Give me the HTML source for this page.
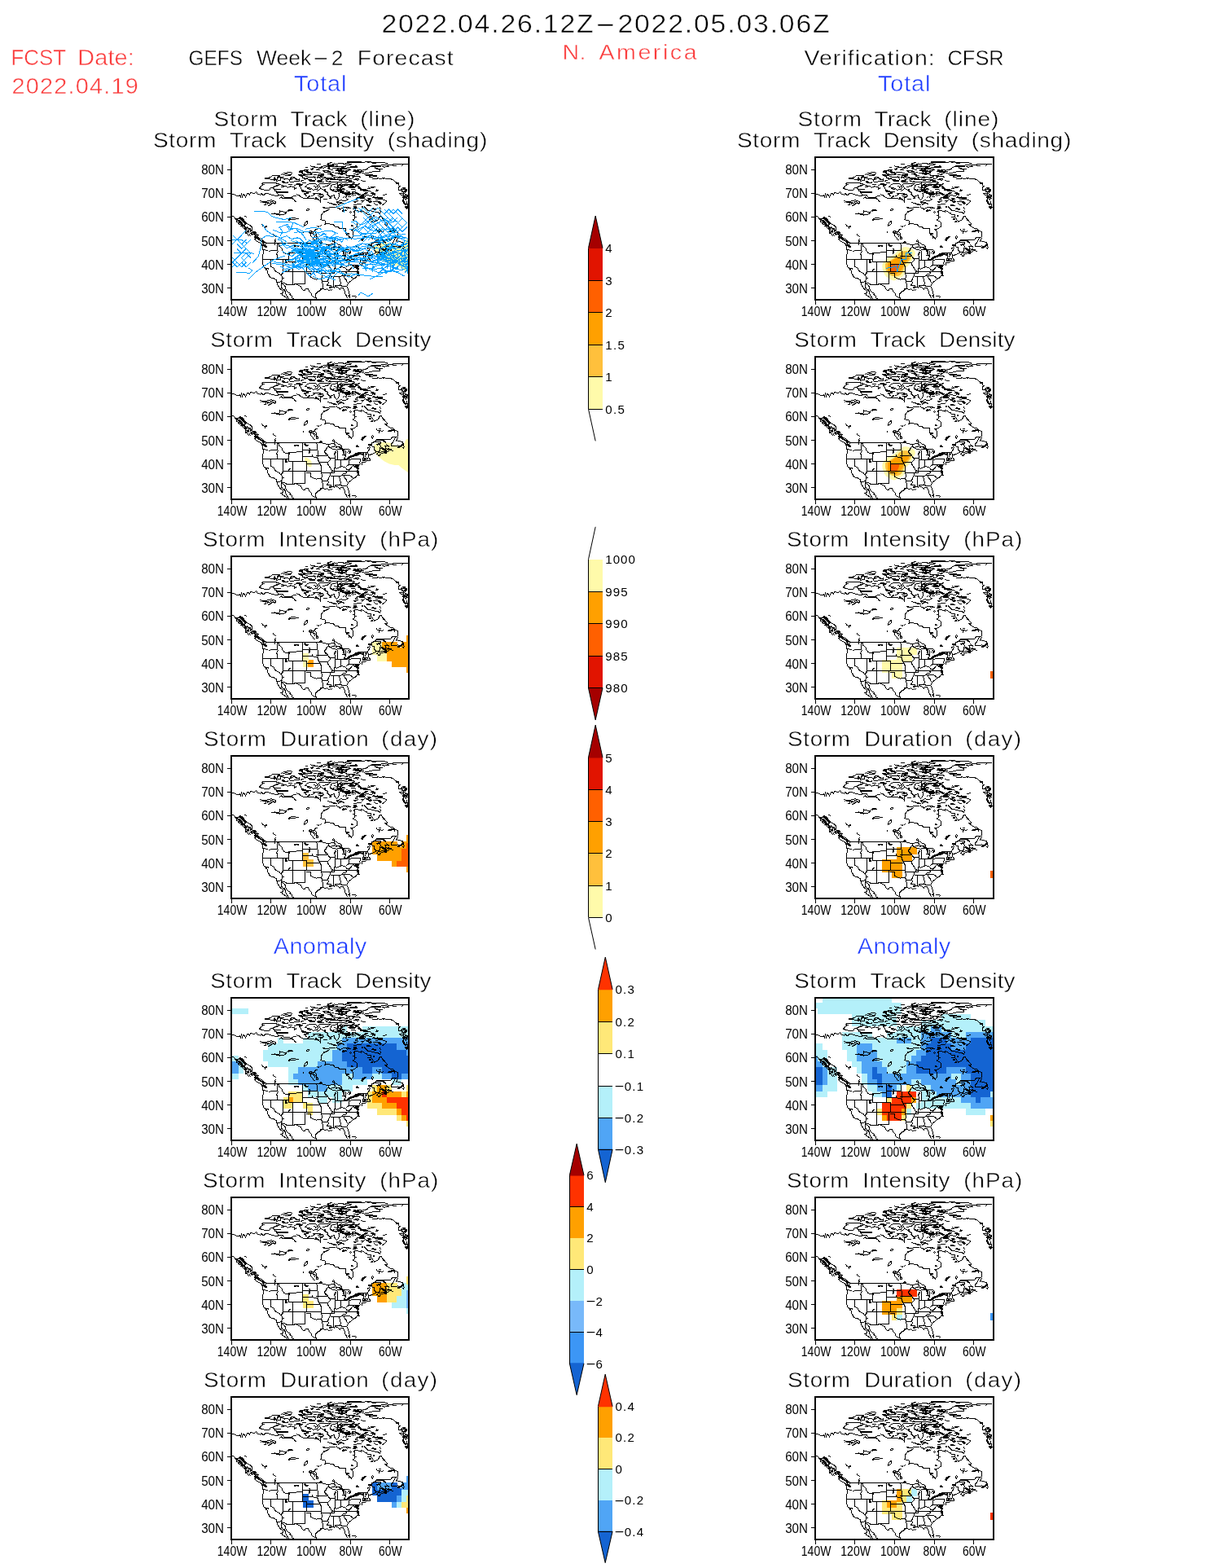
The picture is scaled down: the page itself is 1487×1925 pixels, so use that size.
<!DOCTYPE html>
<html lang="en">
<head>
<meta charset="utf-8">
<title>GEFS Week-2 Forecast - Storm Track - N. America</title>
<style>
html,body{margin:0;padding:0;background:#fff;}
body{width:1487px;height:1925px;overflow:hidden;}
svg{display:block;font-family:"Liberation Sans", sans-serif;}
text{stroke:#fff;stroke-width:0.45px;paint-order:fill stroke;stroke-linejoin:round}
text.s{stroke:none}
.fr{fill:none;stroke:#000;stroke-width:2;shape-rendering:crispEdges}
.tk{stroke:#000;stroke-width:1;shape-rendering:crispEdges}
.cl{fill:none;stroke:#000;stroke-linejoin:miter;stroke-linecap:butt;shape-rendering:crispEdges}
.st{fill:none;stroke:#000;stroke-width:1;shape-rendering:crispEdges}
.tr{fill:none;stroke:#00a0ff;stroke-width:1;stroke-linejoin:round;shape-rendering:crispEdges}
.cb{stroke:#000;stroke-width:1;fill:none}
.c{shape-rendering:crispEdges}
</style>
</head>
<body>
<svg width="1487" height="1925" viewBox="0 0 1487 1925">
<rect width="1487" height="1925" fill="#fff"/>
<g id="titles">
<text y="39.8" font-size="31.25" fill="#000"><tspan x="468.4" letter-spacing="1.70" textLength="262.1" lengthAdjust="spacingAndGlyphs">2022.04.26.12Z</tspan><tspan x="730.3" dy="-1.3" textLength="26.3" lengthAdjust="spacingAndGlyphs">-</tspan><tspan x="758.4" dy="1.3" letter-spacing="1.70" textLength="262.1" lengthAdjust="spacingAndGlyphs">2022.05.03.06Z</tspan></text>
<text y="80" font-size="26.74" fill="#fa3c3c"><tspan x="13.4" textLength="67.1" lengthAdjust="spacingAndGlyphs">FCST</tspan> <tspan x="95.2" letter-spacing="0.14" textLength="69.8" lengthAdjust="spacingAndGlyphs">Date:</tspan></text>
<text y="115" font-size="26.74" fill="#fa3c3c"><tspan x="14.4" letter-spacing="1.12" textLength="156.6" lengthAdjust="spacingAndGlyphs">2022.04.19</tspan></text>
<text y="72.7" font-size="26.45" fill="#fa3c3c"><tspan x="690.6" letter-spacing="0.14" textLength="28.9" lengthAdjust="spacingAndGlyphs">N.</tspan> <tspan x="735.4" letter-spacing="2.38" textLength="122.8" lengthAdjust="spacingAndGlyphs">America</tspan></text>
<text y="79.7" font-size="26.31" fill="#000"><tspan x="231.6" textLength="66.3" lengthAdjust="spacingAndGlyphs">GEFS</tspan> <tspan x="315" textLength="67.2" lengthAdjust="spacingAndGlyphs">Week</tspan><tspan x="383.3" dy="-1.1" textLength="21.3" lengthAdjust="spacingAndGlyphs">-</tspan><tspan x="406.8" dy="1.1">2</tspan> <tspan x="438.8" letter-spacing="0.98" textLength="119" lengthAdjust="spacingAndGlyphs">Forecast</tspan></text>
<text y="79.7" font-size="26.31" fill="#000"><tspan x="987.4" letter-spacing="1.04" textLength="161.5" lengthAdjust="spacingAndGlyphs">Verification:</tspan> <tspan x="1163.5" textLength="69.2" lengthAdjust="spacingAndGlyphs">CFSR</tspan></text>
<text y="111.9" font-size="26.74" fill="#1e3cff"><tspan x="360.9" letter-spacing="0.82" textLength="65.4" lengthAdjust="spacingAndGlyphs">Total</tspan></text>
<text y="154.9" font-size="26.02" fill="#000"><tspan x="262.4" letter-spacing="0.82" textLength="79.4" lengthAdjust="spacingAndGlyphs">Storm</tspan> <tspan x="356.5" letter-spacing="0.23" textLength="70.4" lengthAdjust="spacingAndGlyphs">Track</tspan> <tspan x="442.3" letter-spacing="0.87" textLength="68.1" lengthAdjust="spacingAndGlyphs">(line)</tspan></text>
<text y="180.9" font-size="26.02" fill="#000"><tspan x="187.9" letter-spacing="0.59" textLength="78.1" lengthAdjust="spacingAndGlyphs">Storm</tspan> <tspan x="282" letter-spacing="0.20" textLength="70.3" lengthAdjust="spacingAndGlyphs">Track</tspan> <tspan x="367.8" textLength="91.4" lengthAdjust="spacingAndGlyphs">Density</tspan> <tspan x="475.7" letter-spacing="0.63" textLength="123.3" lengthAdjust="spacingAndGlyphs">(shading)</tspan></text>
<text y="1171.3" font-size="26.74" fill="#1e3cff"><tspan x="335.8" letter-spacing="0.30" textLength="114.7" lengthAdjust="spacingAndGlyphs">Anomaly</tspan></text>
<text y="425.8" font-size="25.73" fill="#000"><tspan x="258.2" letter-spacing="0.59" textLength="77.3" lengthAdjust="spacingAndGlyphs">Storm</tspan> <tspan x="351.6" textLength="68.4" lengthAdjust="spacingAndGlyphs">Track</tspan> <tspan x="436" letter-spacing="0.11" textLength="93.5" lengthAdjust="spacingAndGlyphs">Density</tspan></text>
<text y="670.8" font-size="25.73" fill="#000"><tspan x="249" letter-spacing="0.54" textLength="77" lengthAdjust="spacingAndGlyphs">Storm</tspan> <tspan x="342.2" letter-spacing="0.45" textLength="107.8" lengthAdjust="spacingAndGlyphs">Intensity</tspan> <tspan x="466.2" letter-spacing="0.93" textLength="73" lengthAdjust="spacingAndGlyphs">(hPa)</tspan></text>
<text y="915.8" font-size="25.73" fill="#000"><tspan x="250" letter-spacing="0.66" textLength="77.7" lengthAdjust="spacingAndGlyphs">Storm</tspan> <tspan x="344.3" letter-spacing="0.44" textLength="108.8" lengthAdjust="spacingAndGlyphs">Duration</tspan> <tspan x="468.3" letter-spacing="1.26" textLength="70.1" lengthAdjust="spacingAndGlyphs">(day)</tspan></text>
<text y="1212.8" font-size="25.73" fill="#000"><tspan x="258.2" letter-spacing="0.59" textLength="77.3" lengthAdjust="spacingAndGlyphs">Storm</tspan> <tspan x="351.6" textLength="68.4" lengthAdjust="spacingAndGlyphs">Track</tspan> <tspan x="436" letter-spacing="0.11" textLength="93.5" lengthAdjust="spacingAndGlyphs">Density</tspan></text>
<text y="1457.8" font-size="25.73" fill="#000"><tspan x="249" letter-spacing="0.54" textLength="77" lengthAdjust="spacingAndGlyphs">Storm</tspan> <tspan x="342.2" letter-spacing="0.45" textLength="107.8" lengthAdjust="spacingAndGlyphs">Intensity</tspan> <tspan x="466.2" letter-spacing="0.93" textLength="73" lengthAdjust="spacingAndGlyphs">(hPa)</tspan></text>
<text y="1702.8" font-size="25.73" fill="#000"><tspan x="250" letter-spacing="0.66" textLength="77.7" lengthAdjust="spacingAndGlyphs">Storm</tspan> <tspan x="344.3" letter-spacing="0.44" textLength="108.8" lengthAdjust="spacingAndGlyphs">Duration</tspan> <tspan x="468.3" letter-spacing="1.26" textLength="70.1" lengthAdjust="spacingAndGlyphs">(day)</tspan></text>
<text y="111.9" font-size="26.74" fill="#1e3cff"><tspan x="1077.9" letter-spacing="0.82" textLength="65.4" lengthAdjust="spacingAndGlyphs">Total</tspan></text>
<text y="154.9" font-size="26.02" fill="#000"><tspan x="979.4" letter-spacing="0.82" textLength="79.4" lengthAdjust="spacingAndGlyphs">Storm</tspan> <tspan x="1073.5" letter-spacing="0.23" textLength="70.4" lengthAdjust="spacingAndGlyphs">Track</tspan> <tspan x="1159.3" letter-spacing="0.87" textLength="68.1" lengthAdjust="spacingAndGlyphs">(line)</tspan></text>
<text y="180.9" font-size="26.02" fill="#000"><tspan x="904.9" letter-spacing="0.59" textLength="78.1" lengthAdjust="spacingAndGlyphs">Storm</tspan> <tspan x="999" letter-spacing="0.20" textLength="70.3" lengthAdjust="spacingAndGlyphs">Track</tspan> <tspan x="1084.8" textLength="91.4" lengthAdjust="spacingAndGlyphs">Density</tspan> <tspan x="1192.7" letter-spacing="0.63" textLength="123.3" lengthAdjust="spacingAndGlyphs">(shading)</tspan></text>
<text y="1171.3" font-size="26.74" fill="#1e3cff"><tspan x="1052.8" letter-spacing="0.30" textLength="114.7" lengthAdjust="spacingAndGlyphs">Anomaly</tspan></text>
<text y="425.8" font-size="25.73" fill="#000"><tspan x="975.2" letter-spacing="0.59" textLength="77.3" lengthAdjust="spacingAndGlyphs">Storm</tspan> <tspan x="1068.6" textLength="68.4" lengthAdjust="spacingAndGlyphs">Track</tspan> <tspan x="1153" letter-spacing="0.11" textLength="93.5" lengthAdjust="spacingAndGlyphs">Density</tspan></text>
<text y="670.8" font-size="25.73" fill="#000"><tspan x="966" letter-spacing="0.54" textLength="77" lengthAdjust="spacingAndGlyphs">Storm</tspan> <tspan x="1059.2" letter-spacing="0.45" textLength="107.8" lengthAdjust="spacingAndGlyphs">Intensity</tspan> <tspan x="1183.2" letter-spacing="0.93" textLength="73" lengthAdjust="spacingAndGlyphs">(hPa)</tspan></text>
<text y="915.8" font-size="25.73" fill="#000"><tspan x="967" letter-spacing="0.66" textLength="77.7" lengthAdjust="spacingAndGlyphs">Storm</tspan> <tspan x="1061.3" letter-spacing="0.44" textLength="108.8" lengthAdjust="spacingAndGlyphs">Duration</tspan> <tspan x="1185.3" letter-spacing="1.26" textLength="70.1" lengthAdjust="spacingAndGlyphs">(day)</tspan></text>
<text y="1212.8" font-size="25.73" fill="#000"><tspan x="975.2" letter-spacing="0.59" textLength="77.3" lengthAdjust="spacingAndGlyphs">Storm</tspan> <tspan x="1068.6" textLength="68.4" lengthAdjust="spacingAndGlyphs">Track</tspan> <tspan x="1153" letter-spacing="0.11" textLength="93.5" lengthAdjust="spacingAndGlyphs">Density</tspan></text>
<text y="1457.8" font-size="25.73" fill="#000"><tspan x="966" letter-spacing="0.54" textLength="77" lengthAdjust="spacingAndGlyphs">Storm</tspan> <tspan x="1059.2" letter-spacing="0.45" textLength="107.8" lengthAdjust="spacingAndGlyphs">Intensity</tspan> <tspan x="1183.2" letter-spacing="0.93" textLength="73" lengthAdjust="spacingAndGlyphs">(hPa)</tspan></text>
<text y="1702.8" font-size="25.73" fill="#000"><tspan x="967" letter-spacing="0.66" textLength="77.7" lengthAdjust="spacingAndGlyphs">Storm</tspan> <tspan x="1061.3" letter-spacing="0.44" textLength="108.8" lengthAdjust="spacingAndGlyphs">Duration</tspan> <tspan x="1185.3" letter-spacing="1.26" textLength="70.1" lengthAdjust="spacingAndGlyphs">(day)</tspan></text>
</g>
<g transform="translate(284,193)">
<polygon points="217,100.9 214.6,101.4 212.9,104.7 211.9,108.4 208.1,110.6 203.8,109.5 199.5,107.9 195.7,105.7 190.9,105.2 184.4,104.9 178,106.3 175,108.4 175.3,114 175.8,117 178,120.2 182.3,124 187.7,128.3 194.1,131.5 200.6,132.9 205.4,133.1 209.2,136.4 213.5,139.6 217,142" fill="#fffaaa"/><polygon points="90.2,123.5 93.4,124.3 97.2,126.7 98.8,129.4 98.8,134.2 97.2,135.6 95.1,134.8 92.9,133.1 91.3,132.6 91,129.4 90.2,126.7" fill="#fffaaa"/>
<path class="cl" stroke-width="1" d="M.8 45.1l2.2 0 1 1.1 1.6.2.9 1.1 3.5 0 .8-1.2.8 2.4 1-3.2.8 3.2 1.1-3.2 1.6.8 1.4 2.4 1.9-3 .2-1.2 1.9.2.8 1.7 1.4-2.8 2.1-.3.6 1.1 2.1 0 1.9-2 1.1 1.2.8 1.9 2.7.2.5.8 1.6-2.1 1.6 2 1.6.1 1.4-2 4-.1.8 1.1 1.9.1 1.1.8 3.2 0 .8 1.1 3.5 0 .8-1.1 5.7 0 .8 2 .8.6 7 0 1.1.5 2.1-.8 1.1-1.1 3.6 0M59.2 50.6l2.7-1.9.5 1.6 11.8 0 2.2 1.1 2.1 2.9 1.5.3M34.4 38.3l1.1-1.2 2.2-2.7 1.8-.9-1.8-1 .8-1.3 16.4 0 .5 1 2.4.3 1.4 1.4-2.2 1.3-3.2.6-2.2 1.2-3.2.4-1.1 2.1-.8 1-6.2 0-.8-.8-2.4-.3-1.3-1.1-1.4 0M51.1 37.1l1.6 2.7 1.1 1.6 1.6.6 1.1 2.7 1.3 1.6M51.6 37.1l2.2-1.6 3.2-1.1 2.2-.8 4.3.8 1.1 1.1-3.3 1.1 3.3-.3M52.2 39l7 1.1 1.6-.8M64.6 35.5l3.2.3 1.6 1.3 2.2-.5 1.6-1.1 1.6 1.1 2.1-.6 1.1 1.7-.5 1.6 2.5-1.6M76.9 34.4l3.1-.5M41.2 26.4l1.3-1.1 3.8 0 .8-1 1.9 0 1.3-2.1 9.4 0 0 1.5-1.6 1.3 6.5-.5-3.8 1.3-.5 2.7-4.9.8 1.1-2.4-2.7 1.1-1.3.5-.9-1.3-3.2.2-1.1-1.3-6.1.3M51.9 26.4l1.4-1.5 1 1.2-1.3 1.3-1.1-1M61.3 21.5l1.1-1.1 1.1.9 2.7.9 6.4 0 .6-1.5 1.6-1.3-2.7-1.1-2.2.5-4.8.5 1.6.9 3.2.1M60.8 25.3l3.8 1.1 4.8.2 1.6 1.4 1.1-1.4 2.1-2.1 2.7 0 3.1 2.9M71 28l0 1.9 3.8.5 5.2-1.1M61.9 29.3l1.6 1.9 6.4 0 0-1.1M35 53.4l1.9 0M36 55.4l2.7-1.1 4.9.1 1.1-1.1 3.2 0 1.1-1.1 1.6 1.1 4 1 0 2.2-.8 1.1-1.1-1.4-2.7-.2-.5 1.8-2.7.6-1.1 1.3M40.1 58.4l2.4-.3.5-2.1 2.7-.6-1 1.6 3.2-.5 1.1-2.7 2.6 1.6M139.2 8.1l4.3-.6 4.3 1.4-4.3.5M117.7 9.7l8.6-.6 7.5-1.6 5.4.6M149.9 11.3l4.3-.5M105.3 15.6l2.7-2.7 3.2-1.3 6.5-1.9M112.3 14l2.7-1.9 3.7-.5 2.2 1M83.2 17.2l3.8-1.1 5.4 1.4 5.4 1.1 1.6 2.4-8.1.3-4.3-1.4-1.6-1.9-2.2-.8M101.5 18.6l3.2-.3 4.4 1.6 5.3.8M112.3 16.1l8.6 1.1 1.1 1.6-7-.2-2.7-2.5M130.6 17.8l8.6 0M149.4 17.2l10.6-1.6M149.9 20.4l5.4 1.1 4.7-3.7M82.2 21.5l4.3 2.2M120.9 21.5l6.4 1.1M119.8 20.4l6.5-2.6M94 24.7l7.5-.5 2.2 2.7-1.1 2.4-6.5 0-2.1-2.4M80 27.4l3.8-.5-.6 2.2-3.2.5M85.4 29.6l3.2-1.6M105.3 24.2l2.7.5 2.1 2.2 2.2 1.1M106.9 28l5.4.5M113.4 24.7l4.3 1.1 6.4 2.2M123 23.7l5.4 1 5.4-.5 7.5 1.1 3.3-.6M124.1 27.4l7 .6 15.1-1.1 2.7-1.1 1-2.7-8.6-.5M115.5 26.9l1.1 2.7 5.4 1.1 8.6.2 3.2-.8 6.5 1.1 7.5-.5-1.1-1.6-2.1 1M141.3 22.6l10.3.5-1.1 2.2M107.4 33.4l1.7-1.1 12.9 0-4.3 3.2-5.4 1.1M107.4 33.4l1.1 3.2 1.6 2.1 4.3 2.2 3.3 2.1M80 33.9l7-.3-1.1 1.4-2.7-.6 2.2 3.3 1.6 3.2 1.6 1.6 9.2 0M90.2 36.6l2.7-2.7 4.3-1.6 6.5 0 1.6 2.1 1.6 2.7-1.6 2.2-4.9 1-2.6-2.1-3.8-1.1-3.8-.5M101.5 35l2.7 1.6-.5 1.1M121.4 38.7l1.1-3.7 2.2-1.6 5.3-.6 1.6 2.7-1 4.3M130 30.1l1.1 12.9M136.5 33.4l15.1-.3 3.7 1.9 4.7 3.7M104.7 42l4.4-2.7M115 42l3.7 1.6-1 1.6 4.3 4.3 1-2.2 3.3-.5 1 3.8 2.2 2.1 2.1-2.1 1.1-3.3-1.1-3.2 6.5-.5 9.7.5 1.1-2.1 1 2.1 5.4 1.1 4.7 3.2M139.2 45.7l3.2 1.1-2.1 2.7 2.6 2.1-2.6 2.2-5.4-1.1-5.4 2.2 2.1 3.2 4.4-2.1 3.2 2.1M80 45.7l3.2 1.1 1.6 1.6 4.3 2.2 12.4 0 2.2 1 2.1-1 3.3 3.7 0-5.9 4.3-.5-1.1-2.2-5.4-1-3.8 0-3.2 2.6-1.6 0M90.8 44.7l1.6 3.7M95.1 47.3l1.6 0M118.2 55.4l3.8 1.1 3.2 1.6 4.3 1.1M146.7 47.3l2.7-2.6 0 3.2M152.1 51.6l3.2-2.1 4.7 1.1M152.1 51.6l3.2 1.7M149.9 59.2l2.7-1.1 7.4-.5M160.2 6.5l3.2 0 1.1-1.1 6.5 0 .5 1.1 13.5-.2 5.9 1 1.6 2.1 5.4.3.5-1.1 15.1 0 3.2.3M198.4 10.2l4.3.3M209.2 10.5l1.6-1.1M184.4 10l6.5-.3 2.1 1.9-5.3.5-2.2-.8M160.2 16.1l3.8-.5 6.4-3.8 2.2-1.3M163.4 20.4l2.2-1 7-.8 1.1-1.1 8.6-.3 0-1.6-1.6-.8 4.8-.5M173.1 26.4l6 0 1-1.1 1.1 1.1 3.8-.3 1-.8 1.1 1.3 1.1-1.3 1.1 1.1 6.4 0 1.1 1 2.2.3 2.6 3 3.3 1 1.1 3.3 1.6.5-2.2 1.6 0 3.2 1.6.6 2.2-2.2 1.6-1 4.8 2.1M207.6 39.8l2.1.5-.5 2.2 5.4 0-2.7 2.2-4.9 0 1.1 1.6 2.7 0M160.2 39l4.9.8 3.7 1.6 3.3 1.1M173.7 48.4l4.3 1.1 4.3.5 4.3 2.2 3.7 1.1.6 1-3.2 2.7-2.7 2.2M160.2 47.9l2.2.5 2.1 3.2 3.3 2.2 3.7 1.1M159.7 56.5l2.7-3.2 2.1-.6M166.1 52.7l2.2-.5 3.2 1.6 1.1 1.1-3.8.5M174.2 54.9l3.8 0 4.3 0 2.7 2.1M175.3 56l1.6 2.1 3.2.5M.8 72.4l1.9.2 2.1 2.5 4.3.2 2.2-1.9 1.6 1.1 3.2 3.3 2.7 3.7 3.8 1.6 2.7 2.7.5 3.3-1.1 1 2.2 1.6 2.2-.5 2.1 3.2 1.6 2.7-.5 1.6 3.2 1.1 2.2 1.1 2.1 1.6 2.2 2.7.5 2.1M28 100.3l3.2 2.7 3.2 1.7 2.7 1.6.6 2.1M17.2 90.7l3.2-.3-1.6 1.9 2.7 4.3M17.2 90.7l0 2.7 2.2.5M16.1 72.1l2.7 1.1M37.7 108.4l1 3.2.6 2.2.5 3.2-1.1 3M37.7 113.3l3.7 0 1.1 1.6 5.4.2 1.1-1 7.2 0M42.5 105.5l37.5 0M56.2 105.5l0 8.6 1.4 1.3-2.2 3.2.6 1.4M57.8 105.7l.8 3.3 3.3 2.6 1 3.3 2.2 2.7 1.6.8 3.2 0 1.1-1.4 9 0M71 117l0 3M37.1 82.1l1.6 2.1 2.7 1.6 1.6-1.3 1.1 1.1M41.4 85.8l0 1.9M51.1 94.2l.5 1.6 3.3 1.6M54.9 100.1l-1.6 1.9 1 1-1 1.7 0 2.9M49 69.6l4.3-.2.5-.8 1.6 1.4 3.2 0 1.1-1.9-.5-2.7 1.6 1.3 2.7-.2 1.1 1 3.2 0 1.6-2.1 2.7-1.1 3.8 1.1M59.2 71.3l1.1-1.3 4.3.2 2.6-1.6 1.1-1.1M69.9 77.2l2.2-1.6 2.1-1.3 2.7 0 3.1 1M72.1 76.1l3.2.3 4.7-.5M112.3 61.3l2.7 1.1 4.3.3 2.1-1.4 6.5-.2M120.3 62.7l-.5 1.6-2.1 1.1-3.3 1.6-2.1 1.6-1.9 3 0 4.5-1.3.3M110.4 76.1l1.3 1.4 2.7 0 1.1 1.3 0 3.3-1.1.2M115.5 82.1l1.6-.6 3.2 0 1.1.8 3.3 0 1 1.1 1.6 1.6 3.3.3 2.1 2.1 8.1.3 0 5.7 1.1 2.1 2.7 1.6-.3 2.2 1.3-1.6 1.6 2.6 1.1-1.6 1.1-1-.5-1.7.5-1-.5-4.9-1.7-1-.5-.9 2.7 0 2.7-1.3 2.1-1.6.6-3.2-1.1-2.7-1.6-.8-2.2-1.4 1.7-1.6 0-2.2 2.1 0M151.6 73.4l0-1.8-2.2 0M151.6 71.6l0-3.5-1.1-.8 1.6-1.9 2.1.5 3.8.3 1.1 1.1.9-1.9M129.5 60l.5 2.2 2.2.5 1.6 1.6 1.6-1.6 2.7-1.1 6.5 0 1 .8-3.2.8-1.6-1M136.5 65.9l1.6-1.3 1.6.8 1.1-1.1.5 1.1-4.8 1.1M145.4 67.5l1-1 1.1 1-1.1 1.1-1-1.1M92.1 64.6l1.3-1.1 2.2 0 0 1.3-1.6.8-1.6-.2-.3-.8M89.1 84.2l1.1-2.7 1.1-1.9 2.1-1 .3 1.8-1.1 2.2-1.8 1.1-1.7.5M105.3 84.5l1.6 1.1 1.1-1.1M109.3 84.5l1.4-1.4M95.3 92.8l.8-2.1 1.7-.3 1 1.3 2.7 0 1.6-2.6 1.1-1.1 1.6.5M103.1 89.1l-.5 2.1 1.1 1.6 1 1.6.3 3.3 1.9 1-.3 1.6-1.9.6-.2-3.2M97.2 94.4l.6 2.7 2.1 1.6 1.1 2.2 1.6.5M98.3 93.4l3.2 1 2.2 1.1M99.9 92.3l1.6 2.7 1.6 2.7M80 105.5l29.3 0M111.7 106l3.3.8 2.7.8 2.1.3M119.8 107.9l3.2-1.1 2.7-.5 1.1-1.6-1.3-1.7M124.4 102.8l1.1-1.4 1.3 1.4-1.3 1-1.1-1M126.8 104.7l2.7 1 1.1 1.1 3.2 1.1 1.1 1.1.5 2.6-1.1 1.7M125.7 106.3l1.6 1.6 1.1 2.1 3.2.6 2.2 1M119.8 107.9l-.5 2.1 1.6 1.6 2.1 1.1 2.7.6 2.7 1 2.2-.5 3.2-.5 2.2.5 3.2-.5 5.4.5 1.6 1.6.5 2.2-2.1 1M122 111.1l3.7-.3 1.1-1.3M128.4 111.6l5.4-1.6M119.3 110l-2.2 1.6-.5 2.2-1.6 1.6-.6 1.6 1.1 1.6.5 1.4M127.3 116l1.1 1-1.1 3M130.6 114.9l-.6 5.1M137 116l1.6 1-.5 3M140.3 115.4l.5 4.6M143.5 114.9l2.1 2.1-1 1.6M87.3 105.5l0 14.5M80 116.9l7.3 0M87.3 114.3l18 0M104.5 105.5l.8 2.9.5 5.9 1.1 2.2 0 3.5M160.2 65.5l2.7 1.5 1.1 1.3 2.1.3 1.1 1.6 4.3 0 .3 3.8 1.3 1.3 1.6 2.5 1.1 1.3 1.1-.8 3.2-1.1 1.1-2.1 1.1-2.2 2.1-.3 1.1 2.5 2.2 2.1 1.6 2.2 1.6 1 .5 1.7-2.7.5 2.2 1.6 1.6 1.1 1.6 1.6 2.7.5 2.7.8 1.6 1.9 2.7 1.1 1.1 1.6-.6 1.6.6 2.7-1.1 1.1-2.2 0M200.6 90.1l0 2.7M201.6 98.2l-3.7.3-2.2 2.7-2.7.2-13.9 0-1.7 1.6M177.4 103l-2.1 1.7-2.7.5-.5 2.1-3.8 0M201.6 98.7l-1 2.2-1.1 2.1-1.1 2.2-1.6 1.6-.5 2.2 2.1.2 5.4 0 .5-.8 1.1 1.1 2.7-.5 1.6-1.7 1.6-.5-1-2.1-2.7-.9-3.3-.2-.5-1.1-1.1.5 1.1-2.1.5-2.2M209.7 110.6l1.6 1.6 1.1-1.6-1.1-2.2M179.1 103l3.2-.5 3.2 0 2.2 1.1 2.1 1.6M173.7 106.3l1.6-1.6 2.7-.6 4.3.3 1.6.8-.5 1.6-2.2.5-2.7.6M172.1 107.3l.5 2.7 2.7.3.5 4 1.6 1.7 3.8.2 1.6-1.3-.5-2.2 1.1-2.1-.6-2.2M188.7 110.6l2.2-1.4 1.1.3M184.4 116l3.3 1 3.2-.5 2.1-.5 1.7-2.2M178 120l2.1-2.4 4.3.5M182.3 119.7l3.2-1.1M172.1 107.3l-1.7 2.2-1.6 2.1-1.6 1.1M170.4 111.1l-1.6 3.8-1.6 2.1-7 .3M162.4 117.6l.5 2.4M165.6 118.1l.5 1.9M172.1 97.9l1.3-1.6 1.3 1.6-1.3 2.4-1.3-2.4M178 88.2l1.3 1.9 1.9.8.5 1.6 1.1-1.8 2.2.8 1.9-1.1M180.7 89.1l1.6-.9 1.6.3M162.9 60.5l3.2 2.7 2.2 2.2 3.2.5 4.3 1.1 3.3.5 3.2 1.6 1.6-2.6-1.6-1.1M182.3 61.1l1.1 3.2M39.5 117l0 1.9-1 .5 0 5.7M38.5 125.3l0 6.2 1 .8 0 2.2 1.4 1.1 1.6 1.6.5 1.3 1.4.8 0 3 1.1 1.6.8 1.1 1 2.1 1.7 1.1 2.6 0 1.7 1.6 2.1 1.1.3 2.7.8.5 0 2.4 1.3 1.7 1.4 2.4 1.6 1.6 2.1 1.6.6 2.2-1.1 1.3-2.1 0M62.4 167.3l.3 1.9 1.9 1.1 2.1 1.6 1.9 1.9M43.6 136.1l1.9.5.2 1.1M43 137.4l1.1 1.1M38.5 125.3l31.4 0M48.4 125.6l0 8.9 3.2 1.1 1.7 2.9 1 1.6 2.7 1.6 2.2 1.1 1.6 2.2M63.8 125.6l0 15.1M63.8 140.7l-3 4.3 1.6 1.3.3 1.9 1.1.3-1.4 1.3-.5 1.6-1.6 1.6M55.7 153.6l4.6-.6M56.5 117l-1.1 1.6 1.1 1.1 0 5.6M64.6 117.5l2.1.8 3.8 0M70.5 118.3l0 10 9.5 0M75.6 128.6l0 27.4M64 140.4l16 0M61.3 154.1l3.8 0 3.2 2.4 9.2 0 .5-1 2 0M61.3 155.5l.3 4.5 1.3 1.7 2.2 1.6M61.9 155.5l2.7 1 2.1 3 .3 2.2.8 2.1 2.1 2.2 2.7 1.3-1 1.1 2.6 1.9.6 2.7 2.1.8M65.1 163.3l1.6 2.1 0 2.2 1.6 2.7 1.6 2.7.6.8M87.5 117l0 11.3M80 128.3l12.4 0M87.5 122.4l11.9 0 2.1.8 3.8.3 1.1 1.6.5 2.1 1.1 2.2 1.3 2.1.8 2.2.3 7M92.4 128.3l0 12.1M92.4 131.5l16.1 0M80 140.4l30.4 0M110.4 140.4l.3 1.9M90.8 140.7l0 14.8-10.8 0M92.1 142.3l5.1 0 .6 5.4 1.6.5 2.1 1.1 2.7.8 1.6-.3 2.7-.5 1.9 0M110.4 142.3l.8 2.7.3 2.1-1.1 2.2 1.3 2.7 0 2.7 1.1 2.1-.5 2.7.5 1.6M110.7 142.3l11.3 0M111.7 152.2l7 0M99.4 120.2l.2 1.9M106.4 117l0 4-1.1.6 1.6.8M106.4 121.2l11.3 0M114.4 117l2.2 2.2 2.1 2.1 1.1 2.2 1.6 1.6-.2 1.6-1.9 1.9-1.6 1M108 129.6l9.7 0M117.7 129.6l1 2.5 2.2 3.2 2.1 3.8 1.7 1.6M120.9 124.5l6.4 0M127.3 117l-.5 2.2.5 3.2 0 2.1 0 11.3-1 1.1.5 3.2-.5 3.3M124.7 140.7l-2.7 2.1-1.1 3.3-1.1 2.6-1.1 2.7.6 3.3-1.6 2.4 3.2.2 1.6.6.5 2.1M112.8 161.1l2.7 1.6 2.2-1 1.6 1.6 2.7-.6M123 160l2.7-.5 1.6 1.1M80 155.7l2.7 1.6 2.7 1.7 1.6 3.2 1.6 1.3 1.6-.2 1.1-1.6 3.2 0 1.6 3.2 2.7 2.7 0 2.1 1.6 1.6 2.7 1.1 1.6 1.1M104.7 173.5l-1.6-3.8.6-2.1 2.7-2.7 2.7-1.1 1-2.1 2.7-.6M125.7 147.1l0 12.4M122 146.1l13.4 0M122 142.3l4.8 0M126.3 140.9l29 0M132.2 146.3l1.1 4.1 1 3.7-.5 3.2M127.3 157.3l6.5 0M133.8 157.3l2.7 1.1 4.8.6 1.1-1.1M127.3 157.3l1.1 1.7 2.7 1 2.2 2.2 1-1.6 2.7-.6M137 160l1.6 2.7 1.1 2.7 0 2.2 1.6 2.1 1.1 3.8M142.4 159l1.1 3.7 1.1 2.7.5 3.2.5 2.2 0 2.7M148.3 170.3l3.8 0 1.6 1-1.6 1.1M135.4 146.1l2.7-1.1 5.4 0 3.2 1.1 2.7 3.2 2.2-.6M138.1 146.3l1.6 3 1.6 1.6 1.1 2.7 1.1 1.1M143.5 154.7l-1.1 3.2M155.3 145l-2.1 2.1-1.6 1.6-2.2 1.1-2.7 2.2-3.2 2.7M127.3 135.8l2.2 1.6 2.1-1 2.2-1.1 1.1-.5M134.9 126.7l0 8.1M127.9 126.7l11.3 0M134.9 134.8l4.3.5 1.6 1.6 1.1 1.6 2.7.6 2.1-2.2 2.2-2.7 1-1.1M140.8 135.3l2.1-2.2 3.3-.5M144.6 126.1l0 6 12.9 0M144.6 126.1l13.4-.5M158 125.6l1.1 1.6-1.6 2.2 1 2.7M139.2 140.7l2.7 1.6-1.1 1.1-3.8.5-2.1 2.2M149.9 133.1l1.1 1.7 3.2 1.6 1.1 2.1M156.4 145.5l1.6 0M130.6 117l0 8.6M136 120.2l3.2.6 1.1 1.6-1.7 2.1.6 2.2M138.1 117l-1.1 2.2M142.4 117l-.5 1.6M162.4 117.5l0 6.5-1.1 1.6 0 2.2M162.4 118.1l5.4-.6.5 3.8.5 2.7 1.1 1.6 1.1 1.1-1.6 1.1-3.3 0-1.6 1.8-3.7 0-.6 3M168.3 121.3l3.2-1.3 4.3-1.7 2.2-1.3M164 119.2l2.1.5-1.6 1.6-.5 1.6M162.9 124l4.3 0 .6 1.6M179.3 118.6l1.4 2.7 1.6 0 1.1-2.1 3.2-1.1 4.3-.6M118.2 20.4l5.7-.1M122.6 21.1l2.8 0M132.4 26l2.4-.3M137.5 8l5.9 1.9M134.3 21.8l2.6-.9M124.3 8.4l2.7-.5M84.4 18.1l3.8.9M123.5 22.4l4 .4M118.6 13.7l6 2.1M149.2 24l3.3-.6M105.1 8.7l5.1-.4M149.7 16.3l5.9 1.4M154.8 18.3l5.9-.4M87.8 22.1l5.2-.8M89 15l5.8 1M91.4 12.9l2.4-.7M145.8 11.3l4.2-.2M97.3 24.6l2.5.2M91.3 17.1l2.9-.5M106.3 28.2l2.9-.2M150.4 22.4l2.4.8M99.1 13.2l5.1-.6M105.7 8.8l2.4.1M101.4 21.4l3.5-.1M158.7 18.6l4.3 1.1M96.6 10.7l5.7 1.3M102 11.6l4.9 1.5M152.6 21.5l3.7-1M101.1 23.9l3 .7M129.7 14l2.7.5M126.7 27.5l4.5-.7M117.7 8.5l2.7-.3M127.8 10.2l3.4.9M137.3 21l2.6-.8M83.7 22.3l3.9.6M88 20.1l5 1.4M141 23.9l5.1 1.5M110.1 23.4l5.7 1.5M115.4 26l5.4.3M132 16.2l4.3.3M88.4 22.3l6 1.6M140.3 16.3l4.9.3M117.2 27.1l2.4.4M84.4 21.4l3.9-.7M137.9 18.9l4.4 1.3M106.1 23.3l2.8-.7M154.5 22.8l3.7 1.1M108.2 23l2.8-.2M152.4 16.2l4.4-.5M92.9 18.9l5.3 1.3M138.9 29.8l3.1-.7M118.1 13.6l2.8-.2M132.1 18.9l3.2.7M160.6 17.9l2.3-.8M138.7 20.7l3.2.7M118.4 7.6l5.3-1M132.3 17.7l4.6.5M136.8 11.8l3.9-.9M82.9 18.3l4.8-1.1M103.8 15.3l4.8.1M131.2 25.1l3.5.8M156.6 24.3l2.5 0M132 28.8l3.6.2M152.3 26.1l5.8-.1M134.1 11.9l4.9 1.1M133.3 24.2l2.9.8M125 26l3.2.9M150.5 15.4l2.3-.1M126 25.4l4-1.3M146 11.1l3.3.7M86.9 31l5.4.7M111 26.9l5.8-1.7M70.4 27.5l3.2.5M93.8 27.4l5.4.2M75.5 24.9l5.3 1.5M69.7 33.3l5.8.1M90.1 21.6l4.1 0M91.9 18.5l5.9.1M80.4 32.4l4.3 0M96.7 19.2l4.2-.3M73.1 26.5l2.5-.1M84.7 23.7l2.8.2M68.9 22.1l4.7-.6M77.9 29.2l2.4.3M64.9 27.2l3-.6M87.7 25.9l3.5-.3M87.6 20.9l2.9.2M93.8 27.5l5.4.5M106 22.2l4.9 1.1M108.5 23.7l3.3 1M71.4 31.1l3-.9M104.6 25.6l5.2-1.4M134.2 33l2-.5M150.9 36.6l5.9-1.6M140.3 34.1l4.1.6M143.1 30.2l4.3-1M121.1 25.3l5.3 1.8M137.7 34.2l3.3 0M140.9 28.9l4.4-1.5M152.1 35.5l2.7-.1M154.4 28.5l2.7-.7M140.8 22.2l5.5 1.2M152.3 35.8l4.5-.3M146 30.1l5.9 1.2M125.5 36.6l5 .9M158.9 28.5l5.6 1.5M151.7 34.3l5-.4M153.4 23.1l3.3 0M148.3 32l3 .9M150 27.4l4.6.2M142 28.2l6 .6M152.1 34.2l5.9-2M146.9 33.8l3.1-.2M132.5 23.6l3 .8M143 30.1l5.9.3M145.9 34.1l2.1.7M119.6 29.5l2.7 0M171.3 36.5l5.8-.3M167.3 50.5l3.4-.5M173.4 49.6l3.2.5M149.5 54.6l3.6 1M162.6 47.4l5.9-1M167.1 59.4l4.9-.1M171 38l4.5-.1M167.3 38.2l3.8.5M163.9 41.8l4.3-.2M179.3 48.8l6 1.9M177.2 41.2l2.5.7M179.6 51.2l3.5-.5M174.9 49.7l4.3.4M178.2 39.9l3 1M155 46.1l4.5-1.3M168 36.9l2.3.3M168.4 51.4l3.5 0M152.1 43.9l5 1.2M180.8 51.2l5.1-1M162.4 41.7l5.2-.5M157.6 49.3l5 1.4M162.5 44.6l2.4.6M169.1 47.6l4.7-.7M152.2 52.2l2.4-.3M176.8 53l3.1-.7M159.2 53.9l3.4-1M176 49.8l5.7 1.7M185.8 46.4l5.3-.7M157.2 45.4l5.8 1.6M153.9 44.4l3.5-.3M161 45.1l2.8.1M180.3 49.1l5.3.2M150.5 54.7l5.5-.8M143.1 48.4l4.1.2M163.1 44.4l5.2-1.6M151.3 46.6l2.3-.7M156.6 48.4l2.4.2M140 45.9l4.6-.8M142.2 46.2l4.1.8M147 39.4l5.9.7M149.8 42.6l4.9.7M161.6 40.6l5.3.6M159.9 46.9l5.3 1.4M162.8 44.2l4.1.6M158.5 40.7l3.6-.9M146.5 36.7l2.8-.2M86.8 40.9l2.4.3M132.7 38.9l2.2-.1M120.4 50.5l2.1-.5M94.8 39.5l3 .4M121.1 39.6l2.7-.4M94 48.1l3.3.1M135.3 43.7l3 .8M141.5 41.5l4.2 1.3M113.9 39.5l2.2.7M134.3 42.2l4.1 0M125.1 39.8l2 0M106.8 48.7l4.8.4M93.1 38.5l3.3-.5M138.6 44.3l4.6 1.5M100.1 44.6l2.6.4M137.2 49.2l2.3-.4M128.9 37.6l3.9-.1M144.2 45.4l5.4-.8M133.5 42.7l5.7-1.7M135.9 39.3l4.2.1M93.1 49.3l3.2-.4M87.9 40.9l3.8.6M106 47l2.4-.2M112.6 51.5l5.3.5M128.4 39.8l4.3-.1M134.2 39.3l4.4-.6M107.1 44.6l3.2-.3M108.1 46.7l3-.7M129.8 41.3l5.8.2M129.3 41.3l5.3-1.5M12.4 79l1.9 2.6M12.8 81.4l2.5 2.6M10.2 77.9l1.7.6M22.1 87.4l3 2.3M23.9 92.9l1.7 3M20.5 87.7l2.4.6M19.8 89.6l2 3.3M29.4 97.5l1.3.9M17.8 87.5l1.5 1M23.4 93.4l2.4 2.6M10.8 82.1l2.7 2.6M18.7 87.3l1.1 1.5M41.5 107.6l1.6 2.9M11.6 84l2.8 1.2M9.8 77.7l1.8 2.4M16.4 88.1l1.9 1.6M8.9 81.7l.8 1.7M25.4 93.6l2.5 1.4M37.1 106.9l2.4 2.6M9.3 81.1l1 2M14.4 84l3.3 1.4M27.1 91.9l1.5.7M40.1 109.2l2.7 1.6M29.4 98.4l1.7 1.8M36.5 99.9l1.6 1.3M11.5 80.2l2.7 1.1M25.5 91.7l2.5 1.6M30.6 94.8l3 1.2M40.2 107.1l2.2 1.6M27.8 96.7l1.9 2.8M21.8 93.4l1.7 3.2M20.9 88.8l1.3 2.7M24.9 92.9l1.1 2.4M19 84.6l1.4 3M32 99.8l2.9 1.7M28.8 93.4l1.4 1.1M24.4 91.7l1 1.3M25.8 91.9l1.9 1.3M15.9 81.9l1.4 3.5M28.7 98.7l1.4 2.2M13.2 84l1.2 2.7M8.6 80.2l1.3 1.3M41.9 104.6l1.8 1M19.1 84.8l1.9 3.2M20.8 88.2l2.8.8M5.8 78.5l1.7 1.5M38 107.7l2.5 1.1M15.2 87l3.4 1.6M36.6 102.3l2.5 1M36 106l1.3 1.5M11.6 83.5l1.6.6M32.7 98.5l1.8 3.4M32.9 97.5l1.3 2.9M23.4 88.7l1.8 1M32.6 97.6l1.7.9M29 98.4l1.5 1.8M37.5 104.6l1.8 1.1M38.8 106.3l1.4 1.7M7.6 80.7l1.9 1.8M26.6 91.3l2.6 1.5M210.7 42.2l.5 1.6M215 54l.1 2.2M210 40.7l2.1 3.4M211.4 47.2l-.8 2.3M214.9 47.8l-.2 2.9M211.8 44.7l.2 3.5M210.9 48.3l.2 3.2M215.9 58.7l1.4 3.1M214.8 50.5l-.5 2.5M211.8 55l.2 2.1M212 41.3l1.4 2.4M211.9 50.4l-.8 2.8M214.4 40.1l.2 1.6M213.2 46.4l-.4 2.1M209.7 37.9l.1 3M215.1 54.9l.6 1.8M213.2 36.9l.2 3.1M212 42.4l-.4 1.7M213.8 40l-.2 1.9M211.9 56.1l.3 1.6M214.4 44.6l2 3.4M211.4 47.9l1.7 3.6M211.4 47l.6 1.6M215.9 57.2l.7 2.4M215.4 46l-.7 1.4M212.1 54.4l.7 2M214.6 49.1l-.9 2.5M213.7 44.7l-.1 3.9M212.7 36.9l1.5 2.7M211.5 44.3l0 3.7M195 113.2l1.5 1.9M189.1 111.5l1.9.8M187.7 109.3l1.9.5M188.2 109.1l2 1.1M195.5 114.7l3.5.9M190.9 108.5l3 1.2M190 107.6l1.8.6M188.8 112.2l3.2 1M190.5 108.7l3.5 1.5M193.1 113.6l3.7.2"/>
<path class="cl" stroke-width="1.6" d="M55.4 42.8l14.5.5M56 25.3l3.2-2.2M62.4 29.6l3.2.8M37.7 54.9l5.3.2M142.4 6.2l17.6 0M124.7 11.6l16.1 0M141.9 12.6l12.9-.5M108 13.4l4.3-1M124.1 13.4l17.2.6 5.4 1.6M85.9 18.3l2.2 1.1M97.2 14.5l3.2.8M105.8 22.1l8.6 0M113.4 16.4l6.9.5M128.4 16.1l5.4-.5 8.6 2.7M127.3 19.4l13 1M151.6 18.3l8.4-1.1M83.2 21.8l2.7 1.3M87 24.7l3.8 2.2 3.2-1.1M96.1 28.5l6.5.8M105.3 29.6l8.6 1.1M117.7 25.3l6.4 1.1M85.9 40.3l2.2 1.7M121.4 39.5l4.3 1.9 4.3 1.1M143.5 36.6l8.6.5M144.6 35l6.4.5M155.3 37.1l4.7 2.7M138.1 43.8l9.1.6M130.6 54.9l7.5 2.1M89.1 45.2l6-1.6M123 57l6.5 1.6M164.5 5.6l5.9.3M173.1 7l4.9.3M175.8 12.9l4.3 1.6M165.1 14.8l3.2-.8M168.8 24.2l5.4.3M201.6 31.7l3.8.6M214.6 47.3l2.1-1M213.5 50.6l3.2 0M176.9 49.5l8.1 2.1M160.2 49l2.7 1M180.1 55.4l4.3 2.2M165.6 58.6l3.8.6M23.1 86.9l.6 5.4M76.9 109.2l3.1 0M54.9 70l3.7.1M112.8 61.6l2.2.8M113.4 67l2.1-.3M141.3 93.9l3.3.3M137 66.2l2.2-.3M80 75.5l3 0M88.1 91.2l1 1.3M80 108.7l1.6-.3 1.1 1.4M89.4 108.2l1.1-.9 1.1 1.7 2.9.2M95.3 112.2l1.4 1.1-.6 2.7-.8 2.1M153.2 110.6l1.3-1.4 1.4 1.4-2.7 0M151 119.7l4.3-1.6 4.7-.8M167.2 73.4l4.3 0M169.4 76.1l2.1 0M171 79.4l2.7-.3M185 74.5l2.7 3.3M160.2 102.5l.3-2.7 1.3-1.3 2.2-.3-1.6 1.6-1.6 2.7M181.2 90.1l1.1 2.2M164.5 62.2l3.8 3.2M179.6 68.1l3.8.5M174.2 72.6l1.6-1.3M45.5 143.4l.8 1.6M66.7 126.1l0 2.5 1.1 1 1.1-1.3M69.9 139.9l2.7-2.7M95.1 118.3l1-1.3M161.8 126.7l2.7-.6 2.2.6"/>
<path class="cl" stroke-width="2" d="M117.7 10.5l8 0M131.6 33.4l5.4 2.1-3.2 2.2 1.1 3.2M103.1 49.5l4.9 3.2M172.1 10.8l12.3.5M164.5 21.5l14.6 1.6M210.8 38.7l5.4 2.2M210.3 49.5l6.4-1.1M210.8 51.6l1.6 5.4M210.8 53.8l3.8 5.4M160.2 40.1l5.9 1.3M5.4 76.1l4.3 2.2 2.1 3.2 4.3 3.8 2.2 2.1M10.8 74.5l4.3 4.3 3.2 3.8M26.9 92.3l3.2 4.3 2.2 3.2 5.4 3.2 3.2 2.7M41.4 109.8l2.2 0M69.4 65.9l4.8-1.1M69.9 76.9l1.7-.2M146.7 84.2l2.7-.5M149.4 76.9l1.1 0M149.9 60.5l4.3 0M149.4 63.8l3.2-1.1 1.6-1.1M133.3 111.6l3.7 2.2M136 114.3l3.2 1.1M116.6 111.6l1.1.6M192.5 91.7l3.2-1 4.3-1.1M204.3 111.1l2.7-.5 2.7-2.2 1.6-2.1M186.6 103l3.2 1.9M179.1 107.6l3.2-.3M168.3 107.9l3.2.5M167.2 111.6l1.1.6M160.2 60.8l2.2-.3M172.6 62.7l5.4 1.6M62.4 141.2l1.1 2.2M61.3 152.5l1.1.5M64.6 162.7l1 1.6M123.6 140.1l2.1.6M120.3 159.5l2.7.5M122.5 162.7l1.1.3M109.1 161.7l1.6.5M143.5 169.7l2.7.6M152.1 133.7l4.8 0M138.6 125.1l4.3 1M139.7 120.2l1.1 2.2M162.4 127.8l2.7-1.1M187.7 117.5l3.2 0"/>
<path class="cl" stroke-width="2.6" d="M171.5 43.6l5.4 2.1M96.1 92.3l2.2 1.1M109.3 103.6l2.4 2.1M183.9 111.6l3.8 2.2 3.2 1.6M192.5 112.2l1.1 2.1M213.5 60.5l3.2 2.7M154.2 134.8l2.2 3.7M154.8 138.5l1.6 7M142.9 125.1l3.8-2.7 8.1-2.2 5.2-2.1M160 120.2l2.4-1"/>
<path class="tr" d="M7.1 101.2l5.6 5.6 5.6-5.6-5.6 5.6 5.6 5.6M1.5 134.8l5.6-5.6-5.6-5.6 5.6 5.6 5.6 5.6M1.5 134.8l5.6-5.6 5.6 5.6 5.6-5.6-5.6-5.6 5.6-5.6 5.6 5.6M7.1 134.8l5.6-5.6 5.6 5.6-5.6-5.6-5.6 5.6-5.6-5.6 5.6 5.6M1.5 95.6l5.6 5.6-5.6 5.6 5.6-5.6 5.6-5.6 5.6-5.6M12.7 129.2l5.6 5.6 5.6-5.6-5.6 5.6-5.6-5.6M7.1 112.4l5.6 5.6 5.6-5.6-5.6 5.6-5.6-5.6 5.6 5.6 5.6-5.6M12.7 112.4l5.6-5.6 5.6-5.6-5.6 5.6-5.6 5.6 5.6-5.6-5.6 5.6-5.6-5.6M7.1 134.8l5.6-5.6 5.6-5.6 5.6-5.6-5.6-5.6-5.6 5.6-5.6 5.6-5.6 5.6 5.6-5.6M1 101l11 0 8 5M3 118l11-1 10 0 4 2M6 142l10-1 6 2 4-4-5-3M26 130l7-8 3-10 1-12 7-4 8 2M21 150l9-9 10-7 12-8 14-5M28.3 66.4l7.2 0 8.9.8 5.7 5.6 7.2 2 7.3 1.7 8.9-2.1M55.3 79.3l10.1.4 11.3.4 4.9 2.4 7.2 3.2M38 82l5 8 6 4 11 5 8 5M51 89l7 3 8 1 6-3 4-9M59 85l4 7-3 5M67 82l4 7 9-2 10 5 7-1M79 87l5 6 8-2M89.8 126.5l3-4.3 3.6-1.6 3.2 4.4 6.7-4.3 4.5-1.8M104.7 131.1l3.5-5 5.1-3 8-4.3 3.1 5.2 6.2-4.5 6.2-5.9M212 115.3l5-3.5M168.1 117.8l7.8 4.1 7.5-3 6.1-1.4 3.1-5.4 4.7-2.6 7.2 5.8 5.7 5.5M193.5 115.3l4.2-4.4 6.7 4 8-1.1 4.6 2.8M74 111.9l5.6 1.4 3.5 5.1 7.3-.7 7.5-5.2M90.8 122.9l6.7 1.6 5.8 5.7 4 1.1 3.1 4 7.4-4.3 7.5-3.9 8.9-3.2M59.1 108.9l4.5-1.6 3.8 4.4 5.1-1.2 6.5 4.3 5.5 4.4 6.1-.3 6.1-6.4M88.4 123.5l6.7-5.3 3.4 1.5 6.2-1 7.7 3.9M89.3 124.6l7.5 4.8 5.7 1.2 6-.1M171.5 121.6l7.2 4.4 8.6-3.1 6.4 5.1 8-4.5 3.8-.9 3.4-3.3M77.8 113.8l3.9 5.1 8.8-2.9 8.7-.7 5.9 6.4M78.4 118.1l4.2-2.5 7.3-6.1 6.3-1.1 3.2-2.4 6.7-.2 3.4 5.5 7.7 5.3M87.7 124.7l7.9 3.6 7 4.8 5.5-.1 6.1-.7M84.1 133.6l4.6-6.1 3.5-3.2 6.7-3.7 4.6-4.8M100.5 122.8l6.1-3.2 3.7-4 3.3-3.6 4.9-2.4 7.5-2.5M193.7 126.3l3 3.4 6.4-3.1 5.8 5.8M93.4 117.2l8.8-2.4 4.3-3.4 4.2 4.5 7.3-4.5 9 5.7 8-6M198.8 110.7l8.2 1.2 4.7-4 4.8-1.3M79.2 124.6l4.4 6.1 4.9-1.2 3-.8 5.8.6 4.2.6M87.5 125.6l3.2-2.4 4.4.9 6.1 3 7 2.5 8.3-1.4 4.9 5.8M85.2 114.5l7.4 4.1 3.9.6 6 4.3M174.8 124.5l3.8-2.5 3.7 3.2 6.3.6 6.8 1.3M212 118.4l5-4.8M187.9 121.9l4.4 1.2 5.8 3.5 3.4 4.3 4.8-6 6.8-4.3M178 130.6l3.1-5.2 4.6 2 7.1 2.1 4.8.2 5.8-.4M94.3 120.5l4.7-4.6 6.1 6.5 8.9-.9M189.9 103.1l8.7-5.1 8-.7 8.3 1.7M99.1 118.9l7.1-1.9 7.3-1.8 5.3-5.3M83.1 127.9l7.3 4 4.7-2.4 5.4 5.2 6.5-2.5 5.6-3.5 3.2-5.6M96.4 139.3l6.1-3.2 5.2 6.1 8.3 4.3 6.8-1.5M134.6 130.2l5.7 3.5 6.9-2 3.3 5.6M77.2 124l5.4-3.8 5.9 1.5 3.7 1.1 3.5-.6 7.8 0M176.3 132.6l4.4-4.6 6.4-3 5.2 3 4.2-6.6 8.2-2.2 7.5-4.2M88.2 116l7.1.9 7.7 4.7 3.6 5.3 5.3 2.3 5.6-1.7 7.9 6.2 3.8-.4M200.3 96l8.6 4.1 6.1-1.3 2 2.4M106.5 136.1l3.5 3.8 3-4 6.4-5M207.1 114.7l3.6-2.4 6.3-3.6M88.1 122.7l4.7-2.7 8.1-3.6 6.1 0 3.2-1.5 6.9-5.9 4.1 4.1 6.9-5.5M77.7 125.6l7.4-2.6 5.3-6.8 4.8 3.2 3.4-1 4.2 2.2 4.2-1.3M92.4 121.2l8.4-.4 8.5-5.6 6.5 4.9 3.4-5.9 6.5-1.3 7.3-3.9 5.7 2.3M91.7 124.6l6.9-.2 5.8-2.7 7.4 3.6 8.9-1.2M92.3 124.2l6.4 3.6 5.3 3.8 4.8 4.1 3.6 3 4.1 1 5.7-1.5M168.5 120.3l3.2-5.3 3.4 5.3 4.5 3.3 8.4-1.7M104 120.8l8.6-2.2 7.3 1.3 7.8 5.6 3.4 4.1 3.7 2.8M192.1 100.6l8.5-3.5 7.9 3.1 7.9 3.6.6-1.7M74.5 131l7.5-3.2 3.4-5.8 6.3-2.3M183.1 141.5l3.6 0 7.2-.7 4.4-1 6.8 2.1 7.5 4.2M207.4 131.2l5.3 2.3 4.2-3.6.1-4.7M138.9 113.7l6-3.8 7.8 1.2 9-5.3 5.8 3.2 8.1 4.4 3.2-3.1M100 138l5.2 3.7 5.7-3.6 7.6 4.7 3.7.4 6.7-4 5.2-5 4.2-3.7M182.5 112.5l7.1-3.5 4.9-3.2 7.7.9M97.7 126.6l6.9-2 4.6 5.1 7-1.7 3.3 2.2 8.3-1.8 3.1 2.4 7.9 1M64.3 131l3.7-4.4 6.5-1.2 7.6-4 3.3-3.8 7.9-.8 6.4 5.5M194.1 126.2l3.7-.3 7.8 5.4 4.2-4.6 7.2 5.5M212 125.5l5 3.4M181.1 113.6l3.2 4.6 3.9-2.4 3.9 4.9 7.9-4.4 8.3 3.4 7.1 1.4M77.8 127.2l6.5-.8 7-.6 5.6-5.7 6.7-.1 4.4 3.2M179.5 119.6l3.8-1.2 3.5-1 6.1-5.9 6.8-5.4 7.4 3 6.1-5.7M163.3 135l8.9 1.9 7.9-4.7 8.9-1 8.8 4M94.6 109.5l4 5.1 4.6 4.2 3.9.3M85.2 111l3.2-4.4 4 4.6 7.1 4.1 4 2.8 3.7-.2 6.8-2.3 8.2 0M176.1 111l7.9 1.6 1.3 3.6-.1 5.8M186.8 116l-.5 1.4 7.6-2.4 2.7-2.3M214 116.1l3-3.3M192.1 132.2l6.8-4.4-.5 1.8-2.7-5.9.9-4.8.9-3.3 3.4 1.1M200.4 132.1l-1.6 5.2-.3-4.2-1.9 1.7 6.6 3.3 1.4-2.8-2.9 1.8M186.6 116.8l-.3 4.9-2.5.3 1.4-3.1-2.3 3.3-2.9.6 7.4-4.3M200.7 131.7l2.6-5.2 3.9 5.9 4.9-.3 3-1.5 1.8 5-2.1 1.8M212.8 142l4-4.5.2 5.1M204.1 117.5l3.9 2.2 4.6 5 4.4-2.5M214 111.7l-1.1 4.9 4.1-3.6M209.2 136.8l.6-3.1 7 1.6.2 1.9M208.3 118.7l1.8 2.7 3.3-2.3-.7 1.4M214 129.3l-2.7-4.7 5.7-1.9M197.7 121.7l4.6 1.6 4.7 2.8-2.3 1.1M182.7 132.6l-1.8-3.6-1.8-5.6 6.4 3.8M182.3 107.5l-1.9-4.9 5.4-3.5.5-.9-2.8-2.9.1 2.5M189.5 125.8l3.8-5.6 1.5-.8 5.5-1.8 4.8.5-.7 4.3-2 3.8M196.3 120.4l5.4 5.7-3-.1 2.4 3.6-1-.1M184.1 133.9l.1-3.4 4.7 0-1.8 1.6-2.1 3.5 4.7 3.4M188.8 113.9l6.9 3 1.6 1.7 1.1-2.3 1.7.5-1.1 5.8 3.9 5.3M206.3 128.6l3.4.3 6.6-.6.7-2.1M179.6 123.2l-1.6-.5 6.8-3.1-.9-2.4 4.7 4.1-1.3-4.1M196.1 128l-.4 5.5-.1 5.4 7.9-4 4.3-3.6-1.4-4.3M193 127.2l-1.8 4.9.1 4.6 2.1-5.8 6.4-.8-.5 5.8M195.3 121.8l-2.9-3.1 6.4 2.4 3.4 1.8 6.3 2 4.2 4.6M186.8 110.7l4.1-.5.4 1.5-1.9-.9 5.6 2.5M190.3 115l2 1.5 1.5 2.1 7.2-3.8 4.2 3.3 1.3-.1 7.7-5.5M189.7 118.6l-1.9.9 3 2.6 2.6 1.6 6.1.3M173.4 131.7l1.3 3.1-1.6 5.9.9-5.4 0-1.2M207.4 120.8l3.4-4.7.3-1.2 5.9 5.7M214 119.2l-1.2 5.1-2.2 3.6-.9 1.7 4.9 3.8-1.4 2 3.8 3.5M164.6 135.6l.9 4.2 0-1.5-.2-.9-1-6M194.4 112.8l.5-.2 3.9-5 6.9-4.1.3-1.4M208.2 125.9l2.8-1.8 3.4 1.9-.7-5.2.3 1.3 3 4.3M89.5 128l7.4 3 3 3.9 5.6 2.8 6 3.9M89.6 113.7l6.2.3 6.4-.6 7.3.6 3.6-2.7M92 127.5l4.8-3.6 4.9 0 5.3 3.6M101.3 123.4l6 3.4 4.3-.8 7.7-4.3 5.9 1.4 2.1 1.1 6.1 4.3M75 135.4l6.6-3.6 3.3-.8 2.7-4.1 6-1.6 6.7.6 7.4-2.2M82.7 126.2l3.7 3.3 4.5 0 3.6.1M97.5 121.9l3.2 2.1 2.7 4.7 2.6 5M77.8 126.8l4.4-3.9 2.3 3.2 4.8 2.6 2.4 0 5.3-1.2 2.8 1.7M79.9 113.5l2.2 1.4 5.8-3.3 6 3.7M82.8 124.1l7.2-3.6 3.8 2.1 7.2-3.2M87.6 123.2l5.4-4.6 2.7 3.1 5.5 4.2M84.7 123.3l4.9-.9 2.6 1.4 3.3-3.4 2.1-5 6.1-3.8 7.8-4.1M88.9 121.1l6.3-2.6 6.4-3.1 2.3 2.7M82.4 113.4l5.8 2.1 4.8 4.3 3.5 4.7M85.8 122.3l4.3-1.9 5.6 4.6 7 1.1M78.1 134.1l6.1-3.5 6.8-1.4 5.8 1.3 4.5-1.1 6.8 4.4 6.7.7M96.6 102.5l8.2 2.8 3.1-4.2 8 1 8.9-3.1 5.3-1.4 7.6 1.6 5.7 2.3M100.4 111.3l4.8-4.4 8.3 6 3.9 5.7 7.8.5M160.6 121l6.2-.2 5.3 3.5 7.3 5.8 4.9-5.4 5.4 2.5 8.5 1.1 3.1-1.4M129.4 122.5l4.4 1 8.3 4.6 6.2-.3 6.5-3.7 4.2-3.8M150.5 115.2l5.5.2 3.8-5.4 9-1.5 3.7 1.6 7.7-4.2 6.6-1.8 6.1-5.8M62.4 141.6l6.6-3.4 8.5-2.7 3.6-.6 6.5 1.3 3.8 4.1 5.1 5.9 5.2-5.6M62.6 115.5l8.7 4.9 3.4 1.2 5.3-4.5 8.8-3 6.4 1.7 8.7 2.1M109.9 118.8l8.8 5.9 4.3-5.5 4.6-1.8 8.4 4.9M168.5 102l3.3-4.3 7.6 5.3 7-2.4 6.6 3.1 3.6-2.1 4.6-4.6 5.8 3M89.5 106l7.3-3.6 3.2 5.1 4.3 5.2M172.4 137.3l8.8 5.1 5.3-5.7 3.4 5.7 5-3.2M73.3 115.4l7.4-3.9 5.7 4.7 5.6-4.2 5.5-3 3.2.8M97.1 133.8l3.7-.6 5.9-4.1 6.1 1.6 7.7 5.1 6.4 4M73.7 131.7l9 6 8.5-4.8 4.8 4.7 3.3 2.7 4.8 5.8M60.1 133.9l5.7 3.5 8.6-2.6 5.2-5.5 5.4-2.7 4.1 4.1M126.9 109.7l6.6 3.9 8.3 2.8 7.6-3.9 3.8 2M141 108.1l3 2.3 6.1 4.1 8.5.2 5.1-2.6 6.9 5.3M69.9 117.2l8.3-2.8 4.1 4 5.2-4.1 5.2 1.2 3 .2 5.7.2M73.9 130l6.5 4.8 4.7-4.7 7.4-.7 3.2 3.7 3.8-3.1M69.7 126l4.9.7 8.7-5.8 8.6 2.9 4.5 4M142.1 119.5l3.6 4.4 7.3-5.4 3.7-.1 6-2.7M74.1 117l8.2-4.2 6.4 3 4 3.9 8.6-1.4M113.5 135.3l5.4 5.3 7.6-2 4.5-2 5.6 5.8 7.8 5 7.9-3.6 3.3.2M184.4 139.2l7-5.8 3.7-3.8 4.9-3.6 7-3.3M113.5 116.7l7.9 4.6 8.3-5.6 6.8-2.8 7.1-2.7 6.3 5.1 6.7-3M126.7 118.2l3.7-1.8 4-5.3 8.7 5.1M177 103.5l5.6.2 8.3 5 6.5-2.7 7.4 2.8 4.7-.5 7.2-3.3.3.5M106.4 137.5l5.8-2.3 4.5-3.4 6.1-1.4 6.5-5.8 5.1 4.3M89.5 123.4l4.7 5.8 4.8 3.3 3.9-5.2 8.2-.7 3.4-1.4 5.7 2.9M72.4 109.5l5-1.8 7.1 1.4 8.1 3.8 6.1 2.9M156.1 131.9l7.7 2.5 8.5-4.5 8.2-5.9 7.6 1 6 5.6 6.4-1M161.4 136.7l5.3-.6 5.8 2.7 4.7-1.4 6.4-1.3 4.9 3.4 8.1 0 5.7-3.8M98.1 106.1l6.5-5 8.5-2.1 8.1 4.1 8.8-3.6 5.5 5 3.1-5.5 6.4 0M179.5 132.5l6.1.2 7.1-1.3 5.1 1.1 5.2 5.4 7 .3 3.6-1.5 3.4.7M95.2 101.8l5.4 3.7 8.4 1.9 7.1 3.4 3.6-.3 5.2-3.3 4.9-2.2M100.9 91.3l6.8 1.2 7.9-1.9 8.4.1 3.3 1.7 3.7 1.7M99.2 99l7.7-.9 7.2-4 4.8 4.4 6.5 2.7 4.2 1 6.3-1.3M100.3 95.6l5.4-2.8 4 3.6 3.6-3 4 1.2M112.6 97l7.1 1.8 3.9-1.6 4.6-3.7M99 101.5l4.2 2.2 3.1-1.8 5.4 3.6M58.1 87l4.3-2.4 6.5-2.3 3.1 4.7 5.7.2M72.6 102l7.1 2.7 6.5.1 5.4 3.2M56.6 101.6l4-.2 3 4.8 5.4-.3M78.5 101.7l6.9 5.6 5.5-.4 6.3-.2 5.8-.5 5.6-1.2M56.8 100.5l3.5-1.3 8-2.7 5.7 4.3 7.8-2.4M79.7 99l4.8.8 4.2 4.5 7.1 5.5 9 1.9 5.6-5.6 6.2 0M90.7 88.3l6.3-1.3 7.6-.2 6.9 1.7M76.8 93l7.6-1.7 4.1 4.9 3.5 5.2M98.3 128.3l6.6-2.4 11.7-1.6 8.5 2.1 9.3.3 10.4 2.2 12.5-3.3 8.6 1.7 10.8 2.4 6.2.9M77.8 136l7.2-3.4 12.4 1.5 11-4 6.3-3.1 7.4-1.9 8.6-4 8.2.8 7.3 2.3 10 1.4 7.7-.8 10.8-1.6M50.1 130.7l12.1.7 10.9 3.9 10.7-3.7 8.3 2.3 8.4 3.4 8.9 2 13 .9 7.5.3 8.5 3.7 9.1-1.3 9.5 1.6 11.9 1 9.5 1.5 7.5-.4M100.8 128.9l12.7 2.8 9.9-2.4 7.1 2.4 7.7-1.7 12.7-2.5 8.4-3 10.5-2.8 10.8.1 9.4 1.9 6 1.7 7 1.3M91.9 108.3l8.3 1.9 9.9 1.4 7.1.8 10.2-1 11.4 2.1 6.8-2.3 8.5-3 6.4-2.4 7.4 1 9.2-3.7 8.2-.8 8.6-3.3 6.5.9M109.5 128l12.9.7 6.8.1 9-2.3 9.8-3.8 12.4 1.3 10.4 3.7 10.6-1.8 7.7-2.8M51.7 128.8l7.3.5 11.9 2.8 7.2 1.6 11.8 1.4 8.3-3.2 11.7-2 8.6-.2 8.6 2 7.7-4.3 9.9.5 11.8 1 12.3 2.9 9.5-.6 7.1-2.2M84.9 106.6l9.1 3.2 6.6-4.2 9.1-2.9 11-4.5 11.9 2.3 11.5-1.1 8 .8 9.6-1.1 8.4-1 10.6 2.1 12.4-3.2 8-1 10 1.2M61.7 106.7l12.8 3.2 12.1 3.6 12.7.9 11.7-3.7 10.7.8 8.1.4 12.7-.3 10.5-1.7 8.4 2.9 6.2-2.6M90.7 118.3l9.9 3 8.5-2.7 9.1-2.6 7.6 3.2 7.4 1.4 7.6 2.1 10.5-3.1 10.7 1M156 104l6-6-6-6-6-6 6 6 6-6 6-6 6-6M180 68l6 6 6 6 6-6 6 6 6 6-6-6M168 86l6-6 6 6 6 6 6 6M180 92l6-6 6 6 6 6-6-6 6-6M150 62l6 6 6-6 6 6 6-6-6 6M162 98l6-6 6-6 6-6-6-6-6 6-6 6 6 6M180 98l6-6 6-6 6 6 6 6M156 62l6 6 6 6 6-6 6-6M156 62l6 6 6 6 6 6 6-6 6 6 6-6M180 62l6 6 6 6 6 6 6-6M180 68l6 6 6 6 6 6 6 6 6-6M168 92l6-6 6-6 6 6 6 6M156 68l6-6 6 6 6 6-6 6-6-6M162 104l6-6 6-6 6-6 6 6 6 6 6-6M168 80l6 6 6 6 6 6-6-6-6-6 6 6 6-6M150 80l6 6-6 6 6-6 6-6 6-6M193.5 86l5.5 5.5 5.5-5.5 5.5 5.5 5.5-5.5-5.5 5.5M188 69.5l5.5-5.5 5.5 5.5 5.5-5.5 5.5 5.5M199 86l5.5 5.5-5.5-5.5-5.5-5.5-5.5-5.5M193.5 86l5.5 5.5 5.5-5.5-5.5 5.5-5.5-5.5-5.5-5.5M188 64l5.5 5.5 5.5-5.5-5.5 5.5M188 69.5l5.5-5.5 5.5 5.5 5.5-5.5M193.5 80.5l5.5-5.5-5.5-5.5 5.5-5.5 5.5 5.5 5.5 5.5M193.5 91.5l5.5-5.5-5.5 5.5 5.5-5.5M199 75l5.5 5.5 5.5-5.5 5.5 5.5-5.5 5.5-5.5 5.5-5.5-5.5M188 75l5.5 5.5 5.5 5.5 5.5-5.5 5.5 5.5M181.8 99.8l7.9-3.4 8.4-3.7 4.9 0 5.1 2.5 5.8-1M154.9 89.3l8.8-4.7 4.4 2.9 7.2-4.6 6-2.7 5.6-3.9 3.1 4.9M149 96.4l8.8.2 3-2.7 6.3 1.3M162.7 99.8l8.8-4.2 8.8 3.5 8.8-2.8 3.5 2.1 3.1-2.3M188 75.9l7.7 4.5 4.6-1.7 3.3-.5M146.9 79.9l5.4-1.8 5.5 4.7 5.4-1.1 5.4-3.6 9-4.9 6.7 4.2M145.3 88.3l7.9 1.7 3.6 1.2 3.2 2.1 5.4.6 7.1-.6 7-.4M164.7 84.2l6.5 5 4.4 1.2 7.5-1.2 7.3-1 6.1 1.1 7.1-1.8M128 62l9-4 10-4 11-4M126 80l10-1 1 9 6 7M137 60l2 8M156 170l3-4 4 2 5 3 6-4M170 150l8-4 8-4 10-3 10 2M118 150l8-4 6-6M100 146l8 4 10-3 10 4"/>
<rect class="fr" x="0" y="0" width="218" height="175"/>
<path class="tk" d="M-5.5 160.3H-1M-5.5 131.3H-1M-5.5 102.2H-1M-5.5 73.2H-1M-5.5 44.1H-1M-5.5 15.1H-1M0.3 176V181.2M48.9 176V181.2M97.4 176V181.2M146 176V181.2M194.5 176V181.2"/>
</g>
<text class="s" x="247.2" y="360.1" font-size="16.72" fill="#000" textLength="27.8" lengthAdjust="spacingAndGlyphs">30N</text>
<text class="s" x="247.2" y="330.9" font-size="16.72" fill="#000" textLength="27.8" lengthAdjust="spacingAndGlyphs">40N</text>
<text class="s" x="247.2" y="301.6" font-size="16.72" fill="#000" textLength="27.8" lengthAdjust="spacingAndGlyphs">50N</text>
<text class="s" x="247.2" y="272.4" font-size="16.72" fill="#000" textLength="27.8" lengthAdjust="spacingAndGlyphs">60N</text>
<text class="s" x="247.2" y="243.2" font-size="16.72" fill="#000" textLength="27.8" lengthAdjust="spacingAndGlyphs">70N</text>
<text class="s" x="247.2" y="213.9" font-size="16.72" fill="#000" textLength="27.8" lengthAdjust="spacingAndGlyphs">80N</text>
<text class="s" x="266.8" y="387.7" font-size="16.28" fill="#000" textLength="36.6" lengthAdjust="spacingAndGlyphs">140W</text>
<text class="s" x="315.4" y="387.7" font-size="16.28" fill="#000" textLength="36.6" lengthAdjust="spacingAndGlyphs">120W</text>
<text class="s" x="363.9" y="387.7" font-size="16.28" fill="#000" textLength="36.6" lengthAdjust="spacingAndGlyphs">100W</text>
<text class="s" x="416.6" y="387.7" font-size="16.28" fill="#000" textLength="28.4" lengthAdjust="spacingAndGlyphs">80W</text>
<text class="s" x="465.1" y="387.7" font-size="16.28" fill="#000" textLength="28.4" lengthAdjust="spacingAndGlyphs">60W</text>
<g transform="translate(284,438)">
<polygon points="217,100.9 214.6,101.4 212.9,104.7 211.9,108.4 208.1,110.6 203.8,109.5 199.5,107.9 195.7,105.7 190.9,105.2 184.4,104.9 178,106.3 175,108.4 175.3,114 175.8,117 178,120.2 182.3,124 187.7,128.3 194.1,131.5 200.6,132.9 205.4,133.1 209.2,136.4 213.5,139.6 217,142" fill="#fffaaa"/><polygon points="90.2,123.5 93.4,124.3 97.2,126.7 98.8,129.4 98.8,134.2 97.2,135.6 95.1,134.8 92.9,133.1 91.3,132.6 91,129.4 90.2,126.7" fill="#fffaaa"/>
<path class="cl" stroke-width="1" d="M.8 45.1l2.2 0 1 1.1 1.6.2.9 1.1 3.5 0 .8-1.2.8 2.4 1-3.2.8 3.2 1.1-3.2 1.6.8 1.4 2.4 1.9-3 .2-1.2 1.9.2.8 1.7 1.4-2.8 2.1-.3.6 1.1 2.1 0 1.9-2 1.1 1.2.8 1.9 2.7.2.5.8 1.6-2.1 1.6 2 1.6.1 1.4-2 4-.1.8 1.1 1.9.1 1.1.8 3.2 0 .8 1.1 3.5 0 .8-1.1 5.7 0 .8 2 .8.6 7 0 1.1.5 2.1-.8 1.1-1.1 3.6 0M59.2 50.6l2.7-1.9.5 1.6 11.8 0 2.2 1.1 2.1 2.9 1.5.3M34.4 38.3l1.1-1.2 2.2-2.7 1.8-.9-1.8-1 .8-1.3 16.4 0 .5 1 2.4.3 1.4 1.4-2.2 1.3-3.2.6-2.2 1.2-3.2.4-1.1 2.1-.8 1-6.2 0-.8-.8-2.4-.3-1.3-1.1-1.4 0M51.1 37.1l1.6 2.7 1.1 1.6 1.6.6 1.1 2.7 1.3 1.6M51.6 37.1l2.2-1.6 3.2-1.1 2.2-.8 4.3.8 1.1 1.1-3.3 1.1 3.3-.3M52.2 39l7 1.1 1.6-.8M64.6 35.5l3.2.3 1.6 1.3 2.2-.5 1.6-1.1 1.6 1.1 2.1-.6 1.1 1.7-.5 1.6 2.5-1.6M76.9 34.4l3.1-.5M41.2 26.4l1.3-1.1 3.8 0 .8-1 1.9 0 1.3-2.1 9.4 0 0 1.5-1.6 1.3 6.5-.5-3.8 1.3-.5 2.7-4.9.8 1.1-2.4-2.7 1.1-1.3.5-.9-1.3-3.2.2-1.1-1.3-6.1.3M51.9 26.4l1.4-1.5 1 1.2-1.3 1.3-1.1-1M61.3 21.5l1.1-1.1 1.1.9 2.7.9 6.4 0 .6-1.5 1.6-1.3-2.7-1.1-2.2.5-4.8.5 1.6.9 3.2.1M60.8 25.3l3.8 1.1 4.8.2 1.6 1.4 1.1-1.4 2.1-2.1 2.7 0 3.1 2.9M71 28l0 1.9 3.8.5 5.2-1.1M61.9 29.3l1.6 1.9 6.4 0 0-1.1M35 53.4l1.9 0M36 55.4l2.7-1.1 4.9.1 1.1-1.1 3.2 0 1.1-1.1 1.6 1.1 4 1 0 2.2-.8 1.1-1.1-1.4-2.7-.2-.5 1.8-2.7.6-1.1 1.3M40.1 58.4l2.4-.3.5-2.1 2.7-.6-1 1.6 3.2-.5 1.1-2.7 2.6 1.6M139.2 8.1l4.3-.6 4.3 1.4-4.3.5M117.7 9.7l8.6-.6 7.5-1.6 5.4.6M149.9 11.3l4.3-.5M105.3 15.6l2.7-2.7 3.2-1.3 6.5-1.9M112.3 14l2.7-1.9 3.7-.5 2.2 1M83.2 17.2l3.8-1.1 5.4 1.4 5.4 1.1 1.6 2.4-8.1.3-4.3-1.4-1.6-1.9-2.2-.8M101.5 18.6l3.2-.3 4.4 1.6 5.3.8M112.3 16.1l8.6 1.1 1.1 1.6-7-.2-2.7-2.5M130.6 17.8l8.6 0M149.4 17.2l10.6-1.6M149.9 20.4l5.4 1.1 4.7-3.7M82.2 21.5l4.3 2.2M120.9 21.5l6.4 1.1M119.8 20.4l6.5-2.6M94 24.7l7.5-.5 2.2 2.7-1.1 2.4-6.5 0-2.1-2.4M80 27.4l3.8-.5-.6 2.2-3.2.5M85.4 29.6l3.2-1.6M105.3 24.2l2.7.5 2.1 2.2 2.2 1.1M106.9 28l5.4.5M113.4 24.7l4.3 1.1 6.4 2.2M123 23.7l5.4 1 5.4-.5 7.5 1.1 3.3-.6M124.1 27.4l7 .6 15.1-1.1 2.7-1.1 1-2.7-8.6-.5M115.5 26.9l1.1 2.7 5.4 1.1 8.6.2 3.2-.8 6.5 1.1 7.5-.5-1.1-1.6-2.1 1M141.3 22.6l10.3.5-1.1 2.2M107.4 33.4l1.7-1.1 12.9 0-4.3 3.2-5.4 1.1M107.4 33.4l1.1 3.2 1.6 2.1 4.3 2.2 3.3 2.1M80 33.9l7-.3-1.1 1.4-2.7-.6 2.2 3.3 1.6 3.2 1.6 1.6 9.2 0M90.2 36.6l2.7-2.7 4.3-1.6 6.5 0 1.6 2.1 1.6 2.7-1.6 2.2-4.9 1-2.6-2.1-3.8-1.1-3.8-.5M101.5 35l2.7 1.6-.5 1.1M121.4 38.7l1.1-3.7 2.2-1.6 5.3-.6 1.6 2.7-1 4.3M130 30.1l1.1 12.9M136.5 33.4l15.1-.3 3.7 1.9 4.7 3.7M104.7 42l4.4-2.7M115 42l3.7 1.6-1 1.6 4.3 4.3 1-2.2 3.3-.5 1 3.8 2.2 2.1 2.1-2.1 1.1-3.3-1.1-3.2 6.5-.5 9.7.5 1.1-2.1 1 2.1 5.4 1.1 4.7 3.2M139.2 45.7l3.2 1.1-2.1 2.7 2.6 2.1-2.6 2.2-5.4-1.1-5.4 2.2 2.1 3.2 4.4-2.1 3.2 2.1M80 45.7l3.2 1.1 1.6 1.6 4.3 2.2 12.4 0 2.2 1 2.1-1 3.3 3.7 0-5.9 4.3-.5-1.1-2.2-5.4-1-3.8 0-3.2 2.6-1.6 0M90.8 44.7l1.6 3.7M95.1 47.3l1.6 0M118.2 55.4l3.8 1.1 3.2 1.6 4.3 1.1M146.7 47.3l2.7-2.6 0 3.2M152.1 51.6l3.2-2.1 4.7 1.1M152.1 51.6l3.2 1.7M149.9 59.2l2.7-1.1 7.4-.5M160.2 6.5l3.2 0 1.1-1.1 6.5 0 .5 1.1 13.5-.2 5.9 1 1.6 2.1 5.4.3.5-1.1 15.1 0 3.2.3M198.4 10.2l4.3.3M209.2 10.5l1.6-1.1M184.4 10l6.5-.3 2.1 1.9-5.3.5-2.2-.8M160.2 16.1l3.8-.5 6.4-3.8 2.2-1.3M163.4 20.4l2.2-1 7-.8 1.1-1.1 8.6-.3 0-1.6-1.6-.8 4.8-.5M173.1 26.4l6 0 1-1.1 1.1 1.1 3.8-.3 1-.8 1.1 1.3 1.1-1.3 1.1 1.1 6.4 0 1.1 1 2.2.3 2.6 3 3.3 1 1.1 3.3 1.6.5-2.2 1.6 0 3.2 1.6.6 2.2-2.2 1.6-1 4.8 2.1M207.6 39.8l2.1.5-.5 2.2 5.4 0-2.7 2.2-4.9 0 1.1 1.6 2.7 0M160.2 39l4.9.8 3.7 1.6 3.3 1.1M173.7 48.4l4.3 1.1 4.3.5 4.3 2.2 3.7 1.1.6 1-3.2 2.7-2.7 2.2M160.2 47.9l2.2.5 2.1 3.2 3.3 2.2 3.7 1.1M159.7 56.5l2.7-3.2 2.1-.6M166.1 52.7l2.2-.5 3.2 1.6 1.1 1.1-3.8.5M174.2 54.9l3.8 0 4.3 0 2.7 2.1M175.3 56l1.6 2.1 3.2.5M.8 72.4l1.9.2 2.1 2.5 4.3.2 2.2-1.9 1.6 1.1 3.2 3.3 2.7 3.7 3.8 1.6 2.7 2.7.5 3.3-1.1 1 2.2 1.6 2.2-.5 2.1 3.2 1.6 2.7-.5 1.6 3.2 1.1 2.2 1.1 2.1 1.6 2.2 2.7.5 2.1M28 100.3l3.2 2.7 3.2 1.7 2.7 1.6.6 2.1M17.2 90.7l3.2-.3-1.6 1.9 2.7 4.3M17.2 90.7l0 2.7 2.2.5M16.1 72.1l2.7 1.1M37.7 108.4l1 3.2.6 2.2.5 3.2-1.1 3M37.7 113.3l3.7 0 1.1 1.6 5.4.2 1.1-1 7.2 0M42.5 105.5l37.5 0M56.2 105.5l0 8.6 1.4 1.3-2.2 3.2.6 1.4M57.8 105.7l.8 3.3 3.3 2.6 1 3.3 2.2 2.7 1.6.8 3.2 0 1.1-1.4 9 0M71 117l0 3M37.1 82.1l1.6 2.1 2.7 1.6 1.6-1.3 1.1 1.1M41.4 85.8l0 1.9M51.1 94.2l.5 1.6 3.3 1.6M54.9 100.1l-1.6 1.9 1 1-1 1.7 0 2.9M49 69.6l4.3-.2.5-.8 1.6 1.4 3.2 0 1.1-1.9-.5-2.7 1.6 1.3 2.7-.2 1.1 1 3.2 0 1.6-2.1 2.7-1.1 3.8 1.1M59.2 71.3l1.1-1.3 4.3.2 2.6-1.6 1.1-1.1M69.9 77.2l2.2-1.6 2.1-1.3 2.7 0 3.1 1M72.1 76.1l3.2.3 4.7-.5M112.3 61.3l2.7 1.1 4.3.3 2.1-1.4 6.5-.2M120.3 62.7l-.5 1.6-2.1 1.1-3.3 1.6-2.1 1.6-1.9 3 0 4.5-1.3.3M110.4 76.1l1.3 1.4 2.7 0 1.1 1.3 0 3.3-1.1.2M115.5 82.1l1.6-.6 3.2 0 1.1.8 3.3 0 1 1.1 1.6 1.6 3.3.3 2.1 2.1 8.1.3 0 5.7 1.1 2.1 2.7 1.6-.3 2.2 1.3-1.6 1.6 2.6 1.1-1.6 1.1-1-.5-1.7.5-1-.5-4.9-1.7-1-.5-.9 2.7 0 2.7-1.3 2.1-1.6.6-3.2-1.1-2.7-1.6-.8-2.2-1.4 1.7-1.6 0-2.2 2.1 0M151.6 73.4l0-1.8-2.2 0M151.6 71.6l0-3.5-1.1-.8 1.6-1.9 2.1.5 3.8.3 1.1 1.1.9-1.9M129.5 60l.5 2.2 2.2.5 1.6 1.6 1.6-1.6 2.7-1.1 6.5 0 1 .8-3.2.8-1.6-1M136.5 65.9l1.6-1.3 1.6.8 1.1-1.1.5 1.1-4.8 1.1M145.4 67.5l1-1 1.1 1-1.1 1.1-1-1.1M92.1 64.6l1.3-1.1 2.2 0 0 1.3-1.6.8-1.6-.2-.3-.8M89.1 84.2l1.1-2.7 1.1-1.9 2.1-1 .3 1.8-1.1 2.2-1.8 1.1-1.7.5M105.3 84.5l1.6 1.1 1.1-1.1M109.3 84.5l1.4-1.4M95.3 92.8l.8-2.1 1.7-.3 1 1.3 2.7 0 1.6-2.6 1.1-1.1 1.6.5M103.1 89.1l-.5 2.1 1.1 1.6 1 1.6.3 3.3 1.9 1-.3 1.6-1.9.6-.2-3.2M97.2 94.4l.6 2.7 2.1 1.6 1.1 2.2 1.6.5M98.3 93.4l3.2 1 2.2 1.1M99.9 92.3l1.6 2.7 1.6 2.7M80 105.5l29.3 0M111.7 106l3.3.8 2.7.8 2.1.3M119.8 107.9l3.2-1.1 2.7-.5 1.1-1.6-1.3-1.7M124.4 102.8l1.1-1.4 1.3 1.4-1.3 1-1.1-1M126.8 104.7l2.7 1 1.1 1.1 3.2 1.1 1.1 1.1.5 2.6-1.1 1.7M125.7 106.3l1.6 1.6 1.1 2.1 3.2.6 2.2 1M119.8 107.9l-.5 2.1 1.6 1.6 2.1 1.1 2.7.6 2.7 1 2.2-.5 3.2-.5 2.2.5 3.2-.5 5.4.5 1.6 1.6.5 2.2-2.1 1M122 111.1l3.7-.3 1.1-1.3M128.4 111.6l5.4-1.6M119.3 110l-2.2 1.6-.5 2.2-1.6 1.6-.6 1.6 1.1 1.6.5 1.4M127.3 116l1.1 1-1.1 3M130.6 114.9l-.6 5.1M137 116l1.6 1-.5 3M140.3 115.4l.5 4.6M143.5 114.9l2.1 2.1-1 1.6M87.3 105.5l0 14.5M80 116.9l7.3 0M87.3 114.3l18 0M104.5 105.5l.8 2.9.5 5.9 1.1 2.2 0 3.5M160.2 65.5l2.7 1.5 1.1 1.3 2.1.3 1.1 1.6 4.3 0 .3 3.8 1.3 1.3 1.6 2.5 1.1 1.3 1.1-.8 3.2-1.1 1.1-2.1 1.1-2.2 2.1-.3 1.1 2.5 2.2 2.1 1.6 2.2 1.6 1 .5 1.7-2.7.5 2.2 1.6 1.6 1.1 1.6 1.6 2.7.5 2.7.8 1.6 1.9 2.7 1.1 1.1 1.6-.6 1.6.6 2.7-1.1 1.1-2.2 0M200.6 90.1l0 2.7M201.6 98.2l-3.7.3-2.2 2.7-2.7.2-13.9 0-1.7 1.6M177.4 103l-2.1 1.7-2.7.5-.5 2.1-3.8 0M201.6 98.7l-1 2.2-1.1 2.1-1.1 2.2-1.6 1.6-.5 2.2 2.1.2 5.4 0 .5-.8 1.1 1.1 2.7-.5 1.6-1.7 1.6-.5-1-2.1-2.7-.9-3.3-.2-.5-1.1-1.1.5 1.1-2.1.5-2.2M209.7 110.6l1.6 1.6 1.1-1.6-1.1-2.2M179.1 103l3.2-.5 3.2 0 2.2 1.1 2.1 1.6M173.7 106.3l1.6-1.6 2.7-.6 4.3.3 1.6.8-.5 1.6-2.2.5-2.7.6M172.1 107.3l.5 2.7 2.7.3.5 4 1.6 1.7 3.8.2 1.6-1.3-.5-2.2 1.1-2.1-.6-2.2M188.7 110.6l2.2-1.4 1.1.3M184.4 116l3.3 1 3.2-.5 2.1-.5 1.7-2.2M178 120l2.1-2.4 4.3.5M182.3 119.7l3.2-1.1M172.1 107.3l-1.7 2.2-1.6 2.1-1.6 1.1M170.4 111.1l-1.6 3.8-1.6 2.1-7 .3M162.4 117.6l.5 2.4M165.6 118.1l.5 1.9M172.1 97.9l1.3-1.6 1.3 1.6-1.3 2.4-1.3-2.4M178 88.2l1.3 1.9 1.9.8.5 1.6 1.1-1.8 2.2.8 1.9-1.1M180.7 89.1l1.6-.9 1.6.3M162.9 60.5l3.2 2.7 2.2 2.2 3.2.5 4.3 1.1 3.3.5 3.2 1.6 1.6-2.6-1.6-1.1M182.3 61.1l1.1 3.2M39.5 117l0 1.9-1 .5 0 5.7M38.5 125.3l0 6.2 1 .8 0 2.2 1.4 1.1 1.6 1.6.5 1.3 1.4.8 0 3 1.1 1.6.8 1.1 1 2.1 1.7 1.1 2.6 0 1.7 1.6 2.1 1.1.3 2.7.8.5 0 2.4 1.3 1.7 1.4 2.4 1.6 1.6 2.1 1.6.6 2.2-1.1 1.3-2.1 0M62.4 167.3l.3 1.9 1.9 1.1 2.1 1.6 1.9 1.9M43.6 136.1l1.9.5.2 1.1M43 137.4l1.1 1.1M38.5 125.3l31.4 0M48.4 125.6l0 8.9 3.2 1.1 1.7 2.9 1 1.6 2.7 1.6 2.2 1.1 1.6 2.2M63.8 125.6l0 15.1M63.8 140.7l-3 4.3 1.6 1.3.3 1.9 1.1.3-1.4 1.3-.5 1.6-1.6 1.6M55.7 153.6l4.6-.6M56.5 117l-1.1 1.6 1.1 1.1 0 5.6M64.6 117.5l2.1.8 3.8 0M70.5 118.3l0 10 9.5 0M75.6 128.6l0 27.4M64 140.4l16 0M61.3 154.1l3.8 0 3.2 2.4 9.2 0 .5-1 2 0M61.3 155.5l.3 4.5 1.3 1.7 2.2 1.6M61.9 155.5l2.7 1 2.1 3 .3 2.2.8 2.1 2.1 2.2 2.7 1.3-1 1.1 2.6 1.9.6 2.7 2.1.8M65.1 163.3l1.6 2.1 0 2.2 1.6 2.7 1.6 2.7.6.8M87.5 117l0 11.3M80 128.3l12.4 0M87.5 122.4l11.9 0 2.1.8 3.8.3 1.1 1.6.5 2.1 1.1 2.2 1.3 2.1.8 2.2.3 7M92.4 128.3l0 12.1M92.4 131.5l16.1 0M80 140.4l30.4 0M110.4 140.4l.3 1.9M90.8 140.7l0 14.8-10.8 0M92.1 142.3l5.1 0 .6 5.4 1.6.5 2.1 1.1 2.7.8 1.6-.3 2.7-.5 1.9 0M110.4 142.3l.8 2.7.3 2.1-1.1 2.2 1.3 2.7 0 2.7 1.1 2.1-.5 2.7.5 1.6M110.7 142.3l11.3 0M111.7 152.2l7 0M99.4 120.2l.2 1.9M106.4 117l0 4-1.1.6 1.6.8M106.4 121.2l11.3 0M114.4 117l2.2 2.2 2.1 2.1 1.1 2.2 1.6 1.6-.2 1.6-1.9 1.9-1.6 1M108 129.6l9.7 0M117.7 129.6l1 2.5 2.2 3.2 2.1 3.8 1.7 1.6M120.9 124.5l6.4 0M127.3 117l-.5 2.2.5 3.2 0 2.1 0 11.3-1 1.1.5 3.2-.5 3.3M124.7 140.7l-2.7 2.1-1.1 3.3-1.1 2.6-1.1 2.7.6 3.3-1.6 2.4 3.2.2 1.6.6.5 2.1M112.8 161.1l2.7 1.6 2.2-1 1.6 1.6 2.7-.6M123 160l2.7-.5 1.6 1.1M80 155.7l2.7 1.6 2.7 1.7 1.6 3.2 1.6 1.3 1.6-.2 1.1-1.6 3.2 0 1.6 3.2 2.7 2.7 0 2.1 1.6 1.6 2.7 1.1 1.6 1.1M104.7 173.5l-1.6-3.8.6-2.1 2.7-2.7 2.7-1.1 1-2.1 2.7-.6M125.7 147.1l0 12.4M122 146.1l13.4 0M122 142.3l4.8 0M126.3 140.9l29 0M132.2 146.3l1.1 4.1 1 3.7-.5 3.2M127.3 157.3l6.5 0M133.8 157.3l2.7 1.1 4.8.6 1.1-1.1M127.3 157.3l1.1 1.7 2.7 1 2.2 2.2 1-1.6 2.7-.6M137 160l1.6 2.7 1.1 2.7 0 2.2 1.6 2.1 1.1 3.8M142.4 159l1.1 3.7 1.1 2.7.5 3.2.5 2.2 0 2.7M148.3 170.3l3.8 0 1.6 1-1.6 1.1M135.4 146.1l2.7-1.1 5.4 0 3.2 1.1 2.7 3.2 2.2-.6M138.1 146.3l1.6 3 1.6 1.6 1.1 2.7 1.1 1.1M143.5 154.7l-1.1 3.2M155.3 145l-2.1 2.1-1.6 1.6-2.2 1.1-2.7 2.2-3.2 2.7M127.3 135.8l2.2 1.6 2.1-1 2.2-1.1 1.1-.5M134.9 126.7l0 8.1M127.9 126.7l11.3 0M134.9 134.8l4.3.5 1.6 1.6 1.1 1.6 2.7.6 2.1-2.2 2.2-2.7 1-1.1M140.8 135.3l2.1-2.2 3.3-.5M144.6 126.1l0 6 12.9 0M144.6 126.1l13.4-.5M158 125.6l1.1 1.6-1.6 2.2 1 2.7M139.2 140.7l2.7 1.6-1.1 1.1-3.8.5-2.1 2.2M149.9 133.1l1.1 1.7 3.2 1.6 1.1 2.1M156.4 145.5l1.6 0M130.6 117l0 8.6M136 120.2l3.2.6 1.1 1.6-1.7 2.1.6 2.2M138.1 117l-1.1 2.2M142.4 117l-.5 1.6M162.4 117.5l0 6.5-1.1 1.6 0 2.2M162.4 118.1l5.4-.6.5 3.8.5 2.7 1.1 1.6 1.1 1.1-1.6 1.1-3.3 0-1.6 1.8-3.7 0-.6 3M168.3 121.3l3.2-1.3 4.3-1.7 2.2-1.3M164 119.2l2.1.5-1.6 1.6-.5 1.6M162.9 124l4.3 0 .6 1.6M179.3 118.6l1.4 2.7 1.6 0 1.1-2.1 3.2-1.1 4.3-.6M118.2 20.4l5.7-.1M122.6 21.1l2.8 0M132.4 26l2.4-.3M137.5 8l5.9 1.9M134.3 21.8l2.6-.9M124.3 8.4l2.7-.5M84.4 18.1l3.8.9M123.5 22.4l4 .4M118.6 13.7l6 2.1M149.2 24l3.3-.6M105.1 8.7l5.1-.4M149.7 16.3l5.9 1.4M154.8 18.3l5.9-.4M87.8 22.1l5.2-.8M89 15l5.8 1M91.4 12.9l2.4-.7M145.8 11.3l4.2-.2M97.3 24.6l2.5.2M91.3 17.1l2.9-.5M106.3 28.2l2.9-.2M150.4 22.4l2.4.8M99.1 13.2l5.1-.6M105.7 8.8l2.4.1M101.4 21.4l3.5-.1M158.7 18.6l4.3 1.1M96.6 10.7l5.7 1.3M102 11.6l4.9 1.5M152.6 21.5l3.7-1M101.1 23.9l3 .7M129.7 14l2.7.5M126.7 27.5l4.5-.7M117.7 8.5l2.7-.3M127.8 10.2l3.4.9M137.3 21l2.6-.8M83.7 22.3l3.9.6M88 20.1l5 1.4M141 23.9l5.1 1.5M110.1 23.4l5.7 1.5M115.4 26l5.4.3M132 16.2l4.3.3M88.4 22.3l6 1.6M140.3 16.3l4.9.3M117.2 27.1l2.4.4M84.4 21.4l3.9-.7M137.9 18.9l4.4 1.3M106.1 23.3l2.8-.7M154.5 22.8l3.7 1.1M108.2 23l2.8-.2M152.4 16.2l4.4-.5M92.9 18.9l5.3 1.3M138.9 29.8l3.1-.7M118.1 13.6l2.8-.2M132.1 18.9l3.2.7M160.6 17.9l2.3-.8M138.7 20.7l3.2.7M118.4 7.6l5.3-1M132.3 17.7l4.6.5M136.8 11.8l3.9-.9M82.9 18.3l4.8-1.1M103.8 15.3l4.8.1M131.2 25.1l3.5.8M156.6 24.3l2.5 0M132 28.8l3.6.2M152.3 26.1l5.8-.1M134.1 11.9l4.9 1.1M133.3 24.2l2.9.8M125 26l3.2.9M150.5 15.4l2.3-.1M126 25.4l4-1.3M146 11.1l3.3.7M86.9 31l5.4.7M111 26.9l5.8-1.7M70.4 27.5l3.2.5M93.8 27.4l5.4.2M75.5 24.9l5.3 1.5M69.7 33.3l5.8.1M90.1 21.6l4.1 0M91.9 18.5l5.9.1M80.4 32.4l4.3 0M96.7 19.2l4.2-.3M73.1 26.5l2.5-.1M84.7 23.7l2.8.2M68.9 22.1l4.7-.6M77.9 29.2l2.4.3M64.9 27.2l3-.6M87.7 25.9l3.5-.3M87.6 20.9l2.9.2M93.8 27.5l5.4.5M106 22.2l4.9 1.1M108.5 23.7l3.3 1M71.4 31.1l3-.9M104.6 25.6l5.2-1.4M134.2 33l2-.5M150.9 36.6l5.9-1.6M140.3 34.1l4.1.6M143.1 30.2l4.3-1M121.1 25.3l5.3 1.8M137.7 34.2l3.3 0M140.9 28.9l4.4-1.5M152.1 35.5l2.7-.1M154.4 28.5l2.7-.7M140.8 22.2l5.5 1.2M152.3 35.8l4.5-.3M146 30.1l5.9 1.2M125.5 36.6l5 .9M158.9 28.5l5.6 1.5M151.7 34.3l5-.4M153.4 23.1l3.3 0M148.3 32l3 .9M150 27.4l4.6.2M142 28.2l6 .6M152.1 34.2l5.9-2M146.9 33.8l3.1-.2M132.5 23.6l3 .8M143 30.1l5.9.3M145.9 34.1l2.1.7M119.6 29.5l2.7 0M171.3 36.5l5.8-.3M167.3 50.5l3.4-.5M173.4 49.6l3.2.5M149.5 54.6l3.6 1M162.6 47.4l5.9-1M167.1 59.4l4.9-.1M171 38l4.5-.1M167.3 38.2l3.8.5M163.9 41.8l4.3-.2M179.3 48.8l6 1.9M177.2 41.2l2.5.7M179.6 51.2l3.5-.5M174.9 49.7l4.3.4M178.2 39.9l3 1M155 46.1l4.5-1.3M168 36.9l2.3.3M168.4 51.4l3.5 0M152.1 43.9l5 1.2M180.8 51.2l5.1-1M162.4 41.7l5.2-.5M157.6 49.3l5 1.4M162.5 44.6l2.4.6M169.1 47.6l4.7-.7M152.2 52.2l2.4-.3M176.8 53l3.1-.7M159.2 53.9l3.4-1M176 49.8l5.7 1.7M185.8 46.4l5.3-.7M157.2 45.4l5.8 1.6M153.9 44.4l3.5-.3M161 45.1l2.8.1M180.3 49.1l5.3.2M150.5 54.7l5.5-.8M143.1 48.4l4.1.2M163.1 44.4l5.2-1.6M151.3 46.6l2.3-.7M156.6 48.4l2.4.2M140 45.9l4.6-.8M142.2 46.2l4.1.8M147 39.4l5.9.7M149.8 42.6l4.9.7M161.6 40.6l5.3.6M159.9 46.9l5.3 1.4M162.8 44.2l4.1.6M158.5 40.7l3.6-.9M146.5 36.7l2.8-.2M86.8 40.9l2.4.3M132.7 38.9l2.2-.1M120.4 50.5l2.1-.5M94.8 39.5l3 .4M121.1 39.6l2.7-.4M94 48.1l3.3.1M135.3 43.7l3 .8M141.5 41.5l4.2 1.3M113.9 39.5l2.2.7M134.3 42.2l4.1 0M125.1 39.8l2 0M106.8 48.7l4.8.4M93.1 38.5l3.3-.5M138.6 44.3l4.6 1.5M100.1 44.6l2.6.4M137.2 49.2l2.3-.4M128.9 37.6l3.9-.1M144.2 45.4l5.4-.8M133.5 42.7l5.7-1.7M135.9 39.3l4.2.1M93.1 49.3l3.2-.4M87.9 40.9l3.8.6M106 47l2.4-.2M112.6 51.5l5.3.5M128.4 39.8l4.3-.1M134.2 39.3l4.4-.6M107.1 44.6l3.2-.3M108.1 46.7l3-.7M129.8 41.3l5.8.2M129.3 41.3l5.3-1.5M12.4 79l1.9 2.6M12.8 81.4l2.5 2.6M10.2 77.9l1.7.6M22.1 87.4l3 2.3M23.9 92.9l1.7 3M20.5 87.7l2.4.6M19.8 89.6l2 3.3M29.4 97.5l1.3.9M17.8 87.5l1.5 1M23.4 93.4l2.4 2.6M10.8 82.1l2.7 2.6M18.7 87.3l1.1 1.5M41.5 107.6l1.6 2.9M11.6 84l2.8 1.2M9.8 77.7l1.8 2.4M16.4 88.1l1.9 1.6M8.9 81.7l.8 1.7M25.4 93.6l2.5 1.4M37.1 106.9l2.4 2.6M9.3 81.1l1 2M14.4 84l3.3 1.4M27.1 91.9l1.5.7M40.1 109.2l2.7 1.6M29.4 98.4l1.7 1.8M36.5 99.9l1.6 1.3M11.5 80.2l2.7 1.1M25.5 91.7l2.5 1.6M30.6 94.8l3 1.2M40.2 107.1l2.2 1.6M27.8 96.7l1.9 2.8M21.8 93.4l1.7 3.2M20.9 88.8l1.3 2.7M24.9 92.9l1.1 2.4M19 84.6l1.4 3M32 99.8l2.9 1.7M28.8 93.4l1.4 1.1M24.4 91.7l1 1.3M25.8 91.9l1.9 1.3M15.9 81.9l1.4 3.5M28.7 98.7l1.4 2.2M13.2 84l1.2 2.7M8.6 80.2l1.3 1.3M41.9 104.6l1.8 1M19.1 84.8l1.9 3.2M20.8 88.2l2.8.8M5.8 78.5l1.7 1.5M38 107.7l2.5 1.1M15.2 87l3.4 1.6M36.6 102.3l2.5 1M36 106l1.3 1.5M11.6 83.5l1.6.6M32.7 98.5l1.8 3.4M32.9 97.5l1.3 2.9M23.4 88.7l1.8 1M32.6 97.6l1.7.9M29 98.4l1.5 1.8M37.5 104.6l1.8 1.1M38.8 106.3l1.4 1.7M7.6 80.7l1.9 1.8M26.6 91.3l2.6 1.5M210.7 42.2l.5 1.6M215 54l.1 2.2M210 40.7l2.1 3.4M211.4 47.2l-.8 2.3M214.9 47.8l-.2 2.9M211.8 44.7l.2 3.5M210.9 48.3l.2 3.2M215.9 58.7l1.4 3.1M214.8 50.5l-.5 2.5M211.8 55l.2 2.1M212 41.3l1.4 2.4M211.9 50.4l-.8 2.8M214.4 40.1l.2 1.6M213.2 46.4l-.4 2.1M209.7 37.9l.1 3M215.1 54.9l.6 1.8M213.2 36.9l.2 3.1M212 42.4l-.4 1.7M213.8 40l-.2 1.9M211.9 56.1l.3 1.6M214.4 44.6l2 3.4M211.4 47.9l1.7 3.6M211.4 47l.6 1.6M215.9 57.2l.7 2.4M215.4 46l-.7 1.4M212.1 54.4l.7 2M214.6 49.1l-.9 2.5M213.7 44.7l-.1 3.9M212.7 36.9l1.5 2.7M211.5 44.3l0 3.7M195 113.2l1.5 1.9M189.1 111.5l1.9.8M187.7 109.3l1.9.5M188.2 109.1l2 1.1M195.5 114.7l3.5.9M190.9 108.5l3 1.2M190 107.6l1.8.6M188.8 112.2l3.2 1M190.5 108.7l3.5 1.5M193.1 113.6l3.7.2"/>
<path class="cl" stroke-width="1.6" d="M55.4 42.8l14.5.5M56 25.3l3.2-2.2M62.4 29.6l3.2.8M37.7 54.9l5.3.2M142.4 6.2l17.6 0M124.7 11.6l16.1 0M141.9 12.6l12.9-.5M108 13.4l4.3-1M124.1 13.4l17.2.6 5.4 1.6M85.9 18.3l2.2 1.1M97.2 14.5l3.2.8M105.8 22.1l8.6 0M113.4 16.4l6.9.5M128.4 16.1l5.4-.5 8.6 2.7M127.3 19.4l13 1M151.6 18.3l8.4-1.1M83.2 21.8l2.7 1.3M87 24.7l3.8 2.2 3.2-1.1M96.1 28.5l6.5.8M105.3 29.6l8.6 1.1M117.7 25.3l6.4 1.1M85.9 40.3l2.2 1.7M121.4 39.5l4.3 1.9 4.3 1.1M143.5 36.6l8.6.5M144.6 35l6.4.5M155.3 37.1l4.7 2.7M138.1 43.8l9.1.6M130.6 54.9l7.5 2.1M89.1 45.2l6-1.6M123 57l6.5 1.6M164.5 5.6l5.9.3M173.1 7l4.9.3M175.8 12.9l4.3 1.6M165.1 14.8l3.2-.8M168.8 24.2l5.4.3M201.6 31.7l3.8.6M214.6 47.3l2.1-1M213.5 50.6l3.2 0M176.9 49.5l8.1 2.1M160.2 49l2.7 1M180.1 55.4l4.3 2.2M165.6 58.6l3.8.6M23.1 86.9l.6 5.4M76.9 109.2l3.1 0M54.9 70l3.7.1M112.8 61.6l2.2.8M113.4 67l2.1-.3M141.3 93.9l3.3.3M137 66.2l2.2-.3M80 75.5l3 0M88.1 91.2l1 1.3M80 108.7l1.6-.3 1.1 1.4M89.4 108.2l1.1-.9 1.1 1.7 2.9.2M95.3 112.2l1.4 1.1-.6 2.7-.8 2.1M153.2 110.6l1.3-1.4 1.4 1.4-2.7 0M151 119.7l4.3-1.6 4.7-.8M167.2 73.4l4.3 0M169.4 76.1l2.1 0M171 79.4l2.7-.3M185 74.5l2.7 3.3M160.2 102.5l.3-2.7 1.3-1.3 2.2-.3-1.6 1.6-1.6 2.7M181.2 90.1l1.1 2.2M164.5 62.2l3.8 3.2M179.6 68.1l3.8.5M174.2 72.6l1.6-1.3M45.5 143.4l.8 1.6M66.7 126.1l0 2.5 1.1 1 1.1-1.3M69.9 139.9l2.7-2.7M95.1 118.3l1-1.3M161.8 126.7l2.7-.6 2.2.6"/>
<path class="cl" stroke-width="2" d="M117.7 10.5l8 0M131.6 33.4l5.4 2.1-3.2 2.2 1.1 3.2M103.1 49.5l4.9 3.2M172.1 10.8l12.3.5M164.5 21.5l14.6 1.6M210.8 38.7l5.4 2.2M210.3 49.5l6.4-1.1M210.8 51.6l1.6 5.4M210.8 53.8l3.8 5.4M160.2 40.1l5.9 1.3M5.4 76.1l4.3 2.2 2.1 3.2 4.3 3.8 2.2 2.1M10.8 74.5l4.3 4.3 3.2 3.8M26.9 92.3l3.2 4.3 2.2 3.2 5.4 3.2 3.2 2.7M41.4 109.8l2.2 0M69.4 65.9l4.8-1.1M69.9 76.9l1.7-.2M146.7 84.2l2.7-.5M149.4 76.9l1.1 0M149.9 60.5l4.3 0M149.4 63.8l3.2-1.1 1.6-1.1M133.3 111.6l3.7 2.2M136 114.3l3.2 1.1M116.6 111.6l1.1.6M192.5 91.7l3.2-1 4.3-1.1M204.3 111.1l2.7-.5 2.7-2.2 1.6-2.1M186.6 103l3.2 1.9M179.1 107.6l3.2-.3M168.3 107.9l3.2.5M167.2 111.6l1.1.6M160.2 60.8l2.2-.3M172.6 62.7l5.4 1.6M62.4 141.2l1.1 2.2M61.3 152.5l1.1.5M64.6 162.7l1 1.6M123.6 140.1l2.1.6M120.3 159.5l2.7.5M122.5 162.7l1.1.3M109.1 161.7l1.6.5M143.5 169.7l2.7.6M152.1 133.7l4.8 0M138.6 125.1l4.3 1M139.7 120.2l1.1 2.2M162.4 127.8l2.7-1.1M187.7 117.5l3.2 0"/>
<path class="cl" stroke-width="2.6" d="M171.5 43.6l5.4 2.1M96.1 92.3l2.2 1.1M109.3 103.6l2.4 2.1M183.9 111.6l3.8 2.2 3.2 1.6M192.5 112.2l1.1 2.1M213.5 60.5l3.2 2.7M154.2 134.8l2.2 3.7M154.8 138.5l1.6 7M142.9 125.1l3.8-2.7 8.1-2.2 5.2-2.1M160 120.2l2.4-1"/>
<rect class="fr" x="0" y="0" width="218" height="175"/>
<path class="tk" d="M-5.5 160.3H-1M-5.5 131.3H-1M-5.5 102.2H-1M-5.5 73.2H-1M-5.5 44.1H-1M-5.5 15.1H-1M0.3 176V181.2M48.9 176V181.2M97.4 176V181.2M146 176V181.2M194.5 176V181.2"/>
</g>
<text class="s" x="247.2" y="605.1" font-size="16.72" fill="#000" textLength="27.8" lengthAdjust="spacingAndGlyphs">30N</text>
<text class="s" x="247.2" y="575.9" font-size="16.72" fill="#000" textLength="27.8" lengthAdjust="spacingAndGlyphs">40N</text>
<text class="s" x="247.2" y="546.6" font-size="16.72" fill="#000" textLength="27.8" lengthAdjust="spacingAndGlyphs">50N</text>
<text class="s" x="247.2" y="517.4" font-size="16.72" fill="#000" textLength="27.8" lengthAdjust="spacingAndGlyphs">60N</text>
<text class="s" x="247.2" y="488.1" font-size="16.72" fill="#000" textLength="27.8" lengthAdjust="spacingAndGlyphs">70N</text>
<text class="s" x="247.2" y="458.9" font-size="16.72" fill="#000" textLength="27.8" lengthAdjust="spacingAndGlyphs">80N</text>
<text class="s" x="266.8" y="632.7" font-size="16.28" fill="#000" textLength="36.6" lengthAdjust="spacingAndGlyphs">140W</text>
<text class="s" x="315.4" y="632.7" font-size="16.28" fill="#000" textLength="36.6" lengthAdjust="spacingAndGlyphs">120W</text>
<text class="s" x="363.9" y="632.7" font-size="16.28" fill="#000" textLength="36.6" lengthAdjust="spacingAndGlyphs">100W</text>
<text class="s" x="416.6" y="632.7" font-size="16.28" fill="#000" textLength="28.4" lengthAdjust="spacingAndGlyphs">80W</text>
<text class="s" x="465.1" y="632.7" font-size="16.28" fill="#000" textLength="28.4" lengthAdjust="spacingAndGlyphs">60W</text>
<g transform="translate(284,683)">
<g class="c"><rect x="215" y="134" width="3" height="9" fill="#ffa000"/><rect x="88" y="127" width="7" height="9" fill="#fffaaa"/><rect x="94" y="127" width="7" height="9" fill="#ffa000"/><rect x="197" y="127" width="21" height="9" fill="#ffa000"/><rect x="88" y="119" width="7" height="10" fill="#fffaaa"/><rect x="179" y="119" width="13" height="10" fill="#fffaaa"/><rect x="191" y="119" width="27" height="10" fill="#ffa000"/><rect x="173" y="112" width="19" height="9" fill="#fffaaa"/><rect x="191" y="112" width="27" height="9" fill="#ffa000"/><rect x="173" y="105" width="13" height="9" fill="#fffaaa"/><rect x="185" y="105" width="19" height="9" fill="#ffa000"/><rect x="209" y="105" width="9" height="9" fill="#ffa000"/><rect x="215" y="97" width="3" height="10" fill="#ffa000"/></g>
<path class="cl" stroke-width="1" d="M.8 45.1l2.2 0 1 1.1 1.6.2.9 1.1 3.5 0 .8-1.2.8 2.4 1-3.2.8 3.2 1.1-3.2 1.6.8 1.4 2.4 1.9-3 .2-1.2 1.9.2.8 1.7 1.4-2.8 2.1-.3.6 1.1 2.1 0 1.9-2 1.1 1.2.8 1.9 2.7.2.5.8 1.6-2.1 1.6 2 1.6.1 1.4-2 4-.1.8 1.1 1.9.1 1.1.8 3.2 0 .8 1.1 3.5 0 .8-1.1 5.7 0 .8 2 .8.6 7 0 1.1.5 2.1-.8 1.1-1.1 3.6 0M59.2 50.6l2.7-1.9.5 1.6 11.8 0 2.2 1.1 2.1 2.9 1.5.3M34.4 38.3l1.1-1.2 2.2-2.7 1.8-.9-1.8-1 .8-1.3 16.4 0 .5 1 2.4.3 1.4 1.4-2.2 1.3-3.2.6-2.2 1.2-3.2.4-1.1 2.1-.8 1-6.2 0-.8-.8-2.4-.3-1.3-1.1-1.4 0M51.1 37.1l1.6 2.7 1.1 1.6 1.6.6 1.1 2.7 1.3 1.6M51.6 37.1l2.2-1.6 3.2-1.1 2.2-.8 4.3.8 1.1 1.1-3.3 1.1 3.3-.3M52.2 39l7 1.1 1.6-.8M64.6 35.5l3.2.3 1.6 1.3 2.2-.5 1.6-1.1 1.6 1.1 2.1-.6 1.1 1.7-.5 1.6 2.5-1.6M76.9 34.4l3.1-.5M41.2 26.4l1.3-1.1 3.8 0 .8-1 1.9 0 1.3-2.1 9.4 0 0 1.5-1.6 1.3 6.5-.5-3.8 1.3-.5 2.7-4.9.8 1.1-2.4-2.7 1.1-1.3.5-.9-1.3-3.2.2-1.1-1.3-6.1.3M51.9 26.4l1.4-1.5 1 1.2-1.3 1.3-1.1-1M61.3 21.5l1.1-1.1 1.1.9 2.7.9 6.4 0 .6-1.5 1.6-1.3-2.7-1.1-2.2.5-4.8.5 1.6.9 3.2.1M60.8 25.3l3.8 1.1 4.8.2 1.6 1.4 1.1-1.4 2.1-2.1 2.7 0 3.1 2.9M71 28l0 1.9 3.8.5 5.2-1.1M61.9 29.3l1.6 1.9 6.4 0 0-1.1M35 53.4l1.9 0M36 55.4l2.7-1.1 4.9.1 1.1-1.1 3.2 0 1.1-1.1 1.6 1.1 4 1 0 2.2-.8 1.1-1.1-1.4-2.7-.2-.5 1.8-2.7.6-1.1 1.3M40.1 58.4l2.4-.3.5-2.1 2.7-.6-1 1.6 3.2-.5 1.1-2.7 2.6 1.6M139.2 8.1l4.3-.6 4.3 1.4-4.3.5M117.7 9.7l8.6-.6 7.5-1.6 5.4.6M149.9 11.3l4.3-.5M105.3 15.6l2.7-2.7 3.2-1.3 6.5-1.9M112.3 14l2.7-1.9 3.7-.5 2.2 1M83.2 17.2l3.8-1.1 5.4 1.4 5.4 1.1 1.6 2.4-8.1.3-4.3-1.4-1.6-1.9-2.2-.8M101.5 18.6l3.2-.3 4.4 1.6 5.3.8M112.3 16.1l8.6 1.1 1.1 1.6-7-.2-2.7-2.5M130.6 17.8l8.6 0M149.4 17.2l10.6-1.6M149.9 20.4l5.4 1.1 4.7-3.7M82.2 21.5l4.3 2.2M120.9 21.5l6.4 1.1M119.8 20.4l6.5-2.6M94 24.7l7.5-.5 2.2 2.7-1.1 2.4-6.5 0-2.1-2.4M80 27.4l3.8-.5-.6 2.2-3.2.5M85.4 29.6l3.2-1.6M105.3 24.2l2.7.5 2.1 2.2 2.2 1.1M106.9 28l5.4.5M113.4 24.7l4.3 1.1 6.4 2.2M123 23.7l5.4 1 5.4-.5 7.5 1.1 3.3-.6M124.1 27.4l7 .6 15.1-1.1 2.7-1.1 1-2.7-8.6-.5M115.5 26.9l1.1 2.7 5.4 1.1 8.6.2 3.2-.8 6.5 1.1 7.5-.5-1.1-1.6-2.1 1M141.3 22.6l10.3.5-1.1 2.2M107.4 33.4l1.7-1.1 12.9 0-4.3 3.2-5.4 1.1M107.4 33.4l1.1 3.2 1.6 2.1 4.3 2.2 3.3 2.1M80 33.9l7-.3-1.1 1.4-2.7-.6 2.2 3.3 1.6 3.2 1.6 1.6 9.2 0M90.2 36.6l2.7-2.7 4.3-1.6 6.5 0 1.6 2.1 1.6 2.7-1.6 2.2-4.9 1-2.6-2.1-3.8-1.1-3.8-.5M101.5 35l2.7 1.6-.5 1.1M121.4 38.7l1.1-3.7 2.2-1.6 5.3-.6 1.6 2.7-1 4.3M130 30.1l1.1 12.9M136.5 33.4l15.1-.3 3.7 1.9 4.7 3.7M104.7 42l4.4-2.7M115 42l3.7 1.6-1 1.6 4.3 4.3 1-2.2 3.3-.5 1 3.8 2.2 2.1 2.1-2.1 1.1-3.3-1.1-3.2 6.5-.5 9.7.5 1.1-2.1 1 2.1 5.4 1.1 4.7 3.2M139.2 45.7l3.2 1.1-2.1 2.7 2.6 2.1-2.6 2.2-5.4-1.1-5.4 2.2 2.1 3.2 4.4-2.1 3.2 2.1M80 45.7l3.2 1.1 1.6 1.6 4.3 2.2 12.4 0 2.2 1 2.1-1 3.3 3.7 0-5.9 4.3-.5-1.1-2.2-5.4-1-3.8 0-3.2 2.6-1.6 0M90.8 44.7l1.6 3.7M95.1 47.3l1.6 0M118.2 55.4l3.8 1.1 3.2 1.6 4.3 1.1M146.7 47.3l2.7-2.6 0 3.2M152.1 51.6l3.2-2.1 4.7 1.1M152.1 51.6l3.2 1.7M149.9 59.2l2.7-1.1 7.4-.5M160.2 6.5l3.2 0 1.1-1.1 6.5 0 .5 1.1 13.5-.2 5.9 1 1.6 2.1 5.4.3.5-1.1 15.1 0 3.2.3M198.4 10.2l4.3.3M209.2 10.5l1.6-1.1M184.4 10l6.5-.3 2.1 1.9-5.3.5-2.2-.8M160.2 16.1l3.8-.5 6.4-3.8 2.2-1.3M163.4 20.4l2.2-1 7-.8 1.1-1.1 8.6-.3 0-1.6-1.6-.8 4.8-.5M173.1 26.4l6 0 1-1.1 1.1 1.1 3.8-.3 1-.8 1.1 1.3 1.1-1.3 1.1 1.1 6.4 0 1.1 1 2.2.3 2.6 3 3.3 1 1.1 3.3 1.6.5-2.2 1.6 0 3.2 1.6.6 2.2-2.2 1.6-1 4.8 2.1M207.6 39.8l2.1.5-.5 2.2 5.4 0-2.7 2.2-4.9 0 1.1 1.6 2.7 0M160.2 39l4.9.8 3.7 1.6 3.3 1.1M173.7 48.4l4.3 1.1 4.3.5 4.3 2.2 3.7 1.1.6 1-3.2 2.7-2.7 2.2M160.2 47.9l2.2.5 2.1 3.2 3.3 2.2 3.7 1.1M159.7 56.5l2.7-3.2 2.1-.6M166.1 52.7l2.2-.5 3.2 1.6 1.1 1.1-3.8.5M174.2 54.9l3.8 0 4.3 0 2.7 2.1M175.3 56l1.6 2.1 3.2.5M.8 72.4l1.9.2 2.1 2.5 4.3.2 2.2-1.9 1.6 1.1 3.2 3.3 2.7 3.7 3.8 1.6 2.7 2.7.5 3.3-1.1 1 2.2 1.6 2.2-.5 2.1 3.2 1.6 2.7-.5 1.6 3.2 1.1 2.2 1.1 2.1 1.6 2.2 2.7.5 2.1M28 100.3l3.2 2.7 3.2 1.7 2.7 1.6.6 2.1M17.2 90.7l3.2-.3-1.6 1.9 2.7 4.3M17.2 90.7l0 2.7 2.2.5M16.1 72.1l2.7 1.1M37.7 108.4l1 3.2.6 2.2.5 3.2-1.1 3M37.7 113.3l3.7 0 1.1 1.6 5.4.2 1.1-1 7.2 0M42.5 105.5l37.5 0M56.2 105.5l0 8.6 1.4 1.3-2.2 3.2.6 1.4M57.8 105.7l.8 3.3 3.3 2.6 1 3.3 2.2 2.7 1.6.8 3.2 0 1.1-1.4 9 0M71 117l0 3M37.1 82.1l1.6 2.1 2.7 1.6 1.6-1.3 1.1 1.1M41.4 85.8l0 1.9M51.1 94.2l.5 1.6 3.3 1.6M54.9 100.1l-1.6 1.9 1 1-1 1.7 0 2.9M49 69.6l4.3-.2.5-.8 1.6 1.4 3.2 0 1.1-1.9-.5-2.7 1.6 1.3 2.7-.2 1.1 1 3.2 0 1.6-2.1 2.7-1.1 3.8 1.1M59.2 71.3l1.1-1.3 4.3.2 2.6-1.6 1.1-1.1M69.9 77.2l2.2-1.6 2.1-1.3 2.7 0 3.1 1M72.1 76.1l3.2.3 4.7-.5M112.3 61.3l2.7 1.1 4.3.3 2.1-1.4 6.5-.2M120.3 62.7l-.5 1.6-2.1 1.1-3.3 1.6-2.1 1.6-1.9 3 0 4.5-1.3.3M110.4 76.1l1.3 1.4 2.7 0 1.1 1.3 0 3.3-1.1.2M115.5 82.1l1.6-.6 3.2 0 1.1.8 3.3 0 1 1.1 1.6 1.6 3.3.3 2.1 2.1 8.1.3 0 5.7 1.1 2.1 2.7 1.6-.3 2.2 1.3-1.6 1.6 2.6 1.1-1.6 1.1-1-.5-1.7.5-1-.5-4.9-1.7-1-.5-.9 2.7 0 2.7-1.3 2.1-1.6.6-3.2-1.1-2.7-1.6-.8-2.2-1.4 1.7-1.6 0-2.2 2.1 0M151.6 73.4l0-1.8-2.2 0M151.6 71.6l0-3.5-1.1-.8 1.6-1.9 2.1.5 3.8.3 1.1 1.1.9-1.9M129.5 60l.5 2.2 2.2.5 1.6 1.6 1.6-1.6 2.7-1.1 6.5 0 1 .8-3.2.8-1.6-1M136.5 65.9l1.6-1.3 1.6.8 1.1-1.1.5 1.1-4.8 1.1M145.4 67.5l1-1 1.1 1-1.1 1.1-1-1.1M92.1 64.6l1.3-1.1 2.2 0 0 1.3-1.6.8-1.6-.2-.3-.8M89.1 84.2l1.1-2.7 1.1-1.9 2.1-1 .3 1.8-1.1 2.2-1.8 1.1-1.7.5M105.3 84.5l1.6 1.1 1.1-1.1M109.3 84.5l1.4-1.4M95.3 92.8l.8-2.1 1.7-.3 1 1.3 2.7 0 1.6-2.6 1.1-1.1 1.6.5M103.1 89.1l-.5 2.1 1.1 1.6 1 1.6.3 3.3 1.9 1-.3 1.6-1.9.6-.2-3.2M97.2 94.4l.6 2.7 2.1 1.6 1.1 2.2 1.6.5M98.3 93.4l3.2 1 2.2 1.1M99.9 92.3l1.6 2.7 1.6 2.7M80 105.5l29.3 0M111.7 106l3.3.8 2.7.8 2.1.3M119.8 107.9l3.2-1.1 2.7-.5 1.1-1.6-1.3-1.7M124.4 102.8l1.1-1.4 1.3 1.4-1.3 1-1.1-1M126.8 104.7l2.7 1 1.1 1.1 3.2 1.1 1.1 1.1.5 2.6-1.1 1.7M125.7 106.3l1.6 1.6 1.1 2.1 3.2.6 2.2 1M119.8 107.9l-.5 2.1 1.6 1.6 2.1 1.1 2.7.6 2.7 1 2.2-.5 3.2-.5 2.2.5 3.2-.5 5.4.5 1.6 1.6.5 2.2-2.1 1M122 111.1l3.7-.3 1.1-1.3M128.4 111.6l5.4-1.6M119.3 110l-2.2 1.6-.5 2.2-1.6 1.6-.6 1.6 1.1 1.6.5 1.4M127.3 116l1.1 1-1.1 3M130.6 114.9l-.6 5.1M137 116l1.6 1-.5 3M140.3 115.4l.5 4.6M143.5 114.9l2.1 2.1-1 1.6M87.3 105.5l0 14.5M80 116.9l7.3 0M87.3 114.3l18 0M104.5 105.5l.8 2.9.5 5.9 1.1 2.2 0 3.5M160.2 65.5l2.7 1.5 1.1 1.3 2.1.3 1.1 1.6 4.3 0 .3 3.8 1.3 1.3 1.6 2.5 1.1 1.3 1.1-.8 3.2-1.1 1.1-2.1 1.1-2.2 2.1-.3 1.1 2.5 2.2 2.1 1.6 2.2 1.6 1 .5 1.7-2.7.5 2.2 1.6 1.6 1.1 1.6 1.6 2.7.5 2.7.8 1.6 1.9 2.7 1.1 1.1 1.6-.6 1.6.6 2.7-1.1 1.1-2.2 0M200.6 90.1l0 2.7M201.6 98.2l-3.7.3-2.2 2.7-2.7.2-13.9 0-1.7 1.6M177.4 103l-2.1 1.7-2.7.5-.5 2.1-3.8 0M201.6 98.7l-1 2.2-1.1 2.1-1.1 2.2-1.6 1.6-.5 2.2 2.1.2 5.4 0 .5-.8 1.1 1.1 2.7-.5 1.6-1.7 1.6-.5-1-2.1-2.7-.9-3.3-.2-.5-1.1-1.1.5 1.1-2.1.5-2.2M209.7 110.6l1.6 1.6 1.1-1.6-1.1-2.2M179.1 103l3.2-.5 3.2 0 2.2 1.1 2.1 1.6M173.7 106.3l1.6-1.6 2.7-.6 4.3.3 1.6.8-.5 1.6-2.2.5-2.7.6M172.1 107.3l.5 2.7 2.7.3.5 4 1.6 1.7 3.8.2 1.6-1.3-.5-2.2 1.1-2.1-.6-2.2M188.7 110.6l2.2-1.4 1.1.3M184.4 116l3.3 1 3.2-.5 2.1-.5 1.7-2.2M178 120l2.1-2.4 4.3.5M182.3 119.7l3.2-1.1M172.1 107.3l-1.7 2.2-1.6 2.1-1.6 1.1M170.4 111.1l-1.6 3.8-1.6 2.1-7 .3M162.4 117.6l.5 2.4M165.6 118.1l.5 1.9M172.1 97.9l1.3-1.6 1.3 1.6-1.3 2.4-1.3-2.4M178 88.2l1.3 1.9 1.9.8.5 1.6 1.1-1.8 2.2.8 1.9-1.1M180.7 89.1l1.6-.9 1.6.3M162.9 60.5l3.2 2.7 2.2 2.2 3.2.5 4.3 1.1 3.3.5 3.2 1.6 1.6-2.6-1.6-1.1M182.3 61.1l1.1 3.2M39.5 117l0 1.9-1 .5 0 5.7M38.5 125.3l0 6.2 1 .8 0 2.2 1.4 1.1 1.6 1.6.5 1.3 1.4.8 0 3 1.1 1.6.8 1.1 1 2.1 1.7 1.1 2.6 0 1.7 1.6 2.1 1.1.3 2.7.8.5 0 2.4 1.3 1.7 1.4 2.4 1.6 1.6 2.1 1.6.6 2.2-1.1 1.3-2.1 0M62.4 167.3l.3 1.9 1.9 1.1 2.1 1.6 1.9 1.9M43.6 136.1l1.9.5.2 1.1M43 137.4l1.1 1.1M38.5 125.3l31.4 0M48.4 125.6l0 8.9 3.2 1.1 1.7 2.9 1 1.6 2.7 1.6 2.2 1.1 1.6 2.2M63.8 125.6l0 15.1M63.8 140.7l-3 4.3 1.6 1.3.3 1.9 1.1.3-1.4 1.3-.5 1.6-1.6 1.6M55.7 153.6l4.6-.6M56.5 117l-1.1 1.6 1.1 1.1 0 5.6M64.6 117.5l2.1.8 3.8 0M70.5 118.3l0 10 9.5 0M75.6 128.6l0 27.4M64 140.4l16 0M61.3 154.1l3.8 0 3.2 2.4 9.2 0 .5-1 2 0M61.3 155.5l.3 4.5 1.3 1.7 2.2 1.6M61.9 155.5l2.7 1 2.1 3 .3 2.2.8 2.1 2.1 2.2 2.7 1.3-1 1.1 2.6 1.9.6 2.7 2.1.8M65.1 163.3l1.6 2.1 0 2.2 1.6 2.7 1.6 2.7.6.8M87.5 117l0 11.3M80 128.3l12.4 0M87.5 122.4l11.9 0 2.1.8 3.8.3 1.1 1.6.5 2.1 1.1 2.2 1.3 2.1.8 2.2.3 7M92.4 128.3l0 12.1M92.4 131.5l16.1 0M80 140.4l30.4 0M110.4 140.4l.3 1.9M90.8 140.7l0 14.8-10.8 0M92.1 142.3l5.1 0 .6 5.4 1.6.5 2.1 1.1 2.7.8 1.6-.3 2.7-.5 1.9 0M110.4 142.3l.8 2.7.3 2.1-1.1 2.2 1.3 2.7 0 2.7 1.1 2.1-.5 2.7.5 1.6M110.7 142.3l11.3 0M111.7 152.2l7 0M99.4 120.2l.2 1.9M106.4 117l0 4-1.1.6 1.6.8M106.4 121.2l11.3 0M114.4 117l2.2 2.2 2.1 2.1 1.1 2.2 1.6 1.6-.2 1.6-1.9 1.9-1.6 1M108 129.6l9.7 0M117.7 129.6l1 2.5 2.2 3.2 2.1 3.8 1.7 1.6M120.9 124.5l6.4 0M127.3 117l-.5 2.2.5 3.2 0 2.1 0 11.3-1 1.1.5 3.2-.5 3.3M124.7 140.7l-2.7 2.1-1.1 3.3-1.1 2.6-1.1 2.7.6 3.3-1.6 2.4 3.2.2 1.6.6.5 2.1M112.8 161.1l2.7 1.6 2.2-1 1.6 1.6 2.7-.6M123 160l2.7-.5 1.6 1.1M80 155.7l2.7 1.6 2.7 1.7 1.6 3.2 1.6 1.3 1.6-.2 1.1-1.6 3.2 0 1.6 3.2 2.7 2.7 0 2.1 1.6 1.6 2.7 1.1 1.6 1.1M104.7 173.5l-1.6-3.8.6-2.1 2.7-2.7 2.7-1.1 1-2.1 2.7-.6M125.7 147.1l0 12.4M122 146.1l13.4 0M122 142.3l4.8 0M126.3 140.9l29 0M132.2 146.3l1.1 4.1 1 3.7-.5 3.2M127.3 157.3l6.5 0M133.8 157.3l2.7 1.1 4.8.6 1.1-1.1M127.3 157.3l1.1 1.7 2.7 1 2.2 2.2 1-1.6 2.7-.6M137 160l1.6 2.7 1.1 2.7 0 2.2 1.6 2.1 1.1 3.8M142.4 159l1.1 3.7 1.1 2.7.5 3.2.5 2.2 0 2.7M148.3 170.3l3.8 0 1.6 1-1.6 1.1M135.4 146.1l2.7-1.1 5.4 0 3.2 1.1 2.7 3.2 2.2-.6M138.1 146.3l1.6 3 1.6 1.6 1.1 2.7 1.1 1.1M143.5 154.7l-1.1 3.2M155.3 145l-2.1 2.1-1.6 1.6-2.2 1.1-2.7 2.2-3.2 2.7M127.3 135.8l2.2 1.6 2.1-1 2.2-1.1 1.1-.5M134.9 126.7l0 8.1M127.9 126.7l11.3 0M134.9 134.8l4.3.5 1.6 1.6 1.1 1.6 2.7.6 2.1-2.2 2.2-2.7 1-1.1M140.8 135.3l2.1-2.2 3.3-.5M144.6 126.1l0 6 12.9 0M144.6 126.1l13.4-.5M158 125.6l1.1 1.6-1.6 2.2 1 2.7M139.2 140.7l2.7 1.6-1.1 1.1-3.8.5-2.1 2.2M149.9 133.1l1.1 1.7 3.2 1.6 1.1 2.1M156.4 145.5l1.6 0M130.6 117l0 8.6M136 120.2l3.2.6 1.1 1.6-1.7 2.1.6 2.2M138.1 117l-1.1 2.2M142.4 117l-.5 1.6M162.4 117.5l0 6.5-1.1 1.6 0 2.2M162.4 118.1l5.4-.6.5 3.8.5 2.7 1.1 1.6 1.1 1.1-1.6 1.1-3.3 0-1.6 1.8-3.7 0-.6 3M168.3 121.3l3.2-1.3 4.3-1.7 2.2-1.3M164 119.2l2.1.5-1.6 1.6-.5 1.6M162.9 124l4.3 0 .6 1.6M179.3 118.6l1.4 2.7 1.6 0 1.1-2.1 3.2-1.1 4.3-.6M118.2 20.4l5.7-.1M122.6 21.1l2.8 0M132.4 26l2.4-.3M137.5 8l5.9 1.9M134.3 21.8l2.6-.9M124.3 8.4l2.7-.5M84.4 18.1l3.8.9M123.5 22.4l4 .4M118.6 13.7l6 2.1M149.2 24l3.3-.6M105.1 8.7l5.1-.4M149.7 16.3l5.9 1.4M154.8 18.3l5.9-.4M87.8 22.1l5.2-.8M89 15l5.8 1M91.4 12.9l2.4-.7M145.8 11.3l4.2-.2M97.3 24.6l2.5.2M91.3 17.1l2.9-.5M106.3 28.2l2.9-.2M150.4 22.4l2.4.8M99.1 13.2l5.1-.6M105.7 8.8l2.4.1M101.4 21.4l3.5-.1M158.7 18.6l4.3 1.1M96.6 10.7l5.7 1.3M102 11.6l4.9 1.5M152.6 21.5l3.7-1M101.1 23.9l3 .7M129.7 14l2.7.5M126.7 27.5l4.5-.7M117.7 8.5l2.7-.3M127.8 10.2l3.4.9M137.3 21l2.6-.8M83.7 22.3l3.9.6M88 20.1l5 1.4M141 23.9l5.1 1.5M110.1 23.4l5.7 1.5M115.4 26l5.4.3M132 16.2l4.3.3M88.4 22.3l6 1.6M140.3 16.3l4.9.3M117.2 27.1l2.4.4M84.4 21.4l3.9-.7M137.9 18.9l4.4 1.3M106.1 23.3l2.8-.7M154.5 22.8l3.7 1.1M108.2 23l2.8-.2M152.4 16.2l4.4-.5M92.9 18.9l5.3 1.3M138.9 29.8l3.1-.7M118.1 13.6l2.8-.2M132.1 18.9l3.2.7M160.6 17.9l2.3-.8M138.7 20.7l3.2.7M118.4 7.6l5.3-1M132.3 17.7l4.6.5M136.8 11.8l3.9-.9M82.9 18.3l4.8-1.1M103.8 15.3l4.8.1M131.2 25.1l3.5.8M156.6 24.3l2.5 0M132 28.8l3.6.2M152.3 26.1l5.8-.1M134.1 11.9l4.9 1.1M133.3 24.2l2.9.8M125 26l3.2.9M150.5 15.4l2.3-.1M126 25.4l4-1.3M146 11.1l3.3.7M86.9 31l5.4.7M111 26.9l5.8-1.7M70.4 27.5l3.2.5M93.8 27.4l5.4.2M75.5 24.9l5.3 1.5M69.7 33.3l5.8.1M90.1 21.6l4.1 0M91.9 18.5l5.9.1M80.4 32.4l4.3 0M96.7 19.2l4.2-.3M73.1 26.5l2.5-.1M84.7 23.7l2.8.2M68.9 22.1l4.7-.6M77.9 29.2l2.4.3M64.9 27.2l3-.6M87.7 25.9l3.5-.3M87.6 20.9l2.9.2M93.8 27.5l5.4.5M106 22.2l4.9 1.1M108.5 23.7l3.3 1M71.4 31.1l3-.9M104.6 25.6l5.2-1.4M134.2 33l2-.5M150.9 36.6l5.9-1.6M140.3 34.1l4.1.6M143.1 30.2l4.3-1M121.1 25.3l5.3 1.8M137.7 34.2l3.3 0M140.9 28.9l4.4-1.5M152.1 35.5l2.7-.1M154.4 28.5l2.7-.7M140.8 22.2l5.5 1.2M152.3 35.8l4.5-.3M146 30.1l5.9 1.2M125.5 36.6l5 .9M158.9 28.5l5.6 1.5M151.7 34.3l5-.4M153.4 23.1l3.3 0M148.3 32l3 .9M150 27.4l4.6.2M142 28.2l6 .6M152.1 34.2l5.9-2M146.9 33.8l3.1-.2M132.5 23.6l3 .8M143 30.1l5.9.3M145.9 34.1l2.1.7M119.6 29.5l2.7 0M171.3 36.5l5.8-.3M167.3 50.5l3.4-.5M173.4 49.6l3.2.5M149.5 54.6l3.6 1M162.6 47.4l5.9-1M167.1 59.4l4.9-.1M171 38l4.5-.1M167.3 38.2l3.8.5M163.9 41.8l4.3-.2M179.3 48.8l6 1.9M177.2 41.2l2.5.7M179.6 51.2l3.5-.5M174.9 49.7l4.3.4M178.2 39.9l3 1M155 46.1l4.5-1.3M168 36.9l2.3.3M168.4 51.4l3.5 0M152.1 43.9l5 1.2M180.8 51.2l5.1-1M162.4 41.7l5.2-.5M157.6 49.3l5 1.4M162.5 44.6l2.4.6M169.1 47.6l4.7-.7M152.2 52.2l2.4-.3M176.8 53l3.1-.7M159.2 53.9l3.4-1M176 49.8l5.7 1.7M185.8 46.4l5.3-.7M157.2 45.4l5.8 1.6M153.9 44.4l3.5-.3M161 45.1l2.8.1M180.3 49.1l5.3.2M150.5 54.7l5.5-.8M143.1 48.4l4.1.2M163.1 44.4l5.2-1.6M151.3 46.6l2.3-.7M156.6 48.4l2.4.2M140 45.9l4.6-.8M142.2 46.2l4.1.8M147 39.4l5.9.7M149.8 42.6l4.9.7M161.6 40.6l5.3.6M159.9 46.9l5.3 1.4M162.8 44.2l4.1.6M158.5 40.7l3.6-.9M146.5 36.7l2.8-.2M86.8 40.9l2.4.3M132.7 38.9l2.2-.1M120.4 50.5l2.1-.5M94.8 39.5l3 .4M121.1 39.6l2.7-.4M94 48.1l3.3.1M135.3 43.7l3 .8M141.5 41.5l4.2 1.3M113.9 39.5l2.2.7M134.3 42.2l4.1 0M125.1 39.8l2 0M106.8 48.7l4.8.4M93.1 38.5l3.3-.5M138.6 44.3l4.6 1.5M100.1 44.6l2.6.4M137.2 49.2l2.3-.4M128.9 37.6l3.9-.1M144.2 45.4l5.4-.8M133.5 42.7l5.7-1.7M135.9 39.3l4.2.1M93.1 49.3l3.2-.4M87.9 40.9l3.8.6M106 47l2.4-.2M112.6 51.5l5.3.5M128.4 39.8l4.3-.1M134.2 39.3l4.4-.6M107.1 44.6l3.2-.3M108.1 46.7l3-.7M129.8 41.3l5.8.2M129.3 41.3l5.3-1.5M12.4 79l1.9 2.6M12.8 81.4l2.5 2.6M10.2 77.9l1.7.6M22.1 87.4l3 2.3M23.9 92.9l1.7 3M20.5 87.7l2.4.6M19.8 89.6l2 3.3M29.4 97.5l1.3.9M17.8 87.5l1.5 1M23.4 93.4l2.4 2.6M10.8 82.1l2.7 2.6M18.7 87.3l1.1 1.5M41.5 107.6l1.6 2.9M11.6 84l2.8 1.2M9.8 77.7l1.8 2.4M16.4 88.1l1.9 1.6M8.9 81.7l.8 1.7M25.4 93.6l2.5 1.4M37.1 106.9l2.4 2.6M9.3 81.1l1 2M14.4 84l3.3 1.4M27.1 91.9l1.5.7M40.1 109.2l2.7 1.6M29.4 98.4l1.7 1.8M36.5 99.9l1.6 1.3M11.5 80.2l2.7 1.1M25.5 91.7l2.5 1.6M30.6 94.8l3 1.2M40.2 107.1l2.2 1.6M27.8 96.7l1.9 2.8M21.8 93.4l1.7 3.2M20.9 88.8l1.3 2.7M24.9 92.9l1.1 2.4M19 84.6l1.4 3M32 99.8l2.9 1.7M28.8 93.4l1.4 1.1M24.4 91.7l1 1.3M25.8 91.9l1.9 1.3M15.9 81.9l1.4 3.5M28.7 98.7l1.4 2.2M13.2 84l1.2 2.7M8.6 80.2l1.3 1.3M41.9 104.6l1.8 1M19.1 84.8l1.9 3.2M20.8 88.2l2.8.8M5.8 78.5l1.7 1.5M38 107.7l2.5 1.1M15.2 87l3.4 1.6M36.6 102.3l2.5 1M36 106l1.3 1.5M11.6 83.5l1.6.6M32.7 98.5l1.8 3.4M32.9 97.5l1.3 2.9M23.4 88.7l1.8 1M32.6 97.6l1.7.9M29 98.4l1.5 1.8M37.5 104.6l1.8 1.1M38.8 106.3l1.4 1.7M7.6 80.7l1.9 1.8M26.6 91.3l2.6 1.5M210.7 42.2l.5 1.6M215 54l.1 2.2M210 40.7l2.1 3.4M211.4 47.2l-.8 2.3M214.9 47.8l-.2 2.9M211.8 44.7l.2 3.5M210.9 48.3l.2 3.2M215.9 58.7l1.4 3.1M214.8 50.5l-.5 2.5M211.8 55l.2 2.1M212 41.3l1.4 2.4M211.9 50.4l-.8 2.8M214.4 40.1l.2 1.6M213.2 46.4l-.4 2.1M209.7 37.9l.1 3M215.1 54.9l.6 1.8M213.2 36.9l.2 3.1M212 42.4l-.4 1.7M213.8 40l-.2 1.9M211.9 56.1l.3 1.6M214.4 44.6l2 3.4M211.4 47.9l1.7 3.6M211.4 47l.6 1.6M215.9 57.2l.7 2.4M215.4 46l-.7 1.4M212.1 54.4l.7 2M214.6 49.1l-.9 2.5M213.7 44.7l-.1 3.9M212.7 36.9l1.5 2.7M211.5 44.3l0 3.7M195 113.2l1.5 1.9M189.1 111.5l1.9.8M187.7 109.3l1.9.5M188.2 109.1l2 1.1M195.5 114.7l3.5.9M190.9 108.5l3 1.2M190 107.6l1.8.6M188.8 112.2l3.2 1M190.5 108.7l3.5 1.5M193.1 113.6l3.7.2"/>
<path class="cl" stroke-width="1.6" d="M55.4 42.8l14.5.5M56 25.3l3.2-2.2M62.4 29.6l3.2.8M37.7 54.9l5.3.2M142.4 6.2l17.6 0M124.7 11.6l16.1 0M141.9 12.6l12.9-.5M108 13.4l4.3-1M124.1 13.4l17.2.6 5.4 1.6M85.9 18.3l2.2 1.1M97.2 14.5l3.2.8M105.8 22.1l8.6 0M113.4 16.4l6.9.5M128.4 16.1l5.4-.5 8.6 2.7M127.3 19.4l13 1M151.6 18.3l8.4-1.1M83.2 21.8l2.7 1.3M87 24.7l3.8 2.2 3.2-1.1M96.1 28.5l6.5.8M105.3 29.6l8.6 1.1M117.7 25.3l6.4 1.1M85.9 40.3l2.2 1.7M121.4 39.5l4.3 1.9 4.3 1.1M143.5 36.6l8.6.5M144.6 35l6.4.5M155.3 37.1l4.7 2.7M138.1 43.8l9.1.6M130.6 54.9l7.5 2.1M89.1 45.2l6-1.6M123 57l6.5 1.6M164.5 5.6l5.9.3M173.1 7l4.9.3M175.8 12.9l4.3 1.6M165.1 14.8l3.2-.8M168.8 24.2l5.4.3M201.6 31.7l3.8.6M214.6 47.3l2.1-1M213.5 50.6l3.2 0M176.9 49.5l8.1 2.1M160.2 49l2.7 1M180.1 55.4l4.3 2.2M165.6 58.6l3.8.6M23.1 86.9l.6 5.4M76.9 109.2l3.1 0M54.9 70l3.7.1M112.8 61.6l2.2.8M113.4 67l2.1-.3M141.3 93.9l3.3.3M137 66.2l2.2-.3M80 75.5l3 0M88.1 91.2l1 1.3M80 108.7l1.6-.3 1.1 1.4M89.4 108.2l1.1-.9 1.1 1.7 2.9.2M95.3 112.2l1.4 1.1-.6 2.7-.8 2.1M153.2 110.6l1.3-1.4 1.4 1.4-2.7 0M151 119.7l4.3-1.6 4.7-.8M167.2 73.4l4.3 0M169.4 76.1l2.1 0M171 79.4l2.7-.3M185 74.5l2.7 3.3M160.2 102.5l.3-2.7 1.3-1.3 2.2-.3-1.6 1.6-1.6 2.7M181.2 90.1l1.1 2.2M164.5 62.2l3.8 3.2M179.6 68.1l3.8.5M174.2 72.6l1.6-1.3M45.5 143.4l.8 1.6M66.7 126.1l0 2.5 1.1 1 1.1-1.3M69.9 139.9l2.7-2.7M95.1 118.3l1-1.3M161.8 126.7l2.7-.6 2.2.6"/>
<path class="cl" stroke-width="2" d="M117.7 10.5l8 0M131.6 33.4l5.4 2.1-3.2 2.2 1.1 3.2M103.1 49.5l4.9 3.2M172.1 10.8l12.3.5M164.5 21.5l14.6 1.6M210.8 38.7l5.4 2.2M210.3 49.5l6.4-1.1M210.8 51.6l1.6 5.4M210.8 53.8l3.8 5.4M160.2 40.1l5.9 1.3M5.4 76.1l4.3 2.2 2.1 3.2 4.3 3.8 2.2 2.1M10.8 74.5l4.3 4.3 3.2 3.8M26.9 92.3l3.2 4.3 2.2 3.2 5.4 3.2 3.2 2.7M41.4 109.8l2.2 0M69.4 65.9l4.8-1.1M69.9 76.9l1.7-.2M146.7 84.2l2.7-.5M149.4 76.9l1.1 0M149.9 60.5l4.3 0M149.4 63.8l3.2-1.1 1.6-1.1M133.3 111.6l3.7 2.2M136 114.3l3.2 1.1M116.6 111.6l1.1.6M192.5 91.7l3.2-1 4.3-1.1M204.3 111.1l2.7-.5 2.7-2.2 1.6-2.1M186.6 103l3.2 1.9M179.1 107.6l3.2-.3M168.3 107.9l3.2.5M167.2 111.6l1.1.6M160.2 60.8l2.2-.3M172.6 62.7l5.4 1.6M62.4 141.2l1.1 2.2M61.3 152.5l1.1.5M64.6 162.7l1 1.6M123.6 140.1l2.1.6M120.3 159.5l2.7.5M122.5 162.7l1.1.3M109.1 161.7l1.6.5M143.5 169.7l2.7.6M152.1 133.7l4.8 0M138.6 125.1l4.3 1M139.7 120.2l1.1 2.2M162.4 127.8l2.7-1.1M187.7 117.5l3.2 0"/>
<path class="cl" stroke-width="2.6" d="M171.5 43.6l5.4 2.1M96.1 92.3l2.2 1.1M109.3 103.6l2.4 2.1M183.9 111.6l3.8 2.2 3.2 1.6M192.5 112.2l1.1 2.1M213.5 60.5l3.2 2.7M154.2 134.8l2.2 3.7M154.8 138.5l1.6 7M142.9 125.1l3.8-2.7 8.1-2.2 5.2-2.1M160 120.2l2.4-1"/>
<rect class="fr" x="0" y="0" width="218" height="175"/>
<path class="tk" d="M-5.5 160.3H-1M-5.5 131.3H-1M-5.5 102.2H-1M-5.5 73.2H-1M-5.5 44.1H-1M-5.5 15.1H-1M0.3 176V181.2M48.9 176V181.2M97.4 176V181.2M146 176V181.2M194.5 176V181.2"/>
</g>
<text class="s" x="247.2" y="850.1" font-size="16.72" fill="#000" textLength="27.8" lengthAdjust="spacingAndGlyphs">30N</text>
<text class="s" x="247.2" y="820.9" font-size="16.72" fill="#000" textLength="27.8" lengthAdjust="spacingAndGlyphs">40N</text>
<text class="s" x="247.2" y="791.6" font-size="16.72" fill="#000" textLength="27.8" lengthAdjust="spacingAndGlyphs">50N</text>
<text class="s" x="247.2" y="762.4" font-size="16.72" fill="#000" textLength="27.8" lengthAdjust="spacingAndGlyphs">60N</text>
<text class="s" x="247.2" y="733.1" font-size="16.72" fill="#000" textLength="27.8" lengthAdjust="spacingAndGlyphs">70N</text>
<text class="s" x="247.2" y="703.9" font-size="16.72" fill="#000" textLength="27.8" lengthAdjust="spacingAndGlyphs">80N</text>
<text class="s" x="266.8" y="877.7" font-size="16.28" fill="#000" textLength="36.6" lengthAdjust="spacingAndGlyphs">140W</text>
<text class="s" x="315.4" y="877.7" font-size="16.28" fill="#000" textLength="36.6" lengthAdjust="spacingAndGlyphs">120W</text>
<text class="s" x="363.9" y="877.7" font-size="16.28" fill="#000" textLength="36.6" lengthAdjust="spacingAndGlyphs">100W</text>
<text class="s" x="416.6" y="877.7" font-size="16.28" fill="#000" textLength="28.4" lengthAdjust="spacingAndGlyphs">80W</text>
<text class="s" x="465.1" y="877.7" font-size="16.28" fill="#000" textLength="28.4" lengthAdjust="spacingAndGlyphs">60W</text>
<g transform="translate(284,928)">
<g class="c"><rect x="215" y="134" width="3" height="9" fill="#ffa000"/><rect x="88" y="127" width="13" height="9" fill="#ffc03c"/><rect x="197" y="127" width="7" height="9" fill="#ffa000"/><rect x="203" y="127" width="15" height="9" fill="#ff6000"/><rect x="88" y="119" width="7" height="10" fill="#ffc03c"/><rect x="179" y="119" width="31" height="10" fill="#ffa000"/><rect x="209" y="119" width="9" height="10" fill="#ff6000"/><rect x="173" y="112" width="37" height="9" fill="#ffa000"/><rect x="209" y="112" width="9" height="9" fill="#ff6000"/><rect x="173" y="105" width="31" height="9" fill="#ffa000"/><rect x="209" y="105" width="7" height="9" fill="#ffa000"/><rect x="215" y="105" width="3" height="9" fill="#ff6000"/><rect x="215" y="97" width="3" height="10" fill="#ffa000"/></g>
<path class="cl" stroke-width="1" d="M.8 45.1l2.2 0 1 1.1 1.6.2.9 1.1 3.5 0 .8-1.2.8 2.4 1-3.2.8 3.2 1.1-3.2 1.6.8 1.4 2.4 1.9-3 .2-1.2 1.9.2.8 1.7 1.4-2.8 2.1-.3.6 1.1 2.1 0 1.9-2 1.1 1.2.8 1.9 2.7.2.5.8 1.6-2.1 1.6 2 1.6.1 1.4-2 4-.1.8 1.1 1.9.1 1.1.8 3.2 0 .8 1.1 3.5 0 .8-1.1 5.7 0 .8 2 .8.6 7 0 1.1.5 2.1-.8 1.1-1.1 3.6 0M59.2 50.6l2.7-1.9.5 1.6 11.8 0 2.2 1.1 2.1 2.9 1.5.3M34.4 38.3l1.1-1.2 2.2-2.7 1.8-.9-1.8-1 .8-1.3 16.4 0 .5 1 2.4.3 1.4 1.4-2.2 1.3-3.2.6-2.2 1.2-3.2.4-1.1 2.1-.8 1-6.2 0-.8-.8-2.4-.3-1.3-1.1-1.4 0M51.1 37.1l1.6 2.7 1.1 1.6 1.6.6 1.1 2.7 1.3 1.6M51.6 37.1l2.2-1.6 3.2-1.1 2.2-.8 4.3.8 1.1 1.1-3.3 1.1 3.3-.3M52.2 39l7 1.1 1.6-.8M64.6 35.5l3.2.3 1.6 1.3 2.2-.5 1.6-1.1 1.6 1.1 2.1-.6 1.1 1.7-.5 1.6 2.5-1.6M76.9 34.4l3.1-.5M41.2 26.4l1.3-1.1 3.8 0 .8-1 1.9 0 1.3-2.1 9.4 0 0 1.5-1.6 1.3 6.5-.5-3.8 1.3-.5 2.7-4.9.8 1.1-2.4-2.7 1.1-1.3.5-.9-1.3-3.2.2-1.1-1.3-6.1.3M51.9 26.4l1.4-1.5 1 1.2-1.3 1.3-1.1-1M61.3 21.5l1.1-1.1 1.1.9 2.7.9 6.4 0 .6-1.5 1.6-1.3-2.7-1.1-2.2.5-4.8.5 1.6.9 3.2.1M60.8 25.3l3.8 1.1 4.8.2 1.6 1.4 1.1-1.4 2.1-2.1 2.7 0 3.1 2.9M71 28l0 1.9 3.8.5 5.2-1.1M61.9 29.3l1.6 1.9 6.4 0 0-1.1M35 53.4l1.9 0M36 55.4l2.7-1.1 4.9.1 1.1-1.1 3.2 0 1.1-1.1 1.6 1.1 4 1 0 2.2-.8 1.1-1.1-1.4-2.7-.2-.5 1.8-2.7.6-1.1 1.3M40.1 58.4l2.4-.3.5-2.1 2.7-.6-1 1.6 3.2-.5 1.1-2.7 2.6 1.6M139.2 8.1l4.3-.6 4.3 1.4-4.3.5M117.7 9.7l8.6-.6 7.5-1.6 5.4.6M149.9 11.3l4.3-.5M105.3 15.6l2.7-2.7 3.2-1.3 6.5-1.9M112.3 14l2.7-1.9 3.7-.5 2.2 1M83.2 17.2l3.8-1.1 5.4 1.4 5.4 1.1 1.6 2.4-8.1.3-4.3-1.4-1.6-1.9-2.2-.8M101.5 18.6l3.2-.3 4.4 1.6 5.3.8M112.3 16.1l8.6 1.1 1.1 1.6-7-.2-2.7-2.5M130.6 17.8l8.6 0M149.4 17.2l10.6-1.6M149.9 20.4l5.4 1.1 4.7-3.7M82.2 21.5l4.3 2.2M120.9 21.5l6.4 1.1M119.8 20.4l6.5-2.6M94 24.7l7.5-.5 2.2 2.7-1.1 2.4-6.5 0-2.1-2.4M80 27.4l3.8-.5-.6 2.2-3.2.5M85.4 29.6l3.2-1.6M105.3 24.2l2.7.5 2.1 2.2 2.2 1.1M106.9 28l5.4.5M113.4 24.7l4.3 1.1 6.4 2.2M123 23.7l5.4 1 5.4-.5 7.5 1.1 3.3-.6M124.1 27.4l7 .6 15.1-1.1 2.7-1.1 1-2.7-8.6-.5M115.5 26.9l1.1 2.7 5.4 1.1 8.6.2 3.2-.8 6.5 1.1 7.5-.5-1.1-1.6-2.1 1M141.3 22.6l10.3.5-1.1 2.2M107.4 33.4l1.7-1.1 12.9 0-4.3 3.2-5.4 1.1M107.4 33.4l1.1 3.2 1.6 2.1 4.3 2.2 3.3 2.1M80 33.9l7-.3-1.1 1.4-2.7-.6 2.2 3.3 1.6 3.2 1.6 1.6 9.2 0M90.2 36.6l2.7-2.7 4.3-1.6 6.5 0 1.6 2.1 1.6 2.7-1.6 2.2-4.9 1-2.6-2.1-3.8-1.1-3.8-.5M101.5 35l2.7 1.6-.5 1.1M121.4 38.7l1.1-3.7 2.2-1.6 5.3-.6 1.6 2.7-1 4.3M130 30.1l1.1 12.9M136.5 33.4l15.1-.3 3.7 1.9 4.7 3.7M104.7 42l4.4-2.7M115 42l3.7 1.6-1 1.6 4.3 4.3 1-2.2 3.3-.5 1 3.8 2.2 2.1 2.1-2.1 1.1-3.3-1.1-3.2 6.5-.5 9.7.5 1.1-2.1 1 2.1 5.4 1.1 4.7 3.2M139.2 45.7l3.2 1.1-2.1 2.7 2.6 2.1-2.6 2.2-5.4-1.1-5.4 2.2 2.1 3.2 4.4-2.1 3.2 2.1M80 45.7l3.2 1.1 1.6 1.6 4.3 2.2 12.4 0 2.2 1 2.1-1 3.3 3.7 0-5.9 4.3-.5-1.1-2.2-5.4-1-3.8 0-3.2 2.6-1.6 0M90.8 44.7l1.6 3.7M95.1 47.3l1.6 0M118.2 55.4l3.8 1.1 3.2 1.6 4.3 1.1M146.7 47.3l2.7-2.6 0 3.2M152.1 51.6l3.2-2.1 4.7 1.1M152.1 51.6l3.2 1.7M149.9 59.2l2.7-1.1 7.4-.5M160.2 6.5l3.2 0 1.1-1.1 6.5 0 .5 1.1 13.5-.2 5.9 1 1.6 2.1 5.4.3.5-1.1 15.1 0 3.2.3M198.4 10.2l4.3.3M209.2 10.5l1.6-1.1M184.4 10l6.5-.3 2.1 1.9-5.3.5-2.2-.8M160.2 16.1l3.8-.5 6.4-3.8 2.2-1.3M163.4 20.4l2.2-1 7-.8 1.1-1.1 8.6-.3 0-1.6-1.6-.8 4.8-.5M173.1 26.4l6 0 1-1.1 1.1 1.1 3.8-.3 1-.8 1.1 1.3 1.1-1.3 1.1 1.1 6.4 0 1.1 1 2.2.3 2.6 3 3.3 1 1.1 3.3 1.6.5-2.2 1.6 0 3.2 1.6.6 2.2-2.2 1.6-1 4.8 2.1M207.6 39.8l2.1.5-.5 2.2 5.4 0-2.7 2.2-4.9 0 1.1 1.6 2.7 0M160.2 39l4.9.8 3.7 1.6 3.3 1.1M173.7 48.4l4.3 1.1 4.3.5 4.3 2.2 3.7 1.1.6 1-3.2 2.7-2.7 2.2M160.2 47.9l2.2.5 2.1 3.2 3.3 2.2 3.7 1.1M159.7 56.5l2.7-3.2 2.1-.6M166.1 52.7l2.2-.5 3.2 1.6 1.1 1.1-3.8.5M174.2 54.9l3.8 0 4.3 0 2.7 2.1M175.3 56l1.6 2.1 3.2.5M.8 72.4l1.9.2 2.1 2.5 4.3.2 2.2-1.9 1.6 1.1 3.2 3.3 2.7 3.7 3.8 1.6 2.7 2.7.5 3.3-1.1 1 2.2 1.6 2.2-.5 2.1 3.2 1.6 2.7-.5 1.6 3.2 1.1 2.2 1.1 2.1 1.6 2.2 2.7.5 2.1M28 100.3l3.2 2.7 3.2 1.7 2.7 1.6.6 2.1M17.2 90.7l3.2-.3-1.6 1.9 2.7 4.3M17.2 90.7l0 2.7 2.2.5M16.1 72.1l2.7 1.1M37.7 108.4l1 3.2.6 2.2.5 3.2-1.1 3M37.7 113.3l3.7 0 1.1 1.6 5.4.2 1.1-1 7.2 0M42.5 105.5l37.5 0M56.2 105.5l0 8.6 1.4 1.3-2.2 3.2.6 1.4M57.8 105.7l.8 3.3 3.3 2.6 1 3.3 2.2 2.7 1.6.8 3.2 0 1.1-1.4 9 0M71 117l0 3M37.1 82.1l1.6 2.1 2.7 1.6 1.6-1.3 1.1 1.1M41.4 85.8l0 1.9M51.1 94.2l.5 1.6 3.3 1.6M54.9 100.1l-1.6 1.9 1 1-1 1.7 0 2.9M49 69.6l4.3-.2.5-.8 1.6 1.4 3.2 0 1.1-1.9-.5-2.7 1.6 1.3 2.7-.2 1.1 1 3.2 0 1.6-2.1 2.7-1.1 3.8 1.1M59.2 71.3l1.1-1.3 4.3.2 2.6-1.6 1.1-1.1M69.9 77.2l2.2-1.6 2.1-1.3 2.7 0 3.1 1M72.1 76.1l3.2.3 4.7-.5M112.3 61.3l2.7 1.1 4.3.3 2.1-1.4 6.5-.2M120.3 62.7l-.5 1.6-2.1 1.1-3.3 1.6-2.1 1.6-1.9 3 0 4.5-1.3.3M110.4 76.1l1.3 1.4 2.7 0 1.1 1.3 0 3.3-1.1.2M115.5 82.1l1.6-.6 3.2 0 1.1.8 3.3 0 1 1.1 1.6 1.6 3.3.3 2.1 2.1 8.1.3 0 5.7 1.1 2.1 2.7 1.6-.3 2.2 1.3-1.6 1.6 2.6 1.1-1.6 1.1-1-.5-1.7.5-1-.5-4.9-1.7-1-.5-.9 2.7 0 2.7-1.3 2.1-1.6.6-3.2-1.1-2.7-1.6-.8-2.2-1.4 1.7-1.6 0-2.2 2.1 0M151.6 73.4l0-1.8-2.2 0M151.6 71.6l0-3.5-1.1-.8 1.6-1.9 2.1.5 3.8.3 1.1 1.1.9-1.9M129.5 60l.5 2.2 2.2.5 1.6 1.6 1.6-1.6 2.7-1.1 6.5 0 1 .8-3.2.8-1.6-1M136.5 65.9l1.6-1.3 1.6.8 1.1-1.1.5 1.1-4.8 1.1M145.4 67.5l1-1 1.1 1-1.1 1.1-1-1.1M92.1 64.6l1.3-1.1 2.2 0 0 1.3-1.6.8-1.6-.2-.3-.8M89.1 84.2l1.1-2.7 1.1-1.9 2.1-1 .3 1.8-1.1 2.2-1.8 1.1-1.7.5M105.3 84.5l1.6 1.1 1.1-1.1M109.3 84.5l1.4-1.4M95.3 92.8l.8-2.1 1.7-.3 1 1.3 2.7 0 1.6-2.6 1.1-1.1 1.6.5M103.1 89.1l-.5 2.1 1.1 1.6 1 1.6.3 3.3 1.9 1-.3 1.6-1.9.6-.2-3.2M97.2 94.4l.6 2.7 2.1 1.6 1.1 2.2 1.6.5M98.3 93.4l3.2 1 2.2 1.1M99.9 92.3l1.6 2.7 1.6 2.7M80 105.5l29.3 0M111.7 106l3.3.8 2.7.8 2.1.3M119.8 107.9l3.2-1.1 2.7-.5 1.1-1.6-1.3-1.7M124.4 102.8l1.1-1.4 1.3 1.4-1.3 1-1.1-1M126.8 104.7l2.7 1 1.1 1.1 3.2 1.1 1.1 1.1.5 2.6-1.1 1.7M125.7 106.3l1.6 1.6 1.1 2.1 3.2.6 2.2 1M119.8 107.9l-.5 2.1 1.6 1.6 2.1 1.1 2.7.6 2.7 1 2.2-.5 3.2-.5 2.2.5 3.2-.5 5.4.5 1.6 1.6.5 2.2-2.1 1M122 111.1l3.7-.3 1.1-1.3M128.4 111.6l5.4-1.6M119.3 110l-2.2 1.6-.5 2.2-1.6 1.6-.6 1.6 1.1 1.6.5 1.4M127.3 116l1.1 1-1.1 3M130.6 114.9l-.6 5.1M137 116l1.6 1-.5 3M140.3 115.4l.5 4.6M143.5 114.9l2.1 2.1-1 1.6M87.3 105.5l0 14.5M80 116.9l7.3 0M87.3 114.3l18 0M104.5 105.5l.8 2.9.5 5.9 1.1 2.2 0 3.5M160.2 65.5l2.7 1.5 1.1 1.3 2.1.3 1.1 1.6 4.3 0 .3 3.8 1.3 1.3 1.6 2.5 1.1 1.3 1.1-.8 3.2-1.1 1.1-2.1 1.1-2.2 2.1-.3 1.1 2.5 2.2 2.1 1.6 2.2 1.6 1 .5 1.7-2.7.5 2.2 1.6 1.6 1.1 1.6 1.6 2.7.5 2.7.8 1.6 1.9 2.7 1.1 1.1 1.6-.6 1.6.6 2.7-1.1 1.1-2.2 0M200.6 90.1l0 2.7M201.6 98.2l-3.7.3-2.2 2.7-2.7.2-13.9 0-1.7 1.6M177.4 103l-2.1 1.7-2.7.5-.5 2.1-3.8 0M201.6 98.7l-1 2.2-1.1 2.1-1.1 2.2-1.6 1.6-.5 2.2 2.1.2 5.4 0 .5-.8 1.1 1.1 2.7-.5 1.6-1.7 1.6-.5-1-2.1-2.7-.9-3.3-.2-.5-1.1-1.1.5 1.1-2.1.5-2.2M209.7 110.6l1.6 1.6 1.1-1.6-1.1-2.2M179.1 103l3.2-.5 3.2 0 2.2 1.1 2.1 1.6M173.7 106.3l1.6-1.6 2.7-.6 4.3.3 1.6.8-.5 1.6-2.2.5-2.7.6M172.1 107.3l.5 2.7 2.7.3.5 4 1.6 1.7 3.8.2 1.6-1.3-.5-2.2 1.1-2.1-.6-2.2M188.7 110.6l2.2-1.4 1.1.3M184.4 116l3.3 1 3.2-.5 2.1-.5 1.7-2.2M178 120l2.1-2.4 4.3.5M182.3 119.7l3.2-1.1M172.1 107.3l-1.7 2.2-1.6 2.1-1.6 1.1M170.4 111.1l-1.6 3.8-1.6 2.1-7 .3M162.4 117.6l.5 2.4M165.6 118.1l.5 1.9M172.1 97.9l1.3-1.6 1.3 1.6-1.3 2.4-1.3-2.4M178 88.2l1.3 1.9 1.9.8.5 1.6 1.1-1.8 2.2.8 1.9-1.1M180.7 89.1l1.6-.9 1.6.3M162.9 60.5l3.2 2.7 2.2 2.2 3.2.5 4.3 1.1 3.3.5 3.2 1.6 1.6-2.6-1.6-1.1M182.3 61.1l1.1 3.2M39.5 117l0 1.9-1 .5 0 5.7M38.5 125.3l0 6.2 1 .8 0 2.2 1.4 1.1 1.6 1.6.5 1.3 1.4.8 0 3 1.1 1.6.8 1.1 1 2.1 1.7 1.1 2.6 0 1.7 1.6 2.1 1.1.3 2.7.8.5 0 2.4 1.3 1.7 1.4 2.4 1.6 1.6 2.1 1.6.6 2.2-1.1 1.3-2.1 0M62.4 167.3l.3 1.9 1.9 1.1 2.1 1.6 1.9 1.9M43.6 136.1l1.9.5.2 1.1M43 137.4l1.1 1.1M38.5 125.3l31.4 0M48.4 125.6l0 8.9 3.2 1.1 1.7 2.9 1 1.6 2.7 1.6 2.2 1.1 1.6 2.2M63.8 125.6l0 15.1M63.8 140.7l-3 4.3 1.6 1.3.3 1.9 1.1.3-1.4 1.3-.5 1.6-1.6 1.6M55.7 153.6l4.6-.6M56.5 117l-1.1 1.6 1.1 1.1 0 5.6M64.6 117.5l2.1.8 3.8 0M70.5 118.3l0 10 9.5 0M75.6 128.6l0 27.4M64 140.4l16 0M61.3 154.1l3.8 0 3.2 2.4 9.2 0 .5-1 2 0M61.3 155.5l.3 4.5 1.3 1.7 2.2 1.6M61.9 155.5l2.7 1 2.1 3 .3 2.2.8 2.1 2.1 2.2 2.7 1.3-1 1.1 2.6 1.9.6 2.7 2.1.8M65.1 163.3l1.6 2.1 0 2.2 1.6 2.7 1.6 2.7.6.8M87.5 117l0 11.3M80 128.3l12.4 0M87.5 122.4l11.9 0 2.1.8 3.8.3 1.1 1.6.5 2.1 1.1 2.2 1.3 2.1.8 2.2.3 7M92.4 128.3l0 12.1M92.4 131.5l16.1 0M80 140.4l30.4 0M110.4 140.4l.3 1.9M90.8 140.7l0 14.8-10.8 0M92.1 142.3l5.1 0 .6 5.4 1.6.5 2.1 1.1 2.7.8 1.6-.3 2.7-.5 1.9 0M110.4 142.3l.8 2.7.3 2.1-1.1 2.2 1.3 2.7 0 2.7 1.1 2.1-.5 2.7.5 1.6M110.7 142.3l11.3 0M111.7 152.2l7 0M99.4 120.2l.2 1.9M106.4 117l0 4-1.1.6 1.6.8M106.4 121.2l11.3 0M114.4 117l2.2 2.2 2.1 2.1 1.1 2.2 1.6 1.6-.2 1.6-1.9 1.9-1.6 1M108 129.6l9.7 0M117.7 129.6l1 2.5 2.2 3.2 2.1 3.8 1.7 1.6M120.9 124.5l6.4 0M127.3 117l-.5 2.2.5 3.2 0 2.1 0 11.3-1 1.1.5 3.2-.5 3.3M124.7 140.7l-2.7 2.1-1.1 3.3-1.1 2.6-1.1 2.7.6 3.3-1.6 2.4 3.2.2 1.6.6.5 2.1M112.8 161.1l2.7 1.6 2.2-1 1.6 1.6 2.7-.6M123 160l2.7-.5 1.6 1.1M80 155.7l2.7 1.6 2.7 1.7 1.6 3.2 1.6 1.3 1.6-.2 1.1-1.6 3.2 0 1.6 3.2 2.7 2.7 0 2.1 1.6 1.6 2.7 1.1 1.6 1.1M104.7 173.5l-1.6-3.8.6-2.1 2.7-2.7 2.7-1.1 1-2.1 2.7-.6M125.7 147.1l0 12.4M122 146.1l13.4 0M122 142.3l4.8 0M126.3 140.9l29 0M132.2 146.3l1.1 4.1 1 3.7-.5 3.2M127.3 157.3l6.5 0M133.8 157.3l2.7 1.1 4.8.6 1.1-1.1M127.3 157.3l1.1 1.7 2.7 1 2.2 2.2 1-1.6 2.7-.6M137 160l1.6 2.7 1.1 2.7 0 2.2 1.6 2.1 1.1 3.8M142.4 159l1.1 3.7 1.1 2.7.5 3.2.5 2.2 0 2.7M148.3 170.3l3.8 0 1.6 1-1.6 1.1M135.4 146.1l2.7-1.1 5.4 0 3.2 1.1 2.7 3.2 2.2-.6M138.1 146.3l1.6 3 1.6 1.6 1.1 2.7 1.1 1.1M143.5 154.7l-1.1 3.2M155.3 145l-2.1 2.1-1.6 1.6-2.2 1.1-2.7 2.2-3.2 2.7M127.3 135.8l2.2 1.6 2.1-1 2.2-1.1 1.1-.5M134.9 126.7l0 8.1M127.9 126.7l11.3 0M134.9 134.8l4.3.5 1.6 1.6 1.1 1.6 2.7.6 2.1-2.2 2.2-2.7 1-1.1M140.8 135.3l2.1-2.2 3.3-.5M144.6 126.1l0 6 12.9 0M144.6 126.1l13.4-.5M158 125.6l1.1 1.6-1.6 2.2 1 2.7M139.2 140.7l2.7 1.6-1.1 1.1-3.8.5-2.1 2.2M149.9 133.1l1.1 1.7 3.2 1.6 1.1 2.1M156.4 145.5l1.6 0M130.6 117l0 8.6M136 120.2l3.2.6 1.1 1.6-1.7 2.1.6 2.2M138.1 117l-1.1 2.2M142.4 117l-.5 1.6M162.4 117.5l0 6.5-1.1 1.6 0 2.2M162.4 118.1l5.4-.6.5 3.8.5 2.7 1.1 1.6 1.1 1.1-1.6 1.1-3.3 0-1.6 1.8-3.7 0-.6 3M168.3 121.3l3.2-1.3 4.3-1.7 2.2-1.3M164 119.2l2.1.5-1.6 1.6-.5 1.6M162.9 124l4.3 0 .6 1.6M179.3 118.6l1.4 2.7 1.6 0 1.1-2.1 3.2-1.1 4.3-.6M118.2 20.4l5.7-.1M122.6 21.1l2.8 0M132.4 26l2.4-.3M137.5 8l5.9 1.9M134.3 21.8l2.6-.9M124.3 8.4l2.7-.5M84.4 18.1l3.8.9M123.5 22.4l4 .4M118.6 13.7l6 2.1M149.2 24l3.3-.6M105.1 8.7l5.1-.4M149.7 16.3l5.9 1.4M154.8 18.3l5.9-.4M87.8 22.1l5.2-.8M89 15l5.8 1M91.4 12.9l2.4-.7M145.8 11.3l4.2-.2M97.3 24.6l2.5.2M91.3 17.1l2.9-.5M106.3 28.2l2.9-.2M150.4 22.4l2.4.8M99.1 13.2l5.1-.6M105.7 8.8l2.4.1M101.4 21.4l3.5-.1M158.7 18.6l4.3 1.1M96.6 10.7l5.7 1.3M102 11.6l4.9 1.5M152.6 21.5l3.7-1M101.1 23.9l3 .7M129.7 14l2.7.5M126.7 27.5l4.5-.7M117.7 8.5l2.7-.3M127.8 10.2l3.4.9M137.3 21l2.6-.8M83.7 22.3l3.9.6M88 20.1l5 1.4M141 23.9l5.1 1.5M110.1 23.4l5.7 1.5M115.4 26l5.4.3M132 16.2l4.3.3M88.4 22.3l6 1.6M140.3 16.3l4.9.3M117.2 27.1l2.4.4M84.4 21.4l3.9-.7M137.9 18.9l4.4 1.3M106.1 23.3l2.8-.7M154.5 22.8l3.7 1.1M108.2 23l2.8-.2M152.4 16.2l4.4-.5M92.9 18.9l5.3 1.3M138.9 29.8l3.1-.7M118.1 13.6l2.8-.2M132.1 18.9l3.2.7M160.6 17.9l2.3-.8M138.7 20.7l3.2.7M118.4 7.6l5.3-1M132.3 17.7l4.6.5M136.8 11.8l3.9-.9M82.9 18.3l4.8-1.1M103.8 15.3l4.8.1M131.2 25.1l3.5.8M156.6 24.3l2.5 0M132 28.8l3.6.2M152.3 26.1l5.8-.1M134.1 11.9l4.9 1.1M133.3 24.2l2.9.8M125 26l3.2.9M150.5 15.4l2.3-.1M126 25.4l4-1.3M146 11.1l3.3.7M86.9 31l5.4.7M111 26.9l5.8-1.7M70.4 27.5l3.2.5M93.8 27.4l5.4.2M75.5 24.9l5.3 1.5M69.7 33.3l5.8.1M90.1 21.6l4.1 0M91.9 18.5l5.9.1M80.4 32.4l4.3 0M96.7 19.2l4.2-.3M73.1 26.5l2.5-.1M84.7 23.7l2.8.2M68.9 22.1l4.7-.6M77.9 29.2l2.4.3M64.9 27.2l3-.6M87.7 25.9l3.5-.3M87.6 20.9l2.9.2M93.8 27.5l5.4.5M106 22.2l4.9 1.1M108.5 23.7l3.3 1M71.4 31.1l3-.9M104.6 25.6l5.2-1.4M134.2 33l2-.5M150.9 36.6l5.9-1.6M140.3 34.1l4.1.6M143.1 30.2l4.3-1M121.1 25.3l5.3 1.8M137.7 34.2l3.3 0M140.9 28.9l4.4-1.5M152.1 35.5l2.7-.1M154.4 28.5l2.7-.7M140.8 22.2l5.5 1.2M152.3 35.8l4.5-.3M146 30.1l5.9 1.2M125.5 36.6l5 .9M158.9 28.5l5.6 1.5M151.7 34.3l5-.4M153.4 23.1l3.3 0M148.3 32l3 .9M150 27.4l4.6.2M142 28.2l6 .6M152.1 34.2l5.9-2M146.9 33.8l3.1-.2M132.5 23.6l3 .8M143 30.1l5.9.3M145.9 34.1l2.1.7M119.6 29.5l2.7 0M171.3 36.5l5.8-.3M167.3 50.5l3.4-.5M173.4 49.6l3.2.5M149.5 54.6l3.6 1M162.6 47.4l5.9-1M167.1 59.4l4.9-.1M171 38l4.5-.1M167.3 38.2l3.8.5M163.9 41.8l4.3-.2M179.3 48.8l6 1.9M177.2 41.2l2.5.7M179.6 51.2l3.5-.5M174.9 49.7l4.3.4M178.2 39.9l3 1M155 46.1l4.5-1.3M168 36.9l2.3.3M168.4 51.4l3.5 0M152.1 43.9l5 1.2M180.8 51.2l5.1-1M162.4 41.7l5.2-.5M157.6 49.3l5 1.4M162.5 44.6l2.4.6M169.1 47.6l4.7-.7M152.2 52.2l2.4-.3M176.8 53l3.1-.7M159.2 53.9l3.4-1M176 49.8l5.7 1.7M185.8 46.4l5.3-.7M157.2 45.4l5.8 1.6M153.9 44.4l3.5-.3M161 45.1l2.8.1M180.3 49.1l5.3.2M150.5 54.7l5.5-.8M143.1 48.4l4.1.2M163.1 44.4l5.2-1.6M151.3 46.6l2.3-.7M156.6 48.4l2.4.2M140 45.9l4.6-.8M142.2 46.2l4.1.8M147 39.4l5.9.7M149.8 42.6l4.9.7M161.6 40.6l5.3.6M159.9 46.9l5.3 1.4M162.8 44.2l4.1.6M158.5 40.7l3.6-.9M146.5 36.7l2.8-.2M86.8 40.9l2.4.3M132.7 38.9l2.2-.1M120.4 50.5l2.1-.5M94.8 39.5l3 .4M121.1 39.6l2.7-.4M94 48.1l3.3.1M135.3 43.7l3 .8M141.5 41.5l4.2 1.3M113.9 39.5l2.2.7M134.3 42.2l4.1 0M125.1 39.8l2 0M106.8 48.7l4.8.4M93.1 38.5l3.3-.5M138.6 44.3l4.6 1.5M100.1 44.6l2.6.4M137.2 49.2l2.3-.4M128.9 37.6l3.9-.1M144.2 45.4l5.4-.8M133.5 42.7l5.7-1.7M135.9 39.3l4.2.1M93.1 49.3l3.2-.4M87.9 40.9l3.8.6M106 47l2.4-.2M112.6 51.5l5.3.5M128.4 39.8l4.3-.1M134.2 39.3l4.4-.6M107.1 44.6l3.2-.3M108.1 46.7l3-.7M129.8 41.3l5.8.2M129.3 41.3l5.3-1.5M12.4 79l1.9 2.6M12.8 81.4l2.5 2.6M10.2 77.9l1.7.6M22.1 87.4l3 2.3M23.9 92.9l1.7 3M20.5 87.7l2.4.6M19.8 89.6l2 3.3M29.4 97.5l1.3.9M17.8 87.5l1.5 1M23.4 93.4l2.4 2.6M10.8 82.1l2.7 2.6M18.7 87.3l1.1 1.5M41.5 107.6l1.6 2.9M11.6 84l2.8 1.2M9.8 77.7l1.8 2.4M16.4 88.1l1.9 1.6M8.9 81.7l.8 1.7M25.4 93.6l2.5 1.4M37.1 106.9l2.4 2.6M9.3 81.1l1 2M14.4 84l3.3 1.4M27.1 91.9l1.5.7M40.1 109.2l2.7 1.6M29.4 98.4l1.7 1.8M36.5 99.9l1.6 1.3M11.5 80.2l2.7 1.1M25.5 91.7l2.5 1.6M30.6 94.8l3 1.2M40.2 107.1l2.2 1.6M27.8 96.7l1.9 2.8M21.8 93.4l1.7 3.2M20.9 88.8l1.3 2.7M24.9 92.9l1.1 2.4M19 84.6l1.4 3M32 99.8l2.9 1.7M28.8 93.4l1.4 1.1M24.4 91.7l1 1.3M25.8 91.9l1.9 1.3M15.9 81.9l1.4 3.5M28.7 98.7l1.4 2.2M13.2 84l1.2 2.7M8.6 80.2l1.3 1.3M41.9 104.6l1.8 1M19.1 84.8l1.9 3.2M20.8 88.2l2.8.8M5.8 78.5l1.7 1.5M38 107.7l2.5 1.1M15.2 87l3.4 1.6M36.6 102.3l2.5 1M36 106l1.3 1.5M11.6 83.5l1.6.6M32.7 98.5l1.8 3.4M32.9 97.5l1.3 2.9M23.4 88.7l1.8 1M32.6 97.6l1.7.9M29 98.4l1.5 1.8M37.5 104.6l1.8 1.1M38.8 106.3l1.4 1.7M7.6 80.7l1.9 1.8M26.6 91.3l2.6 1.5M210.7 42.2l.5 1.6M215 54l.1 2.2M210 40.7l2.1 3.4M211.4 47.2l-.8 2.3M214.9 47.8l-.2 2.9M211.8 44.7l.2 3.5M210.9 48.3l.2 3.2M215.9 58.7l1.4 3.1M214.8 50.5l-.5 2.5M211.8 55l.2 2.1M212 41.3l1.4 2.4M211.9 50.4l-.8 2.8M214.4 40.1l.2 1.6M213.2 46.4l-.4 2.1M209.7 37.9l.1 3M215.1 54.9l.6 1.8M213.2 36.9l.2 3.1M212 42.4l-.4 1.7M213.8 40l-.2 1.9M211.9 56.1l.3 1.6M214.4 44.6l2 3.4M211.4 47.9l1.7 3.6M211.4 47l.6 1.6M215.9 57.2l.7 2.4M215.4 46l-.7 1.4M212.1 54.4l.7 2M214.6 49.1l-.9 2.5M213.7 44.7l-.1 3.9M212.7 36.9l1.5 2.7M211.5 44.3l0 3.7M195 113.2l1.5 1.9M189.1 111.5l1.9.8M187.7 109.3l1.9.5M188.2 109.1l2 1.1M195.5 114.7l3.5.9M190.9 108.5l3 1.2M190 107.6l1.8.6M188.8 112.2l3.2 1M190.5 108.7l3.5 1.5M193.1 113.6l3.7.2"/>
<path class="cl" stroke-width="1.6" d="M55.4 42.8l14.5.5M56 25.3l3.2-2.2M62.4 29.6l3.2.8M37.7 54.9l5.3.2M142.4 6.2l17.6 0M124.7 11.6l16.1 0M141.9 12.6l12.9-.5M108 13.4l4.3-1M124.1 13.4l17.2.6 5.4 1.6M85.9 18.3l2.2 1.1M97.2 14.5l3.2.8M105.8 22.1l8.6 0M113.4 16.4l6.9.5M128.4 16.1l5.4-.5 8.6 2.7M127.3 19.4l13 1M151.6 18.3l8.4-1.1M83.2 21.8l2.7 1.3M87 24.7l3.8 2.2 3.2-1.1M96.1 28.5l6.5.8M105.3 29.6l8.6 1.1M117.7 25.3l6.4 1.1M85.9 40.3l2.2 1.7M121.4 39.5l4.3 1.9 4.3 1.1M143.5 36.6l8.6.5M144.6 35l6.4.5M155.3 37.1l4.7 2.7M138.1 43.8l9.1.6M130.6 54.9l7.5 2.1M89.1 45.2l6-1.6M123 57l6.5 1.6M164.5 5.6l5.9.3M173.1 7l4.9.3M175.8 12.9l4.3 1.6M165.1 14.8l3.2-.8M168.8 24.2l5.4.3M201.6 31.7l3.8.6M214.6 47.3l2.1-1M213.5 50.6l3.2 0M176.9 49.5l8.1 2.1M160.2 49l2.7 1M180.1 55.4l4.3 2.2M165.6 58.6l3.8.6M23.1 86.9l.6 5.4M76.9 109.2l3.1 0M54.9 70l3.7.1M112.8 61.6l2.2.8M113.4 67l2.1-.3M141.3 93.9l3.3.3M137 66.2l2.2-.3M80 75.5l3 0M88.1 91.2l1 1.3M80 108.7l1.6-.3 1.1 1.4M89.4 108.2l1.1-.9 1.1 1.7 2.9.2M95.3 112.2l1.4 1.1-.6 2.7-.8 2.1M153.2 110.6l1.3-1.4 1.4 1.4-2.7 0M151 119.7l4.3-1.6 4.7-.8M167.2 73.4l4.3 0M169.4 76.1l2.1 0M171 79.4l2.7-.3M185 74.5l2.7 3.3M160.2 102.5l.3-2.7 1.3-1.3 2.2-.3-1.6 1.6-1.6 2.7M181.2 90.1l1.1 2.2M164.5 62.2l3.8 3.2M179.6 68.1l3.8.5M174.2 72.6l1.6-1.3M45.5 143.4l.8 1.6M66.7 126.1l0 2.5 1.1 1 1.1-1.3M69.9 139.9l2.7-2.7M95.1 118.3l1-1.3M161.8 126.7l2.7-.6 2.2.6"/>
<path class="cl" stroke-width="2" d="M117.7 10.5l8 0M131.6 33.4l5.4 2.1-3.2 2.2 1.1 3.2M103.1 49.5l4.9 3.2M172.1 10.8l12.3.5M164.5 21.5l14.6 1.6M210.8 38.7l5.4 2.2M210.3 49.5l6.4-1.1M210.8 51.6l1.6 5.4M210.8 53.8l3.8 5.4M160.2 40.1l5.9 1.3M5.4 76.1l4.3 2.2 2.1 3.2 4.3 3.8 2.2 2.1M10.8 74.5l4.3 4.3 3.2 3.8M26.9 92.3l3.2 4.3 2.2 3.2 5.4 3.2 3.2 2.7M41.4 109.8l2.2 0M69.4 65.9l4.8-1.1M69.9 76.9l1.7-.2M146.7 84.2l2.7-.5M149.4 76.9l1.1 0M149.9 60.5l4.3 0M149.4 63.8l3.2-1.1 1.6-1.1M133.3 111.6l3.7 2.2M136 114.3l3.2 1.1M116.6 111.6l1.1.6M192.5 91.7l3.2-1 4.3-1.1M204.3 111.1l2.7-.5 2.7-2.2 1.6-2.1M186.6 103l3.2 1.9M179.1 107.6l3.2-.3M168.3 107.9l3.2.5M167.2 111.6l1.1.6M160.2 60.8l2.2-.3M172.6 62.7l5.4 1.6M62.4 141.2l1.1 2.2M61.3 152.5l1.1.5M64.6 162.7l1 1.6M123.6 140.1l2.1.6M120.3 159.5l2.7.5M122.5 162.7l1.1.3M109.1 161.7l1.6.5M143.5 169.7l2.7.6M152.1 133.7l4.8 0M138.6 125.1l4.3 1M139.7 120.2l1.1 2.2M162.4 127.8l2.7-1.1M187.7 117.5l3.2 0"/>
<path class="cl" stroke-width="2.6" d="M171.5 43.6l5.4 2.1M96.1 92.3l2.2 1.1M109.3 103.6l2.4 2.1M183.9 111.6l3.8 2.2 3.2 1.6M192.5 112.2l1.1 2.1M213.5 60.5l3.2 2.7M154.2 134.8l2.2 3.7M154.8 138.5l1.6 7M142.9 125.1l3.8-2.7 8.1-2.2 5.2-2.1M160 120.2l2.4-1"/>
<rect class="fr" x="0" y="0" width="218" height="175"/>
<path class="tk" d="M-5.5 160.3H-1M-5.5 131.3H-1M-5.5 102.2H-1M-5.5 73.2H-1M-5.5 44.1H-1M-5.5 15.1H-1M0.3 176V181.2M48.9 176V181.2M97.4 176V181.2M146 176V181.2M194.5 176V181.2"/>
</g>
<text class="s" x="247.2" y="1095.2" font-size="16.72" fill="#000" textLength="27.8" lengthAdjust="spacingAndGlyphs">30N</text>
<text class="s" x="247.2" y="1065.9" font-size="16.72" fill="#000" textLength="27.8" lengthAdjust="spacingAndGlyphs">40N</text>
<text class="s" x="247.2" y="1036.7" font-size="16.72" fill="#000" textLength="27.8" lengthAdjust="spacingAndGlyphs">50N</text>
<text class="s" x="247.2" y="1007.4" font-size="16.72" fill="#000" textLength="27.8" lengthAdjust="spacingAndGlyphs">60N</text>
<text class="s" x="247.2" y="978.1" font-size="16.72" fill="#000" textLength="27.8" lengthAdjust="spacingAndGlyphs">70N</text>
<text class="s" x="247.2" y="948.9" font-size="16.72" fill="#000" textLength="27.8" lengthAdjust="spacingAndGlyphs">80N</text>
<text class="s" x="266.8" y="1122.7" font-size="16.28" fill="#000" textLength="36.6" lengthAdjust="spacingAndGlyphs">140W</text>
<text class="s" x="315.4" y="1122.7" font-size="16.28" fill="#000" textLength="36.6" lengthAdjust="spacingAndGlyphs">120W</text>
<text class="s" x="363.9" y="1122.7" font-size="16.28" fill="#000" textLength="36.6" lengthAdjust="spacingAndGlyphs">100W</text>
<text class="s" x="416.6" y="1122.7" font-size="16.28" fill="#000" textLength="28.4" lengthAdjust="spacingAndGlyphs">80W</text>
<text class="s" x="465.1" y="1122.7" font-size="16.28" fill="#000" textLength="28.4" lengthAdjust="spacingAndGlyphs">60W</text>
<g transform="translate(284,1225)">
<g class="c"><rect x="215" y="151" width="3" height="7" fill="#ffe878"/><rect x="203" y="144" width="6" height="7" fill="#ffe878"/><rect x="209" y="144" width="6" height="7" fill="#ffa000"/><rect x="215" y="144" width="3" height="7" fill="#ff3200"/><rect x="94" y="136" width="6" height="8" fill="#ffe878"/><rect x="179" y="136" width="24" height="8" fill="#ffe878"/><rect x="203" y="136" width="6" height="8" fill="#ffa000"/><rect x="209" y="136" width="9" height="8" fill="#ff3200"/><rect x="64" y="129" width="12" height="7" fill="#ffe878"/><rect x="88" y="129" width="12" height="7" fill="#ffe878"/><rect x="167" y="129" width="18" height="7" fill="#ffe878"/><rect x="185" y="129" width="18" height="7" fill="#ffa000"/><rect x="203" y="129" width="15" height="7" fill="#ff3200"/><rect x="64" y="122" width="6" height="7" fill="#ffe878"/><rect x="70" y="122" width="6" height="7" fill="#ffa000"/><rect x="76" y="122" width="12" height="7" fill="#ffe878"/><rect x="106" y="122" width="12" height="7" fill="#b4f0fa"/><rect x="124" y="122" width="12" height="7" fill="#b4f0fa"/><rect x="167" y="122" width="6" height="7" fill="#ffe878"/><rect x="173" y="122" width="18" height="7" fill="#ffa000"/><rect x="191" y="122" width="27" height="7" fill="#ff3200"/><rect x="70" y="115" width="18" height="7" fill="#ffe878"/><rect x="94" y="115" width="42" height="7" fill="#b4f0fa"/><rect x="167" y="115" width="6" height="7" fill="#ffe878"/><rect x="173" y="115" width="12" height="7" fill="#ffa000"/><rect x="185" y="115" width="6" height="7" fill="#ff3200"/><rect x="191" y="115" width="18" height="7" fill="#ffa000"/><rect x="209" y="115" width="6" height="7" fill="#ffe878"/><rect x="215" y="115" width="3" height="7" fill="#ffa000"/><rect x="88" y="107" width="6" height="8" fill="#b4f0fa"/><rect x="94" y="107" width="24" height="8" fill="#50a5f5"/><rect x="118" y="107" width="31" height="8" fill="#b4f0fa"/><rect x="173" y="107" width="6" height="8" fill="#ffe878"/><rect x="179" y="107" width="12" height="8" fill="#ffa000"/><rect x="191" y="107" width="6" height="8" fill="#ffe878"/><rect x="215" y="107" width="3" height="8" fill="#ffe878"/><rect x="70" y="100" width="12" height="7" fill="#b4f0fa"/><rect x="82" y="100" width="54" height="7" fill="#50a5f5"/><rect x="136" y="100" width="31" height="7" fill="#b4f0fa"/><rect x="197" y="100" width="12" height="7" fill="#b4f0fa"/><rect x="0" y="93" width="9" height="7" fill="#b4f0fa"/><rect x="70" y="93" width="6" height="7" fill="#b4f0fa"/><rect x="76" y="93" width="60" height="7" fill="#50a5f5"/><rect x="136" y="93" width="13" height="7" fill="#b4f0fa"/><rect x="149" y="93" width="24" height="7" fill="#50a5f5"/><rect x="173" y="93" width="12" height="7" fill="#b4f0fa"/><rect x="185" y="93" width="12" height="7" fill="#50a5f5"/><rect x="197" y="93" width="12" height="7" fill="#1464d2"/><rect x="209" y="93" width="9" height="7" fill="#50a5f5"/><rect x="0" y="85" width="9" height="8" fill="#50a5f5"/><rect x="9" y="85" width="6" height="8" fill="#b4f0fa"/><rect x="70" y="85" width="12" height="8" fill="#b4f0fa"/><rect x="82" y="85" width="79" height="8" fill="#50a5f5"/><rect x="161" y="85" width="12" height="8" fill="#1464d2"/><rect x="173" y="85" width="12" height="8" fill="#50a5f5"/><rect x="185" y="85" width="33" height="8" fill="#1464d2"/><rect x="0" y="78" width="9" height="7" fill="#50a5f5"/><rect x="9" y="78" width="6" height="7" fill="#b4f0fa"/><rect x="45" y="78" width="61" height="7" fill="#b4f0fa"/><rect x="106" y="78" width="36" height="7" fill="#50a5f5"/><rect x="142" y="78" width="76" height="7" fill="#1464d2"/><rect x="0" y="71" width="9" height="7" fill="#b4f0fa"/><rect x="39" y="71" width="85" height="7" fill="#b4f0fa"/><rect x="124" y="71" width="12" height="7" fill="#50a5f5"/><rect x="136" y="71" width="82" height="7" fill="#1464d2"/><rect x="39" y="64" width="85" height="7" fill="#b4f0fa"/><rect x="124" y="64" width="12" height="7" fill="#50a5f5"/><rect x="136" y="64" width="79" height="7" fill="#1464d2"/><rect x="215" y="64" width="3" height="7" fill="#50a5f5"/><rect x="45" y="56" width="85" height="8" fill="#b4f0fa"/><rect x="130" y="56" width="12" height="8" fill="#50a5f5"/><rect x="142" y="56" width="61" height="8" fill="#1464d2"/><rect x="203" y="56" width="15" height="8" fill="#50a5f5"/><rect x="57" y="49" width="7" height="7" fill="#b4f0fa"/><rect x="88" y="49" width="48" height="7" fill="#b4f0fa"/><rect x="136" y="49" width="82" height="7" fill="#50a5f5"/><rect x="94" y="42" width="124" height="7" fill="#b4f0fa"/><rect x="136" y="35" width="6" height="7" fill="#b4f0fa"/><rect x="161" y="35" width="57" height="7" fill="#b4f0fa"/><rect x="0" y="13" width="21" height="7" fill="#b4f0fa"/></g>
<path class="cl" stroke-width="1" d="M.8 45.1l2.2 0 1 1.1 1.6.2.9 1.1 3.5 0 .8-1.2.8 2.4 1-3.2.8 3.2 1.1-3.2 1.6.8 1.4 2.4 1.9-3 .2-1.2 1.9.2.8 1.7 1.4-2.8 2.1-.3.6 1.1 2.1 0 1.9-2 1.1 1.2.8 1.9 2.7.2.5.8 1.6-2.1 1.6 2 1.6.1 1.4-2 4-.1.8 1.1 1.9.1 1.1.8 3.2 0 .8 1.1 3.5 0 .8-1.1 5.7 0 .8 2 .8.6 7 0 1.1.5 2.1-.8 1.1-1.1 3.6 0M59.2 50.6l2.7-1.9.5 1.6 11.8 0 2.2 1.1 2.1 2.9 1.5.3M34.4 38.3l1.1-1.2 2.2-2.7 1.8-.9-1.8-1 .8-1.3 16.4 0 .5 1 2.4.3 1.4 1.4-2.2 1.3-3.2.6-2.2 1.2-3.2.4-1.1 2.1-.8 1-6.2 0-.8-.8-2.4-.3-1.3-1.1-1.4 0M51.1 37.1l1.6 2.7 1.1 1.6 1.6.6 1.1 2.7 1.3 1.6M51.6 37.1l2.2-1.6 3.2-1.1 2.2-.8 4.3.8 1.1 1.1-3.3 1.1 3.3-.3M52.2 39l7 1.1 1.6-.8M64.6 35.5l3.2.3 1.6 1.3 2.2-.5 1.6-1.1 1.6 1.1 2.1-.6 1.1 1.7-.5 1.6 2.5-1.6M76.9 34.4l3.1-.5M41.2 26.4l1.3-1.1 3.8 0 .8-1 1.9 0 1.3-2.1 9.4 0 0 1.5-1.6 1.3 6.5-.5-3.8 1.3-.5 2.7-4.9.8 1.1-2.4-2.7 1.1-1.3.5-.9-1.3-3.2.2-1.1-1.3-6.1.3M51.9 26.4l1.4-1.5 1 1.2-1.3 1.3-1.1-1M61.3 21.5l1.1-1.1 1.1.9 2.7.9 6.4 0 .6-1.5 1.6-1.3-2.7-1.1-2.2.5-4.8.5 1.6.9 3.2.1M60.8 25.3l3.8 1.1 4.8.2 1.6 1.4 1.1-1.4 2.1-2.1 2.7 0 3.1 2.9M71 28l0 1.9 3.8.5 5.2-1.1M61.9 29.3l1.6 1.9 6.4 0 0-1.1M35 53.4l1.9 0M36 55.4l2.7-1.1 4.9.1 1.1-1.1 3.2 0 1.1-1.1 1.6 1.1 4 1 0 2.2-.8 1.1-1.1-1.4-2.7-.2-.5 1.8-2.7.6-1.1 1.3M40.1 58.4l2.4-.3.5-2.1 2.7-.6-1 1.6 3.2-.5 1.1-2.7 2.6 1.6M139.2 8.1l4.3-.6 4.3 1.4-4.3.5M117.7 9.7l8.6-.6 7.5-1.6 5.4.6M149.9 11.3l4.3-.5M105.3 15.6l2.7-2.7 3.2-1.3 6.5-1.9M112.3 14l2.7-1.9 3.7-.5 2.2 1M83.2 17.2l3.8-1.1 5.4 1.4 5.4 1.1 1.6 2.4-8.1.3-4.3-1.4-1.6-1.9-2.2-.8M101.5 18.6l3.2-.3 4.4 1.6 5.3.8M112.3 16.1l8.6 1.1 1.1 1.6-7-.2-2.7-2.5M130.6 17.8l8.6 0M149.4 17.2l10.6-1.6M149.9 20.4l5.4 1.1 4.7-3.7M82.2 21.5l4.3 2.2M120.9 21.5l6.4 1.1M119.8 20.4l6.5-2.6M94 24.7l7.5-.5 2.2 2.7-1.1 2.4-6.5 0-2.1-2.4M80 27.4l3.8-.5-.6 2.2-3.2.5M85.4 29.6l3.2-1.6M105.3 24.2l2.7.5 2.1 2.2 2.2 1.1M106.9 28l5.4.5M113.4 24.7l4.3 1.1 6.4 2.2M123 23.7l5.4 1 5.4-.5 7.5 1.1 3.3-.6M124.1 27.4l7 .6 15.1-1.1 2.7-1.1 1-2.7-8.6-.5M115.5 26.9l1.1 2.7 5.4 1.1 8.6.2 3.2-.8 6.5 1.1 7.5-.5-1.1-1.6-2.1 1M141.3 22.6l10.3.5-1.1 2.2M107.4 33.4l1.7-1.1 12.9 0-4.3 3.2-5.4 1.1M107.4 33.4l1.1 3.2 1.6 2.1 4.3 2.2 3.3 2.1M80 33.9l7-.3-1.1 1.4-2.7-.6 2.2 3.3 1.6 3.2 1.6 1.6 9.2 0M90.2 36.6l2.7-2.7 4.3-1.6 6.5 0 1.6 2.1 1.6 2.7-1.6 2.2-4.9 1-2.6-2.1-3.8-1.1-3.8-.5M101.5 35l2.7 1.6-.5 1.1M121.4 38.7l1.1-3.7 2.2-1.6 5.3-.6 1.6 2.7-1 4.3M130 30.1l1.1 12.9M136.5 33.4l15.1-.3 3.7 1.9 4.7 3.7M104.7 42l4.4-2.7M115 42l3.7 1.6-1 1.6 4.3 4.3 1-2.2 3.3-.5 1 3.8 2.2 2.1 2.1-2.1 1.1-3.3-1.1-3.2 6.5-.5 9.7.5 1.1-2.1 1 2.1 5.4 1.1 4.7 3.2M139.2 45.7l3.2 1.1-2.1 2.7 2.6 2.1-2.6 2.2-5.4-1.1-5.4 2.2 2.1 3.2 4.4-2.1 3.2 2.1M80 45.7l3.2 1.1 1.6 1.6 4.3 2.2 12.4 0 2.2 1 2.1-1 3.3 3.7 0-5.9 4.3-.5-1.1-2.2-5.4-1-3.8 0-3.2 2.6-1.6 0M90.8 44.7l1.6 3.7M95.1 47.3l1.6 0M118.2 55.4l3.8 1.1 3.2 1.6 4.3 1.1M146.7 47.3l2.7-2.6 0 3.2M152.1 51.6l3.2-2.1 4.7 1.1M152.1 51.6l3.2 1.7M149.9 59.2l2.7-1.1 7.4-.5M160.2 6.5l3.2 0 1.1-1.1 6.5 0 .5 1.1 13.5-.2 5.9 1 1.6 2.1 5.4.3.5-1.1 15.1 0 3.2.3M198.4 10.2l4.3.3M209.2 10.5l1.6-1.1M184.4 10l6.5-.3 2.1 1.9-5.3.5-2.2-.8M160.2 16.1l3.8-.5 6.4-3.8 2.2-1.3M163.4 20.4l2.2-1 7-.8 1.1-1.1 8.6-.3 0-1.6-1.6-.8 4.8-.5M173.1 26.4l6 0 1-1.1 1.1 1.1 3.8-.3 1-.8 1.1 1.3 1.1-1.3 1.1 1.1 6.4 0 1.1 1 2.2.3 2.6 3 3.3 1 1.1 3.3 1.6.5-2.2 1.6 0 3.2 1.6.6 2.2-2.2 1.6-1 4.8 2.1M207.6 39.8l2.1.5-.5 2.2 5.4 0-2.7 2.2-4.9 0 1.1 1.6 2.7 0M160.2 39l4.9.8 3.7 1.6 3.3 1.1M173.7 48.4l4.3 1.1 4.3.5 4.3 2.2 3.7 1.1.6 1-3.2 2.7-2.7 2.2M160.2 47.9l2.2.5 2.1 3.2 3.3 2.2 3.7 1.1M159.7 56.5l2.7-3.2 2.1-.6M166.1 52.7l2.2-.5 3.2 1.6 1.1 1.1-3.8.5M174.2 54.9l3.8 0 4.3 0 2.7 2.1M175.3 56l1.6 2.1 3.2.5M.8 72.4l1.9.2 2.1 2.5 4.3.2 2.2-1.9 1.6 1.1 3.2 3.3 2.7 3.7 3.8 1.6 2.7 2.7.5 3.3-1.1 1 2.2 1.6 2.2-.5 2.1 3.2 1.6 2.7-.5 1.6 3.2 1.1 2.2 1.1 2.1 1.6 2.2 2.7.5 2.1M28 100.3l3.2 2.7 3.2 1.7 2.7 1.6.6 2.1M17.2 90.7l3.2-.3-1.6 1.9 2.7 4.3M17.2 90.7l0 2.7 2.2.5M16.1 72.1l2.7 1.1M37.7 108.4l1 3.2.6 2.2.5 3.2-1.1 3M37.7 113.3l3.7 0 1.1 1.6 5.4.2 1.1-1 7.2 0M42.5 105.5l37.5 0M56.2 105.5l0 8.6 1.4 1.3-2.2 3.2.6 1.4M57.8 105.7l.8 3.3 3.3 2.6 1 3.3 2.2 2.7 1.6.8 3.2 0 1.1-1.4 9 0M71 117l0 3M37.1 82.1l1.6 2.1 2.7 1.6 1.6-1.3 1.1 1.1M41.4 85.8l0 1.9M51.1 94.2l.5 1.6 3.3 1.6M54.9 100.1l-1.6 1.9 1 1-1 1.7 0 2.9M49 69.6l4.3-.2.5-.8 1.6 1.4 3.2 0 1.1-1.9-.5-2.7 1.6 1.3 2.7-.2 1.1 1 3.2 0 1.6-2.1 2.7-1.1 3.8 1.1M59.2 71.3l1.1-1.3 4.3.2 2.6-1.6 1.1-1.1M69.9 77.2l2.2-1.6 2.1-1.3 2.7 0 3.1 1M72.1 76.1l3.2.3 4.7-.5M112.3 61.3l2.7 1.1 4.3.3 2.1-1.4 6.5-.2M120.3 62.7l-.5 1.6-2.1 1.1-3.3 1.6-2.1 1.6-1.9 3 0 4.5-1.3.3M110.4 76.1l1.3 1.4 2.7 0 1.1 1.3 0 3.3-1.1.2M115.5 82.1l1.6-.6 3.2 0 1.1.8 3.3 0 1 1.1 1.6 1.6 3.3.3 2.1 2.1 8.1.3 0 5.7 1.1 2.1 2.7 1.6-.3 2.2 1.3-1.6 1.6 2.6 1.1-1.6 1.1-1-.5-1.7.5-1-.5-4.9-1.7-1-.5-.9 2.7 0 2.7-1.3 2.1-1.6.6-3.2-1.1-2.7-1.6-.8-2.2-1.4 1.7-1.6 0-2.2 2.1 0M151.6 73.4l0-1.8-2.2 0M151.6 71.6l0-3.5-1.1-.8 1.6-1.9 2.1.5 3.8.3 1.1 1.1.9-1.9M129.5 60l.5 2.2 2.2.5 1.6 1.6 1.6-1.6 2.7-1.1 6.5 0 1 .8-3.2.8-1.6-1M136.5 65.9l1.6-1.3 1.6.8 1.1-1.1.5 1.1-4.8 1.1M145.4 67.5l1-1 1.1 1-1.1 1.1-1-1.1M92.1 64.6l1.3-1.1 2.2 0 0 1.3-1.6.8-1.6-.2-.3-.8M89.1 84.2l1.1-2.7 1.1-1.9 2.1-1 .3 1.8-1.1 2.2-1.8 1.1-1.7.5M105.3 84.5l1.6 1.1 1.1-1.1M109.3 84.5l1.4-1.4M95.3 92.8l.8-2.1 1.7-.3 1 1.3 2.7 0 1.6-2.6 1.1-1.1 1.6.5M103.1 89.1l-.5 2.1 1.1 1.6 1 1.6.3 3.3 1.9 1-.3 1.6-1.9.6-.2-3.2M97.2 94.4l.6 2.7 2.1 1.6 1.1 2.2 1.6.5M98.3 93.4l3.2 1 2.2 1.1M99.9 92.3l1.6 2.7 1.6 2.7M80 105.5l29.3 0M111.7 106l3.3.8 2.7.8 2.1.3M119.8 107.9l3.2-1.1 2.7-.5 1.1-1.6-1.3-1.7M124.4 102.8l1.1-1.4 1.3 1.4-1.3 1-1.1-1M126.8 104.7l2.7 1 1.1 1.1 3.2 1.1 1.1 1.1.5 2.6-1.1 1.7M125.7 106.3l1.6 1.6 1.1 2.1 3.2.6 2.2 1M119.8 107.9l-.5 2.1 1.6 1.6 2.1 1.1 2.7.6 2.7 1 2.2-.5 3.2-.5 2.2.5 3.2-.5 5.4.5 1.6 1.6.5 2.2-2.1 1M122 111.1l3.7-.3 1.1-1.3M128.4 111.6l5.4-1.6M119.3 110l-2.2 1.6-.5 2.2-1.6 1.6-.6 1.6 1.1 1.6.5 1.4M127.3 116l1.1 1-1.1 3M130.6 114.9l-.6 5.1M137 116l1.6 1-.5 3M140.3 115.4l.5 4.6M143.5 114.9l2.1 2.1-1 1.6M87.3 105.5l0 14.5M80 116.9l7.3 0M87.3 114.3l18 0M104.5 105.5l.8 2.9.5 5.9 1.1 2.2 0 3.5M160.2 65.5l2.7 1.5 1.1 1.3 2.1.3 1.1 1.6 4.3 0 .3 3.8 1.3 1.3 1.6 2.5 1.1 1.3 1.1-.8 3.2-1.1 1.1-2.1 1.1-2.2 2.1-.3 1.1 2.5 2.2 2.1 1.6 2.2 1.6 1 .5 1.7-2.7.5 2.2 1.6 1.6 1.1 1.6 1.6 2.7.5 2.7.8 1.6 1.9 2.7 1.1 1.1 1.6-.6 1.6.6 2.7-1.1 1.1-2.2 0M200.6 90.1l0 2.7M201.6 98.2l-3.7.3-2.2 2.7-2.7.2-13.9 0-1.7 1.6M177.4 103l-2.1 1.7-2.7.5-.5 2.1-3.8 0M201.6 98.7l-1 2.2-1.1 2.1-1.1 2.2-1.6 1.6-.5 2.2 2.1.2 5.4 0 .5-.8 1.1 1.1 2.7-.5 1.6-1.7 1.6-.5-1-2.1-2.7-.9-3.3-.2-.5-1.1-1.1.5 1.1-2.1.5-2.2M209.7 110.6l1.6 1.6 1.1-1.6-1.1-2.2M179.1 103l3.2-.5 3.2 0 2.2 1.1 2.1 1.6M173.7 106.3l1.6-1.6 2.7-.6 4.3.3 1.6.8-.5 1.6-2.2.5-2.7.6M172.1 107.3l.5 2.7 2.7.3.5 4 1.6 1.7 3.8.2 1.6-1.3-.5-2.2 1.1-2.1-.6-2.2M188.7 110.6l2.2-1.4 1.1.3M184.4 116l3.3 1 3.2-.5 2.1-.5 1.7-2.2M178 120l2.1-2.4 4.3.5M182.3 119.7l3.2-1.1M172.1 107.3l-1.7 2.2-1.6 2.1-1.6 1.1M170.4 111.1l-1.6 3.8-1.6 2.1-7 .3M162.4 117.6l.5 2.4M165.6 118.1l.5 1.9M172.1 97.9l1.3-1.6 1.3 1.6-1.3 2.4-1.3-2.4M178 88.2l1.3 1.9 1.9.8.5 1.6 1.1-1.8 2.2.8 1.9-1.1M180.7 89.1l1.6-.9 1.6.3M162.9 60.5l3.2 2.7 2.2 2.2 3.2.5 4.3 1.1 3.3.5 3.2 1.6 1.6-2.6-1.6-1.1M182.3 61.1l1.1 3.2M39.5 117l0 1.9-1 .5 0 5.7M38.5 125.3l0 6.2 1 .8 0 2.2 1.4 1.1 1.6 1.6.5 1.3 1.4.8 0 3 1.1 1.6.8 1.1 1 2.1 1.7 1.1 2.6 0 1.7 1.6 2.1 1.1.3 2.7.8.5 0 2.4 1.3 1.7 1.4 2.4 1.6 1.6 2.1 1.6.6 2.2-1.1 1.3-2.1 0M62.4 167.3l.3 1.9 1.9 1.1 2.1 1.6 1.9 1.9M43.6 136.1l1.9.5.2 1.1M43 137.4l1.1 1.1M38.5 125.3l31.4 0M48.4 125.6l0 8.9 3.2 1.1 1.7 2.9 1 1.6 2.7 1.6 2.2 1.1 1.6 2.2M63.8 125.6l0 15.1M63.8 140.7l-3 4.3 1.6 1.3.3 1.9 1.1.3-1.4 1.3-.5 1.6-1.6 1.6M55.7 153.6l4.6-.6M56.5 117l-1.1 1.6 1.1 1.1 0 5.6M64.6 117.5l2.1.8 3.8 0M70.5 118.3l0 10 9.5 0M75.6 128.6l0 27.4M64 140.4l16 0M61.3 154.1l3.8 0 3.2 2.4 9.2 0 .5-1 2 0M61.3 155.5l.3 4.5 1.3 1.7 2.2 1.6M61.9 155.5l2.7 1 2.1 3 .3 2.2.8 2.1 2.1 2.2 2.7 1.3-1 1.1 2.6 1.9.6 2.7 2.1.8M65.1 163.3l1.6 2.1 0 2.2 1.6 2.7 1.6 2.7.6.8M87.5 117l0 11.3M80 128.3l12.4 0M87.5 122.4l11.9 0 2.1.8 3.8.3 1.1 1.6.5 2.1 1.1 2.2 1.3 2.1.8 2.2.3 7M92.4 128.3l0 12.1M92.4 131.5l16.1 0M80 140.4l30.4 0M110.4 140.4l.3 1.9M90.8 140.7l0 14.8-10.8 0M92.1 142.3l5.1 0 .6 5.4 1.6.5 2.1 1.1 2.7.8 1.6-.3 2.7-.5 1.9 0M110.4 142.3l.8 2.7.3 2.1-1.1 2.2 1.3 2.7 0 2.7 1.1 2.1-.5 2.7.5 1.6M110.7 142.3l11.3 0M111.7 152.2l7 0M99.4 120.2l.2 1.9M106.4 117l0 4-1.1.6 1.6.8M106.4 121.2l11.3 0M114.4 117l2.2 2.2 2.1 2.1 1.1 2.2 1.6 1.6-.2 1.6-1.9 1.9-1.6 1M108 129.6l9.7 0M117.7 129.6l1 2.5 2.2 3.2 2.1 3.8 1.7 1.6M120.9 124.5l6.4 0M127.3 117l-.5 2.2.5 3.2 0 2.1 0 11.3-1 1.1.5 3.2-.5 3.3M124.7 140.7l-2.7 2.1-1.1 3.3-1.1 2.6-1.1 2.7.6 3.3-1.6 2.4 3.2.2 1.6.6.5 2.1M112.8 161.1l2.7 1.6 2.2-1 1.6 1.6 2.7-.6M123 160l2.7-.5 1.6 1.1M80 155.7l2.7 1.6 2.7 1.7 1.6 3.2 1.6 1.3 1.6-.2 1.1-1.6 3.2 0 1.6 3.2 2.7 2.7 0 2.1 1.6 1.6 2.7 1.1 1.6 1.1M104.7 173.5l-1.6-3.8.6-2.1 2.7-2.7 2.7-1.1 1-2.1 2.7-.6M125.7 147.1l0 12.4M122 146.1l13.4 0M122 142.3l4.8 0M126.3 140.9l29 0M132.2 146.3l1.1 4.1 1 3.7-.5 3.2M127.3 157.3l6.5 0M133.8 157.3l2.7 1.1 4.8.6 1.1-1.1M127.3 157.3l1.1 1.7 2.7 1 2.2 2.2 1-1.6 2.7-.6M137 160l1.6 2.7 1.1 2.7 0 2.2 1.6 2.1 1.1 3.8M142.4 159l1.1 3.7 1.1 2.7.5 3.2.5 2.2 0 2.7M148.3 170.3l3.8 0 1.6 1-1.6 1.1M135.4 146.1l2.7-1.1 5.4 0 3.2 1.1 2.7 3.2 2.2-.6M138.1 146.3l1.6 3 1.6 1.6 1.1 2.7 1.1 1.1M143.5 154.7l-1.1 3.2M155.3 145l-2.1 2.1-1.6 1.6-2.2 1.1-2.7 2.2-3.2 2.7M127.3 135.8l2.2 1.6 2.1-1 2.2-1.1 1.1-.5M134.9 126.7l0 8.1M127.9 126.7l11.3 0M134.9 134.8l4.3.5 1.6 1.6 1.1 1.6 2.7.6 2.1-2.2 2.2-2.7 1-1.1M140.8 135.3l2.1-2.2 3.3-.5M144.6 126.1l0 6 12.9 0M144.6 126.1l13.4-.5M158 125.6l1.1 1.6-1.6 2.2 1 2.7M139.2 140.7l2.7 1.6-1.1 1.1-3.8.5-2.1 2.2M149.9 133.1l1.1 1.7 3.2 1.6 1.1 2.1M156.4 145.5l1.6 0M130.6 117l0 8.6M136 120.2l3.2.6 1.1 1.6-1.7 2.1.6 2.2M138.1 117l-1.1 2.2M142.4 117l-.5 1.6M162.4 117.5l0 6.5-1.1 1.6 0 2.2M162.4 118.1l5.4-.6.5 3.8.5 2.7 1.1 1.6 1.1 1.1-1.6 1.1-3.3 0-1.6 1.8-3.7 0-.6 3M168.3 121.3l3.2-1.3 4.3-1.7 2.2-1.3M164 119.2l2.1.5-1.6 1.6-.5 1.6M162.9 124l4.3 0 .6 1.6M179.3 118.6l1.4 2.7 1.6 0 1.1-2.1 3.2-1.1 4.3-.6M118.2 20.4l5.7-.1M122.6 21.1l2.8 0M132.4 26l2.4-.3M137.5 8l5.9 1.9M134.3 21.8l2.6-.9M124.3 8.4l2.7-.5M84.4 18.1l3.8.9M123.5 22.4l4 .4M118.6 13.7l6 2.1M149.2 24l3.3-.6M105.1 8.7l5.1-.4M149.7 16.3l5.9 1.4M154.8 18.3l5.9-.4M87.8 22.1l5.2-.8M89 15l5.8 1M91.4 12.9l2.4-.7M145.8 11.3l4.2-.2M97.3 24.6l2.5.2M91.3 17.1l2.9-.5M106.3 28.2l2.9-.2M150.4 22.4l2.4.8M99.1 13.2l5.1-.6M105.7 8.8l2.4.1M101.4 21.4l3.5-.1M158.7 18.6l4.3 1.1M96.6 10.7l5.7 1.3M102 11.6l4.9 1.5M152.6 21.5l3.7-1M101.1 23.9l3 .7M129.7 14l2.7.5M126.7 27.5l4.5-.7M117.7 8.5l2.7-.3M127.8 10.2l3.4.9M137.3 21l2.6-.8M83.7 22.3l3.9.6M88 20.1l5 1.4M141 23.9l5.1 1.5M110.1 23.4l5.7 1.5M115.4 26l5.4.3M132 16.2l4.3.3M88.4 22.3l6 1.6M140.3 16.3l4.9.3M117.2 27.1l2.4.4M84.4 21.4l3.9-.7M137.9 18.9l4.4 1.3M106.1 23.3l2.8-.7M154.5 22.8l3.7 1.1M108.2 23l2.8-.2M152.4 16.2l4.4-.5M92.9 18.9l5.3 1.3M138.9 29.8l3.1-.7M118.1 13.6l2.8-.2M132.1 18.9l3.2.7M160.6 17.9l2.3-.8M138.7 20.7l3.2.7M118.4 7.6l5.3-1M132.3 17.7l4.6.5M136.8 11.8l3.9-.9M82.9 18.3l4.8-1.1M103.8 15.3l4.8.1M131.2 25.1l3.5.8M156.6 24.3l2.5 0M132 28.8l3.6.2M152.3 26.1l5.8-.1M134.1 11.9l4.9 1.1M133.3 24.2l2.9.8M125 26l3.2.9M150.5 15.4l2.3-.1M126 25.4l4-1.3M146 11.1l3.3.7M86.9 31l5.4.7M111 26.9l5.8-1.7M70.4 27.5l3.2.5M93.8 27.4l5.4.2M75.5 24.9l5.3 1.5M69.7 33.3l5.8.1M90.1 21.6l4.1 0M91.9 18.5l5.9.1M80.4 32.4l4.3 0M96.7 19.2l4.2-.3M73.1 26.5l2.5-.1M84.7 23.7l2.8.2M68.9 22.1l4.7-.6M77.9 29.2l2.4.3M64.9 27.2l3-.6M87.7 25.9l3.5-.3M87.6 20.9l2.9.2M93.8 27.5l5.4.5M106 22.2l4.9 1.1M108.5 23.7l3.3 1M71.4 31.1l3-.9M104.6 25.6l5.2-1.4M134.2 33l2-.5M150.9 36.6l5.9-1.6M140.3 34.1l4.1.6M143.1 30.2l4.3-1M121.1 25.3l5.3 1.8M137.7 34.2l3.3 0M140.9 28.9l4.4-1.5M152.1 35.5l2.7-.1M154.4 28.5l2.7-.7M140.8 22.2l5.5 1.2M152.3 35.8l4.5-.3M146 30.1l5.9 1.2M125.5 36.6l5 .9M158.9 28.5l5.6 1.5M151.7 34.3l5-.4M153.4 23.1l3.3 0M148.3 32l3 .9M150 27.4l4.6.2M142 28.2l6 .6M152.1 34.2l5.9-2M146.9 33.8l3.1-.2M132.5 23.6l3 .8M143 30.1l5.9.3M145.9 34.1l2.1.7M119.6 29.5l2.7 0M171.3 36.5l5.8-.3M167.3 50.5l3.4-.5M173.4 49.6l3.2.5M149.5 54.6l3.6 1M162.6 47.4l5.9-1M167.1 59.4l4.9-.1M171 38l4.5-.1M167.3 38.2l3.8.5M163.9 41.8l4.3-.2M179.3 48.8l6 1.9M177.2 41.2l2.5.7M179.6 51.2l3.5-.5M174.9 49.7l4.3.4M178.2 39.9l3 1M155 46.1l4.5-1.3M168 36.9l2.3.3M168.4 51.4l3.5 0M152.1 43.9l5 1.2M180.8 51.2l5.1-1M162.4 41.7l5.2-.5M157.6 49.3l5 1.4M162.5 44.6l2.4.6M169.1 47.6l4.7-.7M152.2 52.2l2.4-.3M176.8 53l3.1-.7M159.2 53.9l3.4-1M176 49.8l5.7 1.7M185.8 46.4l5.3-.7M157.2 45.4l5.8 1.6M153.9 44.4l3.5-.3M161 45.1l2.8.1M180.3 49.1l5.3.2M150.5 54.7l5.5-.8M143.1 48.4l4.1.2M163.1 44.4l5.2-1.6M151.3 46.6l2.3-.7M156.6 48.4l2.4.2M140 45.9l4.6-.8M142.2 46.2l4.1.8M147 39.4l5.9.7M149.8 42.6l4.9.7M161.6 40.6l5.3.6M159.9 46.9l5.3 1.4M162.8 44.2l4.1.6M158.5 40.7l3.6-.9M146.5 36.7l2.8-.2M86.8 40.9l2.4.3M132.7 38.9l2.2-.1M120.4 50.5l2.1-.5M94.8 39.5l3 .4M121.1 39.6l2.7-.4M94 48.1l3.3.1M135.3 43.7l3 .8M141.5 41.5l4.2 1.3M113.9 39.5l2.2.7M134.3 42.2l4.1 0M125.1 39.8l2 0M106.8 48.7l4.8.4M93.1 38.5l3.3-.5M138.6 44.3l4.6 1.5M100.1 44.6l2.6.4M137.2 49.2l2.3-.4M128.9 37.6l3.9-.1M144.2 45.4l5.4-.8M133.5 42.7l5.7-1.7M135.9 39.3l4.2.1M93.1 49.3l3.2-.4M87.9 40.9l3.8.6M106 47l2.4-.2M112.6 51.5l5.3.5M128.4 39.8l4.3-.1M134.2 39.3l4.4-.6M107.1 44.6l3.2-.3M108.1 46.7l3-.7M129.8 41.3l5.8.2M129.3 41.3l5.3-1.5M12.4 79l1.9 2.6M12.8 81.4l2.5 2.6M10.2 77.9l1.7.6M22.1 87.4l3 2.3M23.9 92.9l1.7 3M20.5 87.7l2.4.6M19.8 89.6l2 3.3M29.4 97.5l1.3.9M17.8 87.5l1.5 1M23.4 93.4l2.4 2.6M10.8 82.1l2.7 2.6M18.7 87.3l1.1 1.5M41.5 107.6l1.6 2.9M11.6 84l2.8 1.2M9.8 77.7l1.8 2.4M16.4 88.1l1.9 1.6M8.9 81.7l.8 1.7M25.4 93.6l2.5 1.4M37.1 106.9l2.4 2.6M9.3 81.1l1 2M14.4 84l3.3 1.4M27.1 91.9l1.5.7M40.1 109.2l2.7 1.6M29.4 98.4l1.7 1.8M36.5 99.9l1.6 1.3M11.5 80.2l2.7 1.1M25.5 91.7l2.5 1.6M30.6 94.8l3 1.2M40.2 107.1l2.2 1.6M27.8 96.7l1.9 2.8M21.8 93.4l1.7 3.2M20.9 88.8l1.3 2.7M24.9 92.9l1.1 2.4M19 84.6l1.4 3M32 99.8l2.9 1.7M28.8 93.4l1.4 1.1M24.4 91.7l1 1.3M25.8 91.9l1.9 1.3M15.9 81.9l1.4 3.5M28.7 98.7l1.4 2.2M13.2 84l1.2 2.7M8.6 80.2l1.3 1.3M41.9 104.6l1.8 1M19.1 84.8l1.9 3.2M20.8 88.2l2.8.8M5.8 78.5l1.7 1.5M38 107.7l2.5 1.1M15.2 87l3.4 1.6M36.6 102.3l2.5 1M36 106l1.3 1.5M11.6 83.5l1.6.6M32.7 98.5l1.8 3.4M32.9 97.5l1.3 2.9M23.4 88.7l1.8 1M32.6 97.6l1.7.9M29 98.4l1.5 1.8M37.5 104.6l1.8 1.1M38.8 106.3l1.4 1.7M7.6 80.7l1.9 1.8M26.6 91.3l2.6 1.5M210.7 42.2l.5 1.6M215 54l.1 2.2M210 40.7l2.1 3.4M211.4 47.2l-.8 2.3M214.9 47.8l-.2 2.9M211.8 44.7l.2 3.5M210.9 48.3l.2 3.2M215.9 58.7l1.4 3.1M214.8 50.5l-.5 2.5M211.8 55l.2 2.1M212 41.3l1.4 2.4M211.9 50.4l-.8 2.8M214.4 40.1l.2 1.6M213.2 46.4l-.4 2.1M209.7 37.9l.1 3M215.1 54.9l.6 1.8M213.2 36.9l.2 3.1M212 42.4l-.4 1.7M213.8 40l-.2 1.9M211.9 56.1l.3 1.6M214.4 44.6l2 3.4M211.4 47.9l1.7 3.6M211.4 47l.6 1.6M215.9 57.2l.7 2.4M215.4 46l-.7 1.4M212.1 54.4l.7 2M214.6 49.1l-.9 2.5M213.7 44.7l-.1 3.9M212.7 36.9l1.5 2.7M211.5 44.3l0 3.7M195 113.2l1.5 1.9M189.1 111.5l1.9.8M187.7 109.3l1.9.5M188.2 109.1l2 1.1M195.5 114.7l3.5.9M190.9 108.5l3 1.2M190 107.6l1.8.6M188.8 112.2l3.2 1M190.5 108.7l3.5 1.5M193.1 113.6l3.7.2"/>
<path class="cl" stroke-width="1.6" d="M55.4 42.8l14.5.5M56 25.3l3.2-2.2M62.4 29.6l3.2.8M37.7 54.9l5.3.2M142.4 6.2l17.6 0M124.7 11.6l16.1 0M141.9 12.6l12.9-.5M108 13.4l4.3-1M124.1 13.4l17.2.6 5.4 1.6M85.9 18.3l2.2 1.1M97.2 14.5l3.2.8M105.8 22.1l8.6 0M113.4 16.4l6.9.5M128.4 16.1l5.4-.5 8.6 2.7M127.3 19.4l13 1M151.6 18.3l8.4-1.1M83.2 21.8l2.7 1.3M87 24.7l3.8 2.2 3.2-1.1M96.1 28.5l6.5.8M105.3 29.6l8.6 1.1M117.7 25.3l6.4 1.1M85.9 40.3l2.2 1.7M121.4 39.5l4.3 1.9 4.3 1.1M143.5 36.6l8.6.5M144.6 35l6.4.5M155.3 37.1l4.7 2.7M138.1 43.8l9.1.6M130.6 54.9l7.5 2.1M89.1 45.2l6-1.6M123 57l6.5 1.6M164.5 5.6l5.9.3M173.1 7l4.9.3M175.8 12.9l4.3 1.6M165.1 14.8l3.2-.8M168.8 24.2l5.4.3M201.6 31.7l3.8.6M214.6 47.3l2.1-1M213.5 50.6l3.2 0M176.9 49.5l8.1 2.1M160.2 49l2.7 1M180.1 55.4l4.3 2.2M165.6 58.6l3.8.6M23.1 86.9l.6 5.4M76.9 109.2l3.1 0M54.9 70l3.7.1M112.8 61.6l2.2.8M113.4 67l2.1-.3M141.3 93.9l3.3.3M137 66.2l2.2-.3M80 75.5l3 0M88.1 91.2l1 1.3M80 108.7l1.6-.3 1.1 1.4M89.4 108.2l1.1-.9 1.1 1.7 2.9.2M95.3 112.2l1.4 1.1-.6 2.7-.8 2.1M153.2 110.6l1.3-1.4 1.4 1.4-2.7 0M151 119.7l4.3-1.6 4.7-.8M167.2 73.4l4.3 0M169.4 76.1l2.1 0M171 79.4l2.7-.3M185 74.5l2.7 3.3M160.2 102.5l.3-2.7 1.3-1.3 2.2-.3-1.6 1.6-1.6 2.7M181.2 90.1l1.1 2.2M164.5 62.2l3.8 3.2M179.6 68.1l3.8.5M174.2 72.6l1.6-1.3M45.5 143.4l.8 1.6M66.7 126.1l0 2.5 1.1 1 1.1-1.3M69.9 139.9l2.7-2.7M95.1 118.3l1-1.3M161.8 126.7l2.7-.6 2.2.6"/>
<path class="cl" stroke-width="2" d="M117.7 10.5l8 0M131.6 33.4l5.4 2.1-3.2 2.2 1.1 3.2M103.1 49.5l4.9 3.2M172.1 10.8l12.3.5M164.5 21.5l14.6 1.6M210.8 38.7l5.4 2.2M210.3 49.5l6.4-1.1M210.8 51.6l1.6 5.4M210.8 53.8l3.8 5.4M160.2 40.1l5.9 1.3M5.4 76.1l4.3 2.2 2.1 3.2 4.3 3.8 2.2 2.1M10.8 74.5l4.3 4.3 3.2 3.8M26.9 92.3l3.2 4.3 2.2 3.2 5.4 3.2 3.2 2.7M41.4 109.8l2.2 0M69.4 65.9l4.8-1.1M69.9 76.9l1.7-.2M146.7 84.2l2.7-.5M149.4 76.9l1.1 0M149.9 60.5l4.3 0M149.4 63.8l3.2-1.1 1.6-1.1M133.3 111.6l3.7 2.2M136 114.3l3.2 1.1M116.6 111.6l1.1.6M192.5 91.7l3.2-1 4.3-1.1M204.3 111.1l2.7-.5 2.7-2.2 1.6-2.1M186.6 103l3.2 1.9M179.1 107.6l3.2-.3M168.3 107.9l3.2.5M167.2 111.6l1.1.6M160.2 60.8l2.2-.3M172.6 62.7l5.4 1.6M62.4 141.2l1.1 2.2M61.3 152.5l1.1.5M64.6 162.7l1 1.6M123.6 140.1l2.1.6M120.3 159.5l2.7.5M122.5 162.7l1.1.3M109.1 161.7l1.6.5M143.5 169.7l2.7.6M152.1 133.7l4.8 0M138.6 125.1l4.3 1M139.7 120.2l1.1 2.2M162.4 127.8l2.7-1.1M187.7 117.5l3.2 0"/>
<path class="cl" stroke-width="2.6" d="M171.5 43.6l5.4 2.1M96.1 92.3l2.2 1.1M109.3 103.6l2.4 2.1M183.9 111.6l3.8 2.2 3.2 1.6M192.5 112.2l1.1 2.1M213.5 60.5l3.2 2.7M154.2 134.8l2.2 3.7M154.8 138.5l1.6 7M142.9 125.1l3.8-2.7 8.1-2.2 5.2-2.1M160 120.2l2.4-1"/>
<rect class="fr" x="0" y="0" width="218" height="175"/>
<path class="tk" d="M-5.5 160.3H-1M-5.5 131.3H-1M-5.5 102.2H-1M-5.5 73.2H-1M-5.5 44.1H-1M-5.5 15.1H-1M0.3 176V181.2M48.9 176V181.2M97.4 176V181.2M146 176V181.2M194.5 176V181.2"/>
</g>
<text class="s" x="247.2" y="1392.2" font-size="16.72" fill="#000" textLength="27.8" lengthAdjust="spacingAndGlyphs">30N</text>
<text class="s" x="247.2" y="1362.9" font-size="16.72" fill="#000" textLength="27.8" lengthAdjust="spacingAndGlyphs">40N</text>
<text class="s" x="247.2" y="1333.7" font-size="16.72" fill="#000" textLength="27.8" lengthAdjust="spacingAndGlyphs">50N</text>
<text class="s" x="247.2" y="1304.4" font-size="16.72" fill="#000" textLength="27.8" lengthAdjust="spacingAndGlyphs">60N</text>
<text class="s" x="247.2" y="1275.2" font-size="16.72" fill="#000" textLength="27.8" lengthAdjust="spacingAndGlyphs">70N</text>
<text class="s" x="247.2" y="1245.9" font-size="16.72" fill="#000" textLength="27.8" lengthAdjust="spacingAndGlyphs">80N</text>
<text class="s" x="266.8" y="1419.7" font-size="16.28" fill="#000" textLength="36.6" lengthAdjust="spacingAndGlyphs">140W</text>
<text class="s" x="315.4" y="1419.7" font-size="16.28" fill="#000" textLength="36.6" lengthAdjust="spacingAndGlyphs">120W</text>
<text class="s" x="363.9" y="1419.7" font-size="16.28" fill="#000" textLength="36.6" lengthAdjust="spacingAndGlyphs">100W</text>
<text class="s" x="416.6" y="1419.7" font-size="16.28" fill="#000" textLength="28.4" lengthAdjust="spacingAndGlyphs">80W</text>
<text class="s" x="465.1" y="1419.7" font-size="16.28" fill="#000" textLength="28.4" lengthAdjust="spacingAndGlyphs">60W</text>
<g transform="translate(284,1470)">
<g class="c"><rect x="215" y="134" width="3" height="9" fill="#b4f0fa"/><rect x="88" y="127" width="13" height="9" fill="#ffe878"/><rect x="197" y="127" width="19" height="9" fill="#b4f0fa"/><rect x="215" y="127" width="3" height="9" fill="#78b9fa"/><rect x="88" y="119" width="7" height="10" fill="#ffe878"/><rect x="179" y="119" width="13" height="10" fill="#ffa000"/><rect x="191" y="119" width="13" height="10" fill="#ffe878"/><rect x="203" y="119" width="13" height="10" fill="#b4f0fa"/><rect x="215" y="119" width="3" height="10" fill="#78b9fa"/><rect x="173" y="112" width="19" height="9" fill="#ffa000"/><rect x="191" y="112" width="19" height="9" fill="#ffe878"/><rect x="209" y="112" width="7" height="9" fill="#b4f0fa"/><rect x="215" y="112" width="3" height="9" fill="#78b9fa"/><rect x="173" y="105" width="19" height="9" fill="#ffa000"/><rect x="191" y="105" width="13" height="9" fill="#ffe878"/><rect x="209" y="105" width="9" height="9" fill="#b4f0fa"/><rect x="215" y="97" width="3" height="10" fill="#ffe878"/></g>
<path class="cl" stroke-width="1" d="M.8 45.1l2.2 0 1 1.1 1.6.2.9 1.1 3.5 0 .8-1.2.8 2.4 1-3.2.8 3.2 1.1-3.2 1.6.8 1.4 2.4 1.9-3 .2-1.2 1.9.2.8 1.7 1.4-2.8 2.1-.3.6 1.1 2.1 0 1.9-2 1.1 1.2.8 1.9 2.7.2.5.8 1.6-2.1 1.6 2 1.6.1 1.4-2 4-.1.8 1.1 1.9.1 1.1.8 3.2 0 .8 1.1 3.5 0 .8-1.1 5.7 0 .8 2 .8.6 7 0 1.1.5 2.1-.8 1.1-1.1 3.6 0M59.2 50.6l2.7-1.9.5 1.6 11.8 0 2.2 1.1 2.1 2.9 1.5.3M34.4 38.3l1.1-1.2 2.2-2.7 1.8-.9-1.8-1 .8-1.3 16.4 0 .5 1 2.4.3 1.4 1.4-2.2 1.3-3.2.6-2.2 1.2-3.2.4-1.1 2.1-.8 1-6.2 0-.8-.8-2.4-.3-1.3-1.1-1.4 0M51.1 37.1l1.6 2.7 1.1 1.6 1.6.6 1.1 2.7 1.3 1.6M51.6 37.1l2.2-1.6 3.2-1.1 2.2-.8 4.3.8 1.1 1.1-3.3 1.1 3.3-.3M52.2 39l7 1.1 1.6-.8M64.6 35.5l3.2.3 1.6 1.3 2.2-.5 1.6-1.1 1.6 1.1 2.1-.6 1.1 1.7-.5 1.6 2.5-1.6M76.9 34.4l3.1-.5M41.2 26.4l1.3-1.1 3.8 0 .8-1 1.9 0 1.3-2.1 9.4 0 0 1.5-1.6 1.3 6.5-.5-3.8 1.3-.5 2.7-4.9.8 1.1-2.4-2.7 1.1-1.3.5-.9-1.3-3.2.2-1.1-1.3-6.1.3M51.9 26.4l1.4-1.5 1 1.2-1.3 1.3-1.1-1M61.3 21.5l1.1-1.1 1.1.9 2.7.9 6.4 0 .6-1.5 1.6-1.3-2.7-1.1-2.2.5-4.8.5 1.6.9 3.2.1M60.8 25.3l3.8 1.1 4.8.2 1.6 1.4 1.1-1.4 2.1-2.1 2.7 0 3.1 2.9M71 28l0 1.9 3.8.5 5.2-1.1M61.9 29.3l1.6 1.9 6.4 0 0-1.1M35 53.4l1.9 0M36 55.4l2.7-1.1 4.9.1 1.1-1.1 3.2 0 1.1-1.1 1.6 1.1 4 1 0 2.2-.8 1.1-1.1-1.4-2.7-.2-.5 1.8-2.7.6-1.1 1.3M40.1 58.4l2.4-.3.5-2.1 2.7-.6-1 1.6 3.2-.5 1.1-2.7 2.6 1.6M139.2 8.1l4.3-.6 4.3 1.4-4.3.5M117.7 9.7l8.6-.6 7.5-1.6 5.4.6M149.9 11.3l4.3-.5M105.3 15.6l2.7-2.7 3.2-1.3 6.5-1.9M112.3 14l2.7-1.9 3.7-.5 2.2 1M83.2 17.2l3.8-1.1 5.4 1.4 5.4 1.1 1.6 2.4-8.1.3-4.3-1.4-1.6-1.9-2.2-.8M101.5 18.6l3.2-.3 4.4 1.6 5.3.8M112.3 16.1l8.6 1.1 1.1 1.6-7-.2-2.7-2.5M130.6 17.8l8.6 0M149.4 17.2l10.6-1.6M149.9 20.4l5.4 1.1 4.7-3.7M82.2 21.5l4.3 2.2M120.9 21.5l6.4 1.1M119.8 20.4l6.5-2.6M94 24.7l7.5-.5 2.2 2.7-1.1 2.4-6.5 0-2.1-2.4M80 27.4l3.8-.5-.6 2.2-3.2.5M85.4 29.6l3.2-1.6M105.3 24.2l2.7.5 2.1 2.2 2.2 1.1M106.9 28l5.4.5M113.4 24.7l4.3 1.1 6.4 2.2M123 23.7l5.4 1 5.4-.5 7.5 1.1 3.3-.6M124.1 27.4l7 .6 15.1-1.1 2.7-1.1 1-2.7-8.6-.5M115.5 26.9l1.1 2.7 5.4 1.1 8.6.2 3.2-.8 6.5 1.1 7.5-.5-1.1-1.6-2.1 1M141.3 22.6l10.3.5-1.1 2.2M107.4 33.4l1.7-1.1 12.9 0-4.3 3.2-5.4 1.1M107.4 33.4l1.1 3.2 1.6 2.1 4.3 2.2 3.3 2.1M80 33.9l7-.3-1.1 1.4-2.7-.6 2.2 3.3 1.6 3.2 1.6 1.6 9.2 0M90.2 36.6l2.7-2.7 4.3-1.6 6.5 0 1.6 2.1 1.6 2.7-1.6 2.2-4.9 1-2.6-2.1-3.8-1.1-3.8-.5M101.5 35l2.7 1.6-.5 1.1M121.4 38.7l1.1-3.7 2.2-1.6 5.3-.6 1.6 2.7-1 4.3M130 30.1l1.1 12.9M136.5 33.4l15.1-.3 3.7 1.9 4.7 3.7M104.7 42l4.4-2.7M115 42l3.7 1.6-1 1.6 4.3 4.3 1-2.2 3.3-.5 1 3.8 2.2 2.1 2.1-2.1 1.1-3.3-1.1-3.2 6.5-.5 9.7.5 1.1-2.1 1 2.1 5.4 1.1 4.7 3.2M139.2 45.7l3.2 1.1-2.1 2.7 2.6 2.1-2.6 2.2-5.4-1.1-5.4 2.2 2.1 3.2 4.4-2.1 3.2 2.1M80 45.7l3.2 1.1 1.6 1.6 4.3 2.2 12.4 0 2.2 1 2.1-1 3.3 3.7 0-5.9 4.3-.5-1.1-2.2-5.4-1-3.8 0-3.2 2.6-1.6 0M90.8 44.7l1.6 3.7M95.1 47.3l1.6 0M118.2 55.4l3.8 1.1 3.2 1.6 4.3 1.1M146.7 47.3l2.7-2.6 0 3.2M152.1 51.6l3.2-2.1 4.7 1.1M152.1 51.6l3.2 1.7M149.9 59.2l2.7-1.1 7.4-.5M160.2 6.5l3.2 0 1.1-1.1 6.5 0 .5 1.1 13.5-.2 5.9 1 1.6 2.1 5.4.3.5-1.1 15.1 0 3.2.3M198.4 10.2l4.3.3M209.2 10.5l1.6-1.1M184.4 10l6.5-.3 2.1 1.9-5.3.5-2.2-.8M160.2 16.1l3.8-.5 6.4-3.8 2.2-1.3M163.4 20.4l2.2-1 7-.8 1.1-1.1 8.6-.3 0-1.6-1.6-.8 4.8-.5M173.1 26.4l6 0 1-1.1 1.1 1.1 3.8-.3 1-.8 1.1 1.3 1.1-1.3 1.1 1.1 6.4 0 1.1 1 2.2.3 2.6 3 3.3 1 1.1 3.3 1.6.5-2.2 1.6 0 3.2 1.6.6 2.2-2.2 1.6-1 4.8 2.1M207.6 39.8l2.1.5-.5 2.2 5.4 0-2.7 2.2-4.9 0 1.1 1.6 2.7 0M160.2 39l4.9.8 3.7 1.6 3.3 1.1M173.7 48.4l4.3 1.1 4.3.5 4.3 2.2 3.7 1.1.6 1-3.2 2.7-2.7 2.2M160.2 47.9l2.2.5 2.1 3.2 3.3 2.2 3.7 1.1M159.7 56.5l2.7-3.2 2.1-.6M166.1 52.7l2.2-.5 3.2 1.6 1.1 1.1-3.8.5M174.2 54.9l3.8 0 4.3 0 2.7 2.1M175.3 56l1.6 2.1 3.2.5M.8 72.4l1.9.2 2.1 2.5 4.3.2 2.2-1.9 1.6 1.1 3.2 3.3 2.7 3.7 3.8 1.6 2.7 2.7.5 3.3-1.1 1 2.2 1.6 2.2-.5 2.1 3.2 1.6 2.7-.5 1.6 3.2 1.1 2.2 1.1 2.1 1.6 2.2 2.7.5 2.1M28 100.3l3.2 2.7 3.2 1.7 2.7 1.6.6 2.1M17.2 90.7l3.2-.3-1.6 1.9 2.7 4.3M17.2 90.7l0 2.7 2.2.5M16.1 72.1l2.7 1.1M37.7 108.4l1 3.2.6 2.2.5 3.2-1.1 3M37.7 113.3l3.7 0 1.1 1.6 5.4.2 1.1-1 7.2 0M42.5 105.5l37.5 0M56.2 105.5l0 8.6 1.4 1.3-2.2 3.2.6 1.4M57.8 105.7l.8 3.3 3.3 2.6 1 3.3 2.2 2.7 1.6.8 3.2 0 1.1-1.4 9 0M71 117l0 3M37.1 82.1l1.6 2.1 2.7 1.6 1.6-1.3 1.1 1.1M41.4 85.8l0 1.9M51.1 94.2l.5 1.6 3.3 1.6M54.9 100.1l-1.6 1.9 1 1-1 1.7 0 2.9M49 69.6l4.3-.2.5-.8 1.6 1.4 3.2 0 1.1-1.9-.5-2.7 1.6 1.3 2.7-.2 1.1 1 3.2 0 1.6-2.1 2.7-1.1 3.8 1.1M59.2 71.3l1.1-1.3 4.3.2 2.6-1.6 1.1-1.1M69.9 77.2l2.2-1.6 2.1-1.3 2.7 0 3.1 1M72.1 76.1l3.2.3 4.7-.5M112.3 61.3l2.7 1.1 4.3.3 2.1-1.4 6.5-.2M120.3 62.7l-.5 1.6-2.1 1.1-3.3 1.6-2.1 1.6-1.9 3 0 4.5-1.3.3M110.4 76.1l1.3 1.4 2.7 0 1.1 1.3 0 3.3-1.1.2M115.5 82.1l1.6-.6 3.2 0 1.1.8 3.3 0 1 1.1 1.6 1.6 3.3.3 2.1 2.1 8.1.3 0 5.7 1.1 2.1 2.7 1.6-.3 2.2 1.3-1.6 1.6 2.6 1.1-1.6 1.1-1-.5-1.7.5-1-.5-4.9-1.7-1-.5-.9 2.7 0 2.7-1.3 2.1-1.6.6-3.2-1.1-2.7-1.6-.8-2.2-1.4 1.7-1.6 0-2.2 2.1 0M151.6 73.4l0-1.8-2.2 0M151.6 71.6l0-3.5-1.1-.8 1.6-1.9 2.1.5 3.8.3 1.1 1.1.9-1.9M129.5 60l.5 2.2 2.2.5 1.6 1.6 1.6-1.6 2.7-1.1 6.5 0 1 .8-3.2.8-1.6-1M136.5 65.9l1.6-1.3 1.6.8 1.1-1.1.5 1.1-4.8 1.1M145.4 67.5l1-1 1.1 1-1.1 1.1-1-1.1M92.1 64.6l1.3-1.1 2.2 0 0 1.3-1.6.8-1.6-.2-.3-.8M89.1 84.2l1.1-2.7 1.1-1.9 2.1-1 .3 1.8-1.1 2.2-1.8 1.1-1.7.5M105.3 84.5l1.6 1.1 1.1-1.1M109.3 84.5l1.4-1.4M95.3 92.8l.8-2.1 1.7-.3 1 1.3 2.7 0 1.6-2.6 1.1-1.1 1.6.5M103.1 89.1l-.5 2.1 1.1 1.6 1 1.6.3 3.3 1.9 1-.3 1.6-1.9.6-.2-3.2M97.2 94.4l.6 2.7 2.1 1.6 1.1 2.2 1.6.5M98.3 93.4l3.2 1 2.2 1.1M99.9 92.3l1.6 2.7 1.6 2.7M80 105.5l29.3 0M111.7 106l3.3.8 2.7.8 2.1.3M119.8 107.9l3.2-1.1 2.7-.5 1.1-1.6-1.3-1.7M124.4 102.8l1.1-1.4 1.3 1.4-1.3 1-1.1-1M126.8 104.7l2.7 1 1.1 1.1 3.2 1.1 1.1 1.1.5 2.6-1.1 1.7M125.7 106.3l1.6 1.6 1.1 2.1 3.2.6 2.2 1M119.8 107.9l-.5 2.1 1.6 1.6 2.1 1.1 2.7.6 2.7 1 2.2-.5 3.2-.5 2.2.5 3.2-.5 5.4.5 1.6 1.6.5 2.2-2.1 1M122 111.1l3.7-.3 1.1-1.3M128.4 111.6l5.4-1.6M119.3 110l-2.2 1.6-.5 2.2-1.6 1.6-.6 1.6 1.1 1.6.5 1.4M127.3 116l1.1 1-1.1 3M130.6 114.9l-.6 5.1M137 116l1.6 1-.5 3M140.3 115.4l.5 4.6M143.5 114.9l2.1 2.1-1 1.6M87.3 105.5l0 14.5M80 116.9l7.3 0M87.3 114.3l18 0M104.5 105.5l.8 2.9.5 5.9 1.1 2.2 0 3.5M160.2 65.5l2.7 1.5 1.1 1.3 2.1.3 1.1 1.6 4.3 0 .3 3.8 1.3 1.3 1.6 2.5 1.1 1.3 1.1-.8 3.2-1.1 1.1-2.1 1.1-2.2 2.1-.3 1.1 2.5 2.2 2.1 1.6 2.2 1.6 1 .5 1.7-2.7.5 2.2 1.6 1.6 1.1 1.6 1.6 2.7.5 2.7.8 1.6 1.9 2.7 1.1 1.1 1.6-.6 1.6.6 2.7-1.1 1.1-2.2 0M200.6 90.1l0 2.7M201.6 98.2l-3.7.3-2.2 2.7-2.7.2-13.9 0-1.7 1.6M177.4 103l-2.1 1.7-2.7.5-.5 2.1-3.8 0M201.6 98.7l-1 2.2-1.1 2.1-1.1 2.2-1.6 1.6-.5 2.2 2.1.2 5.4 0 .5-.8 1.1 1.1 2.7-.5 1.6-1.7 1.6-.5-1-2.1-2.7-.9-3.3-.2-.5-1.1-1.1.5 1.1-2.1.5-2.2M209.7 110.6l1.6 1.6 1.1-1.6-1.1-2.2M179.1 103l3.2-.5 3.2 0 2.2 1.1 2.1 1.6M173.7 106.3l1.6-1.6 2.7-.6 4.3.3 1.6.8-.5 1.6-2.2.5-2.7.6M172.1 107.3l.5 2.7 2.7.3.5 4 1.6 1.7 3.8.2 1.6-1.3-.5-2.2 1.1-2.1-.6-2.2M188.7 110.6l2.2-1.4 1.1.3M184.4 116l3.3 1 3.2-.5 2.1-.5 1.7-2.2M178 120l2.1-2.4 4.3.5M182.3 119.7l3.2-1.1M172.1 107.3l-1.7 2.2-1.6 2.1-1.6 1.1M170.4 111.1l-1.6 3.8-1.6 2.1-7 .3M162.4 117.6l.5 2.4M165.6 118.1l.5 1.9M172.1 97.9l1.3-1.6 1.3 1.6-1.3 2.4-1.3-2.4M178 88.2l1.3 1.9 1.9.8.5 1.6 1.1-1.8 2.2.8 1.9-1.1M180.7 89.1l1.6-.9 1.6.3M162.9 60.5l3.2 2.7 2.2 2.2 3.2.5 4.3 1.1 3.3.5 3.2 1.6 1.6-2.6-1.6-1.1M182.3 61.1l1.1 3.2M39.5 117l0 1.9-1 .5 0 5.7M38.5 125.3l0 6.2 1 .8 0 2.2 1.4 1.1 1.6 1.6.5 1.3 1.4.8 0 3 1.1 1.6.8 1.1 1 2.1 1.7 1.1 2.6 0 1.7 1.6 2.1 1.1.3 2.7.8.5 0 2.4 1.3 1.7 1.4 2.4 1.6 1.6 2.1 1.6.6 2.2-1.1 1.3-2.1 0M62.4 167.3l.3 1.9 1.9 1.1 2.1 1.6 1.9 1.9M43.6 136.1l1.9.5.2 1.1M43 137.4l1.1 1.1M38.5 125.3l31.4 0M48.4 125.6l0 8.9 3.2 1.1 1.7 2.9 1 1.6 2.7 1.6 2.2 1.1 1.6 2.2M63.8 125.6l0 15.1M63.8 140.7l-3 4.3 1.6 1.3.3 1.9 1.1.3-1.4 1.3-.5 1.6-1.6 1.6M55.7 153.6l4.6-.6M56.5 117l-1.1 1.6 1.1 1.1 0 5.6M64.6 117.5l2.1.8 3.8 0M70.5 118.3l0 10 9.5 0M75.6 128.6l0 27.4M64 140.4l16 0M61.3 154.1l3.8 0 3.2 2.4 9.2 0 .5-1 2 0M61.3 155.5l.3 4.5 1.3 1.7 2.2 1.6M61.9 155.5l2.7 1 2.1 3 .3 2.2.8 2.1 2.1 2.2 2.7 1.3-1 1.1 2.6 1.9.6 2.7 2.1.8M65.1 163.3l1.6 2.1 0 2.2 1.6 2.7 1.6 2.7.6.8M87.5 117l0 11.3M80 128.3l12.4 0M87.5 122.4l11.9 0 2.1.8 3.8.3 1.1 1.6.5 2.1 1.1 2.2 1.3 2.1.8 2.2.3 7M92.4 128.3l0 12.1M92.4 131.5l16.1 0M80 140.4l30.4 0M110.4 140.4l.3 1.9M90.8 140.7l0 14.8-10.8 0M92.1 142.3l5.1 0 .6 5.4 1.6.5 2.1 1.1 2.7.8 1.6-.3 2.7-.5 1.9 0M110.4 142.3l.8 2.7.3 2.1-1.1 2.2 1.3 2.7 0 2.7 1.1 2.1-.5 2.7.5 1.6M110.7 142.3l11.3 0M111.7 152.2l7 0M99.4 120.2l.2 1.9M106.4 117l0 4-1.1.6 1.6.8M106.4 121.2l11.3 0M114.4 117l2.2 2.2 2.1 2.1 1.1 2.2 1.6 1.6-.2 1.6-1.9 1.9-1.6 1M108 129.6l9.7 0M117.7 129.6l1 2.5 2.2 3.2 2.1 3.8 1.7 1.6M120.9 124.5l6.4 0M127.3 117l-.5 2.2.5 3.2 0 2.1 0 11.3-1 1.1.5 3.2-.5 3.3M124.7 140.7l-2.7 2.1-1.1 3.3-1.1 2.6-1.1 2.7.6 3.3-1.6 2.4 3.2.2 1.6.6.5 2.1M112.8 161.1l2.7 1.6 2.2-1 1.6 1.6 2.7-.6M123 160l2.7-.5 1.6 1.1M80 155.7l2.7 1.6 2.7 1.7 1.6 3.2 1.6 1.3 1.6-.2 1.1-1.6 3.2 0 1.6 3.2 2.7 2.7 0 2.1 1.6 1.6 2.7 1.1 1.6 1.1M104.7 173.5l-1.6-3.8.6-2.1 2.7-2.7 2.7-1.1 1-2.1 2.7-.6M125.7 147.1l0 12.4M122 146.1l13.4 0M122 142.3l4.8 0M126.3 140.9l29 0M132.2 146.3l1.1 4.1 1 3.7-.5 3.2M127.3 157.3l6.5 0M133.8 157.3l2.7 1.1 4.8.6 1.1-1.1M127.3 157.3l1.1 1.7 2.7 1 2.2 2.2 1-1.6 2.7-.6M137 160l1.6 2.7 1.1 2.7 0 2.2 1.6 2.1 1.1 3.8M142.4 159l1.1 3.7 1.1 2.7.5 3.2.5 2.2 0 2.7M148.3 170.3l3.8 0 1.6 1-1.6 1.1M135.4 146.1l2.7-1.1 5.4 0 3.2 1.1 2.7 3.2 2.2-.6M138.1 146.3l1.6 3 1.6 1.6 1.1 2.7 1.1 1.1M143.5 154.7l-1.1 3.2M155.3 145l-2.1 2.1-1.6 1.6-2.2 1.1-2.7 2.2-3.2 2.7M127.3 135.8l2.2 1.6 2.1-1 2.2-1.1 1.1-.5M134.9 126.7l0 8.1M127.9 126.7l11.3 0M134.9 134.8l4.3.5 1.6 1.6 1.1 1.6 2.7.6 2.1-2.2 2.2-2.7 1-1.1M140.8 135.3l2.1-2.2 3.3-.5M144.6 126.1l0 6 12.9 0M144.6 126.1l13.4-.5M158 125.6l1.1 1.6-1.6 2.2 1 2.7M139.2 140.7l2.7 1.6-1.1 1.1-3.8.5-2.1 2.2M149.9 133.1l1.1 1.7 3.2 1.6 1.1 2.1M156.4 145.5l1.6 0M130.6 117l0 8.6M136 120.2l3.2.6 1.1 1.6-1.7 2.1.6 2.2M138.1 117l-1.1 2.2M142.4 117l-.5 1.6M162.4 117.5l0 6.5-1.1 1.6 0 2.2M162.4 118.1l5.4-.6.5 3.8.5 2.7 1.1 1.6 1.1 1.1-1.6 1.1-3.3 0-1.6 1.8-3.7 0-.6 3M168.3 121.3l3.2-1.3 4.3-1.7 2.2-1.3M164 119.2l2.1.5-1.6 1.6-.5 1.6M162.9 124l4.3 0 .6 1.6M179.3 118.6l1.4 2.7 1.6 0 1.1-2.1 3.2-1.1 4.3-.6M118.2 20.4l5.7-.1M122.6 21.1l2.8 0M132.4 26l2.4-.3M137.5 8l5.9 1.9M134.3 21.8l2.6-.9M124.3 8.4l2.7-.5M84.4 18.1l3.8.9M123.5 22.4l4 .4M118.6 13.7l6 2.1M149.2 24l3.3-.6M105.1 8.7l5.1-.4M149.7 16.3l5.9 1.4M154.8 18.3l5.9-.4M87.8 22.1l5.2-.8M89 15l5.8 1M91.4 12.9l2.4-.7M145.8 11.3l4.2-.2M97.3 24.6l2.5.2M91.3 17.1l2.9-.5M106.3 28.2l2.9-.2M150.4 22.4l2.4.8M99.1 13.2l5.1-.6M105.7 8.8l2.4.1M101.4 21.4l3.5-.1M158.7 18.6l4.3 1.1M96.6 10.7l5.7 1.3M102 11.6l4.9 1.5M152.6 21.5l3.7-1M101.1 23.9l3 .7M129.7 14l2.7.5M126.7 27.5l4.5-.7M117.7 8.5l2.7-.3M127.8 10.2l3.4.9M137.3 21l2.6-.8M83.7 22.3l3.9.6M88 20.1l5 1.4M141 23.9l5.1 1.5M110.1 23.4l5.7 1.5M115.4 26l5.4.3M132 16.2l4.3.3M88.4 22.3l6 1.6M140.3 16.3l4.9.3M117.2 27.1l2.4.4M84.4 21.4l3.9-.7M137.9 18.9l4.4 1.3M106.1 23.3l2.8-.7M154.5 22.8l3.7 1.1M108.2 23l2.8-.2M152.4 16.2l4.4-.5M92.9 18.9l5.3 1.3M138.9 29.8l3.1-.7M118.1 13.6l2.8-.2M132.1 18.9l3.2.7M160.6 17.9l2.3-.8M138.7 20.7l3.2.7M118.4 7.6l5.3-1M132.3 17.7l4.6.5M136.8 11.8l3.9-.9M82.9 18.3l4.8-1.1M103.8 15.3l4.8.1M131.2 25.1l3.5.8M156.6 24.3l2.5 0M132 28.8l3.6.2M152.3 26.1l5.8-.1M134.1 11.9l4.9 1.1M133.3 24.2l2.9.8M125 26l3.2.9M150.5 15.4l2.3-.1M126 25.4l4-1.3M146 11.1l3.3.7M86.9 31l5.4.7M111 26.9l5.8-1.7M70.4 27.5l3.2.5M93.8 27.4l5.4.2M75.5 24.9l5.3 1.5M69.7 33.3l5.8.1M90.1 21.6l4.1 0M91.9 18.5l5.9.1M80.4 32.4l4.3 0M96.7 19.2l4.2-.3M73.1 26.5l2.5-.1M84.7 23.7l2.8.2M68.9 22.1l4.7-.6M77.9 29.2l2.4.3M64.9 27.2l3-.6M87.7 25.9l3.5-.3M87.6 20.9l2.9.2M93.8 27.5l5.4.5M106 22.2l4.9 1.1M108.5 23.7l3.3 1M71.4 31.1l3-.9M104.6 25.6l5.2-1.4M134.2 33l2-.5M150.9 36.6l5.9-1.6M140.3 34.1l4.1.6M143.1 30.2l4.3-1M121.1 25.3l5.3 1.8M137.7 34.2l3.3 0M140.9 28.9l4.4-1.5M152.1 35.5l2.7-.1M154.4 28.5l2.7-.7M140.8 22.2l5.5 1.2M152.3 35.8l4.5-.3M146 30.1l5.9 1.2M125.5 36.6l5 .9M158.9 28.5l5.6 1.5M151.7 34.3l5-.4M153.4 23.1l3.3 0M148.3 32l3 .9M150 27.4l4.6.2M142 28.2l6 .6M152.1 34.2l5.9-2M146.9 33.8l3.1-.2M132.5 23.6l3 .8M143 30.1l5.9.3M145.9 34.1l2.1.7M119.6 29.5l2.7 0M171.3 36.5l5.8-.3M167.3 50.5l3.4-.5M173.4 49.6l3.2.5M149.5 54.6l3.6 1M162.6 47.4l5.9-1M167.1 59.4l4.9-.1M171 38l4.5-.1M167.3 38.2l3.8.5M163.9 41.8l4.3-.2M179.3 48.8l6 1.9M177.2 41.2l2.5.7M179.6 51.2l3.5-.5M174.9 49.7l4.3.4M178.2 39.9l3 1M155 46.1l4.5-1.3M168 36.9l2.3.3M168.4 51.4l3.5 0M152.1 43.9l5 1.2M180.8 51.2l5.1-1M162.4 41.7l5.2-.5M157.6 49.3l5 1.4M162.5 44.6l2.4.6M169.1 47.6l4.7-.7M152.2 52.2l2.4-.3M176.8 53l3.1-.7M159.2 53.9l3.4-1M176 49.8l5.7 1.7M185.8 46.4l5.3-.7M157.2 45.4l5.8 1.6M153.9 44.4l3.5-.3M161 45.1l2.8.1M180.3 49.1l5.3.2M150.5 54.7l5.5-.8M143.1 48.4l4.1.2M163.1 44.4l5.2-1.6M151.3 46.6l2.3-.7M156.6 48.4l2.4.2M140 45.9l4.6-.8M142.2 46.2l4.1.8M147 39.4l5.9.7M149.8 42.6l4.9.7M161.6 40.6l5.3.6M159.9 46.9l5.3 1.4M162.8 44.2l4.1.6M158.5 40.7l3.6-.9M146.5 36.7l2.8-.2M86.8 40.9l2.4.3M132.7 38.9l2.2-.1M120.4 50.5l2.1-.5M94.8 39.5l3 .4M121.1 39.6l2.7-.4M94 48.1l3.3.1M135.3 43.7l3 .8M141.5 41.5l4.2 1.3M113.9 39.5l2.2.7M134.3 42.2l4.1 0M125.1 39.8l2 0M106.8 48.7l4.8.4M93.1 38.5l3.3-.5M138.6 44.3l4.6 1.5M100.1 44.6l2.6.4M137.2 49.2l2.3-.4M128.9 37.6l3.9-.1M144.2 45.4l5.4-.8M133.5 42.7l5.7-1.7M135.9 39.3l4.2.1M93.1 49.3l3.2-.4M87.9 40.9l3.8.6M106 47l2.4-.2M112.6 51.5l5.3.5M128.4 39.8l4.3-.1M134.2 39.3l4.4-.6M107.1 44.6l3.2-.3M108.1 46.7l3-.7M129.8 41.3l5.8.2M129.3 41.3l5.3-1.5M12.4 79l1.9 2.6M12.8 81.4l2.5 2.6M10.2 77.9l1.7.6M22.1 87.4l3 2.3M23.9 92.9l1.7 3M20.5 87.7l2.4.6M19.8 89.6l2 3.3M29.4 97.5l1.3.9M17.8 87.5l1.5 1M23.4 93.4l2.4 2.6M10.8 82.1l2.7 2.6M18.7 87.3l1.1 1.5M41.5 107.6l1.6 2.9M11.6 84l2.8 1.2M9.8 77.7l1.8 2.4M16.4 88.1l1.9 1.6M8.9 81.7l.8 1.7M25.4 93.6l2.5 1.4M37.1 106.9l2.4 2.6M9.3 81.1l1 2M14.4 84l3.3 1.4M27.1 91.9l1.5.7M40.1 109.2l2.7 1.6M29.4 98.4l1.7 1.8M36.5 99.9l1.6 1.3M11.5 80.2l2.7 1.1M25.5 91.7l2.5 1.6M30.6 94.8l3 1.2M40.2 107.1l2.2 1.6M27.8 96.7l1.9 2.8M21.8 93.4l1.7 3.2M20.9 88.8l1.3 2.7M24.9 92.9l1.1 2.4M19 84.6l1.4 3M32 99.8l2.9 1.7M28.8 93.4l1.4 1.1M24.4 91.7l1 1.3M25.8 91.9l1.9 1.3M15.9 81.9l1.4 3.5M28.7 98.7l1.4 2.2M13.2 84l1.2 2.7M8.6 80.2l1.3 1.3M41.9 104.6l1.8 1M19.1 84.8l1.9 3.2M20.8 88.2l2.8.8M5.8 78.5l1.7 1.5M38 107.7l2.5 1.1M15.2 87l3.4 1.6M36.6 102.3l2.5 1M36 106l1.3 1.5M11.6 83.5l1.6.6M32.7 98.5l1.8 3.4M32.9 97.5l1.3 2.9M23.4 88.7l1.8 1M32.6 97.6l1.7.9M29 98.4l1.5 1.8M37.5 104.6l1.8 1.1M38.8 106.3l1.4 1.7M7.6 80.7l1.9 1.8M26.6 91.3l2.6 1.5M210.7 42.2l.5 1.6M215 54l.1 2.2M210 40.7l2.1 3.4M211.4 47.2l-.8 2.3M214.9 47.8l-.2 2.9M211.8 44.7l.2 3.5M210.9 48.3l.2 3.2M215.9 58.7l1.4 3.1M214.8 50.5l-.5 2.5M211.8 55l.2 2.1M212 41.3l1.4 2.4M211.9 50.4l-.8 2.8M214.4 40.1l.2 1.6M213.2 46.4l-.4 2.1M209.7 37.9l.1 3M215.1 54.9l.6 1.8M213.2 36.9l.2 3.1M212 42.4l-.4 1.7M213.8 40l-.2 1.9M211.9 56.1l.3 1.6M214.4 44.6l2 3.4M211.4 47.9l1.7 3.6M211.4 47l.6 1.6M215.9 57.2l.7 2.4M215.4 46l-.7 1.4M212.1 54.4l.7 2M214.6 49.1l-.9 2.5M213.7 44.7l-.1 3.9M212.7 36.9l1.5 2.7M211.5 44.3l0 3.7M195 113.2l1.5 1.9M189.1 111.5l1.9.8M187.7 109.3l1.9.5M188.2 109.1l2 1.1M195.5 114.7l3.5.9M190.9 108.5l3 1.2M190 107.6l1.8.6M188.8 112.2l3.2 1M190.5 108.7l3.5 1.5M193.1 113.6l3.7.2"/>
<path class="cl" stroke-width="1.6" d="M55.4 42.8l14.5.5M56 25.3l3.2-2.2M62.4 29.6l3.2.8M37.7 54.9l5.3.2M142.4 6.2l17.6 0M124.7 11.6l16.1 0M141.9 12.6l12.9-.5M108 13.4l4.3-1M124.1 13.4l17.2.6 5.4 1.6M85.9 18.3l2.2 1.1M97.2 14.5l3.2.8M105.8 22.1l8.6 0M113.4 16.4l6.9.5M128.4 16.1l5.4-.5 8.6 2.7M127.3 19.4l13 1M151.6 18.3l8.4-1.1M83.2 21.8l2.7 1.3M87 24.7l3.8 2.2 3.2-1.1M96.1 28.5l6.5.8M105.3 29.6l8.6 1.1M117.7 25.3l6.4 1.1M85.9 40.3l2.2 1.7M121.4 39.5l4.3 1.9 4.3 1.1M143.5 36.6l8.6.5M144.6 35l6.4.5M155.3 37.1l4.7 2.7M138.1 43.8l9.1.6M130.6 54.9l7.5 2.1M89.1 45.2l6-1.6M123 57l6.5 1.6M164.5 5.6l5.9.3M173.1 7l4.9.3M175.8 12.9l4.3 1.6M165.1 14.8l3.2-.8M168.8 24.2l5.4.3M201.6 31.7l3.8.6M214.6 47.3l2.1-1M213.5 50.6l3.2 0M176.9 49.5l8.1 2.1M160.2 49l2.7 1M180.1 55.4l4.3 2.2M165.6 58.6l3.8.6M23.1 86.9l.6 5.4M76.9 109.2l3.1 0M54.9 70l3.7.1M112.8 61.6l2.2.8M113.4 67l2.1-.3M141.3 93.9l3.3.3M137 66.2l2.2-.3M80 75.5l3 0M88.1 91.2l1 1.3M80 108.7l1.6-.3 1.1 1.4M89.4 108.2l1.1-.9 1.1 1.7 2.9.2M95.3 112.2l1.4 1.1-.6 2.7-.8 2.1M153.2 110.6l1.3-1.4 1.4 1.4-2.7 0M151 119.7l4.3-1.6 4.7-.8M167.2 73.4l4.3 0M169.4 76.1l2.1 0M171 79.4l2.7-.3M185 74.5l2.7 3.3M160.2 102.5l.3-2.7 1.3-1.3 2.2-.3-1.6 1.6-1.6 2.7M181.2 90.1l1.1 2.2M164.5 62.2l3.8 3.2M179.6 68.1l3.8.5M174.2 72.6l1.6-1.3M45.5 143.4l.8 1.6M66.7 126.1l0 2.5 1.1 1 1.1-1.3M69.9 139.9l2.7-2.7M95.1 118.3l1-1.3M161.8 126.7l2.7-.6 2.2.6"/>
<path class="cl" stroke-width="2" d="M117.7 10.5l8 0M131.6 33.4l5.4 2.1-3.2 2.2 1.1 3.2M103.1 49.5l4.9 3.2M172.1 10.8l12.3.5M164.5 21.5l14.6 1.6M210.8 38.7l5.4 2.2M210.3 49.5l6.4-1.1M210.8 51.6l1.6 5.4M210.8 53.8l3.8 5.4M160.2 40.1l5.9 1.3M5.4 76.1l4.3 2.2 2.1 3.2 4.3 3.8 2.2 2.1M10.8 74.5l4.3 4.3 3.2 3.8M26.9 92.3l3.2 4.3 2.2 3.2 5.4 3.2 3.2 2.7M41.4 109.8l2.2 0M69.4 65.9l4.8-1.1M69.9 76.9l1.7-.2M146.7 84.2l2.7-.5M149.4 76.9l1.1 0M149.9 60.5l4.3 0M149.4 63.8l3.2-1.1 1.6-1.1M133.3 111.6l3.7 2.2M136 114.3l3.2 1.1M116.6 111.6l1.1.6M192.5 91.7l3.2-1 4.3-1.1M204.3 111.1l2.7-.5 2.7-2.2 1.6-2.1M186.6 103l3.2 1.9M179.1 107.6l3.2-.3M168.3 107.9l3.2.5M167.2 111.6l1.1.6M160.2 60.8l2.2-.3M172.6 62.7l5.4 1.6M62.4 141.2l1.1 2.2M61.3 152.5l1.1.5M64.6 162.7l1 1.6M123.6 140.1l2.1.6M120.3 159.5l2.7.5M122.5 162.7l1.1.3M109.1 161.7l1.6.5M143.5 169.7l2.7.6M152.1 133.7l4.8 0M138.6 125.1l4.3 1M139.7 120.2l1.1 2.2M162.4 127.8l2.7-1.1M187.7 117.5l3.2 0"/>
<path class="cl" stroke-width="2.6" d="M171.5 43.6l5.4 2.1M96.1 92.3l2.2 1.1M109.3 103.6l2.4 2.1M183.9 111.6l3.8 2.2 3.2 1.6M192.5 112.2l1.1 2.1M213.5 60.5l3.2 2.7M154.2 134.8l2.2 3.7M154.8 138.5l1.6 7M142.9 125.1l3.8-2.7 8.1-2.2 5.2-2.1M160 120.2l2.4-1"/>
<rect class="fr" x="0" y="0" width="218" height="175"/>
<path class="tk" d="M-5.5 160.3H-1M-5.5 131.3H-1M-5.5 102.2H-1M-5.5 73.2H-1M-5.5 44.1H-1M-5.5 15.1H-1M0.3 176V181.2M48.9 176V181.2M97.4 176V181.2M146 176V181.2M194.5 176V181.2"/>
</g>
<text class="s" x="247.2" y="1637.2" font-size="16.72" fill="#000" textLength="27.8" lengthAdjust="spacingAndGlyphs">30N</text>
<text class="s" x="247.2" y="1607.9" font-size="16.72" fill="#000" textLength="27.8" lengthAdjust="spacingAndGlyphs">40N</text>
<text class="s" x="247.2" y="1578.7" font-size="16.72" fill="#000" textLength="27.8" lengthAdjust="spacingAndGlyphs">50N</text>
<text class="s" x="247.2" y="1549.4" font-size="16.72" fill="#000" textLength="27.8" lengthAdjust="spacingAndGlyphs">60N</text>
<text class="s" x="247.2" y="1520.2" font-size="16.72" fill="#000" textLength="27.8" lengthAdjust="spacingAndGlyphs">70N</text>
<text class="s" x="247.2" y="1490.9" font-size="16.72" fill="#000" textLength="27.8" lengthAdjust="spacingAndGlyphs">80N</text>
<text class="s" x="266.8" y="1664.7" font-size="16.28" fill="#000" textLength="36.6" lengthAdjust="spacingAndGlyphs">140W</text>
<text class="s" x="315.4" y="1664.7" font-size="16.28" fill="#000" textLength="36.6" lengthAdjust="spacingAndGlyphs">120W</text>
<text class="s" x="363.9" y="1664.7" font-size="16.28" fill="#000" textLength="36.6" lengthAdjust="spacingAndGlyphs">100W</text>
<text class="s" x="416.6" y="1664.7" font-size="16.28" fill="#000" textLength="28.4" lengthAdjust="spacingAndGlyphs">80W</text>
<text class="s" x="465.1" y="1664.7" font-size="16.28" fill="#000" textLength="28.4" lengthAdjust="spacingAndGlyphs">60W</text>
<g transform="translate(284,1715)">
<g class="c"><rect x="215" y="134" width="3" height="9" fill="#ffa000"/><rect x="88" y="127" width="13" height="9" fill="#1464d2"/><rect x="197" y="127" width="7" height="9" fill="#50a5f5"/><rect x="203" y="127" width="7" height="9" fill="#b4f0fa"/><rect x="209" y="127" width="9" height="9" fill="#ffe878"/><rect x="88" y="119" width="7" height="10" fill="#1464d2"/><rect x="179" y="119" width="25" height="10" fill="#1464d2"/><rect x="203" y="119" width="7" height="10" fill="#50a5f5"/><rect x="209" y="119" width="7" height="10" fill="#b4f0fa"/><rect x="215" y="119" width="3" height="10" fill="#ffe878"/><rect x="173" y="112" width="37" height="9" fill="#1464d2"/><rect x="209" y="112" width="9" height="9" fill="#b4f0fa"/><rect x="173" y="105" width="7" height="9" fill="#1464d2"/><rect x="179" y="105" width="19" height="9" fill="#50a5f5"/><rect x="197" y="105" width="7" height="9" fill="#1464d2"/><rect x="209" y="105" width="9" height="9" fill="#50a5f5"/><rect x="215" y="97" width="3" height="10" fill="#50a5f5"/></g>
<path class="cl" stroke-width="1" d="M.8 45.1l2.2 0 1 1.1 1.6.2.9 1.1 3.5 0 .8-1.2.8 2.4 1-3.2.8 3.2 1.1-3.2 1.6.8 1.4 2.4 1.9-3 .2-1.2 1.9.2.8 1.7 1.4-2.8 2.1-.3.6 1.1 2.1 0 1.9-2 1.1 1.2.8 1.9 2.7.2.5.8 1.6-2.1 1.6 2 1.6.1 1.4-2 4-.1.8 1.1 1.9.1 1.1.8 3.2 0 .8 1.1 3.5 0 .8-1.1 5.7 0 .8 2 .8.6 7 0 1.1.5 2.1-.8 1.1-1.1 3.6 0M59.2 50.6l2.7-1.9.5 1.6 11.8 0 2.2 1.1 2.1 2.9 1.5.3M34.4 38.3l1.1-1.2 2.2-2.7 1.8-.9-1.8-1 .8-1.3 16.4 0 .5 1 2.4.3 1.4 1.4-2.2 1.3-3.2.6-2.2 1.2-3.2.4-1.1 2.1-.8 1-6.2 0-.8-.8-2.4-.3-1.3-1.1-1.4 0M51.1 37.1l1.6 2.7 1.1 1.6 1.6.6 1.1 2.7 1.3 1.6M51.6 37.1l2.2-1.6 3.2-1.1 2.2-.8 4.3.8 1.1 1.1-3.3 1.1 3.3-.3M52.2 39l7 1.1 1.6-.8M64.6 35.5l3.2.3 1.6 1.3 2.2-.5 1.6-1.1 1.6 1.1 2.1-.6 1.1 1.7-.5 1.6 2.5-1.6M76.9 34.4l3.1-.5M41.2 26.4l1.3-1.1 3.8 0 .8-1 1.9 0 1.3-2.1 9.4 0 0 1.5-1.6 1.3 6.5-.5-3.8 1.3-.5 2.7-4.9.8 1.1-2.4-2.7 1.1-1.3.5-.9-1.3-3.2.2-1.1-1.3-6.1.3M51.9 26.4l1.4-1.5 1 1.2-1.3 1.3-1.1-1M61.3 21.5l1.1-1.1 1.1.9 2.7.9 6.4 0 .6-1.5 1.6-1.3-2.7-1.1-2.2.5-4.8.5 1.6.9 3.2.1M60.8 25.3l3.8 1.1 4.8.2 1.6 1.4 1.1-1.4 2.1-2.1 2.7 0 3.1 2.9M71 28l0 1.9 3.8.5 5.2-1.1M61.9 29.3l1.6 1.9 6.4 0 0-1.1M35 53.4l1.9 0M36 55.4l2.7-1.1 4.9.1 1.1-1.1 3.2 0 1.1-1.1 1.6 1.1 4 1 0 2.2-.8 1.1-1.1-1.4-2.7-.2-.5 1.8-2.7.6-1.1 1.3M40.1 58.4l2.4-.3.5-2.1 2.7-.6-1 1.6 3.2-.5 1.1-2.7 2.6 1.6M139.2 8.1l4.3-.6 4.3 1.4-4.3.5M117.7 9.7l8.6-.6 7.5-1.6 5.4.6M149.9 11.3l4.3-.5M105.3 15.6l2.7-2.7 3.2-1.3 6.5-1.9M112.3 14l2.7-1.9 3.7-.5 2.2 1M83.2 17.2l3.8-1.1 5.4 1.4 5.4 1.1 1.6 2.4-8.1.3-4.3-1.4-1.6-1.9-2.2-.8M101.5 18.6l3.2-.3 4.4 1.6 5.3.8M112.3 16.1l8.6 1.1 1.1 1.6-7-.2-2.7-2.5M130.6 17.8l8.6 0M149.4 17.2l10.6-1.6M149.9 20.4l5.4 1.1 4.7-3.7M82.2 21.5l4.3 2.2M120.9 21.5l6.4 1.1M119.8 20.4l6.5-2.6M94 24.7l7.5-.5 2.2 2.7-1.1 2.4-6.5 0-2.1-2.4M80 27.4l3.8-.5-.6 2.2-3.2.5M85.4 29.6l3.2-1.6M105.3 24.2l2.7.5 2.1 2.2 2.2 1.1M106.9 28l5.4.5M113.4 24.7l4.3 1.1 6.4 2.2M123 23.7l5.4 1 5.4-.5 7.5 1.1 3.3-.6M124.1 27.4l7 .6 15.1-1.1 2.7-1.1 1-2.7-8.6-.5M115.5 26.9l1.1 2.7 5.4 1.1 8.6.2 3.2-.8 6.5 1.1 7.5-.5-1.1-1.6-2.1 1M141.3 22.6l10.3.5-1.1 2.2M107.4 33.4l1.7-1.1 12.9 0-4.3 3.2-5.4 1.1M107.4 33.4l1.1 3.2 1.6 2.1 4.3 2.2 3.3 2.1M80 33.9l7-.3-1.1 1.4-2.7-.6 2.2 3.3 1.6 3.2 1.6 1.6 9.2 0M90.2 36.6l2.7-2.7 4.3-1.6 6.5 0 1.6 2.1 1.6 2.7-1.6 2.2-4.9 1-2.6-2.1-3.8-1.1-3.8-.5M101.5 35l2.7 1.6-.5 1.1M121.4 38.7l1.1-3.7 2.2-1.6 5.3-.6 1.6 2.7-1 4.3M130 30.1l1.1 12.9M136.5 33.4l15.1-.3 3.7 1.9 4.7 3.7M104.7 42l4.4-2.7M115 42l3.7 1.6-1 1.6 4.3 4.3 1-2.2 3.3-.5 1 3.8 2.2 2.1 2.1-2.1 1.1-3.3-1.1-3.2 6.5-.5 9.7.5 1.1-2.1 1 2.1 5.4 1.1 4.7 3.2M139.2 45.7l3.2 1.1-2.1 2.7 2.6 2.1-2.6 2.2-5.4-1.1-5.4 2.2 2.1 3.2 4.4-2.1 3.2 2.1M80 45.7l3.2 1.1 1.6 1.6 4.3 2.2 12.4 0 2.2 1 2.1-1 3.3 3.7 0-5.9 4.3-.5-1.1-2.2-5.4-1-3.8 0-3.2 2.6-1.6 0M90.8 44.7l1.6 3.7M95.1 47.3l1.6 0M118.2 55.4l3.8 1.1 3.2 1.6 4.3 1.1M146.7 47.3l2.7-2.6 0 3.2M152.1 51.6l3.2-2.1 4.7 1.1M152.1 51.6l3.2 1.7M149.9 59.2l2.7-1.1 7.4-.5M160.2 6.5l3.2 0 1.1-1.1 6.5 0 .5 1.1 13.5-.2 5.9 1 1.6 2.1 5.4.3.5-1.1 15.1 0 3.2.3M198.4 10.2l4.3.3M209.2 10.5l1.6-1.1M184.4 10l6.5-.3 2.1 1.9-5.3.5-2.2-.8M160.2 16.1l3.8-.5 6.4-3.8 2.2-1.3M163.4 20.4l2.2-1 7-.8 1.1-1.1 8.6-.3 0-1.6-1.6-.8 4.8-.5M173.1 26.4l6 0 1-1.1 1.1 1.1 3.8-.3 1-.8 1.1 1.3 1.1-1.3 1.1 1.1 6.4 0 1.1 1 2.2.3 2.6 3 3.3 1 1.1 3.3 1.6.5-2.2 1.6 0 3.2 1.6.6 2.2-2.2 1.6-1 4.8 2.1M207.6 39.8l2.1.5-.5 2.2 5.4 0-2.7 2.2-4.9 0 1.1 1.6 2.7 0M160.2 39l4.9.8 3.7 1.6 3.3 1.1M173.7 48.4l4.3 1.1 4.3.5 4.3 2.2 3.7 1.1.6 1-3.2 2.7-2.7 2.2M160.2 47.9l2.2.5 2.1 3.2 3.3 2.2 3.7 1.1M159.7 56.5l2.7-3.2 2.1-.6M166.1 52.7l2.2-.5 3.2 1.6 1.1 1.1-3.8.5M174.2 54.9l3.8 0 4.3 0 2.7 2.1M175.3 56l1.6 2.1 3.2.5M.8 72.4l1.9.2 2.1 2.5 4.3.2 2.2-1.9 1.6 1.1 3.2 3.3 2.7 3.7 3.8 1.6 2.7 2.7.5 3.3-1.1 1 2.2 1.6 2.2-.5 2.1 3.2 1.6 2.7-.5 1.6 3.2 1.1 2.2 1.1 2.1 1.6 2.2 2.7.5 2.1M28 100.3l3.2 2.7 3.2 1.7 2.7 1.6.6 2.1M17.2 90.7l3.2-.3-1.6 1.9 2.7 4.3M17.2 90.7l0 2.7 2.2.5M16.1 72.1l2.7 1.1M37.7 108.4l1 3.2.6 2.2.5 3.2-1.1 3M37.7 113.3l3.7 0 1.1 1.6 5.4.2 1.1-1 7.2 0M42.5 105.5l37.5 0M56.2 105.5l0 8.6 1.4 1.3-2.2 3.2.6 1.4M57.8 105.7l.8 3.3 3.3 2.6 1 3.3 2.2 2.7 1.6.8 3.2 0 1.1-1.4 9 0M71 117l0 3M37.1 82.1l1.6 2.1 2.7 1.6 1.6-1.3 1.1 1.1M41.4 85.8l0 1.9M51.1 94.2l.5 1.6 3.3 1.6M54.9 100.1l-1.6 1.9 1 1-1 1.7 0 2.9M49 69.6l4.3-.2.5-.8 1.6 1.4 3.2 0 1.1-1.9-.5-2.7 1.6 1.3 2.7-.2 1.1 1 3.2 0 1.6-2.1 2.7-1.1 3.8 1.1M59.2 71.3l1.1-1.3 4.3.2 2.6-1.6 1.1-1.1M69.9 77.2l2.2-1.6 2.1-1.3 2.7 0 3.1 1M72.1 76.1l3.2.3 4.7-.5M112.3 61.3l2.7 1.1 4.3.3 2.1-1.4 6.5-.2M120.3 62.7l-.5 1.6-2.1 1.1-3.3 1.6-2.1 1.6-1.9 3 0 4.5-1.3.3M110.4 76.1l1.3 1.4 2.7 0 1.1 1.3 0 3.3-1.1.2M115.5 82.1l1.6-.6 3.2 0 1.1.8 3.3 0 1 1.1 1.6 1.6 3.3.3 2.1 2.1 8.1.3 0 5.7 1.1 2.1 2.7 1.6-.3 2.2 1.3-1.6 1.6 2.6 1.1-1.6 1.1-1-.5-1.7.5-1-.5-4.9-1.7-1-.5-.9 2.7 0 2.7-1.3 2.1-1.6.6-3.2-1.1-2.7-1.6-.8-2.2-1.4 1.7-1.6 0-2.2 2.1 0M151.6 73.4l0-1.8-2.2 0M151.6 71.6l0-3.5-1.1-.8 1.6-1.9 2.1.5 3.8.3 1.1 1.1.9-1.9M129.5 60l.5 2.2 2.2.5 1.6 1.6 1.6-1.6 2.7-1.1 6.5 0 1 .8-3.2.8-1.6-1M136.5 65.9l1.6-1.3 1.6.8 1.1-1.1.5 1.1-4.8 1.1M145.4 67.5l1-1 1.1 1-1.1 1.1-1-1.1M92.1 64.6l1.3-1.1 2.2 0 0 1.3-1.6.8-1.6-.2-.3-.8M89.1 84.2l1.1-2.7 1.1-1.9 2.1-1 .3 1.8-1.1 2.2-1.8 1.1-1.7.5M105.3 84.5l1.6 1.1 1.1-1.1M109.3 84.5l1.4-1.4M95.3 92.8l.8-2.1 1.7-.3 1 1.3 2.7 0 1.6-2.6 1.1-1.1 1.6.5M103.1 89.1l-.5 2.1 1.1 1.6 1 1.6.3 3.3 1.9 1-.3 1.6-1.9.6-.2-3.2M97.2 94.4l.6 2.7 2.1 1.6 1.1 2.2 1.6.5M98.3 93.4l3.2 1 2.2 1.1M99.9 92.3l1.6 2.7 1.6 2.7M80 105.5l29.3 0M111.7 106l3.3.8 2.7.8 2.1.3M119.8 107.9l3.2-1.1 2.7-.5 1.1-1.6-1.3-1.7M124.4 102.8l1.1-1.4 1.3 1.4-1.3 1-1.1-1M126.8 104.7l2.7 1 1.1 1.1 3.2 1.1 1.1 1.1.5 2.6-1.1 1.7M125.7 106.3l1.6 1.6 1.1 2.1 3.2.6 2.2 1M119.8 107.9l-.5 2.1 1.6 1.6 2.1 1.1 2.7.6 2.7 1 2.2-.5 3.2-.5 2.2.5 3.2-.5 5.4.5 1.6 1.6.5 2.2-2.1 1M122 111.1l3.7-.3 1.1-1.3M128.4 111.6l5.4-1.6M119.3 110l-2.2 1.6-.5 2.2-1.6 1.6-.6 1.6 1.1 1.6.5 1.4M127.3 116l1.1 1-1.1 3M130.6 114.9l-.6 5.1M137 116l1.6 1-.5 3M140.3 115.4l.5 4.6M143.5 114.9l2.1 2.1-1 1.6M87.3 105.5l0 14.5M80 116.9l7.3 0M87.3 114.3l18 0M104.5 105.5l.8 2.9.5 5.9 1.1 2.2 0 3.5M160.2 65.5l2.7 1.5 1.1 1.3 2.1.3 1.1 1.6 4.3 0 .3 3.8 1.3 1.3 1.6 2.5 1.1 1.3 1.1-.8 3.2-1.1 1.1-2.1 1.1-2.2 2.1-.3 1.1 2.5 2.2 2.1 1.6 2.2 1.6 1 .5 1.7-2.7.5 2.2 1.6 1.6 1.1 1.6 1.6 2.7.5 2.7.8 1.6 1.9 2.7 1.1 1.1 1.6-.6 1.6.6 2.7-1.1 1.1-2.2 0M200.6 90.1l0 2.7M201.6 98.2l-3.7.3-2.2 2.7-2.7.2-13.9 0-1.7 1.6M177.4 103l-2.1 1.7-2.7.5-.5 2.1-3.8 0M201.6 98.7l-1 2.2-1.1 2.1-1.1 2.2-1.6 1.6-.5 2.2 2.1.2 5.4 0 .5-.8 1.1 1.1 2.7-.5 1.6-1.7 1.6-.5-1-2.1-2.7-.9-3.3-.2-.5-1.1-1.1.5 1.1-2.1.5-2.2M209.7 110.6l1.6 1.6 1.1-1.6-1.1-2.2M179.1 103l3.2-.5 3.2 0 2.2 1.1 2.1 1.6M173.7 106.3l1.6-1.6 2.7-.6 4.3.3 1.6.8-.5 1.6-2.2.5-2.7.6M172.1 107.3l.5 2.7 2.7.3.5 4 1.6 1.7 3.8.2 1.6-1.3-.5-2.2 1.1-2.1-.6-2.2M188.7 110.6l2.2-1.4 1.1.3M184.4 116l3.3 1 3.2-.5 2.1-.5 1.7-2.2M178 120l2.1-2.4 4.3.5M182.3 119.7l3.2-1.1M172.1 107.3l-1.7 2.2-1.6 2.1-1.6 1.1M170.4 111.1l-1.6 3.8-1.6 2.1-7 .3M162.4 117.6l.5 2.4M165.6 118.1l.5 1.9M172.1 97.9l1.3-1.6 1.3 1.6-1.3 2.4-1.3-2.4M178 88.2l1.3 1.9 1.9.8.5 1.6 1.1-1.8 2.2.8 1.9-1.1M180.7 89.1l1.6-.9 1.6.3M162.9 60.5l3.2 2.7 2.2 2.2 3.2.5 4.3 1.1 3.3.5 3.2 1.6 1.6-2.6-1.6-1.1M182.3 61.1l1.1 3.2M39.5 117l0 1.9-1 .5 0 5.7M38.5 125.3l0 6.2 1 .8 0 2.2 1.4 1.1 1.6 1.6.5 1.3 1.4.8 0 3 1.1 1.6.8 1.1 1 2.1 1.7 1.1 2.6 0 1.7 1.6 2.1 1.1.3 2.7.8.5 0 2.4 1.3 1.7 1.4 2.4 1.6 1.6 2.1 1.6.6 2.2-1.1 1.3-2.1 0M62.4 167.3l.3 1.9 1.9 1.1 2.1 1.6 1.9 1.9M43.6 136.1l1.9.5.2 1.1M43 137.4l1.1 1.1M38.5 125.3l31.4 0M48.4 125.6l0 8.9 3.2 1.1 1.7 2.9 1 1.6 2.7 1.6 2.2 1.1 1.6 2.2M63.8 125.6l0 15.1M63.8 140.7l-3 4.3 1.6 1.3.3 1.9 1.1.3-1.4 1.3-.5 1.6-1.6 1.6M55.7 153.6l4.6-.6M56.5 117l-1.1 1.6 1.1 1.1 0 5.6M64.6 117.5l2.1.8 3.8 0M70.5 118.3l0 10 9.5 0M75.6 128.6l0 27.4M64 140.4l16 0M61.3 154.1l3.8 0 3.2 2.4 9.2 0 .5-1 2 0M61.3 155.5l.3 4.5 1.3 1.7 2.2 1.6M61.9 155.5l2.7 1 2.1 3 .3 2.2.8 2.1 2.1 2.2 2.7 1.3-1 1.1 2.6 1.9.6 2.7 2.1.8M65.1 163.3l1.6 2.1 0 2.2 1.6 2.7 1.6 2.7.6.8M87.5 117l0 11.3M80 128.3l12.4 0M87.5 122.4l11.9 0 2.1.8 3.8.3 1.1 1.6.5 2.1 1.1 2.2 1.3 2.1.8 2.2.3 7M92.4 128.3l0 12.1M92.4 131.5l16.1 0M80 140.4l30.4 0M110.4 140.4l.3 1.9M90.8 140.7l0 14.8-10.8 0M92.1 142.3l5.1 0 .6 5.4 1.6.5 2.1 1.1 2.7.8 1.6-.3 2.7-.5 1.9 0M110.4 142.3l.8 2.7.3 2.1-1.1 2.2 1.3 2.7 0 2.7 1.1 2.1-.5 2.7.5 1.6M110.7 142.3l11.3 0M111.7 152.2l7 0M99.4 120.2l.2 1.9M106.4 117l0 4-1.1.6 1.6.8M106.4 121.2l11.3 0M114.4 117l2.2 2.2 2.1 2.1 1.1 2.2 1.6 1.6-.2 1.6-1.9 1.9-1.6 1M108 129.6l9.7 0M117.7 129.6l1 2.5 2.2 3.2 2.1 3.8 1.7 1.6M120.9 124.5l6.4 0M127.3 117l-.5 2.2.5 3.2 0 2.1 0 11.3-1 1.1.5 3.2-.5 3.3M124.7 140.7l-2.7 2.1-1.1 3.3-1.1 2.6-1.1 2.7.6 3.3-1.6 2.4 3.2.2 1.6.6.5 2.1M112.8 161.1l2.7 1.6 2.2-1 1.6 1.6 2.7-.6M123 160l2.7-.5 1.6 1.1M80 155.7l2.7 1.6 2.7 1.7 1.6 3.2 1.6 1.3 1.6-.2 1.1-1.6 3.2 0 1.6 3.2 2.7 2.7 0 2.1 1.6 1.6 2.7 1.1 1.6 1.1M104.7 173.5l-1.6-3.8.6-2.1 2.7-2.7 2.7-1.1 1-2.1 2.7-.6M125.7 147.1l0 12.4M122 146.1l13.4 0M122 142.3l4.8 0M126.3 140.9l29 0M132.2 146.3l1.1 4.1 1 3.7-.5 3.2M127.3 157.3l6.5 0M133.8 157.3l2.7 1.1 4.8.6 1.1-1.1M127.3 157.3l1.1 1.7 2.7 1 2.2 2.2 1-1.6 2.7-.6M137 160l1.6 2.7 1.1 2.7 0 2.2 1.6 2.1 1.1 3.8M142.4 159l1.1 3.7 1.1 2.7.5 3.2.5 2.2 0 2.7M148.3 170.3l3.8 0 1.6 1-1.6 1.1M135.4 146.1l2.7-1.1 5.4 0 3.2 1.1 2.7 3.2 2.2-.6M138.1 146.3l1.6 3 1.6 1.6 1.1 2.7 1.1 1.1M143.5 154.7l-1.1 3.2M155.3 145l-2.1 2.1-1.6 1.6-2.2 1.1-2.7 2.2-3.2 2.7M127.3 135.8l2.2 1.6 2.1-1 2.2-1.1 1.1-.5M134.9 126.7l0 8.1M127.9 126.7l11.3 0M134.9 134.8l4.3.5 1.6 1.6 1.1 1.6 2.7.6 2.1-2.2 2.2-2.7 1-1.1M140.8 135.3l2.1-2.2 3.3-.5M144.6 126.1l0 6 12.9 0M144.6 126.1l13.4-.5M158 125.6l1.1 1.6-1.6 2.2 1 2.7M139.2 140.7l2.7 1.6-1.1 1.1-3.8.5-2.1 2.2M149.9 133.1l1.1 1.7 3.2 1.6 1.1 2.1M156.4 145.5l1.6 0M130.6 117l0 8.6M136 120.2l3.2.6 1.1 1.6-1.7 2.1.6 2.2M138.1 117l-1.1 2.2M142.4 117l-.5 1.6M162.4 117.5l0 6.5-1.1 1.6 0 2.2M162.4 118.1l5.4-.6.5 3.8.5 2.7 1.1 1.6 1.1 1.1-1.6 1.1-3.3 0-1.6 1.8-3.7 0-.6 3M168.3 121.3l3.2-1.3 4.3-1.7 2.2-1.3M164 119.2l2.1.5-1.6 1.6-.5 1.6M162.9 124l4.3 0 .6 1.6M179.3 118.6l1.4 2.7 1.6 0 1.1-2.1 3.2-1.1 4.3-.6M118.2 20.4l5.7-.1M122.6 21.1l2.8 0M132.4 26l2.4-.3M137.5 8l5.9 1.9M134.3 21.8l2.6-.9M124.3 8.4l2.7-.5M84.4 18.1l3.8.9M123.5 22.4l4 .4M118.6 13.7l6 2.1M149.2 24l3.3-.6M105.1 8.7l5.1-.4M149.7 16.3l5.9 1.4M154.8 18.3l5.9-.4M87.8 22.1l5.2-.8M89 15l5.8 1M91.4 12.9l2.4-.7M145.8 11.3l4.2-.2M97.3 24.6l2.5.2M91.3 17.1l2.9-.5M106.3 28.2l2.9-.2M150.4 22.4l2.4.8M99.1 13.2l5.1-.6M105.7 8.8l2.4.1M101.4 21.4l3.5-.1M158.7 18.6l4.3 1.1M96.6 10.7l5.7 1.3M102 11.6l4.9 1.5M152.6 21.5l3.7-1M101.1 23.9l3 .7M129.7 14l2.7.5M126.7 27.5l4.5-.7M117.7 8.5l2.7-.3M127.8 10.2l3.4.9M137.3 21l2.6-.8M83.7 22.3l3.9.6M88 20.1l5 1.4M141 23.9l5.1 1.5M110.1 23.4l5.7 1.5M115.4 26l5.4.3M132 16.2l4.3.3M88.4 22.3l6 1.6M140.3 16.3l4.9.3M117.2 27.1l2.4.4M84.4 21.4l3.9-.7M137.9 18.9l4.4 1.3M106.1 23.3l2.8-.7M154.5 22.8l3.7 1.1M108.2 23l2.8-.2M152.4 16.2l4.4-.5M92.9 18.9l5.3 1.3M138.9 29.8l3.1-.7M118.1 13.6l2.8-.2M132.1 18.9l3.2.7M160.6 17.9l2.3-.8M138.7 20.7l3.2.7M118.4 7.6l5.3-1M132.3 17.7l4.6.5M136.8 11.8l3.9-.9M82.9 18.3l4.8-1.1M103.8 15.3l4.8.1M131.2 25.1l3.5.8M156.6 24.3l2.5 0M132 28.8l3.6.2M152.3 26.1l5.8-.1M134.1 11.9l4.9 1.1M133.3 24.2l2.9.8M125 26l3.2.9M150.5 15.4l2.3-.1M126 25.4l4-1.3M146 11.1l3.3.7M86.9 31l5.4.7M111 26.9l5.8-1.7M70.4 27.5l3.2.5M93.8 27.4l5.4.2M75.5 24.9l5.3 1.5M69.7 33.3l5.8.1M90.1 21.6l4.1 0M91.9 18.5l5.9.1M80.4 32.4l4.3 0M96.7 19.2l4.2-.3M73.1 26.5l2.5-.1M84.7 23.7l2.8.2M68.9 22.1l4.7-.6M77.9 29.2l2.4.3M64.9 27.2l3-.6M87.7 25.9l3.5-.3M87.6 20.9l2.9.2M93.8 27.5l5.4.5M106 22.2l4.9 1.1M108.5 23.7l3.3 1M71.4 31.1l3-.9M104.6 25.6l5.2-1.4M134.2 33l2-.5M150.9 36.6l5.9-1.6M140.3 34.1l4.1.6M143.1 30.2l4.3-1M121.1 25.3l5.3 1.8M137.7 34.2l3.3 0M140.9 28.9l4.4-1.5M152.1 35.5l2.7-.1M154.4 28.5l2.7-.7M140.8 22.2l5.5 1.2M152.3 35.8l4.5-.3M146 30.1l5.9 1.2M125.5 36.6l5 .9M158.9 28.5l5.6 1.5M151.7 34.3l5-.4M153.4 23.1l3.3 0M148.3 32l3 .9M150 27.4l4.6.2M142 28.2l6 .6M152.1 34.2l5.9-2M146.9 33.8l3.1-.2M132.5 23.6l3 .8M143 30.1l5.9.3M145.9 34.1l2.1.7M119.6 29.5l2.7 0M171.3 36.5l5.8-.3M167.3 50.5l3.4-.5M173.4 49.6l3.2.5M149.5 54.6l3.6 1M162.6 47.4l5.9-1M167.1 59.4l4.9-.1M171 38l4.5-.1M167.3 38.2l3.8.5M163.9 41.8l4.3-.2M179.3 48.8l6 1.9M177.2 41.2l2.5.7M179.6 51.2l3.5-.5M174.9 49.7l4.3.4M178.2 39.9l3 1M155 46.1l4.5-1.3M168 36.9l2.3.3M168.4 51.4l3.5 0M152.1 43.9l5 1.2M180.8 51.2l5.1-1M162.4 41.7l5.2-.5M157.6 49.3l5 1.4M162.5 44.6l2.4.6M169.1 47.6l4.7-.7M152.2 52.2l2.4-.3M176.8 53l3.1-.7M159.2 53.9l3.4-1M176 49.8l5.7 1.7M185.8 46.4l5.3-.7M157.2 45.4l5.8 1.6M153.9 44.4l3.5-.3M161 45.1l2.8.1M180.3 49.1l5.3.2M150.5 54.7l5.5-.8M143.1 48.4l4.1.2M163.1 44.4l5.2-1.6M151.3 46.6l2.3-.7M156.6 48.4l2.4.2M140 45.9l4.6-.8M142.2 46.2l4.1.8M147 39.4l5.9.7M149.8 42.6l4.9.7M161.6 40.6l5.3.6M159.9 46.9l5.3 1.4M162.8 44.2l4.1.6M158.5 40.7l3.6-.9M146.5 36.7l2.8-.2M86.8 40.9l2.4.3M132.7 38.9l2.2-.1M120.4 50.5l2.1-.5M94.8 39.5l3 .4M121.1 39.6l2.7-.4M94 48.1l3.3.1M135.3 43.7l3 .8M141.5 41.5l4.2 1.3M113.9 39.5l2.2.7M134.3 42.2l4.1 0M125.1 39.8l2 0M106.8 48.7l4.8.4M93.1 38.5l3.3-.5M138.6 44.3l4.6 1.5M100.1 44.6l2.6.4M137.2 49.2l2.3-.4M128.9 37.6l3.9-.1M144.2 45.4l5.4-.8M133.5 42.7l5.7-1.7M135.9 39.3l4.2.1M93.1 49.3l3.2-.4M87.9 40.9l3.8.6M106 47l2.4-.2M112.6 51.5l5.3.5M128.4 39.8l4.3-.1M134.2 39.3l4.4-.6M107.1 44.6l3.2-.3M108.1 46.7l3-.7M129.8 41.3l5.8.2M129.3 41.3l5.3-1.5M12.4 79l1.9 2.6M12.8 81.4l2.5 2.6M10.2 77.9l1.7.6M22.1 87.4l3 2.3M23.9 92.9l1.7 3M20.5 87.7l2.4.6M19.8 89.6l2 3.3M29.4 97.5l1.3.9M17.8 87.5l1.5 1M23.4 93.4l2.4 2.6M10.8 82.1l2.7 2.6M18.7 87.3l1.1 1.5M41.5 107.6l1.6 2.9M11.6 84l2.8 1.2M9.8 77.7l1.8 2.4M16.4 88.1l1.9 1.6M8.9 81.7l.8 1.7M25.4 93.6l2.5 1.4M37.1 106.9l2.4 2.6M9.3 81.1l1 2M14.4 84l3.3 1.4M27.1 91.9l1.5.7M40.1 109.2l2.7 1.6M29.4 98.4l1.7 1.8M36.5 99.9l1.6 1.3M11.5 80.2l2.7 1.1M25.5 91.7l2.5 1.6M30.6 94.8l3 1.2M40.2 107.1l2.2 1.6M27.8 96.7l1.9 2.8M21.8 93.4l1.7 3.2M20.9 88.8l1.3 2.7M24.9 92.9l1.1 2.4M19 84.6l1.4 3M32 99.8l2.9 1.7M28.8 93.4l1.4 1.1M24.4 91.7l1 1.3M25.8 91.9l1.9 1.3M15.9 81.9l1.4 3.5M28.7 98.7l1.4 2.2M13.2 84l1.2 2.7M8.6 80.2l1.3 1.3M41.9 104.6l1.8 1M19.1 84.8l1.9 3.2M20.8 88.2l2.8.8M5.8 78.5l1.7 1.5M38 107.7l2.5 1.1M15.2 87l3.4 1.6M36.6 102.3l2.5 1M36 106l1.3 1.5M11.6 83.5l1.6.6M32.7 98.5l1.8 3.4M32.9 97.5l1.3 2.9M23.4 88.7l1.8 1M32.6 97.6l1.7.9M29 98.4l1.5 1.8M37.5 104.6l1.8 1.1M38.8 106.3l1.4 1.7M7.6 80.7l1.9 1.8M26.6 91.3l2.6 1.5M210.7 42.2l.5 1.6M215 54l.1 2.2M210 40.7l2.1 3.4M211.4 47.2l-.8 2.3M214.9 47.8l-.2 2.9M211.8 44.7l.2 3.5M210.9 48.3l.2 3.2M215.9 58.7l1.4 3.1M214.8 50.5l-.5 2.5M211.8 55l.2 2.1M212 41.3l1.4 2.4M211.9 50.4l-.8 2.8M214.4 40.1l.2 1.6M213.2 46.4l-.4 2.1M209.7 37.9l.1 3M215.1 54.9l.6 1.8M213.2 36.9l.2 3.1M212 42.4l-.4 1.7M213.8 40l-.2 1.9M211.9 56.1l.3 1.6M214.4 44.6l2 3.4M211.4 47.9l1.7 3.6M211.4 47l.6 1.6M215.9 57.2l.7 2.4M215.4 46l-.7 1.4M212.1 54.4l.7 2M214.6 49.1l-.9 2.5M213.7 44.7l-.1 3.9M212.7 36.9l1.5 2.7M211.5 44.3l0 3.7M195 113.2l1.5 1.9M189.1 111.5l1.9.8M187.7 109.3l1.9.5M188.2 109.1l2 1.1M195.5 114.7l3.5.9M190.9 108.5l3 1.2M190 107.6l1.8.6M188.8 112.2l3.2 1M190.5 108.7l3.5 1.5M193.1 113.6l3.7.2"/>
<path class="cl" stroke-width="1.6" d="M55.4 42.8l14.5.5M56 25.3l3.2-2.2M62.4 29.6l3.2.8M37.7 54.9l5.3.2M142.4 6.2l17.6 0M124.7 11.6l16.1 0M141.9 12.6l12.9-.5M108 13.4l4.3-1M124.1 13.4l17.2.6 5.4 1.6M85.9 18.3l2.2 1.1M97.2 14.5l3.2.8M105.8 22.1l8.6 0M113.4 16.4l6.9.5M128.4 16.1l5.4-.5 8.6 2.7M127.3 19.4l13 1M151.6 18.3l8.4-1.1M83.2 21.8l2.7 1.3M87 24.7l3.8 2.2 3.2-1.1M96.1 28.5l6.5.8M105.3 29.6l8.6 1.1M117.7 25.3l6.4 1.1M85.9 40.3l2.2 1.7M121.4 39.5l4.3 1.9 4.3 1.1M143.5 36.6l8.6.5M144.6 35l6.4.5M155.3 37.1l4.7 2.7M138.1 43.8l9.1.6M130.6 54.9l7.5 2.1M89.1 45.2l6-1.6M123 57l6.5 1.6M164.5 5.6l5.9.3M173.1 7l4.9.3M175.8 12.9l4.3 1.6M165.1 14.8l3.2-.8M168.8 24.2l5.4.3M201.6 31.7l3.8.6M214.6 47.3l2.1-1M213.5 50.6l3.2 0M176.9 49.5l8.1 2.1M160.2 49l2.7 1M180.1 55.4l4.3 2.2M165.6 58.6l3.8.6M23.1 86.9l.6 5.4M76.9 109.2l3.1 0M54.9 70l3.7.1M112.8 61.6l2.2.8M113.4 67l2.1-.3M141.3 93.9l3.3.3M137 66.2l2.2-.3M80 75.5l3 0M88.1 91.2l1 1.3M80 108.7l1.6-.3 1.1 1.4M89.4 108.2l1.1-.9 1.1 1.7 2.9.2M95.3 112.2l1.4 1.1-.6 2.7-.8 2.1M153.2 110.6l1.3-1.4 1.4 1.4-2.7 0M151 119.7l4.3-1.6 4.7-.8M167.2 73.4l4.3 0M169.4 76.1l2.1 0M171 79.4l2.7-.3M185 74.5l2.7 3.3M160.2 102.5l.3-2.7 1.3-1.3 2.2-.3-1.6 1.6-1.6 2.7M181.2 90.1l1.1 2.2M164.5 62.2l3.8 3.2M179.6 68.1l3.8.5M174.2 72.6l1.6-1.3M45.5 143.4l.8 1.6M66.7 126.1l0 2.5 1.1 1 1.1-1.3M69.9 139.9l2.7-2.7M95.1 118.3l1-1.3M161.8 126.7l2.7-.6 2.2.6"/>
<path class="cl" stroke-width="2" d="M117.7 10.5l8 0M131.6 33.4l5.4 2.1-3.2 2.2 1.1 3.2M103.1 49.5l4.9 3.2M172.1 10.8l12.3.5M164.5 21.5l14.6 1.6M210.8 38.7l5.4 2.2M210.3 49.5l6.4-1.1M210.8 51.6l1.6 5.4M210.8 53.8l3.8 5.4M160.2 40.1l5.9 1.3M5.4 76.1l4.3 2.2 2.1 3.2 4.3 3.8 2.2 2.1M10.8 74.5l4.3 4.3 3.2 3.8M26.9 92.3l3.2 4.3 2.2 3.2 5.4 3.2 3.2 2.7M41.4 109.8l2.2 0M69.4 65.9l4.8-1.1M69.9 76.9l1.7-.2M146.7 84.2l2.7-.5M149.4 76.9l1.1 0M149.9 60.5l4.3 0M149.4 63.8l3.2-1.1 1.6-1.1M133.3 111.6l3.7 2.2M136 114.3l3.2 1.1M116.6 111.6l1.1.6M192.5 91.7l3.2-1 4.3-1.1M204.3 111.1l2.7-.5 2.7-2.2 1.6-2.1M186.6 103l3.2 1.9M179.1 107.6l3.2-.3M168.3 107.9l3.2.5M167.2 111.6l1.1.6M160.2 60.8l2.2-.3M172.6 62.7l5.4 1.6M62.4 141.2l1.1 2.2M61.3 152.5l1.1.5M64.6 162.7l1 1.6M123.6 140.1l2.1.6M120.3 159.5l2.7.5M122.5 162.7l1.1.3M109.1 161.7l1.6.5M143.5 169.7l2.7.6M152.1 133.7l4.8 0M138.6 125.1l4.3 1M139.7 120.2l1.1 2.2M162.4 127.8l2.7-1.1M187.7 117.5l3.2 0"/>
<path class="cl" stroke-width="2.6" d="M171.5 43.6l5.4 2.1M96.1 92.3l2.2 1.1M109.3 103.6l2.4 2.1M183.9 111.6l3.8 2.2 3.2 1.6M192.5 112.2l1.1 2.1M213.5 60.5l3.2 2.7M154.2 134.8l2.2 3.7M154.8 138.5l1.6 7M142.9 125.1l3.8-2.7 8.1-2.2 5.2-2.1M160 120.2l2.4-1"/>
<rect class="fr" x="0" y="0" width="218" height="175"/>
<path class="tk" d="M-5.5 160.3H-1M-5.5 131.3H-1M-5.5 102.2H-1M-5.5 73.2H-1M-5.5 44.1H-1M-5.5 15.1H-1M0.3 176V181.2M48.9 176V181.2M97.4 176V181.2M146 176V181.2M194.5 176V181.2"/>
</g>
<text class="s" x="247.2" y="1882.2" font-size="16.72" fill="#000" textLength="27.8" lengthAdjust="spacingAndGlyphs">30N</text>
<text class="s" x="247.2" y="1852.9" font-size="16.72" fill="#000" textLength="27.8" lengthAdjust="spacingAndGlyphs">40N</text>
<text class="s" x="247.2" y="1823.7" font-size="16.72" fill="#000" textLength="27.8" lengthAdjust="spacingAndGlyphs">50N</text>
<text class="s" x="247.2" y="1794.4" font-size="16.72" fill="#000" textLength="27.8" lengthAdjust="spacingAndGlyphs">60N</text>
<text class="s" x="247.2" y="1765.2" font-size="16.72" fill="#000" textLength="27.8" lengthAdjust="spacingAndGlyphs">70N</text>
<text class="s" x="247.2" y="1735.9" font-size="16.72" fill="#000" textLength="27.8" lengthAdjust="spacingAndGlyphs">80N</text>
<text class="s" x="266.8" y="1909.7" font-size="16.28" fill="#000" textLength="36.6" lengthAdjust="spacingAndGlyphs">140W</text>
<text class="s" x="315.4" y="1909.7" font-size="16.28" fill="#000" textLength="36.6" lengthAdjust="spacingAndGlyphs">120W</text>
<text class="s" x="363.9" y="1909.7" font-size="16.28" fill="#000" textLength="36.6" lengthAdjust="spacingAndGlyphs">100W</text>
<text class="s" x="416.6" y="1909.7" font-size="16.28" fill="#000" textLength="28.4" lengthAdjust="spacingAndGlyphs">80W</text>
<text class="s" x="465.1" y="1909.7" font-size="16.28" fill="#000" textLength="28.4" lengthAdjust="spacingAndGlyphs">60W</text>
<g transform="translate(1001,193)">
<polygon points="82.2,133.8 82.8,130.4 84.5,128.3 87,125.8 89.5,123.3 93.7,121.2 97.1,119.5 99.6,117 102.1,114 104.6,112.4 108,110.7 110.5,110.1 113.9,110.4 117.2,111.8 120.6,113.6 122.5,115.7 123,118.2 121.9,121.2 120.2,123.7 118.9,126.7 117.2,129.6 114.7,132.5 112.2,135.1 110.9,138 110.1,141.4 108.8,144.3 107.2,146.4 104.6,147.7 102.1,148.9 99.6,150.6 97.1,151.5 94.6,151 92,149.8 89.5,148.1 87,146.4 85.3,144.3 84,141.4 82.8,138" fill="#fffaaa"/><polygon points="86.1,130.4 89.5,128.3 93.7,125.8 97.1,123.7 100.4,121.2 102.5,118.2 105.5,116.1 108.8,115.3 112.6,115.3 114.7,117 115.1,119.5 118.1,122 117.2,124.6 115.6,127.1 113,129.6 110.5,132.1 109.3,135.5 108.4,138.8 106.7,142.2 104.6,144.7 101.7,146 98.8,146.4 95.4,146 92,144.7 89.5,142.6 87,139.7 86.1,135.5" fill="#ffc03c"/><polygon points="89.1,130.4 92,128.8 95.4,126.2 98.8,124.1 102.1,123.3 104.6,123.7 107.2,122 110.5,122 114.7,122.5 115.1,124.6 113,126.7 110.5,128.8 108.8,131.3 108,134.6 106.3,138 103.8,140.5 100.4,143 98.8,144.7 97.1,142.6 92,142.6 90.3,141.4 89.1,138.8" fill="#ffa000"/><polygon points="92.9,132 97.1,131.7 103.4,132 103,134.6 101.7,138 100.4,139.9 92.9,139.9" fill="#ff6000"/>
<path class="cl" stroke-width="1" d="M.8 45.1l2.2 0 1 1.1 1.6.2.9 1.1 3.5 0 .8-1.2.8 2.4 1-3.2.8 3.2 1.1-3.2 1.6.8 1.4 2.4 1.9-3 .2-1.2 1.9.2.8 1.7 1.4-2.8 2.1-.3.6 1.1 2.1 0 1.9-2 1.1 1.2.8 1.9 2.7.2.5.8 1.6-2.1 1.6 2 1.6.1 1.4-2 4-.1.8 1.1 1.9.1 1.1.8 3.2 0 .8 1.1 3.5 0 .8-1.1 5.7 0 .8 2 .8.6 7 0 1.1.5 2.1-.8 1.1-1.1 3.6 0M59.2 50.6l2.7-1.9.5 1.6 11.8 0 2.2 1.1 2.1 2.9 1.5.3M34.4 38.3l1.1-1.2 2.2-2.7 1.8-.9-1.8-1 .8-1.3 16.4 0 .5 1 2.4.3 1.4 1.4-2.2 1.3-3.2.6-2.2 1.2-3.2.4-1.1 2.1-.8 1-6.2 0-.8-.8-2.4-.3-1.3-1.1-1.4 0M51.1 37.1l1.6 2.7 1.1 1.6 1.6.6 1.1 2.7 1.3 1.6M51.6 37.1l2.2-1.6 3.2-1.1 2.2-.8 4.3.8 1.1 1.1-3.3 1.1 3.3-.3M52.2 39l7 1.1 1.6-.8M64.6 35.5l3.2.3 1.6 1.3 2.2-.5 1.6-1.1 1.6 1.1 2.1-.6 1.1 1.7-.5 1.6 2.5-1.6M76.9 34.4l3.1-.5M41.2 26.4l1.3-1.1 3.8 0 .8-1 1.9 0 1.3-2.1 9.4 0 0 1.5-1.6 1.3 6.5-.5-3.8 1.3-.5 2.7-4.9.8 1.1-2.4-2.7 1.1-1.3.5-.9-1.3-3.2.2-1.1-1.3-6.1.3M51.9 26.4l1.4-1.5 1 1.2-1.3 1.3-1.1-1M61.3 21.5l1.1-1.1 1.1.9 2.7.9 6.4 0 .6-1.5 1.6-1.3-2.7-1.1-2.2.5-4.8.5 1.6.9 3.2.1M60.8 25.3l3.8 1.1 4.8.2 1.6 1.4 1.1-1.4 2.1-2.1 2.7 0 3.1 2.9M71 28l0 1.9 3.8.5 5.2-1.1M61.9 29.3l1.6 1.9 6.4 0 0-1.1M35 53.4l1.9 0M36 55.4l2.7-1.1 4.9.1 1.1-1.1 3.2 0 1.1-1.1 1.6 1.1 4 1 0 2.2-.8 1.1-1.1-1.4-2.7-.2-.5 1.8-2.7.6-1.1 1.3M40.1 58.4l2.4-.3.5-2.1 2.7-.6-1 1.6 3.2-.5 1.1-2.7 2.6 1.6M139.2 8.1l4.3-.6 4.3 1.4-4.3.5M117.7 9.7l8.6-.6 7.5-1.6 5.4.6M149.9 11.3l4.3-.5M105.3 15.6l2.7-2.7 3.2-1.3 6.5-1.9M112.3 14l2.7-1.9 3.7-.5 2.2 1M83.2 17.2l3.8-1.1 5.4 1.4 5.4 1.1 1.6 2.4-8.1.3-4.3-1.4-1.6-1.9-2.2-.8M101.5 18.6l3.2-.3 4.4 1.6 5.3.8M112.3 16.1l8.6 1.1 1.1 1.6-7-.2-2.7-2.5M130.6 17.8l8.6 0M149.4 17.2l10.6-1.6M149.9 20.4l5.4 1.1 4.7-3.7M82.2 21.5l4.3 2.2M120.9 21.5l6.4 1.1M119.8 20.4l6.5-2.6M94 24.7l7.5-.5 2.2 2.7-1.1 2.4-6.5 0-2.1-2.4M80 27.4l3.8-.5-.6 2.2-3.2.5M85.4 29.6l3.2-1.6M105.3 24.2l2.7.5 2.1 2.2 2.2 1.1M106.9 28l5.4.5M113.4 24.7l4.3 1.1 6.4 2.2M123 23.7l5.4 1 5.4-.5 7.5 1.1 3.3-.6M124.1 27.4l7 .6 15.1-1.1 2.7-1.1 1-2.7-8.6-.5M115.5 26.9l1.1 2.7 5.4 1.1 8.6.2 3.2-.8 6.5 1.1 7.5-.5-1.1-1.6-2.1 1M141.3 22.6l10.3.5-1.1 2.2M107.4 33.4l1.7-1.1 12.9 0-4.3 3.2-5.4 1.1M107.4 33.4l1.1 3.2 1.6 2.1 4.3 2.2 3.3 2.1M80 33.9l7-.3-1.1 1.4-2.7-.6 2.2 3.3 1.6 3.2 1.6 1.6 9.2 0M90.2 36.6l2.7-2.7 4.3-1.6 6.5 0 1.6 2.1 1.6 2.7-1.6 2.2-4.9 1-2.6-2.1-3.8-1.1-3.8-.5M101.5 35l2.7 1.6-.5 1.1M121.4 38.7l1.1-3.7 2.2-1.6 5.3-.6 1.6 2.7-1 4.3M130 30.1l1.1 12.9M136.5 33.4l15.1-.3 3.7 1.9 4.7 3.7M104.7 42l4.4-2.7M115 42l3.7 1.6-1 1.6 4.3 4.3 1-2.2 3.3-.5 1 3.8 2.2 2.1 2.1-2.1 1.1-3.3-1.1-3.2 6.5-.5 9.7.5 1.1-2.1 1 2.1 5.4 1.1 4.7 3.2M139.2 45.7l3.2 1.1-2.1 2.7 2.6 2.1-2.6 2.2-5.4-1.1-5.4 2.2 2.1 3.2 4.4-2.1 3.2 2.1M80 45.7l3.2 1.1 1.6 1.6 4.3 2.2 12.4 0 2.2 1 2.1-1 3.3 3.7 0-5.9 4.3-.5-1.1-2.2-5.4-1-3.8 0-3.2 2.6-1.6 0M90.8 44.7l1.6 3.7M95.1 47.3l1.6 0M118.2 55.4l3.8 1.1 3.2 1.6 4.3 1.1M146.7 47.3l2.7-2.6 0 3.2M152.1 51.6l3.2-2.1 4.7 1.1M152.1 51.6l3.2 1.7M149.9 59.2l2.7-1.1 7.4-.5M160.2 6.5l3.2 0 1.1-1.1 6.5 0 .5 1.1 13.5-.2 5.9 1 1.6 2.1 5.4.3.5-1.1 15.1 0 3.2.3M198.4 10.2l4.3.3M209.2 10.5l1.6-1.1M184.4 10l6.5-.3 2.1 1.9-5.3.5-2.2-.8M160.2 16.1l3.8-.5 6.4-3.8 2.2-1.3M163.4 20.4l2.2-1 7-.8 1.1-1.1 8.6-.3 0-1.6-1.6-.8 4.8-.5M173.1 26.4l6 0 1-1.1 1.1 1.1 3.8-.3 1-.8 1.1 1.3 1.1-1.3 1.1 1.1 6.4 0 1.1 1 2.2.3 2.6 3 3.3 1 1.1 3.3 1.6.5-2.2 1.6 0 3.2 1.6.6 2.2-2.2 1.6-1 4.8 2.1M207.6 39.8l2.1.5-.5 2.2 5.4 0-2.7 2.2-4.9 0 1.1 1.6 2.7 0M160.2 39l4.9.8 3.7 1.6 3.3 1.1M173.7 48.4l4.3 1.1 4.3.5 4.3 2.2 3.7 1.1.6 1-3.2 2.7-2.7 2.2M160.2 47.9l2.2.5 2.1 3.2 3.3 2.2 3.7 1.1M159.7 56.5l2.7-3.2 2.1-.6M166.1 52.7l2.2-.5 3.2 1.6 1.1 1.1-3.8.5M174.2 54.9l3.8 0 4.3 0 2.7 2.1M175.3 56l1.6 2.1 3.2.5M.8 72.4l1.9.2 2.1 2.5 4.3.2 2.2-1.9 1.6 1.1 3.2 3.3 2.7 3.7 3.8 1.6 2.7 2.7.5 3.3-1.1 1 2.2 1.6 2.2-.5 2.1 3.2 1.6 2.7-.5 1.6 3.2 1.1 2.2 1.1 2.1 1.6 2.2 2.7.5 2.1M28 100.3l3.2 2.7 3.2 1.7 2.7 1.6.6 2.1M17.2 90.7l3.2-.3-1.6 1.9 2.7 4.3M17.2 90.7l0 2.7 2.2.5M16.1 72.1l2.7 1.1M37.7 108.4l1 3.2.6 2.2.5 3.2-1.1 3M37.7 113.3l3.7 0 1.1 1.6 5.4.2 1.1-1 7.2 0M42.5 105.5l37.5 0M56.2 105.5l0 8.6 1.4 1.3-2.2 3.2.6 1.4M57.8 105.7l.8 3.3 3.3 2.6 1 3.3 2.2 2.7 1.6.8 3.2 0 1.1-1.4 9 0M71 117l0 3M37.1 82.1l1.6 2.1 2.7 1.6 1.6-1.3 1.1 1.1M41.4 85.8l0 1.9M51.1 94.2l.5 1.6 3.3 1.6M54.9 100.1l-1.6 1.9 1 1-1 1.7 0 2.9M49 69.6l4.3-.2.5-.8 1.6 1.4 3.2 0 1.1-1.9-.5-2.7 1.6 1.3 2.7-.2 1.1 1 3.2 0 1.6-2.1 2.7-1.1 3.8 1.1M59.2 71.3l1.1-1.3 4.3.2 2.6-1.6 1.1-1.1M69.9 77.2l2.2-1.6 2.1-1.3 2.7 0 3.1 1M72.1 76.1l3.2.3 4.7-.5M112.3 61.3l2.7 1.1 4.3.3 2.1-1.4 6.5-.2M120.3 62.7l-.5 1.6-2.1 1.1-3.3 1.6-2.1 1.6-1.9 3 0 4.5-1.3.3M110.4 76.1l1.3 1.4 2.7 0 1.1 1.3 0 3.3-1.1.2M115.5 82.1l1.6-.6 3.2 0 1.1.8 3.3 0 1 1.1 1.6 1.6 3.3.3 2.1 2.1 8.1.3 0 5.7 1.1 2.1 2.7 1.6-.3 2.2 1.3-1.6 1.6 2.6 1.1-1.6 1.1-1-.5-1.7.5-1-.5-4.9-1.7-1-.5-.9 2.7 0 2.7-1.3 2.1-1.6.6-3.2-1.1-2.7-1.6-.8-2.2-1.4 1.7-1.6 0-2.2 2.1 0M151.6 73.4l0-1.8-2.2 0M151.6 71.6l0-3.5-1.1-.8 1.6-1.9 2.1.5 3.8.3 1.1 1.1.9-1.9M129.5 60l.5 2.2 2.2.5 1.6 1.6 1.6-1.6 2.7-1.1 6.5 0 1 .8-3.2.8-1.6-1M136.5 65.9l1.6-1.3 1.6.8 1.1-1.1.5 1.1-4.8 1.1M145.4 67.5l1-1 1.1 1-1.1 1.1-1-1.1M92.1 64.6l1.3-1.1 2.2 0 0 1.3-1.6.8-1.6-.2-.3-.8M89.1 84.2l1.1-2.7 1.1-1.9 2.1-1 .3 1.8-1.1 2.2-1.8 1.1-1.7.5M105.3 84.5l1.6 1.1 1.1-1.1M109.3 84.5l1.4-1.4M95.3 92.8l.8-2.1 1.7-.3 1 1.3 2.7 0 1.6-2.6 1.1-1.1 1.6.5M103.1 89.1l-.5 2.1 1.1 1.6 1 1.6.3 3.3 1.9 1-.3 1.6-1.9.6-.2-3.2M97.2 94.4l.6 2.7 2.1 1.6 1.1 2.2 1.6.5M98.3 93.4l3.2 1 2.2 1.1M99.9 92.3l1.6 2.7 1.6 2.7M80 105.5l29.3 0M111.7 106l3.3.8 2.7.8 2.1.3M119.8 107.9l3.2-1.1 2.7-.5 1.1-1.6-1.3-1.7M124.4 102.8l1.1-1.4 1.3 1.4-1.3 1-1.1-1M126.8 104.7l2.7 1 1.1 1.1 3.2 1.1 1.1 1.1.5 2.6-1.1 1.7M125.7 106.3l1.6 1.6 1.1 2.1 3.2.6 2.2 1M119.8 107.9l-.5 2.1 1.6 1.6 2.1 1.1 2.7.6 2.7 1 2.2-.5 3.2-.5 2.2.5 3.2-.5 5.4.5 1.6 1.6.5 2.2-2.1 1M122 111.1l3.7-.3 1.1-1.3M128.4 111.6l5.4-1.6M119.3 110l-2.2 1.6-.5 2.2-1.6 1.6-.6 1.6 1.1 1.6.5 1.4M127.3 116l1.1 1-1.1 3M130.6 114.9l-.6 5.1M137 116l1.6 1-.5 3M140.3 115.4l.5 4.6M143.5 114.9l2.1 2.1-1 1.6M87.3 105.5l0 14.5M80 116.9l7.3 0M87.3 114.3l18 0M104.5 105.5l.8 2.9.5 5.9 1.1 2.2 0 3.5M160.2 65.5l2.7 1.5 1.1 1.3 2.1.3 1.1 1.6 4.3 0 .3 3.8 1.3 1.3 1.6 2.5 1.1 1.3 1.1-.8 3.2-1.1 1.1-2.1 1.1-2.2 2.1-.3 1.1 2.5 2.2 2.1 1.6 2.2 1.6 1 .5 1.7-2.7.5 2.2 1.6 1.6 1.1 1.6 1.6 2.7.5 2.7.8 1.6 1.9 2.7 1.1 1.1 1.6-.6 1.6.6 2.7-1.1 1.1-2.2 0M200.6 90.1l0 2.7M201.6 98.2l-3.7.3-2.2 2.7-2.7.2-13.9 0-1.7 1.6M177.4 103l-2.1 1.7-2.7.5-.5 2.1-3.8 0M201.6 98.7l-1 2.2-1.1 2.1-1.1 2.2-1.6 1.6-.5 2.2 2.1.2 5.4 0 .5-.8 1.1 1.1 2.7-.5 1.6-1.7 1.6-.5-1-2.1-2.7-.9-3.3-.2-.5-1.1-1.1.5 1.1-2.1.5-2.2M209.7 110.6l1.6 1.6 1.1-1.6-1.1-2.2M179.1 103l3.2-.5 3.2 0 2.2 1.1 2.1 1.6M173.7 106.3l1.6-1.6 2.7-.6 4.3.3 1.6.8-.5 1.6-2.2.5-2.7.6M172.1 107.3l.5 2.7 2.7.3.5 4 1.6 1.7 3.8.2 1.6-1.3-.5-2.2 1.1-2.1-.6-2.2M188.7 110.6l2.2-1.4 1.1.3M184.4 116l3.3 1 3.2-.5 2.1-.5 1.7-2.2M178 120l2.1-2.4 4.3.5M182.3 119.7l3.2-1.1M172.1 107.3l-1.7 2.2-1.6 2.1-1.6 1.1M170.4 111.1l-1.6 3.8-1.6 2.1-7 .3M162.4 117.6l.5 2.4M165.6 118.1l.5 1.9M172.1 97.9l1.3-1.6 1.3 1.6-1.3 2.4-1.3-2.4M178 88.2l1.3 1.9 1.9.8.5 1.6 1.1-1.8 2.2.8 1.9-1.1M180.7 89.1l1.6-.9 1.6.3M162.9 60.5l3.2 2.7 2.2 2.2 3.2.5 4.3 1.1 3.3.5 3.2 1.6 1.6-2.6-1.6-1.1M182.3 61.1l1.1 3.2M39.5 117l0 1.9-1 .5 0 5.7M38.5 125.3l0 6.2 1 .8 0 2.2 1.4 1.1 1.6 1.6.5 1.3 1.4.8 0 3 1.1 1.6.8 1.1 1 2.1 1.7 1.1 2.6 0 1.7 1.6 2.1 1.1.3 2.7.8.5 0 2.4 1.3 1.7 1.4 2.4 1.6 1.6 2.1 1.6.6 2.2-1.1 1.3-2.1 0M62.4 167.3l.3 1.9 1.9 1.1 2.1 1.6 1.9 1.9M43.6 136.1l1.9.5.2 1.1M43 137.4l1.1 1.1M38.5 125.3l31.4 0M48.4 125.6l0 8.9 3.2 1.1 1.7 2.9 1 1.6 2.7 1.6 2.2 1.1 1.6 2.2M63.8 125.6l0 15.1M63.8 140.7l-3 4.3 1.6 1.3.3 1.9 1.1.3-1.4 1.3-.5 1.6-1.6 1.6M55.7 153.6l4.6-.6M56.5 117l-1.1 1.6 1.1 1.1 0 5.6M64.6 117.5l2.1.8 3.8 0M70.5 118.3l0 10 9.5 0M75.6 128.6l0 27.4M64 140.4l16 0M61.3 154.1l3.8 0 3.2 2.4 9.2 0 .5-1 2 0M61.3 155.5l.3 4.5 1.3 1.7 2.2 1.6M61.9 155.5l2.7 1 2.1 3 .3 2.2.8 2.1 2.1 2.2 2.7 1.3-1 1.1 2.6 1.9.6 2.7 2.1.8M65.1 163.3l1.6 2.1 0 2.2 1.6 2.7 1.6 2.7.6.8M87.5 117l0 11.3M80 128.3l12.4 0M87.5 122.4l11.9 0 2.1.8 3.8.3 1.1 1.6.5 2.1 1.1 2.2 1.3 2.1.8 2.2.3 7M92.4 128.3l0 12.1M92.4 131.5l16.1 0M80 140.4l30.4 0M110.4 140.4l.3 1.9M90.8 140.7l0 14.8-10.8 0M92.1 142.3l5.1 0 .6 5.4 1.6.5 2.1 1.1 2.7.8 1.6-.3 2.7-.5 1.9 0M110.4 142.3l.8 2.7.3 2.1-1.1 2.2 1.3 2.7 0 2.7 1.1 2.1-.5 2.7.5 1.6M110.7 142.3l11.3 0M111.7 152.2l7 0M99.4 120.2l.2 1.9M106.4 117l0 4-1.1.6 1.6.8M106.4 121.2l11.3 0M114.4 117l2.2 2.2 2.1 2.1 1.1 2.2 1.6 1.6-.2 1.6-1.9 1.9-1.6 1M108 129.6l9.7 0M117.7 129.6l1 2.5 2.2 3.2 2.1 3.8 1.7 1.6M120.9 124.5l6.4 0M127.3 117l-.5 2.2.5 3.2 0 2.1 0 11.3-1 1.1.5 3.2-.5 3.3M124.7 140.7l-2.7 2.1-1.1 3.3-1.1 2.6-1.1 2.7.6 3.3-1.6 2.4 3.2.2 1.6.6.5 2.1M112.8 161.1l2.7 1.6 2.2-1 1.6 1.6 2.7-.6M123 160l2.7-.5 1.6 1.1M80 155.7l2.7 1.6 2.7 1.7 1.6 3.2 1.6 1.3 1.6-.2 1.1-1.6 3.2 0 1.6 3.2 2.7 2.7 0 2.1 1.6 1.6 2.7 1.1 1.6 1.1M104.7 173.5l-1.6-3.8.6-2.1 2.7-2.7 2.7-1.1 1-2.1 2.7-.6M125.7 147.1l0 12.4M122 146.1l13.4 0M122 142.3l4.8 0M126.3 140.9l29 0M132.2 146.3l1.1 4.1 1 3.7-.5 3.2M127.3 157.3l6.5 0M133.8 157.3l2.7 1.1 4.8.6 1.1-1.1M127.3 157.3l1.1 1.7 2.7 1 2.2 2.2 1-1.6 2.7-.6M137 160l1.6 2.7 1.1 2.7 0 2.2 1.6 2.1 1.1 3.8M142.4 159l1.1 3.7 1.1 2.7.5 3.2.5 2.2 0 2.7M148.3 170.3l3.8 0 1.6 1-1.6 1.1M135.4 146.1l2.7-1.1 5.4 0 3.2 1.1 2.7 3.2 2.2-.6M138.1 146.3l1.6 3 1.6 1.6 1.1 2.7 1.1 1.1M143.5 154.7l-1.1 3.2M155.3 145l-2.1 2.1-1.6 1.6-2.2 1.1-2.7 2.2-3.2 2.7M127.3 135.8l2.2 1.6 2.1-1 2.2-1.1 1.1-.5M134.9 126.7l0 8.1M127.9 126.7l11.3 0M134.9 134.8l4.3.5 1.6 1.6 1.1 1.6 2.7.6 2.1-2.2 2.2-2.7 1-1.1M140.8 135.3l2.1-2.2 3.3-.5M144.6 126.1l0 6 12.9 0M144.6 126.1l13.4-.5M158 125.6l1.1 1.6-1.6 2.2 1 2.7M139.2 140.7l2.7 1.6-1.1 1.1-3.8.5-2.1 2.2M149.9 133.1l1.1 1.7 3.2 1.6 1.1 2.1M156.4 145.5l1.6 0M130.6 117l0 8.6M136 120.2l3.2.6 1.1 1.6-1.7 2.1.6 2.2M138.1 117l-1.1 2.2M142.4 117l-.5 1.6M162.4 117.5l0 6.5-1.1 1.6 0 2.2M162.4 118.1l5.4-.6.5 3.8.5 2.7 1.1 1.6 1.1 1.1-1.6 1.1-3.3 0-1.6 1.8-3.7 0-.6 3M168.3 121.3l3.2-1.3 4.3-1.7 2.2-1.3M164 119.2l2.1.5-1.6 1.6-.5 1.6M162.9 124l4.3 0 .6 1.6M179.3 118.6l1.4 2.7 1.6 0 1.1-2.1 3.2-1.1 4.3-.6M118.2 20.4l5.7-.1M122.6 21.1l2.8 0M132.4 26l2.4-.3M137.5 8l5.9 1.9M134.3 21.8l2.6-.9M124.3 8.4l2.7-.5M84.4 18.1l3.8.9M123.5 22.4l4 .4M118.6 13.7l6 2.1M149.2 24l3.3-.6M105.1 8.7l5.1-.4M149.7 16.3l5.9 1.4M154.8 18.3l5.9-.4M87.8 22.1l5.2-.8M89 15l5.8 1M91.4 12.9l2.4-.7M145.8 11.3l4.2-.2M97.3 24.6l2.5.2M91.3 17.1l2.9-.5M106.3 28.2l2.9-.2M150.4 22.4l2.4.8M99.1 13.2l5.1-.6M105.7 8.8l2.4.1M101.4 21.4l3.5-.1M158.7 18.6l4.3 1.1M96.6 10.7l5.7 1.3M102 11.6l4.9 1.5M152.6 21.5l3.7-1M101.1 23.9l3 .7M129.7 14l2.7.5M126.7 27.5l4.5-.7M117.7 8.5l2.7-.3M127.8 10.2l3.4.9M137.3 21l2.6-.8M83.7 22.3l3.9.6M88 20.1l5 1.4M141 23.9l5.1 1.5M110.1 23.4l5.7 1.5M115.4 26l5.4.3M132 16.2l4.3.3M88.4 22.3l6 1.6M140.3 16.3l4.9.3M117.2 27.1l2.4.4M84.4 21.4l3.9-.7M137.9 18.9l4.4 1.3M106.1 23.3l2.8-.7M154.5 22.8l3.7 1.1M108.2 23l2.8-.2M152.4 16.2l4.4-.5M92.9 18.9l5.3 1.3M138.9 29.8l3.1-.7M118.1 13.6l2.8-.2M132.1 18.9l3.2.7M160.6 17.9l2.3-.8M138.7 20.7l3.2.7M118.4 7.6l5.3-1M132.3 17.7l4.6.5M136.8 11.8l3.9-.9M82.9 18.3l4.8-1.1M103.8 15.3l4.8.1M131.2 25.1l3.5.8M156.6 24.3l2.5 0M132 28.8l3.6.2M152.3 26.1l5.8-.1M134.1 11.9l4.9 1.1M133.3 24.2l2.9.8M125 26l3.2.9M150.5 15.4l2.3-.1M126 25.4l4-1.3M146 11.1l3.3.7M86.9 31l5.4.7M111 26.9l5.8-1.7M70.4 27.5l3.2.5M93.8 27.4l5.4.2M75.5 24.9l5.3 1.5M69.7 33.3l5.8.1M90.1 21.6l4.1 0M91.9 18.5l5.9.1M80.4 32.4l4.3 0M96.7 19.2l4.2-.3M73.1 26.5l2.5-.1M84.7 23.7l2.8.2M68.9 22.1l4.7-.6M77.9 29.2l2.4.3M64.9 27.2l3-.6M87.7 25.9l3.5-.3M87.6 20.9l2.9.2M93.8 27.5l5.4.5M106 22.2l4.9 1.1M108.5 23.7l3.3 1M71.4 31.1l3-.9M104.6 25.6l5.2-1.4M134.2 33l2-.5M150.9 36.6l5.9-1.6M140.3 34.1l4.1.6M143.1 30.2l4.3-1M121.1 25.3l5.3 1.8M137.7 34.2l3.3 0M140.9 28.9l4.4-1.5M152.1 35.5l2.7-.1M154.4 28.5l2.7-.7M140.8 22.2l5.5 1.2M152.3 35.8l4.5-.3M146 30.1l5.9 1.2M125.5 36.6l5 .9M158.9 28.5l5.6 1.5M151.7 34.3l5-.4M153.4 23.1l3.3 0M148.3 32l3 .9M150 27.4l4.6.2M142 28.2l6 .6M152.1 34.2l5.9-2M146.9 33.8l3.1-.2M132.5 23.6l3 .8M143 30.1l5.9.3M145.9 34.1l2.1.7M119.6 29.5l2.7 0M171.3 36.5l5.8-.3M167.3 50.5l3.4-.5M173.4 49.6l3.2.5M149.5 54.6l3.6 1M162.6 47.4l5.9-1M167.1 59.4l4.9-.1M171 38l4.5-.1M167.3 38.2l3.8.5M163.9 41.8l4.3-.2M179.3 48.8l6 1.9M177.2 41.2l2.5.7M179.6 51.2l3.5-.5M174.9 49.7l4.3.4M178.2 39.9l3 1M155 46.1l4.5-1.3M168 36.9l2.3.3M168.4 51.4l3.5 0M152.1 43.9l5 1.2M180.8 51.2l5.1-1M162.4 41.7l5.2-.5M157.6 49.3l5 1.4M162.5 44.6l2.4.6M169.1 47.6l4.7-.7M152.2 52.2l2.4-.3M176.8 53l3.1-.7M159.2 53.9l3.4-1M176 49.8l5.7 1.7M185.8 46.4l5.3-.7M157.2 45.4l5.8 1.6M153.9 44.4l3.5-.3M161 45.1l2.8.1M180.3 49.1l5.3.2M150.5 54.7l5.5-.8M143.1 48.4l4.1.2M163.1 44.4l5.2-1.6M151.3 46.6l2.3-.7M156.6 48.4l2.4.2M140 45.9l4.6-.8M142.2 46.2l4.1.8M147 39.4l5.9.7M149.8 42.6l4.9.7M161.6 40.6l5.3.6M159.9 46.9l5.3 1.4M162.8 44.2l4.1.6M158.5 40.7l3.6-.9M146.5 36.7l2.8-.2M86.8 40.9l2.4.3M132.7 38.9l2.2-.1M120.4 50.5l2.1-.5M94.8 39.5l3 .4M121.1 39.6l2.7-.4M94 48.1l3.3.1M135.3 43.7l3 .8M141.5 41.5l4.2 1.3M113.9 39.5l2.2.7M134.3 42.2l4.1 0M125.1 39.8l2 0M106.8 48.7l4.8.4M93.1 38.5l3.3-.5M138.6 44.3l4.6 1.5M100.1 44.6l2.6.4M137.2 49.2l2.3-.4M128.9 37.6l3.9-.1M144.2 45.4l5.4-.8M133.5 42.7l5.7-1.7M135.9 39.3l4.2.1M93.1 49.3l3.2-.4M87.9 40.9l3.8.6M106 47l2.4-.2M112.6 51.5l5.3.5M128.4 39.8l4.3-.1M134.2 39.3l4.4-.6M107.1 44.6l3.2-.3M108.1 46.7l3-.7M129.8 41.3l5.8.2M129.3 41.3l5.3-1.5M12.4 79l1.9 2.6M12.8 81.4l2.5 2.6M10.2 77.9l1.7.6M22.1 87.4l3 2.3M23.9 92.9l1.7 3M20.5 87.7l2.4.6M19.8 89.6l2 3.3M29.4 97.5l1.3.9M17.8 87.5l1.5 1M23.4 93.4l2.4 2.6M10.8 82.1l2.7 2.6M18.7 87.3l1.1 1.5M41.5 107.6l1.6 2.9M11.6 84l2.8 1.2M9.8 77.7l1.8 2.4M16.4 88.1l1.9 1.6M8.9 81.7l.8 1.7M25.4 93.6l2.5 1.4M37.1 106.9l2.4 2.6M9.3 81.1l1 2M14.4 84l3.3 1.4M27.1 91.9l1.5.7M40.1 109.2l2.7 1.6M29.4 98.4l1.7 1.8M36.5 99.9l1.6 1.3M11.5 80.2l2.7 1.1M25.5 91.7l2.5 1.6M30.6 94.8l3 1.2M40.2 107.1l2.2 1.6M27.8 96.7l1.9 2.8M21.8 93.4l1.7 3.2M20.9 88.8l1.3 2.7M24.9 92.9l1.1 2.4M19 84.6l1.4 3M32 99.8l2.9 1.7M28.8 93.4l1.4 1.1M24.4 91.7l1 1.3M25.8 91.9l1.9 1.3M15.9 81.9l1.4 3.5M28.7 98.7l1.4 2.2M13.2 84l1.2 2.7M8.6 80.2l1.3 1.3M41.9 104.6l1.8 1M19.1 84.8l1.9 3.2M20.8 88.2l2.8.8M5.8 78.5l1.7 1.5M38 107.7l2.5 1.1M15.2 87l3.4 1.6M36.6 102.3l2.5 1M36 106l1.3 1.5M11.6 83.5l1.6.6M32.7 98.5l1.8 3.4M32.9 97.5l1.3 2.9M23.4 88.7l1.8 1M32.6 97.6l1.7.9M29 98.4l1.5 1.8M37.5 104.6l1.8 1.1M38.8 106.3l1.4 1.7M7.6 80.7l1.9 1.8M26.6 91.3l2.6 1.5M210.7 42.2l.5 1.6M215 54l.1 2.2M210 40.7l2.1 3.4M211.4 47.2l-.8 2.3M214.9 47.8l-.2 2.9M211.8 44.7l.2 3.5M210.9 48.3l.2 3.2M215.9 58.7l1.4 3.1M214.8 50.5l-.5 2.5M211.8 55l.2 2.1M212 41.3l1.4 2.4M211.9 50.4l-.8 2.8M214.4 40.1l.2 1.6M213.2 46.4l-.4 2.1M209.7 37.9l.1 3M215.1 54.9l.6 1.8M213.2 36.9l.2 3.1M212 42.4l-.4 1.7M213.8 40l-.2 1.9M211.9 56.1l.3 1.6M214.4 44.6l2 3.4M211.4 47.9l1.7 3.6M211.4 47l.6 1.6M215.9 57.2l.7 2.4M215.4 46l-.7 1.4M212.1 54.4l.7 2M214.6 49.1l-.9 2.5M213.7 44.7l-.1 3.9M212.7 36.9l1.5 2.7M211.5 44.3l0 3.7M195 113.2l1.5 1.9M189.1 111.5l1.9.8M187.7 109.3l1.9.5M188.2 109.1l2 1.1M195.5 114.7l3.5.9M190.9 108.5l3 1.2M190 107.6l1.8.6M188.8 112.2l3.2 1M190.5 108.7l3.5 1.5M193.1 113.6l3.7.2"/>
<path class="cl" stroke-width="1.6" d="M55.4 42.8l14.5.5M56 25.3l3.2-2.2M62.4 29.6l3.2.8M37.7 54.9l5.3.2M142.4 6.2l17.6 0M124.7 11.6l16.1 0M141.9 12.6l12.9-.5M108 13.4l4.3-1M124.1 13.4l17.2.6 5.4 1.6M85.9 18.3l2.2 1.1M97.2 14.5l3.2.8M105.8 22.1l8.6 0M113.4 16.4l6.9.5M128.4 16.1l5.4-.5 8.6 2.7M127.3 19.4l13 1M151.6 18.3l8.4-1.1M83.2 21.8l2.7 1.3M87 24.7l3.8 2.2 3.2-1.1M96.1 28.5l6.5.8M105.3 29.6l8.6 1.1M117.7 25.3l6.4 1.1M85.9 40.3l2.2 1.7M121.4 39.5l4.3 1.9 4.3 1.1M143.5 36.6l8.6.5M144.6 35l6.4.5M155.3 37.1l4.7 2.7M138.1 43.8l9.1.6M130.6 54.9l7.5 2.1M89.1 45.2l6-1.6M123 57l6.5 1.6M164.5 5.6l5.9.3M173.1 7l4.9.3M175.8 12.9l4.3 1.6M165.1 14.8l3.2-.8M168.8 24.2l5.4.3M201.6 31.7l3.8.6M214.6 47.3l2.1-1M213.5 50.6l3.2 0M176.9 49.5l8.1 2.1M160.2 49l2.7 1M180.1 55.4l4.3 2.2M165.6 58.6l3.8.6M23.1 86.9l.6 5.4M76.9 109.2l3.1 0M54.9 70l3.7.1M112.8 61.6l2.2.8M113.4 67l2.1-.3M141.3 93.9l3.3.3M137 66.2l2.2-.3M80 75.5l3 0M88.1 91.2l1 1.3M80 108.7l1.6-.3 1.1 1.4M89.4 108.2l1.1-.9 1.1 1.7 2.9.2M95.3 112.2l1.4 1.1-.6 2.7-.8 2.1M153.2 110.6l1.3-1.4 1.4 1.4-2.7 0M151 119.7l4.3-1.6 4.7-.8M167.2 73.4l4.3 0M169.4 76.1l2.1 0M171 79.4l2.7-.3M185 74.5l2.7 3.3M160.2 102.5l.3-2.7 1.3-1.3 2.2-.3-1.6 1.6-1.6 2.7M181.2 90.1l1.1 2.2M164.5 62.2l3.8 3.2M179.6 68.1l3.8.5M174.2 72.6l1.6-1.3M45.5 143.4l.8 1.6M66.7 126.1l0 2.5 1.1 1 1.1-1.3M69.9 139.9l2.7-2.7M95.1 118.3l1-1.3M161.8 126.7l2.7-.6 2.2.6"/>
<path class="cl" stroke-width="2" d="M117.7 10.5l8 0M131.6 33.4l5.4 2.1-3.2 2.2 1.1 3.2M103.1 49.5l4.9 3.2M172.1 10.8l12.3.5M164.5 21.5l14.6 1.6M210.8 38.7l5.4 2.2M210.3 49.5l6.4-1.1M210.8 51.6l1.6 5.4M210.8 53.8l3.8 5.4M160.2 40.1l5.9 1.3M5.4 76.1l4.3 2.2 2.1 3.2 4.3 3.8 2.2 2.1M10.8 74.5l4.3 4.3 3.2 3.8M26.9 92.3l3.2 4.3 2.2 3.2 5.4 3.2 3.2 2.7M41.4 109.8l2.2 0M69.4 65.9l4.8-1.1M69.9 76.9l1.7-.2M146.7 84.2l2.7-.5M149.4 76.9l1.1 0M149.9 60.5l4.3 0M149.4 63.8l3.2-1.1 1.6-1.1M133.3 111.6l3.7 2.2M136 114.3l3.2 1.1M116.6 111.6l1.1.6M192.5 91.7l3.2-1 4.3-1.1M204.3 111.1l2.7-.5 2.7-2.2 1.6-2.1M186.6 103l3.2 1.9M179.1 107.6l3.2-.3M168.3 107.9l3.2.5M167.2 111.6l1.1.6M160.2 60.8l2.2-.3M172.6 62.7l5.4 1.6M62.4 141.2l1.1 2.2M61.3 152.5l1.1.5M64.6 162.7l1 1.6M123.6 140.1l2.1.6M120.3 159.5l2.7.5M122.5 162.7l1.1.3M109.1 161.7l1.6.5M143.5 169.7l2.7.6M152.1 133.7l4.8 0M138.6 125.1l4.3 1M139.7 120.2l1.1 2.2M162.4 127.8l2.7-1.1M187.7 117.5l3.2 0"/>
<path class="cl" stroke-width="2.6" d="M171.5 43.6l5.4 2.1M96.1 92.3l2.2 1.1M109.3 103.6l2.4 2.1M183.9 111.6l3.8 2.2 3.2 1.6M192.5 112.2l1.1 2.1M213.5 60.5l3.2 2.7M154.2 134.8l2.2 3.7M154.8 138.5l1.6 7M142.9 125.1l3.8-2.7 8.1-2.2 5.2-2.1M160 120.2l2.4-1"/>
<path class="tr" stroke-width="2" d="M87.4 136.5L89.9 135.5L94.6 135.3L96.2 134.2L99.2 133.8L100.4 138.8L100.7 140.9L101.7 138L102.5 133.8L104.6 129.6L105.5 125.8L108 125L111.8 125L112 117.4L118.9 117.4"/>
<rect class="fr" x="0" y="0" width="219" height="175"/>
<path class="tk" d="M-5.5 160.3H-1M-5.5 131.3H-1M-5.5 102.2H-1M-5.5 73.2H-1M-5.5 44.1H-1M-5.5 15.1H-1M0.3 176V181.2M48.9 176V181.2M97.4 176V181.2M146 176V181.2M194.5 176V181.2"/>
</g>
<text class="s" x="964.2" y="360.1" font-size="16.72" fill="#000" textLength="27.8" lengthAdjust="spacingAndGlyphs">30N</text>
<text class="s" x="964.2" y="330.9" font-size="16.72" fill="#000" textLength="27.8" lengthAdjust="spacingAndGlyphs">40N</text>
<text class="s" x="964.2" y="301.6" font-size="16.72" fill="#000" textLength="27.8" lengthAdjust="spacingAndGlyphs">50N</text>
<text class="s" x="964.2" y="272.4" font-size="16.72" fill="#000" textLength="27.8" lengthAdjust="spacingAndGlyphs">60N</text>
<text class="s" x="964.2" y="243.2" font-size="16.72" fill="#000" textLength="27.8" lengthAdjust="spacingAndGlyphs">70N</text>
<text class="s" x="964.2" y="213.9" font-size="16.72" fill="#000" textLength="27.8" lengthAdjust="spacingAndGlyphs">80N</text>
<text class="s" x="983.8" y="387.7" font-size="16.28" fill="#000" textLength="36.6" lengthAdjust="spacingAndGlyphs">140W</text>
<text class="s" x="1032.3" y="387.7" font-size="16.28" fill="#000" textLength="36.6" lengthAdjust="spacingAndGlyphs">120W</text>
<text class="s" x="1080.9" y="387.7" font-size="16.28" fill="#000" textLength="36.6" lengthAdjust="spacingAndGlyphs">100W</text>
<text class="s" x="1133.5" y="387.7" font-size="16.28" fill="#000" textLength="28.4" lengthAdjust="spacingAndGlyphs">80W</text>
<text class="s" x="1182.1" y="387.7" font-size="16.28" fill="#000" textLength="28.4" lengthAdjust="spacingAndGlyphs">60W</text>
<g transform="translate(1001,438)">
<polygon points="82.2,133.8 82.8,130.4 84.5,128.3 87,125.8 89.5,123.3 93.7,121.2 97.1,119.5 99.6,117 102.1,114 104.6,112.4 108,110.7 110.5,110.1 113.9,110.4 117.2,111.8 120.6,113.6 122.5,115.7 123,118.2 121.9,121.2 120.2,123.7 118.9,126.7 117.2,129.6 114.7,132.5 112.2,135.1 110.9,138 110.1,141.4 108.8,144.3 107.2,146.4 104.6,147.7 102.1,148.9 99.6,150.6 97.1,151.5 94.6,151 92,149.8 89.5,148.1 87,146.4 85.3,144.3 84,141.4 82.8,138" fill="#fffaaa"/><polygon points="86.1,130.4 89.5,128.3 93.7,125.8 97.1,123.7 100.4,121.2 102.5,118.2 105.5,116.1 108.8,115.3 112.6,115.3 114.7,117 115.1,119.5 118.1,122 117.2,124.6 115.6,127.1 113,129.6 110.5,132.1 109.3,135.5 108.4,138.8 106.7,142.2 104.6,144.7 101.7,146 98.8,146.4 95.4,146 92,144.7 89.5,142.6 87,139.7 86.1,135.5" fill="#ffc03c"/><polygon points="89.1,130.4 92,128.8 95.4,126.2 98.8,124.1 102.1,123.3 104.6,123.7 107.2,122 110.5,122 114.7,122.5 115.1,124.6 113,126.7 110.5,128.8 108.8,131.3 108,134.6 106.3,138 103.8,140.5 100.4,143 98.8,144.7 97.1,142.6 92,142.6 90.3,141.4 89.1,138.8" fill="#ffa000"/><polygon points="92.9,132 97.1,131.7 103.4,132 103,134.6 101.7,138 100.4,139.9 92.9,139.9" fill="#ff6000"/>
<path class="cl" stroke-width="1" d="M.8 45.1l2.2 0 1 1.1 1.6.2.9 1.1 3.5 0 .8-1.2.8 2.4 1-3.2.8 3.2 1.1-3.2 1.6.8 1.4 2.4 1.9-3 .2-1.2 1.9.2.8 1.7 1.4-2.8 2.1-.3.6 1.1 2.1 0 1.9-2 1.1 1.2.8 1.9 2.7.2.5.8 1.6-2.1 1.6 2 1.6.1 1.4-2 4-.1.8 1.1 1.9.1 1.1.8 3.2 0 .8 1.1 3.5 0 .8-1.1 5.7 0 .8 2 .8.6 7 0 1.1.5 2.1-.8 1.1-1.1 3.6 0M59.2 50.6l2.7-1.9.5 1.6 11.8 0 2.2 1.1 2.1 2.9 1.5.3M34.4 38.3l1.1-1.2 2.2-2.7 1.8-.9-1.8-1 .8-1.3 16.4 0 .5 1 2.4.3 1.4 1.4-2.2 1.3-3.2.6-2.2 1.2-3.2.4-1.1 2.1-.8 1-6.2 0-.8-.8-2.4-.3-1.3-1.1-1.4 0M51.1 37.1l1.6 2.7 1.1 1.6 1.6.6 1.1 2.7 1.3 1.6M51.6 37.1l2.2-1.6 3.2-1.1 2.2-.8 4.3.8 1.1 1.1-3.3 1.1 3.3-.3M52.2 39l7 1.1 1.6-.8M64.6 35.5l3.2.3 1.6 1.3 2.2-.5 1.6-1.1 1.6 1.1 2.1-.6 1.1 1.7-.5 1.6 2.5-1.6M76.9 34.4l3.1-.5M41.2 26.4l1.3-1.1 3.8 0 .8-1 1.9 0 1.3-2.1 9.4 0 0 1.5-1.6 1.3 6.5-.5-3.8 1.3-.5 2.7-4.9.8 1.1-2.4-2.7 1.1-1.3.5-.9-1.3-3.2.2-1.1-1.3-6.1.3M51.9 26.4l1.4-1.5 1 1.2-1.3 1.3-1.1-1M61.3 21.5l1.1-1.1 1.1.9 2.7.9 6.4 0 .6-1.5 1.6-1.3-2.7-1.1-2.2.5-4.8.5 1.6.9 3.2.1M60.8 25.3l3.8 1.1 4.8.2 1.6 1.4 1.1-1.4 2.1-2.1 2.7 0 3.1 2.9M71 28l0 1.9 3.8.5 5.2-1.1M61.9 29.3l1.6 1.9 6.4 0 0-1.1M35 53.4l1.9 0M36 55.4l2.7-1.1 4.9.1 1.1-1.1 3.2 0 1.1-1.1 1.6 1.1 4 1 0 2.2-.8 1.1-1.1-1.4-2.7-.2-.5 1.8-2.7.6-1.1 1.3M40.1 58.4l2.4-.3.5-2.1 2.7-.6-1 1.6 3.2-.5 1.1-2.7 2.6 1.6M139.2 8.1l4.3-.6 4.3 1.4-4.3.5M117.7 9.7l8.6-.6 7.5-1.6 5.4.6M149.9 11.3l4.3-.5M105.3 15.6l2.7-2.7 3.2-1.3 6.5-1.9M112.3 14l2.7-1.9 3.7-.5 2.2 1M83.2 17.2l3.8-1.1 5.4 1.4 5.4 1.1 1.6 2.4-8.1.3-4.3-1.4-1.6-1.9-2.2-.8M101.5 18.6l3.2-.3 4.4 1.6 5.3.8M112.3 16.1l8.6 1.1 1.1 1.6-7-.2-2.7-2.5M130.6 17.8l8.6 0M149.4 17.2l10.6-1.6M149.9 20.4l5.4 1.1 4.7-3.7M82.2 21.5l4.3 2.2M120.9 21.5l6.4 1.1M119.8 20.4l6.5-2.6M94 24.7l7.5-.5 2.2 2.7-1.1 2.4-6.5 0-2.1-2.4M80 27.4l3.8-.5-.6 2.2-3.2.5M85.4 29.6l3.2-1.6M105.3 24.2l2.7.5 2.1 2.2 2.2 1.1M106.9 28l5.4.5M113.4 24.7l4.3 1.1 6.4 2.2M123 23.7l5.4 1 5.4-.5 7.5 1.1 3.3-.6M124.1 27.4l7 .6 15.1-1.1 2.7-1.1 1-2.7-8.6-.5M115.5 26.9l1.1 2.7 5.4 1.1 8.6.2 3.2-.8 6.5 1.1 7.5-.5-1.1-1.6-2.1 1M141.3 22.6l10.3.5-1.1 2.2M107.4 33.4l1.7-1.1 12.9 0-4.3 3.2-5.4 1.1M107.4 33.4l1.1 3.2 1.6 2.1 4.3 2.2 3.3 2.1M80 33.9l7-.3-1.1 1.4-2.7-.6 2.2 3.3 1.6 3.2 1.6 1.6 9.2 0M90.2 36.6l2.7-2.7 4.3-1.6 6.5 0 1.6 2.1 1.6 2.7-1.6 2.2-4.9 1-2.6-2.1-3.8-1.1-3.8-.5M101.5 35l2.7 1.6-.5 1.1M121.4 38.7l1.1-3.7 2.2-1.6 5.3-.6 1.6 2.7-1 4.3M130 30.1l1.1 12.9M136.5 33.4l15.1-.3 3.7 1.9 4.7 3.7M104.7 42l4.4-2.7M115 42l3.7 1.6-1 1.6 4.3 4.3 1-2.2 3.3-.5 1 3.8 2.2 2.1 2.1-2.1 1.1-3.3-1.1-3.2 6.5-.5 9.7.5 1.1-2.1 1 2.1 5.4 1.1 4.7 3.2M139.2 45.7l3.2 1.1-2.1 2.7 2.6 2.1-2.6 2.2-5.4-1.1-5.4 2.2 2.1 3.2 4.4-2.1 3.2 2.1M80 45.7l3.2 1.1 1.6 1.6 4.3 2.2 12.4 0 2.2 1 2.1-1 3.3 3.7 0-5.9 4.3-.5-1.1-2.2-5.4-1-3.8 0-3.2 2.6-1.6 0M90.8 44.7l1.6 3.7M95.1 47.3l1.6 0M118.2 55.4l3.8 1.1 3.2 1.6 4.3 1.1M146.7 47.3l2.7-2.6 0 3.2M152.1 51.6l3.2-2.1 4.7 1.1M152.1 51.6l3.2 1.7M149.9 59.2l2.7-1.1 7.4-.5M160.2 6.5l3.2 0 1.1-1.1 6.5 0 .5 1.1 13.5-.2 5.9 1 1.6 2.1 5.4.3.5-1.1 15.1 0 3.2.3M198.4 10.2l4.3.3M209.2 10.5l1.6-1.1M184.4 10l6.5-.3 2.1 1.9-5.3.5-2.2-.8M160.2 16.1l3.8-.5 6.4-3.8 2.2-1.3M163.4 20.4l2.2-1 7-.8 1.1-1.1 8.6-.3 0-1.6-1.6-.8 4.8-.5M173.1 26.4l6 0 1-1.1 1.1 1.1 3.8-.3 1-.8 1.1 1.3 1.1-1.3 1.1 1.1 6.4 0 1.1 1 2.2.3 2.6 3 3.3 1 1.1 3.3 1.6.5-2.2 1.6 0 3.2 1.6.6 2.2-2.2 1.6-1 4.8 2.1M207.6 39.8l2.1.5-.5 2.2 5.4 0-2.7 2.2-4.9 0 1.1 1.6 2.7 0M160.2 39l4.9.8 3.7 1.6 3.3 1.1M173.7 48.4l4.3 1.1 4.3.5 4.3 2.2 3.7 1.1.6 1-3.2 2.7-2.7 2.2M160.2 47.9l2.2.5 2.1 3.2 3.3 2.2 3.7 1.1M159.7 56.5l2.7-3.2 2.1-.6M166.1 52.7l2.2-.5 3.2 1.6 1.1 1.1-3.8.5M174.2 54.9l3.8 0 4.3 0 2.7 2.1M175.3 56l1.6 2.1 3.2.5M.8 72.4l1.9.2 2.1 2.5 4.3.2 2.2-1.9 1.6 1.1 3.2 3.3 2.7 3.7 3.8 1.6 2.7 2.7.5 3.3-1.1 1 2.2 1.6 2.2-.5 2.1 3.2 1.6 2.7-.5 1.6 3.2 1.1 2.2 1.1 2.1 1.6 2.2 2.7.5 2.1M28 100.3l3.2 2.7 3.2 1.7 2.7 1.6.6 2.1M17.2 90.7l3.2-.3-1.6 1.9 2.7 4.3M17.2 90.7l0 2.7 2.2.5M16.1 72.1l2.7 1.1M37.7 108.4l1 3.2.6 2.2.5 3.2-1.1 3M37.7 113.3l3.7 0 1.1 1.6 5.4.2 1.1-1 7.2 0M42.5 105.5l37.5 0M56.2 105.5l0 8.6 1.4 1.3-2.2 3.2.6 1.4M57.8 105.7l.8 3.3 3.3 2.6 1 3.3 2.2 2.7 1.6.8 3.2 0 1.1-1.4 9 0M71 117l0 3M37.1 82.1l1.6 2.1 2.7 1.6 1.6-1.3 1.1 1.1M41.4 85.8l0 1.9M51.1 94.2l.5 1.6 3.3 1.6M54.9 100.1l-1.6 1.9 1 1-1 1.7 0 2.9M49 69.6l4.3-.2.5-.8 1.6 1.4 3.2 0 1.1-1.9-.5-2.7 1.6 1.3 2.7-.2 1.1 1 3.2 0 1.6-2.1 2.7-1.1 3.8 1.1M59.2 71.3l1.1-1.3 4.3.2 2.6-1.6 1.1-1.1M69.9 77.2l2.2-1.6 2.1-1.3 2.7 0 3.1 1M72.1 76.1l3.2.3 4.7-.5M112.3 61.3l2.7 1.1 4.3.3 2.1-1.4 6.5-.2M120.3 62.7l-.5 1.6-2.1 1.1-3.3 1.6-2.1 1.6-1.9 3 0 4.5-1.3.3M110.4 76.1l1.3 1.4 2.7 0 1.1 1.3 0 3.3-1.1.2M115.5 82.1l1.6-.6 3.2 0 1.1.8 3.3 0 1 1.1 1.6 1.6 3.3.3 2.1 2.1 8.1.3 0 5.7 1.1 2.1 2.7 1.6-.3 2.2 1.3-1.6 1.6 2.6 1.1-1.6 1.1-1-.5-1.7.5-1-.5-4.9-1.7-1-.5-.9 2.7 0 2.7-1.3 2.1-1.6.6-3.2-1.1-2.7-1.6-.8-2.2-1.4 1.7-1.6 0-2.2 2.1 0M151.6 73.4l0-1.8-2.2 0M151.6 71.6l0-3.5-1.1-.8 1.6-1.9 2.1.5 3.8.3 1.1 1.1.9-1.9M129.5 60l.5 2.2 2.2.5 1.6 1.6 1.6-1.6 2.7-1.1 6.5 0 1 .8-3.2.8-1.6-1M136.5 65.9l1.6-1.3 1.6.8 1.1-1.1.5 1.1-4.8 1.1M145.4 67.5l1-1 1.1 1-1.1 1.1-1-1.1M92.1 64.6l1.3-1.1 2.2 0 0 1.3-1.6.8-1.6-.2-.3-.8M89.1 84.2l1.1-2.7 1.1-1.9 2.1-1 .3 1.8-1.1 2.2-1.8 1.1-1.7.5M105.3 84.5l1.6 1.1 1.1-1.1M109.3 84.5l1.4-1.4M95.3 92.8l.8-2.1 1.7-.3 1 1.3 2.7 0 1.6-2.6 1.1-1.1 1.6.5M103.1 89.1l-.5 2.1 1.1 1.6 1 1.6.3 3.3 1.9 1-.3 1.6-1.9.6-.2-3.2M97.2 94.4l.6 2.7 2.1 1.6 1.1 2.2 1.6.5M98.3 93.4l3.2 1 2.2 1.1M99.9 92.3l1.6 2.7 1.6 2.7M80 105.5l29.3 0M111.7 106l3.3.8 2.7.8 2.1.3M119.8 107.9l3.2-1.1 2.7-.5 1.1-1.6-1.3-1.7M124.4 102.8l1.1-1.4 1.3 1.4-1.3 1-1.1-1M126.8 104.7l2.7 1 1.1 1.1 3.2 1.1 1.1 1.1.5 2.6-1.1 1.7M125.7 106.3l1.6 1.6 1.1 2.1 3.2.6 2.2 1M119.8 107.9l-.5 2.1 1.6 1.6 2.1 1.1 2.7.6 2.7 1 2.2-.5 3.2-.5 2.2.5 3.2-.5 5.4.5 1.6 1.6.5 2.2-2.1 1M122 111.1l3.7-.3 1.1-1.3M128.4 111.6l5.4-1.6M119.3 110l-2.2 1.6-.5 2.2-1.6 1.6-.6 1.6 1.1 1.6.5 1.4M127.3 116l1.1 1-1.1 3M130.6 114.9l-.6 5.1M137 116l1.6 1-.5 3M140.3 115.4l.5 4.6M143.5 114.9l2.1 2.1-1 1.6M87.3 105.5l0 14.5M80 116.9l7.3 0M87.3 114.3l18 0M104.5 105.5l.8 2.9.5 5.9 1.1 2.2 0 3.5M160.2 65.5l2.7 1.5 1.1 1.3 2.1.3 1.1 1.6 4.3 0 .3 3.8 1.3 1.3 1.6 2.5 1.1 1.3 1.1-.8 3.2-1.1 1.1-2.1 1.1-2.2 2.1-.3 1.1 2.5 2.2 2.1 1.6 2.2 1.6 1 .5 1.7-2.7.5 2.2 1.6 1.6 1.1 1.6 1.6 2.7.5 2.7.8 1.6 1.9 2.7 1.1 1.1 1.6-.6 1.6.6 2.7-1.1 1.1-2.2 0M200.6 90.1l0 2.7M201.6 98.2l-3.7.3-2.2 2.7-2.7.2-13.9 0-1.7 1.6M177.4 103l-2.1 1.7-2.7.5-.5 2.1-3.8 0M201.6 98.7l-1 2.2-1.1 2.1-1.1 2.2-1.6 1.6-.5 2.2 2.1.2 5.4 0 .5-.8 1.1 1.1 2.7-.5 1.6-1.7 1.6-.5-1-2.1-2.7-.9-3.3-.2-.5-1.1-1.1.5 1.1-2.1.5-2.2M209.7 110.6l1.6 1.6 1.1-1.6-1.1-2.2M179.1 103l3.2-.5 3.2 0 2.2 1.1 2.1 1.6M173.7 106.3l1.6-1.6 2.7-.6 4.3.3 1.6.8-.5 1.6-2.2.5-2.7.6M172.1 107.3l.5 2.7 2.7.3.5 4 1.6 1.7 3.8.2 1.6-1.3-.5-2.2 1.1-2.1-.6-2.2M188.7 110.6l2.2-1.4 1.1.3M184.4 116l3.3 1 3.2-.5 2.1-.5 1.7-2.2M178 120l2.1-2.4 4.3.5M182.3 119.7l3.2-1.1M172.1 107.3l-1.7 2.2-1.6 2.1-1.6 1.1M170.4 111.1l-1.6 3.8-1.6 2.1-7 .3M162.4 117.6l.5 2.4M165.6 118.1l.5 1.9M172.1 97.9l1.3-1.6 1.3 1.6-1.3 2.4-1.3-2.4M178 88.2l1.3 1.9 1.9.8.5 1.6 1.1-1.8 2.2.8 1.9-1.1M180.7 89.1l1.6-.9 1.6.3M162.9 60.5l3.2 2.7 2.2 2.2 3.2.5 4.3 1.1 3.3.5 3.2 1.6 1.6-2.6-1.6-1.1M182.3 61.1l1.1 3.2M39.5 117l0 1.9-1 .5 0 5.7M38.5 125.3l0 6.2 1 .8 0 2.2 1.4 1.1 1.6 1.6.5 1.3 1.4.8 0 3 1.1 1.6.8 1.1 1 2.1 1.7 1.1 2.6 0 1.7 1.6 2.1 1.1.3 2.7.8.5 0 2.4 1.3 1.7 1.4 2.4 1.6 1.6 2.1 1.6.6 2.2-1.1 1.3-2.1 0M62.4 167.3l.3 1.9 1.9 1.1 2.1 1.6 1.9 1.9M43.6 136.1l1.9.5.2 1.1M43 137.4l1.1 1.1M38.5 125.3l31.4 0M48.4 125.6l0 8.9 3.2 1.1 1.7 2.9 1 1.6 2.7 1.6 2.2 1.1 1.6 2.2M63.8 125.6l0 15.1M63.8 140.7l-3 4.3 1.6 1.3.3 1.9 1.1.3-1.4 1.3-.5 1.6-1.6 1.6M55.7 153.6l4.6-.6M56.5 117l-1.1 1.6 1.1 1.1 0 5.6M64.6 117.5l2.1.8 3.8 0M70.5 118.3l0 10 9.5 0M75.6 128.6l0 27.4M64 140.4l16 0M61.3 154.1l3.8 0 3.2 2.4 9.2 0 .5-1 2 0M61.3 155.5l.3 4.5 1.3 1.7 2.2 1.6M61.9 155.5l2.7 1 2.1 3 .3 2.2.8 2.1 2.1 2.2 2.7 1.3-1 1.1 2.6 1.9.6 2.7 2.1.8M65.1 163.3l1.6 2.1 0 2.2 1.6 2.7 1.6 2.7.6.8M87.5 117l0 11.3M80 128.3l12.4 0M87.5 122.4l11.9 0 2.1.8 3.8.3 1.1 1.6.5 2.1 1.1 2.2 1.3 2.1.8 2.2.3 7M92.4 128.3l0 12.1M92.4 131.5l16.1 0M80 140.4l30.4 0M110.4 140.4l.3 1.9M90.8 140.7l0 14.8-10.8 0M92.1 142.3l5.1 0 .6 5.4 1.6.5 2.1 1.1 2.7.8 1.6-.3 2.7-.5 1.9 0M110.4 142.3l.8 2.7.3 2.1-1.1 2.2 1.3 2.7 0 2.7 1.1 2.1-.5 2.7.5 1.6M110.7 142.3l11.3 0M111.7 152.2l7 0M99.4 120.2l.2 1.9M106.4 117l0 4-1.1.6 1.6.8M106.4 121.2l11.3 0M114.4 117l2.2 2.2 2.1 2.1 1.1 2.2 1.6 1.6-.2 1.6-1.9 1.9-1.6 1M108 129.6l9.7 0M117.7 129.6l1 2.5 2.2 3.2 2.1 3.8 1.7 1.6M120.9 124.5l6.4 0M127.3 117l-.5 2.2.5 3.2 0 2.1 0 11.3-1 1.1.5 3.2-.5 3.3M124.7 140.7l-2.7 2.1-1.1 3.3-1.1 2.6-1.1 2.7.6 3.3-1.6 2.4 3.2.2 1.6.6.5 2.1M112.8 161.1l2.7 1.6 2.2-1 1.6 1.6 2.7-.6M123 160l2.7-.5 1.6 1.1M80 155.7l2.7 1.6 2.7 1.7 1.6 3.2 1.6 1.3 1.6-.2 1.1-1.6 3.2 0 1.6 3.2 2.7 2.7 0 2.1 1.6 1.6 2.7 1.1 1.6 1.1M104.7 173.5l-1.6-3.8.6-2.1 2.7-2.7 2.7-1.1 1-2.1 2.7-.6M125.7 147.1l0 12.4M122 146.1l13.4 0M122 142.3l4.8 0M126.3 140.9l29 0M132.2 146.3l1.1 4.1 1 3.7-.5 3.2M127.3 157.3l6.5 0M133.8 157.3l2.7 1.1 4.8.6 1.1-1.1M127.3 157.3l1.1 1.7 2.7 1 2.2 2.2 1-1.6 2.7-.6M137 160l1.6 2.7 1.1 2.7 0 2.2 1.6 2.1 1.1 3.8M142.4 159l1.1 3.7 1.1 2.7.5 3.2.5 2.2 0 2.7M148.3 170.3l3.8 0 1.6 1-1.6 1.1M135.4 146.1l2.7-1.1 5.4 0 3.2 1.1 2.7 3.2 2.2-.6M138.1 146.3l1.6 3 1.6 1.6 1.1 2.7 1.1 1.1M143.5 154.7l-1.1 3.2M155.3 145l-2.1 2.1-1.6 1.6-2.2 1.1-2.7 2.2-3.2 2.7M127.3 135.8l2.2 1.6 2.1-1 2.2-1.1 1.1-.5M134.9 126.7l0 8.1M127.9 126.7l11.3 0M134.9 134.8l4.3.5 1.6 1.6 1.1 1.6 2.7.6 2.1-2.2 2.2-2.7 1-1.1M140.8 135.3l2.1-2.2 3.3-.5M144.6 126.1l0 6 12.9 0M144.6 126.1l13.4-.5M158 125.6l1.1 1.6-1.6 2.2 1 2.7M139.2 140.7l2.7 1.6-1.1 1.1-3.8.5-2.1 2.2M149.9 133.1l1.1 1.7 3.2 1.6 1.1 2.1M156.4 145.5l1.6 0M130.6 117l0 8.6M136 120.2l3.2.6 1.1 1.6-1.7 2.1.6 2.2M138.1 117l-1.1 2.2M142.4 117l-.5 1.6M162.4 117.5l0 6.5-1.1 1.6 0 2.2M162.4 118.1l5.4-.6.5 3.8.5 2.7 1.1 1.6 1.1 1.1-1.6 1.1-3.3 0-1.6 1.8-3.7 0-.6 3M168.3 121.3l3.2-1.3 4.3-1.7 2.2-1.3M164 119.2l2.1.5-1.6 1.6-.5 1.6M162.9 124l4.3 0 .6 1.6M179.3 118.6l1.4 2.7 1.6 0 1.1-2.1 3.2-1.1 4.3-.6M118.2 20.4l5.7-.1M122.6 21.1l2.8 0M132.4 26l2.4-.3M137.5 8l5.9 1.9M134.3 21.8l2.6-.9M124.3 8.4l2.7-.5M84.4 18.1l3.8.9M123.5 22.4l4 .4M118.6 13.7l6 2.1M149.2 24l3.3-.6M105.1 8.7l5.1-.4M149.7 16.3l5.9 1.4M154.8 18.3l5.9-.4M87.8 22.1l5.2-.8M89 15l5.8 1M91.4 12.9l2.4-.7M145.8 11.3l4.2-.2M97.3 24.6l2.5.2M91.3 17.1l2.9-.5M106.3 28.2l2.9-.2M150.4 22.4l2.4.8M99.1 13.2l5.1-.6M105.7 8.8l2.4.1M101.4 21.4l3.5-.1M158.7 18.6l4.3 1.1M96.6 10.7l5.7 1.3M102 11.6l4.9 1.5M152.6 21.5l3.7-1M101.1 23.9l3 .7M129.7 14l2.7.5M126.7 27.5l4.5-.7M117.7 8.5l2.7-.3M127.8 10.2l3.4.9M137.3 21l2.6-.8M83.7 22.3l3.9.6M88 20.1l5 1.4M141 23.9l5.1 1.5M110.1 23.4l5.7 1.5M115.4 26l5.4.3M132 16.2l4.3.3M88.4 22.3l6 1.6M140.3 16.3l4.9.3M117.2 27.1l2.4.4M84.4 21.4l3.9-.7M137.9 18.9l4.4 1.3M106.1 23.3l2.8-.7M154.5 22.8l3.7 1.1M108.2 23l2.8-.2M152.4 16.2l4.4-.5M92.9 18.9l5.3 1.3M138.9 29.8l3.1-.7M118.1 13.6l2.8-.2M132.1 18.9l3.2.7M160.6 17.9l2.3-.8M138.7 20.7l3.2.7M118.4 7.6l5.3-1M132.3 17.7l4.6.5M136.8 11.8l3.9-.9M82.9 18.3l4.8-1.1M103.8 15.3l4.8.1M131.2 25.1l3.5.8M156.6 24.3l2.5 0M132 28.8l3.6.2M152.3 26.1l5.8-.1M134.1 11.9l4.9 1.1M133.3 24.2l2.9.8M125 26l3.2.9M150.5 15.4l2.3-.1M126 25.4l4-1.3M146 11.1l3.3.7M86.9 31l5.4.7M111 26.9l5.8-1.7M70.4 27.5l3.2.5M93.8 27.4l5.4.2M75.5 24.9l5.3 1.5M69.7 33.3l5.8.1M90.1 21.6l4.1 0M91.9 18.5l5.9.1M80.4 32.4l4.3 0M96.7 19.2l4.2-.3M73.1 26.5l2.5-.1M84.7 23.7l2.8.2M68.9 22.1l4.7-.6M77.9 29.2l2.4.3M64.9 27.2l3-.6M87.7 25.9l3.5-.3M87.6 20.9l2.9.2M93.8 27.5l5.4.5M106 22.2l4.9 1.1M108.5 23.7l3.3 1M71.4 31.1l3-.9M104.6 25.6l5.2-1.4M134.2 33l2-.5M150.9 36.6l5.9-1.6M140.3 34.1l4.1.6M143.1 30.2l4.3-1M121.1 25.3l5.3 1.8M137.7 34.2l3.3 0M140.9 28.9l4.4-1.5M152.1 35.5l2.7-.1M154.4 28.5l2.7-.7M140.8 22.2l5.5 1.2M152.3 35.8l4.5-.3M146 30.1l5.9 1.2M125.5 36.6l5 .9M158.9 28.5l5.6 1.5M151.7 34.3l5-.4M153.4 23.1l3.3 0M148.3 32l3 .9M150 27.4l4.6.2M142 28.2l6 .6M152.1 34.2l5.9-2M146.9 33.8l3.1-.2M132.5 23.6l3 .8M143 30.1l5.9.3M145.9 34.1l2.1.7M119.6 29.5l2.7 0M171.3 36.5l5.8-.3M167.3 50.5l3.4-.5M173.4 49.6l3.2.5M149.5 54.6l3.6 1M162.6 47.4l5.9-1M167.1 59.4l4.9-.1M171 38l4.5-.1M167.3 38.2l3.8.5M163.9 41.8l4.3-.2M179.3 48.8l6 1.9M177.2 41.2l2.5.7M179.6 51.2l3.5-.5M174.9 49.7l4.3.4M178.2 39.9l3 1M155 46.1l4.5-1.3M168 36.9l2.3.3M168.4 51.4l3.5 0M152.1 43.9l5 1.2M180.8 51.2l5.1-1M162.4 41.7l5.2-.5M157.6 49.3l5 1.4M162.5 44.6l2.4.6M169.1 47.6l4.7-.7M152.2 52.2l2.4-.3M176.8 53l3.1-.7M159.2 53.9l3.4-1M176 49.8l5.7 1.7M185.8 46.4l5.3-.7M157.2 45.4l5.8 1.6M153.9 44.4l3.5-.3M161 45.1l2.8.1M180.3 49.1l5.3.2M150.5 54.7l5.5-.8M143.1 48.4l4.1.2M163.1 44.4l5.2-1.6M151.3 46.6l2.3-.7M156.6 48.4l2.4.2M140 45.9l4.6-.8M142.2 46.2l4.1.8M147 39.4l5.9.7M149.8 42.6l4.9.7M161.6 40.6l5.3.6M159.9 46.9l5.3 1.4M162.8 44.2l4.1.6M158.5 40.7l3.6-.9M146.5 36.7l2.8-.2M86.8 40.9l2.4.3M132.7 38.9l2.2-.1M120.4 50.5l2.1-.5M94.8 39.5l3 .4M121.1 39.6l2.7-.4M94 48.1l3.3.1M135.3 43.7l3 .8M141.5 41.5l4.2 1.3M113.9 39.5l2.2.7M134.3 42.2l4.1 0M125.1 39.8l2 0M106.8 48.7l4.8.4M93.1 38.5l3.3-.5M138.6 44.3l4.6 1.5M100.1 44.6l2.6.4M137.2 49.2l2.3-.4M128.9 37.6l3.9-.1M144.2 45.4l5.4-.8M133.5 42.7l5.7-1.7M135.9 39.3l4.2.1M93.1 49.3l3.2-.4M87.9 40.9l3.8.6M106 47l2.4-.2M112.6 51.5l5.3.5M128.4 39.8l4.3-.1M134.2 39.3l4.4-.6M107.1 44.6l3.2-.3M108.1 46.7l3-.7M129.8 41.3l5.8.2M129.3 41.3l5.3-1.5M12.4 79l1.9 2.6M12.8 81.4l2.5 2.6M10.2 77.9l1.7.6M22.1 87.4l3 2.3M23.9 92.9l1.7 3M20.5 87.7l2.4.6M19.8 89.6l2 3.3M29.4 97.5l1.3.9M17.8 87.5l1.5 1M23.4 93.4l2.4 2.6M10.8 82.1l2.7 2.6M18.7 87.3l1.1 1.5M41.5 107.6l1.6 2.9M11.6 84l2.8 1.2M9.8 77.7l1.8 2.4M16.4 88.1l1.9 1.6M8.9 81.7l.8 1.7M25.4 93.6l2.5 1.4M37.1 106.9l2.4 2.6M9.3 81.1l1 2M14.4 84l3.3 1.4M27.1 91.9l1.5.7M40.1 109.2l2.7 1.6M29.4 98.4l1.7 1.8M36.5 99.9l1.6 1.3M11.5 80.2l2.7 1.1M25.5 91.7l2.5 1.6M30.6 94.8l3 1.2M40.2 107.1l2.2 1.6M27.8 96.7l1.9 2.8M21.8 93.4l1.7 3.2M20.9 88.8l1.3 2.7M24.9 92.9l1.1 2.4M19 84.6l1.4 3M32 99.8l2.9 1.7M28.8 93.4l1.4 1.1M24.4 91.7l1 1.3M25.8 91.9l1.9 1.3M15.9 81.9l1.4 3.5M28.7 98.7l1.4 2.2M13.2 84l1.2 2.7M8.6 80.2l1.3 1.3M41.9 104.6l1.8 1M19.1 84.8l1.9 3.2M20.8 88.2l2.8.8M5.8 78.5l1.7 1.5M38 107.7l2.5 1.1M15.2 87l3.4 1.6M36.6 102.3l2.5 1M36 106l1.3 1.5M11.6 83.5l1.6.6M32.7 98.5l1.8 3.4M32.9 97.5l1.3 2.9M23.4 88.7l1.8 1M32.6 97.6l1.7.9M29 98.4l1.5 1.8M37.5 104.6l1.8 1.1M38.8 106.3l1.4 1.7M7.6 80.7l1.9 1.8M26.6 91.3l2.6 1.5M210.7 42.2l.5 1.6M215 54l.1 2.2M210 40.7l2.1 3.4M211.4 47.2l-.8 2.3M214.9 47.8l-.2 2.9M211.8 44.7l.2 3.5M210.9 48.3l.2 3.2M215.9 58.7l1.4 3.1M214.8 50.5l-.5 2.5M211.8 55l.2 2.1M212 41.3l1.4 2.4M211.9 50.4l-.8 2.8M214.4 40.1l.2 1.6M213.2 46.4l-.4 2.1M209.7 37.9l.1 3M215.1 54.9l.6 1.8M213.2 36.9l.2 3.1M212 42.4l-.4 1.7M213.8 40l-.2 1.9M211.9 56.1l.3 1.6M214.4 44.6l2 3.4M211.4 47.9l1.7 3.6M211.4 47l.6 1.6M215.9 57.2l.7 2.4M215.4 46l-.7 1.4M212.1 54.4l.7 2M214.6 49.1l-.9 2.5M213.7 44.7l-.1 3.9M212.7 36.9l1.5 2.7M211.5 44.3l0 3.7M195 113.2l1.5 1.9M189.1 111.5l1.9.8M187.7 109.3l1.9.5M188.2 109.1l2 1.1M195.5 114.7l3.5.9M190.9 108.5l3 1.2M190 107.6l1.8.6M188.8 112.2l3.2 1M190.5 108.7l3.5 1.5M193.1 113.6l3.7.2"/>
<path class="cl" stroke-width="1.6" d="M55.4 42.8l14.5.5M56 25.3l3.2-2.2M62.4 29.6l3.2.8M37.7 54.9l5.3.2M142.4 6.2l17.6 0M124.7 11.6l16.1 0M141.9 12.6l12.9-.5M108 13.4l4.3-1M124.1 13.4l17.2.6 5.4 1.6M85.9 18.3l2.2 1.1M97.2 14.5l3.2.8M105.8 22.1l8.6 0M113.4 16.4l6.9.5M128.4 16.1l5.4-.5 8.6 2.7M127.3 19.4l13 1M151.6 18.3l8.4-1.1M83.2 21.8l2.7 1.3M87 24.7l3.8 2.2 3.2-1.1M96.1 28.5l6.5.8M105.3 29.6l8.6 1.1M117.7 25.3l6.4 1.1M85.9 40.3l2.2 1.7M121.4 39.5l4.3 1.9 4.3 1.1M143.5 36.6l8.6.5M144.6 35l6.4.5M155.3 37.1l4.7 2.7M138.1 43.8l9.1.6M130.6 54.9l7.5 2.1M89.1 45.2l6-1.6M123 57l6.5 1.6M164.5 5.6l5.9.3M173.1 7l4.9.3M175.8 12.9l4.3 1.6M165.1 14.8l3.2-.8M168.8 24.2l5.4.3M201.6 31.7l3.8.6M214.6 47.3l2.1-1M213.5 50.6l3.2 0M176.9 49.5l8.1 2.1M160.2 49l2.7 1M180.1 55.4l4.3 2.2M165.6 58.6l3.8.6M23.1 86.9l.6 5.4M76.9 109.2l3.1 0M54.9 70l3.7.1M112.8 61.6l2.2.8M113.4 67l2.1-.3M141.3 93.9l3.3.3M137 66.2l2.2-.3M80 75.5l3 0M88.1 91.2l1 1.3M80 108.7l1.6-.3 1.1 1.4M89.4 108.2l1.1-.9 1.1 1.7 2.9.2M95.3 112.2l1.4 1.1-.6 2.7-.8 2.1M153.2 110.6l1.3-1.4 1.4 1.4-2.7 0M151 119.7l4.3-1.6 4.7-.8M167.2 73.4l4.3 0M169.4 76.1l2.1 0M171 79.4l2.7-.3M185 74.5l2.7 3.3M160.2 102.5l.3-2.7 1.3-1.3 2.2-.3-1.6 1.6-1.6 2.7M181.2 90.1l1.1 2.2M164.5 62.2l3.8 3.2M179.6 68.1l3.8.5M174.2 72.6l1.6-1.3M45.5 143.4l.8 1.6M66.7 126.1l0 2.5 1.1 1 1.1-1.3M69.9 139.9l2.7-2.7M95.1 118.3l1-1.3M161.8 126.7l2.7-.6 2.2.6"/>
<path class="cl" stroke-width="2" d="M117.7 10.5l8 0M131.6 33.4l5.4 2.1-3.2 2.2 1.1 3.2M103.1 49.5l4.9 3.2M172.1 10.8l12.3.5M164.5 21.5l14.6 1.6M210.8 38.7l5.4 2.2M210.3 49.5l6.4-1.1M210.8 51.6l1.6 5.4M210.8 53.8l3.8 5.4M160.2 40.1l5.9 1.3M5.4 76.1l4.3 2.2 2.1 3.2 4.3 3.8 2.2 2.1M10.8 74.5l4.3 4.3 3.2 3.8M26.9 92.3l3.2 4.3 2.2 3.2 5.4 3.2 3.2 2.7M41.4 109.8l2.2 0M69.4 65.9l4.8-1.1M69.9 76.9l1.7-.2M146.7 84.2l2.7-.5M149.4 76.9l1.1 0M149.9 60.5l4.3 0M149.4 63.8l3.2-1.1 1.6-1.1M133.3 111.6l3.7 2.2M136 114.3l3.2 1.1M116.6 111.6l1.1.6M192.5 91.7l3.2-1 4.3-1.1M204.3 111.1l2.7-.5 2.7-2.2 1.6-2.1M186.6 103l3.2 1.9M179.1 107.6l3.2-.3M168.3 107.9l3.2.5M167.2 111.6l1.1.6M160.2 60.8l2.2-.3M172.6 62.7l5.4 1.6M62.4 141.2l1.1 2.2M61.3 152.5l1.1.5M64.6 162.7l1 1.6M123.6 140.1l2.1.6M120.3 159.5l2.7.5M122.5 162.7l1.1.3M109.1 161.7l1.6.5M143.5 169.7l2.7.6M152.1 133.7l4.8 0M138.6 125.1l4.3 1M139.7 120.2l1.1 2.2M162.4 127.8l2.7-1.1M187.7 117.5l3.2 0"/>
<path class="cl" stroke-width="2.6" d="M171.5 43.6l5.4 2.1M96.1 92.3l2.2 1.1M109.3 103.6l2.4 2.1M183.9 111.6l3.8 2.2 3.2 1.6M192.5 112.2l1.1 2.1M213.5 60.5l3.2 2.7M154.2 134.8l2.2 3.7M154.8 138.5l1.6 7M142.9 125.1l3.8-2.7 8.1-2.2 5.2-2.1M160 120.2l2.4-1"/>
<rect class="fr" x="0" y="0" width="219" height="175"/>
<path class="tk" d="M-5.5 160.3H-1M-5.5 131.3H-1M-5.5 102.2H-1M-5.5 73.2H-1M-5.5 44.1H-1M-5.5 15.1H-1M0.3 176V181.2M48.9 176V181.2M97.4 176V181.2M146 176V181.2M194.5 176V181.2"/>
</g>
<text class="s" x="964.2" y="605.1" font-size="16.72" fill="#000" textLength="27.8" lengthAdjust="spacingAndGlyphs">30N</text>
<text class="s" x="964.2" y="575.9" font-size="16.72" fill="#000" textLength="27.8" lengthAdjust="spacingAndGlyphs">40N</text>
<text class="s" x="964.2" y="546.6" font-size="16.72" fill="#000" textLength="27.8" lengthAdjust="spacingAndGlyphs">50N</text>
<text class="s" x="964.2" y="517.4" font-size="16.72" fill="#000" textLength="27.8" lengthAdjust="spacingAndGlyphs">60N</text>
<text class="s" x="964.2" y="488.1" font-size="16.72" fill="#000" textLength="27.8" lengthAdjust="spacingAndGlyphs">70N</text>
<text class="s" x="964.2" y="458.9" font-size="16.72" fill="#000" textLength="27.8" lengthAdjust="spacingAndGlyphs">80N</text>
<text class="s" x="983.8" y="632.7" font-size="16.28" fill="#000" textLength="36.6" lengthAdjust="spacingAndGlyphs">140W</text>
<text class="s" x="1032.3" y="632.7" font-size="16.28" fill="#000" textLength="36.6" lengthAdjust="spacingAndGlyphs">120W</text>
<text class="s" x="1080.9" y="632.7" font-size="16.28" fill="#000" textLength="36.6" lengthAdjust="spacingAndGlyphs">100W</text>
<text class="s" x="1133.5" y="632.7" font-size="16.28" fill="#000" textLength="28.4" lengthAdjust="spacingAndGlyphs">80W</text>
<text class="s" x="1182.1" y="632.7" font-size="16.28" fill="#000" textLength="28.4" lengthAdjust="spacingAndGlyphs">60W</text>
<g transform="translate(1001,683)">
<g class="c"><rect x="94" y="141" width="13" height="9" fill="#fffaaa"/><rect x="215" y="141" width="3" height="9" fill="#ff6000"/><rect x="82" y="134" width="25" height="9" fill="#fffaaa"/><rect x="82" y="127" width="25" height="9" fill="#fffaaa"/><rect x="100" y="119" width="19" height="10" fill="#fffaaa"/><rect x="100" y="112" width="25" height="9" fill="#fffaaa"/></g>
<path class="cl" stroke-width="1" d="M.8 45.1l2.2 0 1 1.1 1.6.2.9 1.1 3.5 0 .8-1.2.8 2.4 1-3.2.8 3.2 1.1-3.2 1.6.8 1.4 2.4 1.9-3 .2-1.2 1.9.2.8 1.7 1.4-2.8 2.1-.3.6 1.1 2.1 0 1.9-2 1.1 1.2.8 1.9 2.7.2.5.8 1.6-2.1 1.6 2 1.6.1 1.4-2 4-.1.8 1.1 1.9.1 1.1.8 3.2 0 .8 1.1 3.5 0 .8-1.1 5.7 0 .8 2 .8.6 7 0 1.1.5 2.1-.8 1.1-1.1 3.6 0M59.2 50.6l2.7-1.9.5 1.6 11.8 0 2.2 1.1 2.1 2.9 1.5.3M34.4 38.3l1.1-1.2 2.2-2.7 1.8-.9-1.8-1 .8-1.3 16.4 0 .5 1 2.4.3 1.4 1.4-2.2 1.3-3.2.6-2.2 1.2-3.2.4-1.1 2.1-.8 1-6.2 0-.8-.8-2.4-.3-1.3-1.1-1.4 0M51.1 37.1l1.6 2.7 1.1 1.6 1.6.6 1.1 2.7 1.3 1.6M51.6 37.1l2.2-1.6 3.2-1.1 2.2-.8 4.3.8 1.1 1.1-3.3 1.1 3.3-.3M52.2 39l7 1.1 1.6-.8M64.6 35.5l3.2.3 1.6 1.3 2.2-.5 1.6-1.1 1.6 1.1 2.1-.6 1.1 1.7-.5 1.6 2.5-1.6M76.9 34.4l3.1-.5M41.2 26.4l1.3-1.1 3.8 0 .8-1 1.9 0 1.3-2.1 9.4 0 0 1.5-1.6 1.3 6.5-.5-3.8 1.3-.5 2.7-4.9.8 1.1-2.4-2.7 1.1-1.3.5-.9-1.3-3.2.2-1.1-1.3-6.1.3M51.9 26.4l1.4-1.5 1 1.2-1.3 1.3-1.1-1M61.3 21.5l1.1-1.1 1.1.9 2.7.9 6.4 0 .6-1.5 1.6-1.3-2.7-1.1-2.2.5-4.8.5 1.6.9 3.2.1M60.8 25.3l3.8 1.1 4.8.2 1.6 1.4 1.1-1.4 2.1-2.1 2.7 0 3.1 2.9M71 28l0 1.9 3.8.5 5.2-1.1M61.9 29.3l1.6 1.9 6.4 0 0-1.1M35 53.4l1.9 0M36 55.4l2.7-1.1 4.9.1 1.1-1.1 3.2 0 1.1-1.1 1.6 1.1 4 1 0 2.2-.8 1.1-1.1-1.4-2.7-.2-.5 1.8-2.7.6-1.1 1.3M40.1 58.4l2.4-.3.5-2.1 2.7-.6-1 1.6 3.2-.5 1.1-2.7 2.6 1.6M139.2 8.1l4.3-.6 4.3 1.4-4.3.5M117.7 9.7l8.6-.6 7.5-1.6 5.4.6M149.9 11.3l4.3-.5M105.3 15.6l2.7-2.7 3.2-1.3 6.5-1.9M112.3 14l2.7-1.9 3.7-.5 2.2 1M83.2 17.2l3.8-1.1 5.4 1.4 5.4 1.1 1.6 2.4-8.1.3-4.3-1.4-1.6-1.9-2.2-.8M101.5 18.6l3.2-.3 4.4 1.6 5.3.8M112.3 16.1l8.6 1.1 1.1 1.6-7-.2-2.7-2.5M130.6 17.8l8.6 0M149.4 17.2l10.6-1.6M149.9 20.4l5.4 1.1 4.7-3.7M82.2 21.5l4.3 2.2M120.9 21.5l6.4 1.1M119.8 20.4l6.5-2.6M94 24.7l7.5-.5 2.2 2.7-1.1 2.4-6.5 0-2.1-2.4M80 27.4l3.8-.5-.6 2.2-3.2.5M85.4 29.6l3.2-1.6M105.3 24.2l2.7.5 2.1 2.2 2.2 1.1M106.9 28l5.4.5M113.4 24.7l4.3 1.1 6.4 2.2M123 23.7l5.4 1 5.4-.5 7.5 1.1 3.3-.6M124.1 27.4l7 .6 15.1-1.1 2.7-1.1 1-2.7-8.6-.5M115.5 26.9l1.1 2.7 5.4 1.1 8.6.2 3.2-.8 6.5 1.1 7.5-.5-1.1-1.6-2.1 1M141.3 22.6l10.3.5-1.1 2.2M107.4 33.4l1.7-1.1 12.9 0-4.3 3.2-5.4 1.1M107.4 33.4l1.1 3.2 1.6 2.1 4.3 2.2 3.3 2.1M80 33.9l7-.3-1.1 1.4-2.7-.6 2.2 3.3 1.6 3.2 1.6 1.6 9.2 0M90.2 36.6l2.7-2.7 4.3-1.6 6.5 0 1.6 2.1 1.6 2.7-1.6 2.2-4.9 1-2.6-2.1-3.8-1.1-3.8-.5M101.5 35l2.7 1.6-.5 1.1M121.4 38.7l1.1-3.7 2.2-1.6 5.3-.6 1.6 2.7-1 4.3M130 30.1l1.1 12.9M136.5 33.4l15.1-.3 3.7 1.9 4.7 3.7M104.7 42l4.4-2.7M115 42l3.7 1.6-1 1.6 4.3 4.3 1-2.2 3.3-.5 1 3.8 2.2 2.1 2.1-2.1 1.1-3.3-1.1-3.2 6.5-.5 9.7.5 1.1-2.1 1 2.1 5.4 1.1 4.7 3.2M139.2 45.7l3.2 1.1-2.1 2.7 2.6 2.1-2.6 2.2-5.4-1.1-5.4 2.2 2.1 3.2 4.4-2.1 3.2 2.1M80 45.7l3.2 1.1 1.6 1.6 4.3 2.2 12.4 0 2.2 1 2.1-1 3.3 3.7 0-5.9 4.3-.5-1.1-2.2-5.4-1-3.8 0-3.2 2.6-1.6 0M90.8 44.7l1.6 3.7M95.1 47.3l1.6 0M118.2 55.4l3.8 1.1 3.2 1.6 4.3 1.1M146.7 47.3l2.7-2.6 0 3.2M152.1 51.6l3.2-2.1 4.7 1.1M152.1 51.6l3.2 1.7M149.9 59.2l2.7-1.1 7.4-.5M160.2 6.5l3.2 0 1.1-1.1 6.5 0 .5 1.1 13.5-.2 5.9 1 1.6 2.1 5.4.3.5-1.1 15.1 0 3.2.3M198.4 10.2l4.3.3M209.2 10.5l1.6-1.1M184.4 10l6.5-.3 2.1 1.9-5.3.5-2.2-.8M160.2 16.1l3.8-.5 6.4-3.8 2.2-1.3M163.4 20.4l2.2-1 7-.8 1.1-1.1 8.6-.3 0-1.6-1.6-.8 4.8-.5M173.1 26.4l6 0 1-1.1 1.1 1.1 3.8-.3 1-.8 1.1 1.3 1.1-1.3 1.1 1.1 6.4 0 1.1 1 2.2.3 2.6 3 3.3 1 1.1 3.3 1.6.5-2.2 1.6 0 3.2 1.6.6 2.2-2.2 1.6-1 4.8 2.1M207.6 39.8l2.1.5-.5 2.2 5.4 0-2.7 2.2-4.9 0 1.1 1.6 2.7 0M160.2 39l4.9.8 3.7 1.6 3.3 1.1M173.7 48.4l4.3 1.1 4.3.5 4.3 2.2 3.7 1.1.6 1-3.2 2.7-2.7 2.2M160.2 47.9l2.2.5 2.1 3.2 3.3 2.2 3.7 1.1M159.7 56.5l2.7-3.2 2.1-.6M166.1 52.7l2.2-.5 3.2 1.6 1.1 1.1-3.8.5M174.2 54.9l3.8 0 4.3 0 2.7 2.1M175.3 56l1.6 2.1 3.2.5M.8 72.4l1.9.2 2.1 2.5 4.3.2 2.2-1.9 1.6 1.1 3.2 3.3 2.7 3.7 3.8 1.6 2.7 2.7.5 3.3-1.1 1 2.2 1.6 2.2-.5 2.1 3.2 1.6 2.7-.5 1.6 3.2 1.1 2.2 1.1 2.1 1.6 2.2 2.7.5 2.1M28 100.3l3.2 2.7 3.2 1.7 2.7 1.6.6 2.1M17.2 90.7l3.2-.3-1.6 1.9 2.7 4.3M17.2 90.7l0 2.7 2.2.5M16.1 72.1l2.7 1.1M37.7 108.4l1 3.2.6 2.2.5 3.2-1.1 3M37.7 113.3l3.7 0 1.1 1.6 5.4.2 1.1-1 7.2 0M42.5 105.5l37.5 0M56.2 105.5l0 8.6 1.4 1.3-2.2 3.2.6 1.4M57.8 105.7l.8 3.3 3.3 2.6 1 3.3 2.2 2.7 1.6.8 3.2 0 1.1-1.4 9 0M71 117l0 3M37.1 82.1l1.6 2.1 2.7 1.6 1.6-1.3 1.1 1.1M41.4 85.8l0 1.9M51.1 94.2l.5 1.6 3.3 1.6M54.9 100.1l-1.6 1.9 1 1-1 1.7 0 2.9M49 69.6l4.3-.2.5-.8 1.6 1.4 3.2 0 1.1-1.9-.5-2.7 1.6 1.3 2.7-.2 1.1 1 3.2 0 1.6-2.1 2.7-1.1 3.8 1.1M59.2 71.3l1.1-1.3 4.3.2 2.6-1.6 1.1-1.1M69.9 77.2l2.2-1.6 2.1-1.3 2.7 0 3.1 1M72.1 76.1l3.2.3 4.7-.5M112.3 61.3l2.7 1.1 4.3.3 2.1-1.4 6.5-.2M120.3 62.7l-.5 1.6-2.1 1.1-3.3 1.6-2.1 1.6-1.9 3 0 4.5-1.3.3M110.4 76.1l1.3 1.4 2.7 0 1.1 1.3 0 3.3-1.1.2M115.5 82.1l1.6-.6 3.2 0 1.1.8 3.3 0 1 1.1 1.6 1.6 3.3.3 2.1 2.1 8.1.3 0 5.7 1.1 2.1 2.7 1.6-.3 2.2 1.3-1.6 1.6 2.6 1.1-1.6 1.1-1-.5-1.7.5-1-.5-4.9-1.7-1-.5-.9 2.7 0 2.7-1.3 2.1-1.6.6-3.2-1.1-2.7-1.6-.8-2.2-1.4 1.7-1.6 0-2.2 2.1 0M151.6 73.4l0-1.8-2.2 0M151.6 71.6l0-3.5-1.1-.8 1.6-1.9 2.1.5 3.8.3 1.1 1.1.9-1.9M129.5 60l.5 2.2 2.2.5 1.6 1.6 1.6-1.6 2.7-1.1 6.5 0 1 .8-3.2.8-1.6-1M136.5 65.9l1.6-1.3 1.6.8 1.1-1.1.5 1.1-4.8 1.1M145.4 67.5l1-1 1.1 1-1.1 1.1-1-1.1M92.1 64.6l1.3-1.1 2.2 0 0 1.3-1.6.8-1.6-.2-.3-.8M89.1 84.2l1.1-2.7 1.1-1.9 2.1-1 .3 1.8-1.1 2.2-1.8 1.1-1.7.5M105.3 84.5l1.6 1.1 1.1-1.1M109.3 84.5l1.4-1.4M95.3 92.8l.8-2.1 1.7-.3 1 1.3 2.7 0 1.6-2.6 1.1-1.1 1.6.5M103.1 89.1l-.5 2.1 1.1 1.6 1 1.6.3 3.3 1.9 1-.3 1.6-1.9.6-.2-3.2M97.2 94.4l.6 2.7 2.1 1.6 1.1 2.2 1.6.5M98.3 93.4l3.2 1 2.2 1.1M99.9 92.3l1.6 2.7 1.6 2.7M80 105.5l29.3 0M111.7 106l3.3.8 2.7.8 2.1.3M119.8 107.9l3.2-1.1 2.7-.5 1.1-1.6-1.3-1.7M124.4 102.8l1.1-1.4 1.3 1.4-1.3 1-1.1-1M126.8 104.7l2.7 1 1.1 1.1 3.2 1.1 1.1 1.1.5 2.6-1.1 1.7M125.7 106.3l1.6 1.6 1.1 2.1 3.2.6 2.2 1M119.8 107.9l-.5 2.1 1.6 1.6 2.1 1.1 2.7.6 2.7 1 2.2-.5 3.2-.5 2.2.5 3.2-.5 5.4.5 1.6 1.6.5 2.2-2.1 1M122 111.1l3.7-.3 1.1-1.3M128.4 111.6l5.4-1.6M119.3 110l-2.2 1.6-.5 2.2-1.6 1.6-.6 1.6 1.1 1.6.5 1.4M127.3 116l1.1 1-1.1 3M130.6 114.9l-.6 5.1M137 116l1.6 1-.5 3M140.3 115.4l.5 4.6M143.5 114.9l2.1 2.1-1 1.6M87.3 105.5l0 14.5M80 116.9l7.3 0M87.3 114.3l18 0M104.5 105.5l.8 2.9.5 5.9 1.1 2.2 0 3.5M160.2 65.5l2.7 1.5 1.1 1.3 2.1.3 1.1 1.6 4.3 0 .3 3.8 1.3 1.3 1.6 2.5 1.1 1.3 1.1-.8 3.2-1.1 1.1-2.1 1.1-2.2 2.1-.3 1.1 2.5 2.2 2.1 1.6 2.2 1.6 1 .5 1.7-2.7.5 2.2 1.6 1.6 1.1 1.6 1.6 2.7.5 2.7.8 1.6 1.9 2.7 1.1 1.1 1.6-.6 1.6.6 2.7-1.1 1.1-2.2 0M200.6 90.1l0 2.7M201.6 98.2l-3.7.3-2.2 2.7-2.7.2-13.9 0-1.7 1.6M177.4 103l-2.1 1.7-2.7.5-.5 2.1-3.8 0M201.6 98.7l-1 2.2-1.1 2.1-1.1 2.2-1.6 1.6-.5 2.2 2.1.2 5.4 0 .5-.8 1.1 1.1 2.7-.5 1.6-1.7 1.6-.5-1-2.1-2.7-.9-3.3-.2-.5-1.1-1.1.5 1.1-2.1.5-2.2M209.7 110.6l1.6 1.6 1.1-1.6-1.1-2.2M179.1 103l3.2-.5 3.2 0 2.2 1.1 2.1 1.6M173.7 106.3l1.6-1.6 2.7-.6 4.3.3 1.6.8-.5 1.6-2.2.5-2.7.6M172.1 107.3l.5 2.7 2.7.3.5 4 1.6 1.7 3.8.2 1.6-1.3-.5-2.2 1.1-2.1-.6-2.2M188.7 110.6l2.2-1.4 1.1.3M184.4 116l3.3 1 3.2-.5 2.1-.5 1.7-2.2M178 120l2.1-2.4 4.3.5M182.3 119.7l3.2-1.1M172.1 107.3l-1.7 2.2-1.6 2.1-1.6 1.1M170.4 111.1l-1.6 3.8-1.6 2.1-7 .3M162.4 117.6l.5 2.4M165.6 118.1l.5 1.9M172.1 97.9l1.3-1.6 1.3 1.6-1.3 2.4-1.3-2.4M178 88.2l1.3 1.9 1.9.8.5 1.6 1.1-1.8 2.2.8 1.9-1.1M180.7 89.1l1.6-.9 1.6.3M162.9 60.5l3.2 2.7 2.2 2.2 3.2.5 4.3 1.1 3.3.5 3.2 1.6 1.6-2.6-1.6-1.1M182.3 61.1l1.1 3.2M39.5 117l0 1.9-1 .5 0 5.7M38.5 125.3l0 6.2 1 .8 0 2.2 1.4 1.1 1.6 1.6.5 1.3 1.4.8 0 3 1.1 1.6.8 1.1 1 2.1 1.7 1.1 2.6 0 1.7 1.6 2.1 1.1.3 2.7.8.5 0 2.4 1.3 1.7 1.4 2.4 1.6 1.6 2.1 1.6.6 2.2-1.1 1.3-2.1 0M62.4 167.3l.3 1.9 1.9 1.1 2.1 1.6 1.9 1.9M43.6 136.1l1.9.5.2 1.1M43 137.4l1.1 1.1M38.5 125.3l31.4 0M48.4 125.6l0 8.9 3.2 1.1 1.7 2.9 1 1.6 2.7 1.6 2.2 1.1 1.6 2.2M63.8 125.6l0 15.1M63.8 140.7l-3 4.3 1.6 1.3.3 1.9 1.1.3-1.4 1.3-.5 1.6-1.6 1.6M55.7 153.6l4.6-.6M56.5 117l-1.1 1.6 1.1 1.1 0 5.6M64.6 117.5l2.1.8 3.8 0M70.5 118.3l0 10 9.5 0M75.6 128.6l0 27.4M64 140.4l16 0M61.3 154.1l3.8 0 3.2 2.4 9.2 0 .5-1 2 0M61.3 155.5l.3 4.5 1.3 1.7 2.2 1.6M61.9 155.5l2.7 1 2.1 3 .3 2.2.8 2.1 2.1 2.2 2.7 1.3-1 1.1 2.6 1.9.6 2.7 2.1.8M65.1 163.3l1.6 2.1 0 2.2 1.6 2.7 1.6 2.7.6.8M87.5 117l0 11.3M80 128.3l12.4 0M87.5 122.4l11.9 0 2.1.8 3.8.3 1.1 1.6.5 2.1 1.1 2.2 1.3 2.1.8 2.2.3 7M92.4 128.3l0 12.1M92.4 131.5l16.1 0M80 140.4l30.4 0M110.4 140.4l.3 1.9M90.8 140.7l0 14.8-10.8 0M92.1 142.3l5.1 0 .6 5.4 1.6.5 2.1 1.1 2.7.8 1.6-.3 2.7-.5 1.9 0M110.4 142.3l.8 2.7.3 2.1-1.1 2.2 1.3 2.7 0 2.7 1.1 2.1-.5 2.7.5 1.6M110.7 142.3l11.3 0M111.7 152.2l7 0M99.4 120.2l.2 1.9M106.4 117l0 4-1.1.6 1.6.8M106.4 121.2l11.3 0M114.4 117l2.2 2.2 2.1 2.1 1.1 2.2 1.6 1.6-.2 1.6-1.9 1.9-1.6 1M108 129.6l9.7 0M117.7 129.6l1 2.5 2.2 3.2 2.1 3.8 1.7 1.6M120.9 124.5l6.4 0M127.3 117l-.5 2.2.5 3.2 0 2.1 0 11.3-1 1.1.5 3.2-.5 3.3M124.7 140.7l-2.7 2.1-1.1 3.3-1.1 2.6-1.1 2.7.6 3.3-1.6 2.4 3.2.2 1.6.6.5 2.1M112.8 161.1l2.7 1.6 2.2-1 1.6 1.6 2.7-.6M123 160l2.7-.5 1.6 1.1M80 155.7l2.7 1.6 2.7 1.7 1.6 3.2 1.6 1.3 1.6-.2 1.1-1.6 3.2 0 1.6 3.2 2.7 2.7 0 2.1 1.6 1.6 2.7 1.1 1.6 1.1M104.7 173.5l-1.6-3.8.6-2.1 2.7-2.7 2.7-1.1 1-2.1 2.7-.6M125.7 147.1l0 12.4M122 146.1l13.4 0M122 142.3l4.8 0M126.3 140.9l29 0M132.2 146.3l1.1 4.1 1 3.7-.5 3.2M127.3 157.3l6.5 0M133.8 157.3l2.7 1.1 4.8.6 1.1-1.1M127.3 157.3l1.1 1.7 2.7 1 2.2 2.2 1-1.6 2.7-.6M137 160l1.6 2.7 1.1 2.7 0 2.2 1.6 2.1 1.1 3.8M142.4 159l1.1 3.7 1.1 2.7.5 3.2.5 2.2 0 2.7M148.3 170.3l3.8 0 1.6 1-1.6 1.1M135.4 146.1l2.7-1.1 5.4 0 3.2 1.1 2.7 3.2 2.2-.6M138.1 146.3l1.6 3 1.6 1.6 1.1 2.7 1.1 1.1M143.5 154.7l-1.1 3.2M155.3 145l-2.1 2.1-1.6 1.6-2.2 1.1-2.7 2.2-3.2 2.7M127.3 135.8l2.2 1.6 2.1-1 2.2-1.1 1.1-.5M134.9 126.7l0 8.1M127.9 126.7l11.3 0M134.9 134.8l4.3.5 1.6 1.6 1.1 1.6 2.7.6 2.1-2.2 2.2-2.7 1-1.1M140.8 135.3l2.1-2.2 3.3-.5M144.6 126.1l0 6 12.9 0M144.6 126.1l13.4-.5M158 125.6l1.1 1.6-1.6 2.2 1 2.7M139.2 140.7l2.7 1.6-1.1 1.1-3.8.5-2.1 2.2M149.9 133.1l1.1 1.7 3.2 1.6 1.1 2.1M156.4 145.5l1.6 0M130.6 117l0 8.6M136 120.2l3.2.6 1.1 1.6-1.7 2.1.6 2.2M138.1 117l-1.1 2.2M142.4 117l-.5 1.6M162.4 117.5l0 6.5-1.1 1.6 0 2.2M162.4 118.1l5.4-.6.5 3.8.5 2.7 1.1 1.6 1.1 1.1-1.6 1.1-3.3 0-1.6 1.8-3.7 0-.6 3M168.3 121.3l3.2-1.3 4.3-1.7 2.2-1.3M164 119.2l2.1.5-1.6 1.6-.5 1.6M162.9 124l4.3 0 .6 1.6M179.3 118.6l1.4 2.7 1.6 0 1.1-2.1 3.2-1.1 4.3-.6M118.2 20.4l5.7-.1M122.6 21.1l2.8 0M132.4 26l2.4-.3M137.5 8l5.9 1.9M134.3 21.8l2.6-.9M124.3 8.4l2.7-.5M84.4 18.1l3.8.9M123.5 22.4l4 .4M118.6 13.7l6 2.1M149.2 24l3.3-.6M105.1 8.7l5.1-.4M149.7 16.3l5.9 1.4M154.8 18.3l5.9-.4M87.8 22.1l5.2-.8M89 15l5.8 1M91.4 12.9l2.4-.7M145.8 11.3l4.2-.2M97.3 24.6l2.5.2M91.3 17.1l2.9-.5M106.3 28.2l2.9-.2M150.4 22.4l2.4.8M99.1 13.2l5.1-.6M105.7 8.8l2.4.1M101.4 21.4l3.5-.1M158.7 18.6l4.3 1.1M96.6 10.7l5.7 1.3M102 11.6l4.9 1.5M152.6 21.5l3.7-1M101.1 23.9l3 .7M129.7 14l2.7.5M126.7 27.5l4.5-.7M117.7 8.5l2.7-.3M127.8 10.2l3.4.9M137.3 21l2.6-.8M83.7 22.3l3.9.6M88 20.1l5 1.4M141 23.9l5.1 1.5M110.1 23.4l5.7 1.5M115.4 26l5.4.3M132 16.2l4.3.3M88.4 22.3l6 1.6M140.3 16.3l4.9.3M117.2 27.1l2.4.4M84.4 21.4l3.9-.7M137.9 18.9l4.4 1.3M106.1 23.3l2.8-.7M154.5 22.8l3.7 1.1M108.2 23l2.8-.2M152.4 16.2l4.4-.5M92.9 18.9l5.3 1.3M138.9 29.8l3.1-.7M118.1 13.6l2.8-.2M132.1 18.9l3.2.7M160.6 17.9l2.3-.8M138.7 20.7l3.2.7M118.4 7.6l5.3-1M132.3 17.7l4.6.5M136.8 11.8l3.9-.9M82.9 18.3l4.8-1.1M103.8 15.3l4.8.1M131.2 25.1l3.5.8M156.6 24.3l2.5 0M132 28.8l3.6.2M152.3 26.1l5.8-.1M134.1 11.9l4.9 1.1M133.3 24.2l2.9.8M125 26l3.2.9M150.5 15.4l2.3-.1M126 25.4l4-1.3M146 11.1l3.3.7M86.9 31l5.4.7M111 26.9l5.8-1.7M70.4 27.5l3.2.5M93.8 27.4l5.4.2M75.5 24.9l5.3 1.5M69.7 33.3l5.8.1M90.1 21.6l4.1 0M91.9 18.5l5.9.1M80.4 32.4l4.3 0M96.7 19.2l4.2-.3M73.1 26.5l2.5-.1M84.7 23.7l2.8.2M68.9 22.1l4.7-.6M77.9 29.2l2.4.3M64.9 27.2l3-.6M87.7 25.9l3.5-.3M87.6 20.9l2.9.2M93.8 27.5l5.4.5M106 22.2l4.9 1.1M108.5 23.7l3.3 1M71.4 31.1l3-.9M104.6 25.6l5.2-1.4M134.2 33l2-.5M150.9 36.6l5.9-1.6M140.3 34.1l4.1.6M143.1 30.2l4.3-1M121.1 25.3l5.3 1.8M137.7 34.2l3.3 0M140.9 28.9l4.4-1.5M152.1 35.5l2.7-.1M154.4 28.5l2.7-.7M140.8 22.2l5.5 1.2M152.3 35.8l4.5-.3M146 30.1l5.9 1.2M125.5 36.6l5 .9M158.9 28.5l5.6 1.5M151.7 34.3l5-.4M153.4 23.1l3.3 0M148.3 32l3 .9M150 27.4l4.6.2M142 28.2l6 .6M152.1 34.2l5.9-2M146.9 33.8l3.1-.2M132.5 23.6l3 .8M143 30.1l5.9.3M145.9 34.1l2.1.7M119.6 29.5l2.7 0M171.3 36.5l5.8-.3M167.3 50.5l3.4-.5M173.4 49.6l3.2.5M149.5 54.6l3.6 1M162.6 47.4l5.9-1M167.1 59.4l4.9-.1M171 38l4.5-.1M167.3 38.2l3.8.5M163.9 41.8l4.3-.2M179.3 48.8l6 1.9M177.2 41.2l2.5.7M179.6 51.2l3.5-.5M174.9 49.7l4.3.4M178.2 39.9l3 1M155 46.1l4.5-1.3M168 36.9l2.3.3M168.4 51.4l3.5 0M152.1 43.9l5 1.2M180.8 51.2l5.1-1M162.4 41.7l5.2-.5M157.6 49.3l5 1.4M162.5 44.6l2.4.6M169.1 47.6l4.7-.7M152.2 52.2l2.4-.3M176.8 53l3.1-.7M159.2 53.9l3.4-1M176 49.8l5.7 1.7M185.8 46.4l5.3-.7M157.2 45.4l5.8 1.6M153.9 44.4l3.5-.3M161 45.1l2.8.1M180.3 49.1l5.3.2M150.5 54.7l5.5-.8M143.1 48.4l4.1.2M163.1 44.4l5.2-1.6M151.3 46.6l2.3-.7M156.6 48.4l2.4.2M140 45.9l4.6-.8M142.2 46.2l4.1.8M147 39.4l5.9.7M149.8 42.6l4.9.7M161.6 40.6l5.3.6M159.9 46.9l5.3 1.4M162.8 44.2l4.1.6M158.5 40.7l3.6-.9M146.5 36.7l2.8-.2M86.8 40.9l2.4.3M132.7 38.9l2.2-.1M120.4 50.5l2.1-.5M94.8 39.5l3 .4M121.1 39.6l2.7-.4M94 48.1l3.3.1M135.3 43.7l3 .8M141.5 41.5l4.2 1.3M113.9 39.5l2.2.7M134.3 42.2l4.1 0M125.1 39.8l2 0M106.8 48.7l4.8.4M93.1 38.5l3.3-.5M138.6 44.3l4.6 1.5M100.1 44.6l2.6.4M137.2 49.2l2.3-.4M128.9 37.6l3.9-.1M144.2 45.4l5.4-.8M133.5 42.7l5.7-1.7M135.9 39.3l4.2.1M93.1 49.3l3.2-.4M87.9 40.9l3.8.6M106 47l2.4-.2M112.6 51.5l5.3.5M128.4 39.8l4.3-.1M134.2 39.3l4.4-.6M107.1 44.6l3.2-.3M108.1 46.7l3-.7M129.8 41.3l5.8.2M129.3 41.3l5.3-1.5M12.4 79l1.9 2.6M12.8 81.4l2.5 2.6M10.2 77.9l1.7.6M22.1 87.4l3 2.3M23.9 92.9l1.7 3M20.5 87.7l2.4.6M19.8 89.6l2 3.3M29.4 97.5l1.3.9M17.8 87.5l1.5 1M23.4 93.4l2.4 2.6M10.8 82.1l2.7 2.6M18.7 87.3l1.1 1.5M41.5 107.6l1.6 2.9M11.6 84l2.8 1.2M9.8 77.7l1.8 2.4M16.4 88.1l1.9 1.6M8.9 81.7l.8 1.7M25.4 93.6l2.5 1.4M37.1 106.9l2.4 2.6M9.3 81.1l1 2M14.4 84l3.3 1.4M27.1 91.9l1.5.7M40.1 109.2l2.7 1.6M29.4 98.4l1.7 1.8M36.5 99.9l1.6 1.3M11.5 80.2l2.7 1.1M25.5 91.7l2.5 1.6M30.6 94.8l3 1.2M40.2 107.1l2.2 1.6M27.8 96.7l1.9 2.8M21.8 93.4l1.7 3.2M20.9 88.8l1.3 2.7M24.9 92.9l1.1 2.4M19 84.6l1.4 3M32 99.8l2.9 1.7M28.8 93.4l1.4 1.1M24.4 91.7l1 1.3M25.8 91.9l1.9 1.3M15.9 81.9l1.4 3.5M28.7 98.7l1.4 2.2M13.2 84l1.2 2.7M8.6 80.2l1.3 1.3M41.9 104.6l1.8 1M19.1 84.8l1.9 3.2M20.8 88.2l2.8.8M5.8 78.5l1.7 1.5M38 107.7l2.5 1.1M15.2 87l3.4 1.6M36.6 102.3l2.5 1M36 106l1.3 1.5M11.6 83.5l1.6.6M32.7 98.5l1.8 3.4M32.9 97.5l1.3 2.9M23.4 88.7l1.8 1M32.6 97.6l1.7.9M29 98.4l1.5 1.8M37.5 104.6l1.8 1.1M38.8 106.3l1.4 1.7M7.6 80.7l1.9 1.8M26.6 91.3l2.6 1.5M210.7 42.2l.5 1.6M215 54l.1 2.2M210 40.7l2.1 3.4M211.4 47.2l-.8 2.3M214.9 47.8l-.2 2.9M211.8 44.7l.2 3.5M210.9 48.3l.2 3.2M215.9 58.7l1.4 3.1M214.8 50.5l-.5 2.5M211.8 55l.2 2.1M212 41.3l1.4 2.4M211.9 50.4l-.8 2.8M214.4 40.1l.2 1.6M213.2 46.4l-.4 2.1M209.7 37.9l.1 3M215.1 54.9l.6 1.8M213.2 36.9l.2 3.1M212 42.4l-.4 1.7M213.8 40l-.2 1.9M211.9 56.1l.3 1.6M214.4 44.6l2 3.4M211.4 47.9l1.7 3.6M211.4 47l.6 1.6M215.9 57.2l.7 2.4M215.4 46l-.7 1.4M212.1 54.4l.7 2M214.6 49.1l-.9 2.5M213.7 44.7l-.1 3.9M212.7 36.9l1.5 2.7M211.5 44.3l0 3.7M195 113.2l1.5 1.9M189.1 111.5l1.9.8M187.7 109.3l1.9.5M188.2 109.1l2 1.1M195.5 114.7l3.5.9M190.9 108.5l3 1.2M190 107.6l1.8.6M188.8 112.2l3.2 1M190.5 108.7l3.5 1.5M193.1 113.6l3.7.2"/>
<path class="cl" stroke-width="1.6" d="M55.4 42.8l14.5.5M56 25.3l3.2-2.2M62.4 29.6l3.2.8M37.7 54.9l5.3.2M142.4 6.2l17.6 0M124.7 11.6l16.1 0M141.9 12.6l12.9-.5M108 13.4l4.3-1M124.1 13.4l17.2.6 5.4 1.6M85.9 18.3l2.2 1.1M97.2 14.5l3.2.8M105.8 22.1l8.6 0M113.4 16.4l6.9.5M128.4 16.1l5.4-.5 8.6 2.7M127.3 19.4l13 1M151.6 18.3l8.4-1.1M83.2 21.8l2.7 1.3M87 24.7l3.8 2.2 3.2-1.1M96.1 28.5l6.5.8M105.3 29.6l8.6 1.1M117.7 25.3l6.4 1.1M85.9 40.3l2.2 1.7M121.4 39.5l4.3 1.9 4.3 1.1M143.5 36.6l8.6.5M144.6 35l6.4.5M155.3 37.1l4.7 2.7M138.1 43.8l9.1.6M130.6 54.9l7.5 2.1M89.1 45.2l6-1.6M123 57l6.5 1.6M164.5 5.6l5.9.3M173.1 7l4.9.3M175.8 12.9l4.3 1.6M165.1 14.8l3.2-.8M168.8 24.2l5.4.3M201.6 31.7l3.8.6M214.6 47.3l2.1-1M213.5 50.6l3.2 0M176.9 49.5l8.1 2.1M160.2 49l2.7 1M180.1 55.4l4.3 2.2M165.6 58.6l3.8.6M23.1 86.9l.6 5.4M76.9 109.2l3.1 0M54.9 70l3.7.1M112.8 61.6l2.2.8M113.4 67l2.1-.3M141.3 93.9l3.3.3M137 66.2l2.2-.3M80 75.5l3 0M88.1 91.2l1 1.3M80 108.7l1.6-.3 1.1 1.4M89.4 108.2l1.1-.9 1.1 1.7 2.9.2M95.3 112.2l1.4 1.1-.6 2.7-.8 2.1M153.2 110.6l1.3-1.4 1.4 1.4-2.7 0M151 119.7l4.3-1.6 4.7-.8M167.2 73.4l4.3 0M169.4 76.1l2.1 0M171 79.4l2.7-.3M185 74.5l2.7 3.3M160.2 102.5l.3-2.7 1.3-1.3 2.2-.3-1.6 1.6-1.6 2.7M181.2 90.1l1.1 2.2M164.5 62.2l3.8 3.2M179.6 68.1l3.8.5M174.2 72.6l1.6-1.3M45.5 143.4l.8 1.6M66.7 126.1l0 2.5 1.1 1 1.1-1.3M69.9 139.9l2.7-2.7M95.1 118.3l1-1.3M161.8 126.7l2.7-.6 2.2.6"/>
<path class="cl" stroke-width="2" d="M117.7 10.5l8 0M131.6 33.4l5.4 2.1-3.2 2.2 1.1 3.2M103.1 49.5l4.9 3.2M172.1 10.8l12.3.5M164.5 21.5l14.6 1.6M210.8 38.7l5.4 2.2M210.3 49.5l6.4-1.1M210.8 51.6l1.6 5.4M210.8 53.8l3.8 5.4M160.2 40.1l5.9 1.3M5.4 76.1l4.3 2.2 2.1 3.2 4.3 3.8 2.2 2.1M10.8 74.5l4.3 4.3 3.2 3.8M26.9 92.3l3.2 4.3 2.2 3.2 5.4 3.2 3.2 2.7M41.4 109.8l2.2 0M69.4 65.9l4.8-1.1M69.9 76.9l1.7-.2M146.7 84.2l2.7-.5M149.4 76.9l1.1 0M149.9 60.5l4.3 0M149.4 63.8l3.2-1.1 1.6-1.1M133.3 111.6l3.7 2.2M136 114.3l3.2 1.1M116.6 111.6l1.1.6M192.5 91.7l3.2-1 4.3-1.1M204.3 111.1l2.7-.5 2.7-2.2 1.6-2.1M186.6 103l3.2 1.9M179.1 107.6l3.2-.3M168.3 107.9l3.2.5M167.2 111.6l1.1.6M160.2 60.8l2.2-.3M172.6 62.7l5.4 1.6M62.4 141.2l1.1 2.2M61.3 152.5l1.1.5M64.6 162.7l1 1.6M123.6 140.1l2.1.6M120.3 159.5l2.7.5M122.5 162.7l1.1.3M109.1 161.7l1.6.5M143.5 169.7l2.7.6M152.1 133.7l4.8 0M138.6 125.1l4.3 1M139.7 120.2l1.1 2.2M162.4 127.8l2.7-1.1M187.7 117.5l3.2 0"/>
<path class="cl" stroke-width="2.6" d="M171.5 43.6l5.4 2.1M96.1 92.3l2.2 1.1M109.3 103.6l2.4 2.1M183.9 111.6l3.8 2.2 3.2 1.6M192.5 112.2l1.1 2.1M213.5 60.5l3.2 2.7M154.2 134.8l2.2 3.7M154.8 138.5l1.6 7M142.9 125.1l3.8-2.7 8.1-2.2 5.2-2.1M160 120.2l2.4-1"/>
<rect class="fr" x="0" y="0" width="219" height="175"/>
<path class="tk" d="M-5.5 160.3H-1M-5.5 131.3H-1M-5.5 102.2H-1M-5.5 73.2H-1M-5.5 44.1H-1M-5.5 15.1H-1M0.3 176V181.2M48.9 176V181.2M97.4 176V181.2M146 176V181.2M194.5 176V181.2"/>
</g>
<text class="s" x="964.2" y="850.1" font-size="16.72" fill="#000" textLength="27.8" lengthAdjust="spacingAndGlyphs">30N</text>
<text class="s" x="964.2" y="820.9" font-size="16.72" fill="#000" textLength="27.8" lengthAdjust="spacingAndGlyphs">40N</text>
<text class="s" x="964.2" y="791.6" font-size="16.72" fill="#000" textLength="27.8" lengthAdjust="spacingAndGlyphs">50N</text>
<text class="s" x="964.2" y="762.4" font-size="16.72" fill="#000" textLength="27.8" lengthAdjust="spacingAndGlyphs">60N</text>
<text class="s" x="964.2" y="733.1" font-size="16.72" fill="#000" textLength="27.8" lengthAdjust="spacingAndGlyphs">70N</text>
<text class="s" x="964.2" y="703.9" font-size="16.72" fill="#000" textLength="27.8" lengthAdjust="spacingAndGlyphs">80N</text>
<text class="s" x="983.8" y="877.7" font-size="16.28" fill="#000" textLength="36.6" lengthAdjust="spacingAndGlyphs">140W</text>
<text class="s" x="1032.3" y="877.7" font-size="16.28" fill="#000" textLength="36.6" lengthAdjust="spacingAndGlyphs">120W</text>
<text class="s" x="1080.9" y="877.7" font-size="16.28" fill="#000" textLength="36.6" lengthAdjust="spacingAndGlyphs">100W</text>
<text class="s" x="1133.5" y="877.7" font-size="16.28" fill="#000" textLength="28.4" lengthAdjust="spacingAndGlyphs">80W</text>
<text class="s" x="1182.1" y="877.7" font-size="16.28" fill="#000" textLength="28.4" lengthAdjust="spacingAndGlyphs">60W</text>
<g transform="translate(1001,928)">
<g class="c"><rect x="94" y="141" width="13" height="9" fill="#ffa000"/><rect x="215" y="141" width="3" height="9" fill="#ff6000"/><rect x="82" y="134" width="25" height="9" fill="#ffa000"/><rect x="82" y="127" width="25" height="9" fill="#ffa000"/><rect x="100" y="119" width="19" height="10" fill="#ffa000"/><rect x="100" y="112" width="25" height="9" fill="#ffa000"/></g>
<path class="cl" stroke-width="1" d="M.8 45.1l2.2 0 1 1.1 1.6.2.9 1.1 3.5 0 .8-1.2.8 2.4 1-3.2.8 3.2 1.1-3.2 1.6.8 1.4 2.4 1.9-3 .2-1.2 1.9.2.8 1.7 1.4-2.8 2.1-.3.6 1.1 2.1 0 1.9-2 1.1 1.2.8 1.9 2.7.2.5.8 1.6-2.1 1.6 2 1.6.1 1.4-2 4-.1.8 1.1 1.9.1 1.1.8 3.2 0 .8 1.1 3.5 0 .8-1.1 5.7 0 .8 2 .8.6 7 0 1.1.5 2.1-.8 1.1-1.1 3.6 0M59.2 50.6l2.7-1.9.5 1.6 11.8 0 2.2 1.1 2.1 2.9 1.5.3M34.4 38.3l1.1-1.2 2.2-2.7 1.8-.9-1.8-1 .8-1.3 16.4 0 .5 1 2.4.3 1.4 1.4-2.2 1.3-3.2.6-2.2 1.2-3.2.4-1.1 2.1-.8 1-6.2 0-.8-.8-2.4-.3-1.3-1.1-1.4 0M51.1 37.1l1.6 2.7 1.1 1.6 1.6.6 1.1 2.7 1.3 1.6M51.6 37.1l2.2-1.6 3.2-1.1 2.2-.8 4.3.8 1.1 1.1-3.3 1.1 3.3-.3M52.2 39l7 1.1 1.6-.8M64.6 35.5l3.2.3 1.6 1.3 2.2-.5 1.6-1.1 1.6 1.1 2.1-.6 1.1 1.7-.5 1.6 2.5-1.6M76.9 34.4l3.1-.5M41.2 26.4l1.3-1.1 3.8 0 .8-1 1.9 0 1.3-2.1 9.4 0 0 1.5-1.6 1.3 6.5-.5-3.8 1.3-.5 2.7-4.9.8 1.1-2.4-2.7 1.1-1.3.5-.9-1.3-3.2.2-1.1-1.3-6.1.3M51.9 26.4l1.4-1.5 1 1.2-1.3 1.3-1.1-1M61.3 21.5l1.1-1.1 1.1.9 2.7.9 6.4 0 .6-1.5 1.6-1.3-2.7-1.1-2.2.5-4.8.5 1.6.9 3.2.1M60.8 25.3l3.8 1.1 4.8.2 1.6 1.4 1.1-1.4 2.1-2.1 2.7 0 3.1 2.9M71 28l0 1.9 3.8.5 5.2-1.1M61.9 29.3l1.6 1.9 6.4 0 0-1.1M35 53.4l1.9 0M36 55.4l2.7-1.1 4.9.1 1.1-1.1 3.2 0 1.1-1.1 1.6 1.1 4 1 0 2.2-.8 1.1-1.1-1.4-2.7-.2-.5 1.8-2.7.6-1.1 1.3M40.1 58.4l2.4-.3.5-2.1 2.7-.6-1 1.6 3.2-.5 1.1-2.7 2.6 1.6M139.2 8.1l4.3-.6 4.3 1.4-4.3.5M117.7 9.7l8.6-.6 7.5-1.6 5.4.6M149.9 11.3l4.3-.5M105.3 15.6l2.7-2.7 3.2-1.3 6.5-1.9M112.3 14l2.7-1.9 3.7-.5 2.2 1M83.2 17.2l3.8-1.1 5.4 1.4 5.4 1.1 1.6 2.4-8.1.3-4.3-1.4-1.6-1.9-2.2-.8M101.5 18.6l3.2-.3 4.4 1.6 5.3.8M112.3 16.1l8.6 1.1 1.1 1.6-7-.2-2.7-2.5M130.6 17.8l8.6 0M149.4 17.2l10.6-1.6M149.9 20.4l5.4 1.1 4.7-3.7M82.2 21.5l4.3 2.2M120.9 21.5l6.4 1.1M119.8 20.4l6.5-2.6M94 24.7l7.5-.5 2.2 2.7-1.1 2.4-6.5 0-2.1-2.4M80 27.4l3.8-.5-.6 2.2-3.2.5M85.4 29.6l3.2-1.6M105.3 24.2l2.7.5 2.1 2.2 2.2 1.1M106.9 28l5.4.5M113.4 24.7l4.3 1.1 6.4 2.2M123 23.7l5.4 1 5.4-.5 7.5 1.1 3.3-.6M124.1 27.4l7 .6 15.1-1.1 2.7-1.1 1-2.7-8.6-.5M115.5 26.9l1.1 2.7 5.4 1.1 8.6.2 3.2-.8 6.5 1.1 7.5-.5-1.1-1.6-2.1 1M141.3 22.6l10.3.5-1.1 2.2M107.4 33.4l1.7-1.1 12.9 0-4.3 3.2-5.4 1.1M107.4 33.4l1.1 3.2 1.6 2.1 4.3 2.2 3.3 2.1M80 33.9l7-.3-1.1 1.4-2.7-.6 2.2 3.3 1.6 3.2 1.6 1.6 9.2 0M90.2 36.6l2.7-2.7 4.3-1.6 6.5 0 1.6 2.1 1.6 2.7-1.6 2.2-4.9 1-2.6-2.1-3.8-1.1-3.8-.5M101.5 35l2.7 1.6-.5 1.1M121.4 38.7l1.1-3.7 2.2-1.6 5.3-.6 1.6 2.7-1 4.3M130 30.1l1.1 12.9M136.5 33.4l15.1-.3 3.7 1.9 4.7 3.7M104.7 42l4.4-2.7M115 42l3.7 1.6-1 1.6 4.3 4.3 1-2.2 3.3-.5 1 3.8 2.2 2.1 2.1-2.1 1.1-3.3-1.1-3.2 6.5-.5 9.7.5 1.1-2.1 1 2.1 5.4 1.1 4.7 3.2M139.2 45.7l3.2 1.1-2.1 2.7 2.6 2.1-2.6 2.2-5.4-1.1-5.4 2.2 2.1 3.2 4.4-2.1 3.2 2.1M80 45.7l3.2 1.1 1.6 1.6 4.3 2.2 12.4 0 2.2 1 2.1-1 3.3 3.7 0-5.9 4.3-.5-1.1-2.2-5.4-1-3.8 0-3.2 2.6-1.6 0M90.8 44.7l1.6 3.7M95.1 47.3l1.6 0M118.2 55.4l3.8 1.1 3.2 1.6 4.3 1.1M146.7 47.3l2.7-2.6 0 3.2M152.1 51.6l3.2-2.1 4.7 1.1M152.1 51.6l3.2 1.7M149.9 59.2l2.7-1.1 7.4-.5M160.2 6.5l3.2 0 1.1-1.1 6.5 0 .5 1.1 13.5-.2 5.9 1 1.6 2.1 5.4.3.5-1.1 15.1 0 3.2.3M198.4 10.2l4.3.3M209.2 10.5l1.6-1.1M184.4 10l6.5-.3 2.1 1.9-5.3.5-2.2-.8M160.2 16.1l3.8-.5 6.4-3.8 2.2-1.3M163.4 20.4l2.2-1 7-.8 1.1-1.1 8.6-.3 0-1.6-1.6-.8 4.8-.5M173.1 26.4l6 0 1-1.1 1.1 1.1 3.8-.3 1-.8 1.1 1.3 1.1-1.3 1.1 1.1 6.4 0 1.1 1 2.2.3 2.6 3 3.3 1 1.1 3.3 1.6.5-2.2 1.6 0 3.2 1.6.6 2.2-2.2 1.6-1 4.8 2.1M207.6 39.8l2.1.5-.5 2.2 5.4 0-2.7 2.2-4.9 0 1.1 1.6 2.7 0M160.2 39l4.9.8 3.7 1.6 3.3 1.1M173.7 48.4l4.3 1.1 4.3.5 4.3 2.2 3.7 1.1.6 1-3.2 2.7-2.7 2.2M160.2 47.9l2.2.5 2.1 3.2 3.3 2.2 3.7 1.1M159.7 56.5l2.7-3.2 2.1-.6M166.1 52.7l2.2-.5 3.2 1.6 1.1 1.1-3.8.5M174.2 54.9l3.8 0 4.3 0 2.7 2.1M175.3 56l1.6 2.1 3.2.5M.8 72.4l1.9.2 2.1 2.5 4.3.2 2.2-1.9 1.6 1.1 3.2 3.3 2.7 3.7 3.8 1.6 2.7 2.7.5 3.3-1.1 1 2.2 1.6 2.2-.5 2.1 3.2 1.6 2.7-.5 1.6 3.2 1.1 2.2 1.1 2.1 1.6 2.2 2.7.5 2.1M28 100.3l3.2 2.7 3.2 1.7 2.7 1.6.6 2.1M17.2 90.7l3.2-.3-1.6 1.9 2.7 4.3M17.2 90.7l0 2.7 2.2.5M16.1 72.1l2.7 1.1M37.7 108.4l1 3.2.6 2.2.5 3.2-1.1 3M37.7 113.3l3.7 0 1.1 1.6 5.4.2 1.1-1 7.2 0M42.5 105.5l37.5 0M56.2 105.5l0 8.6 1.4 1.3-2.2 3.2.6 1.4M57.8 105.7l.8 3.3 3.3 2.6 1 3.3 2.2 2.7 1.6.8 3.2 0 1.1-1.4 9 0M71 117l0 3M37.1 82.1l1.6 2.1 2.7 1.6 1.6-1.3 1.1 1.1M41.4 85.8l0 1.9M51.1 94.2l.5 1.6 3.3 1.6M54.9 100.1l-1.6 1.9 1 1-1 1.7 0 2.9M49 69.6l4.3-.2.5-.8 1.6 1.4 3.2 0 1.1-1.9-.5-2.7 1.6 1.3 2.7-.2 1.1 1 3.2 0 1.6-2.1 2.7-1.1 3.8 1.1M59.2 71.3l1.1-1.3 4.3.2 2.6-1.6 1.1-1.1M69.9 77.2l2.2-1.6 2.1-1.3 2.7 0 3.1 1M72.1 76.1l3.2.3 4.7-.5M112.3 61.3l2.7 1.1 4.3.3 2.1-1.4 6.5-.2M120.3 62.7l-.5 1.6-2.1 1.1-3.3 1.6-2.1 1.6-1.9 3 0 4.5-1.3.3M110.4 76.1l1.3 1.4 2.7 0 1.1 1.3 0 3.3-1.1.2M115.5 82.1l1.6-.6 3.2 0 1.1.8 3.3 0 1 1.1 1.6 1.6 3.3.3 2.1 2.1 8.1.3 0 5.7 1.1 2.1 2.7 1.6-.3 2.2 1.3-1.6 1.6 2.6 1.1-1.6 1.1-1-.5-1.7.5-1-.5-4.9-1.7-1-.5-.9 2.7 0 2.7-1.3 2.1-1.6.6-3.2-1.1-2.7-1.6-.8-2.2-1.4 1.7-1.6 0-2.2 2.1 0M151.6 73.4l0-1.8-2.2 0M151.6 71.6l0-3.5-1.1-.8 1.6-1.9 2.1.5 3.8.3 1.1 1.1.9-1.9M129.5 60l.5 2.2 2.2.5 1.6 1.6 1.6-1.6 2.7-1.1 6.5 0 1 .8-3.2.8-1.6-1M136.5 65.9l1.6-1.3 1.6.8 1.1-1.1.5 1.1-4.8 1.1M145.4 67.5l1-1 1.1 1-1.1 1.1-1-1.1M92.1 64.6l1.3-1.1 2.2 0 0 1.3-1.6.8-1.6-.2-.3-.8M89.1 84.2l1.1-2.7 1.1-1.9 2.1-1 .3 1.8-1.1 2.2-1.8 1.1-1.7.5M105.3 84.5l1.6 1.1 1.1-1.1M109.3 84.5l1.4-1.4M95.3 92.8l.8-2.1 1.7-.3 1 1.3 2.7 0 1.6-2.6 1.1-1.1 1.6.5M103.1 89.1l-.5 2.1 1.1 1.6 1 1.6.3 3.3 1.9 1-.3 1.6-1.9.6-.2-3.2M97.2 94.4l.6 2.7 2.1 1.6 1.1 2.2 1.6.5M98.3 93.4l3.2 1 2.2 1.1M99.9 92.3l1.6 2.7 1.6 2.7M80 105.5l29.3 0M111.7 106l3.3.8 2.7.8 2.1.3M119.8 107.9l3.2-1.1 2.7-.5 1.1-1.6-1.3-1.7M124.4 102.8l1.1-1.4 1.3 1.4-1.3 1-1.1-1M126.8 104.7l2.7 1 1.1 1.1 3.2 1.1 1.1 1.1.5 2.6-1.1 1.7M125.7 106.3l1.6 1.6 1.1 2.1 3.2.6 2.2 1M119.8 107.9l-.5 2.1 1.6 1.6 2.1 1.1 2.7.6 2.7 1 2.2-.5 3.2-.5 2.2.5 3.2-.5 5.4.5 1.6 1.6.5 2.2-2.1 1M122 111.1l3.7-.3 1.1-1.3M128.4 111.6l5.4-1.6M119.3 110l-2.2 1.6-.5 2.2-1.6 1.6-.6 1.6 1.1 1.6.5 1.4M127.3 116l1.1 1-1.1 3M130.6 114.9l-.6 5.1M137 116l1.6 1-.5 3M140.3 115.4l.5 4.6M143.5 114.9l2.1 2.1-1 1.6M87.3 105.5l0 14.5M80 116.9l7.3 0M87.3 114.3l18 0M104.5 105.5l.8 2.9.5 5.9 1.1 2.2 0 3.5M160.2 65.5l2.7 1.5 1.1 1.3 2.1.3 1.1 1.6 4.3 0 .3 3.8 1.3 1.3 1.6 2.5 1.1 1.3 1.1-.8 3.2-1.1 1.1-2.1 1.1-2.2 2.1-.3 1.1 2.5 2.2 2.1 1.6 2.2 1.6 1 .5 1.7-2.7.5 2.2 1.6 1.6 1.1 1.6 1.6 2.7.5 2.7.8 1.6 1.9 2.7 1.1 1.1 1.6-.6 1.6.6 2.7-1.1 1.1-2.2 0M200.6 90.1l0 2.7M201.6 98.2l-3.7.3-2.2 2.7-2.7.2-13.9 0-1.7 1.6M177.4 103l-2.1 1.7-2.7.5-.5 2.1-3.8 0M201.6 98.7l-1 2.2-1.1 2.1-1.1 2.2-1.6 1.6-.5 2.2 2.1.2 5.4 0 .5-.8 1.1 1.1 2.7-.5 1.6-1.7 1.6-.5-1-2.1-2.7-.9-3.3-.2-.5-1.1-1.1.5 1.1-2.1.5-2.2M209.7 110.6l1.6 1.6 1.1-1.6-1.1-2.2M179.1 103l3.2-.5 3.2 0 2.2 1.1 2.1 1.6M173.7 106.3l1.6-1.6 2.7-.6 4.3.3 1.6.8-.5 1.6-2.2.5-2.7.6M172.1 107.3l.5 2.7 2.7.3.5 4 1.6 1.7 3.8.2 1.6-1.3-.5-2.2 1.1-2.1-.6-2.2M188.7 110.6l2.2-1.4 1.1.3M184.4 116l3.3 1 3.2-.5 2.1-.5 1.7-2.2M178 120l2.1-2.4 4.3.5M182.3 119.7l3.2-1.1M172.1 107.3l-1.7 2.2-1.6 2.1-1.6 1.1M170.4 111.1l-1.6 3.8-1.6 2.1-7 .3M162.4 117.6l.5 2.4M165.6 118.1l.5 1.9M172.1 97.9l1.3-1.6 1.3 1.6-1.3 2.4-1.3-2.4M178 88.2l1.3 1.9 1.9.8.5 1.6 1.1-1.8 2.2.8 1.9-1.1M180.7 89.1l1.6-.9 1.6.3M162.9 60.5l3.2 2.7 2.2 2.2 3.2.5 4.3 1.1 3.3.5 3.2 1.6 1.6-2.6-1.6-1.1M182.3 61.1l1.1 3.2M39.5 117l0 1.9-1 .5 0 5.7M38.5 125.3l0 6.2 1 .8 0 2.2 1.4 1.1 1.6 1.6.5 1.3 1.4.8 0 3 1.1 1.6.8 1.1 1 2.1 1.7 1.1 2.6 0 1.7 1.6 2.1 1.1.3 2.7.8.5 0 2.4 1.3 1.7 1.4 2.4 1.6 1.6 2.1 1.6.6 2.2-1.1 1.3-2.1 0M62.4 167.3l.3 1.9 1.9 1.1 2.1 1.6 1.9 1.9M43.6 136.1l1.9.5.2 1.1M43 137.4l1.1 1.1M38.5 125.3l31.4 0M48.4 125.6l0 8.9 3.2 1.1 1.7 2.9 1 1.6 2.7 1.6 2.2 1.1 1.6 2.2M63.8 125.6l0 15.1M63.8 140.7l-3 4.3 1.6 1.3.3 1.9 1.1.3-1.4 1.3-.5 1.6-1.6 1.6M55.7 153.6l4.6-.6M56.5 117l-1.1 1.6 1.1 1.1 0 5.6M64.6 117.5l2.1.8 3.8 0M70.5 118.3l0 10 9.5 0M75.6 128.6l0 27.4M64 140.4l16 0M61.3 154.1l3.8 0 3.2 2.4 9.2 0 .5-1 2 0M61.3 155.5l.3 4.5 1.3 1.7 2.2 1.6M61.9 155.5l2.7 1 2.1 3 .3 2.2.8 2.1 2.1 2.2 2.7 1.3-1 1.1 2.6 1.9.6 2.7 2.1.8M65.1 163.3l1.6 2.1 0 2.2 1.6 2.7 1.6 2.7.6.8M87.5 117l0 11.3M80 128.3l12.4 0M87.5 122.4l11.9 0 2.1.8 3.8.3 1.1 1.6.5 2.1 1.1 2.2 1.3 2.1.8 2.2.3 7M92.4 128.3l0 12.1M92.4 131.5l16.1 0M80 140.4l30.4 0M110.4 140.4l.3 1.9M90.8 140.7l0 14.8-10.8 0M92.1 142.3l5.1 0 .6 5.4 1.6.5 2.1 1.1 2.7.8 1.6-.3 2.7-.5 1.9 0M110.4 142.3l.8 2.7.3 2.1-1.1 2.2 1.3 2.7 0 2.7 1.1 2.1-.5 2.7.5 1.6M110.7 142.3l11.3 0M111.7 152.2l7 0M99.4 120.2l.2 1.9M106.4 117l0 4-1.1.6 1.6.8M106.4 121.2l11.3 0M114.4 117l2.2 2.2 2.1 2.1 1.1 2.2 1.6 1.6-.2 1.6-1.9 1.9-1.6 1M108 129.6l9.7 0M117.7 129.6l1 2.5 2.2 3.2 2.1 3.8 1.7 1.6M120.9 124.5l6.4 0M127.3 117l-.5 2.2.5 3.2 0 2.1 0 11.3-1 1.1.5 3.2-.5 3.3M124.7 140.7l-2.7 2.1-1.1 3.3-1.1 2.6-1.1 2.7.6 3.3-1.6 2.4 3.2.2 1.6.6.5 2.1M112.8 161.1l2.7 1.6 2.2-1 1.6 1.6 2.7-.6M123 160l2.7-.5 1.6 1.1M80 155.7l2.7 1.6 2.7 1.7 1.6 3.2 1.6 1.3 1.6-.2 1.1-1.6 3.2 0 1.6 3.2 2.7 2.7 0 2.1 1.6 1.6 2.7 1.1 1.6 1.1M104.7 173.5l-1.6-3.8.6-2.1 2.7-2.7 2.7-1.1 1-2.1 2.7-.6M125.7 147.1l0 12.4M122 146.1l13.4 0M122 142.3l4.8 0M126.3 140.9l29 0M132.2 146.3l1.1 4.1 1 3.7-.5 3.2M127.3 157.3l6.5 0M133.8 157.3l2.7 1.1 4.8.6 1.1-1.1M127.3 157.3l1.1 1.7 2.7 1 2.2 2.2 1-1.6 2.7-.6M137 160l1.6 2.7 1.1 2.7 0 2.2 1.6 2.1 1.1 3.8M142.4 159l1.1 3.7 1.1 2.7.5 3.2.5 2.2 0 2.7M148.3 170.3l3.8 0 1.6 1-1.6 1.1M135.4 146.1l2.7-1.1 5.4 0 3.2 1.1 2.7 3.2 2.2-.6M138.1 146.3l1.6 3 1.6 1.6 1.1 2.7 1.1 1.1M143.5 154.7l-1.1 3.2M155.3 145l-2.1 2.1-1.6 1.6-2.2 1.1-2.7 2.2-3.2 2.7M127.3 135.8l2.2 1.6 2.1-1 2.2-1.1 1.1-.5M134.9 126.7l0 8.1M127.9 126.7l11.3 0M134.9 134.8l4.3.5 1.6 1.6 1.1 1.6 2.7.6 2.1-2.2 2.2-2.7 1-1.1M140.8 135.3l2.1-2.2 3.3-.5M144.6 126.1l0 6 12.9 0M144.6 126.1l13.4-.5M158 125.6l1.1 1.6-1.6 2.2 1 2.7M139.2 140.7l2.7 1.6-1.1 1.1-3.8.5-2.1 2.2M149.9 133.1l1.1 1.7 3.2 1.6 1.1 2.1M156.4 145.5l1.6 0M130.6 117l0 8.6M136 120.2l3.2.6 1.1 1.6-1.7 2.1.6 2.2M138.1 117l-1.1 2.2M142.4 117l-.5 1.6M162.4 117.5l0 6.5-1.1 1.6 0 2.2M162.4 118.1l5.4-.6.5 3.8.5 2.7 1.1 1.6 1.1 1.1-1.6 1.1-3.3 0-1.6 1.8-3.7 0-.6 3M168.3 121.3l3.2-1.3 4.3-1.7 2.2-1.3M164 119.2l2.1.5-1.6 1.6-.5 1.6M162.9 124l4.3 0 .6 1.6M179.3 118.6l1.4 2.7 1.6 0 1.1-2.1 3.2-1.1 4.3-.6M118.2 20.4l5.7-.1M122.6 21.1l2.8 0M132.4 26l2.4-.3M137.5 8l5.9 1.9M134.3 21.8l2.6-.9M124.3 8.4l2.7-.5M84.4 18.1l3.8.9M123.5 22.4l4 .4M118.6 13.7l6 2.1M149.2 24l3.3-.6M105.1 8.7l5.1-.4M149.7 16.3l5.9 1.4M154.8 18.3l5.9-.4M87.8 22.1l5.2-.8M89 15l5.8 1M91.4 12.9l2.4-.7M145.8 11.3l4.2-.2M97.3 24.6l2.5.2M91.3 17.1l2.9-.5M106.3 28.2l2.9-.2M150.4 22.4l2.4.8M99.1 13.2l5.1-.6M105.7 8.8l2.4.1M101.4 21.4l3.5-.1M158.7 18.6l4.3 1.1M96.6 10.7l5.7 1.3M102 11.6l4.9 1.5M152.6 21.5l3.7-1M101.1 23.9l3 .7M129.7 14l2.7.5M126.7 27.5l4.5-.7M117.7 8.5l2.7-.3M127.8 10.2l3.4.9M137.3 21l2.6-.8M83.7 22.3l3.9.6M88 20.1l5 1.4M141 23.9l5.1 1.5M110.1 23.4l5.7 1.5M115.4 26l5.4.3M132 16.2l4.3.3M88.4 22.3l6 1.6M140.3 16.3l4.9.3M117.2 27.1l2.4.4M84.4 21.4l3.9-.7M137.9 18.9l4.4 1.3M106.1 23.3l2.8-.7M154.5 22.8l3.7 1.1M108.2 23l2.8-.2M152.4 16.2l4.4-.5M92.9 18.9l5.3 1.3M138.9 29.8l3.1-.7M118.1 13.6l2.8-.2M132.1 18.9l3.2.7M160.6 17.9l2.3-.8M138.7 20.7l3.2.7M118.4 7.6l5.3-1M132.3 17.7l4.6.5M136.8 11.8l3.9-.9M82.9 18.3l4.8-1.1M103.8 15.3l4.8.1M131.2 25.1l3.5.8M156.6 24.3l2.5 0M132 28.8l3.6.2M152.3 26.1l5.8-.1M134.1 11.9l4.9 1.1M133.3 24.2l2.9.8M125 26l3.2.9M150.5 15.4l2.3-.1M126 25.4l4-1.3M146 11.1l3.3.7M86.9 31l5.4.7M111 26.9l5.8-1.7M70.4 27.5l3.2.5M93.8 27.4l5.4.2M75.5 24.9l5.3 1.5M69.7 33.3l5.8.1M90.1 21.6l4.1 0M91.9 18.5l5.9.1M80.4 32.4l4.3 0M96.7 19.2l4.2-.3M73.1 26.5l2.5-.1M84.7 23.7l2.8.2M68.9 22.1l4.7-.6M77.9 29.2l2.4.3M64.9 27.2l3-.6M87.7 25.9l3.5-.3M87.6 20.9l2.9.2M93.8 27.5l5.4.5M106 22.2l4.9 1.1M108.5 23.7l3.3 1M71.4 31.1l3-.9M104.6 25.6l5.2-1.4M134.2 33l2-.5M150.9 36.6l5.9-1.6M140.3 34.1l4.1.6M143.1 30.2l4.3-1M121.1 25.3l5.3 1.8M137.7 34.2l3.3 0M140.9 28.9l4.4-1.5M152.1 35.5l2.7-.1M154.4 28.5l2.7-.7M140.8 22.2l5.5 1.2M152.3 35.8l4.5-.3M146 30.1l5.9 1.2M125.5 36.6l5 .9M158.9 28.5l5.6 1.5M151.7 34.3l5-.4M153.4 23.1l3.3 0M148.3 32l3 .9M150 27.4l4.6.2M142 28.2l6 .6M152.1 34.2l5.9-2M146.9 33.8l3.1-.2M132.5 23.6l3 .8M143 30.1l5.9.3M145.9 34.1l2.1.7M119.6 29.5l2.7 0M171.3 36.5l5.8-.3M167.3 50.5l3.4-.5M173.4 49.6l3.2.5M149.5 54.6l3.6 1M162.6 47.4l5.9-1M167.1 59.4l4.9-.1M171 38l4.5-.1M167.3 38.2l3.8.5M163.9 41.8l4.3-.2M179.3 48.8l6 1.9M177.2 41.2l2.5.7M179.6 51.2l3.5-.5M174.9 49.7l4.3.4M178.2 39.9l3 1M155 46.1l4.5-1.3M168 36.9l2.3.3M168.4 51.4l3.5 0M152.1 43.9l5 1.2M180.8 51.2l5.1-1M162.4 41.7l5.2-.5M157.6 49.3l5 1.4M162.5 44.6l2.4.6M169.1 47.6l4.7-.7M152.2 52.2l2.4-.3M176.8 53l3.1-.7M159.2 53.9l3.4-1M176 49.8l5.7 1.7M185.8 46.4l5.3-.7M157.2 45.4l5.8 1.6M153.9 44.4l3.5-.3M161 45.1l2.8.1M180.3 49.1l5.3.2M150.5 54.7l5.5-.8M143.1 48.4l4.1.2M163.1 44.4l5.2-1.6M151.3 46.6l2.3-.7M156.6 48.4l2.4.2M140 45.9l4.6-.8M142.2 46.2l4.1.8M147 39.4l5.9.7M149.8 42.6l4.9.7M161.6 40.6l5.3.6M159.9 46.9l5.3 1.4M162.8 44.2l4.1.6M158.5 40.7l3.6-.9M146.5 36.7l2.8-.2M86.8 40.9l2.4.3M132.7 38.9l2.2-.1M120.4 50.5l2.1-.5M94.8 39.5l3 .4M121.1 39.6l2.7-.4M94 48.1l3.3.1M135.3 43.7l3 .8M141.5 41.5l4.2 1.3M113.9 39.5l2.2.7M134.3 42.2l4.1 0M125.1 39.8l2 0M106.8 48.7l4.8.4M93.1 38.5l3.3-.5M138.6 44.3l4.6 1.5M100.1 44.6l2.6.4M137.2 49.2l2.3-.4M128.9 37.6l3.9-.1M144.2 45.4l5.4-.8M133.5 42.7l5.7-1.7M135.9 39.3l4.2.1M93.1 49.3l3.2-.4M87.9 40.9l3.8.6M106 47l2.4-.2M112.6 51.5l5.3.5M128.4 39.8l4.3-.1M134.2 39.3l4.4-.6M107.1 44.6l3.2-.3M108.1 46.7l3-.7M129.8 41.3l5.8.2M129.3 41.3l5.3-1.5M12.4 79l1.9 2.6M12.8 81.4l2.5 2.6M10.2 77.9l1.7.6M22.1 87.4l3 2.3M23.9 92.9l1.7 3M20.5 87.7l2.4.6M19.8 89.6l2 3.3M29.4 97.5l1.3.9M17.8 87.5l1.5 1M23.4 93.4l2.4 2.6M10.8 82.1l2.7 2.6M18.7 87.3l1.1 1.5M41.5 107.6l1.6 2.9M11.6 84l2.8 1.2M9.8 77.7l1.8 2.4M16.4 88.1l1.9 1.6M8.9 81.7l.8 1.7M25.4 93.6l2.5 1.4M37.1 106.9l2.4 2.6M9.3 81.1l1 2M14.4 84l3.3 1.4M27.1 91.9l1.5.7M40.1 109.2l2.7 1.6M29.4 98.4l1.7 1.8M36.5 99.9l1.6 1.3M11.5 80.2l2.7 1.1M25.5 91.7l2.5 1.6M30.6 94.8l3 1.2M40.2 107.1l2.2 1.6M27.8 96.7l1.9 2.8M21.8 93.4l1.7 3.2M20.9 88.8l1.3 2.7M24.9 92.9l1.1 2.4M19 84.6l1.4 3M32 99.8l2.9 1.7M28.8 93.4l1.4 1.1M24.4 91.7l1 1.3M25.8 91.9l1.9 1.3M15.9 81.9l1.4 3.5M28.7 98.7l1.4 2.2M13.2 84l1.2 2.7M8.6 80.2l1.3 1.3M41.9 104.6l1.8 1M19.1 84.8l1.9 3.2M20.8 88.2l2.8.8M5.8 78.5l1.7 1.5M38 107.7l2.5 1.1M15.2 87l3.4 1.6M36.6 102.3l2.5 1M36 106l1.3 1.5M11.6 83.5l1.6.6M32.7 98.5l1.8 3.4M32.9 97.5l1.3 2.9M23.4 88.7l1.8 1M32.6 97.6l1.7.9M29 98.4l1.5 1.8M37.5 104.6l1.8 1.1M38.8 106.3l1.4 1.7M7.6 80.7l1.9 1.8M26.6 91.3l2.6 1.5M210.7 42.2l.5 1.6M215 54l.1 2.2M210 40.7l2.1 3.4M211.4 47.2l-.8 2.3M214.9 47.8l-.2 2.9M211.8 44.7l.2 3.5M210.9 48.3l.2 3.2M215.9 58.7l1.4 3.1M214.8 50.5l-.5 2.5M211.8 55l.2 2.1M212 41.3l1.4 2.4M211.9 50.4l-.8 2.8M214.4 40.1l.2 1.6M213.2 46.4l-.4 2.1M209.7 37.9l.1 3M215.1 54.9l.6 1.8M213.2 36.9l.2 3.1M212 42.4l-.4 1.7M213.8 40l-.2 1.9M211.9 56.1l.3 1.6M214.4 44.6l2 3.4M211.4 47.9l1.7 3.6M211.4 47l.6 1.6M215.9 57.2l.7 2.4M215.4 46l-.7 1.4M212.1 54.4l.7 2M214.6 49.1l-.9 2.5M213.7 44.7l-.1 3.9M212.7 36.9l1.5 2.7M211.5 44.3l0 3.7M195 113.2l1.5 1.9M189.1 111.5l1.9.8M187.7 109.3l1.9.5M188.2 109.1l2 1.1M195.5 114.7l3.5.9M190.9 108.5l3 1.2M190 107.6l1.8.6M188.8 112.2l3.2 1M190.5 108.7l3.5 1.5M193.1 113.6l3.7.2"/>
<path class="cl" stroke-width="1.6" d="M55.4 42.8l14.5.5M56 25.3l3.2-2.2M62.4 29.6l3.2.8M37.7 54.9l5.3.2M142.4 6.2l17.6 0M124.7 11.6l16.1 0M141.9 12.6l12.9-.5M108 13.4l4.3-1M124.1 13.4l17.2.6 5.4 1.6M85.9 18.3l2.2 1.1M97.2 14.5l3.2.8M105.8 22.1l8.6 0M113.4 16.4l6.9.5M128.4 16.1l5.4-.5 8.6 2.7M127.3 19.4l13 1M151.6 18.3l8.4-1.1M83.2 21.8l2.7 1.3M87 24.7l3.8 2.2 3.2-1.1M96.1 28.5l6.5.8M105.3 29.6l8.6 1.1M117.7 25.3l6.4 1.1M85.9 40.3l2.2 1.7M121.4 39.5l4.3 1.9 4.3 1.1M143.5 36.6l8.6.5M144.6 35l6.4.5M155.3 37.1l4.7 2.7M138.1 43.8l9.1.6M130.6 54.9l7.5 2.1M89.1 45.2l6-1.6M123 57l6.5 1.6M164.5 5.6l5.9.3M173.1 7l4.9.3M175.8 12.9l4.3 1.6M165.1 14.8l3.2-.8M168.8 24.2l5.4.3M201.6 31.7l3.8.6M214.6 47.3l2.1-1M213.5 50.6l3.2 0M176.9 49.5l8.1 2.1M160.2 49l2.7 1M180.1 55.4l4.3 2.2M165.6 58.6l3.8.6M23.1 86.9l.6 5.4M76.9 109.2l3.1 0M54.9 70l3.7.1M112.8 61.6l2.2.8M113.4 67l2.1-.3M141.3 93.9l3.3.3M137 66.2l2.2-.3M80 75.5l3 0M88.1 91.2l1 1.3M80 108.7l1.6-.3 1.1 1.4M89.4 108.2l1.1-.9 1.1 1.7 2.9.2M95.3 112.2l1.4 1.1-.6 2.7-.8 2.1M153.2 110.6l1.3-1.4 1.4 1.4-2.7 0M151 119.7l4.3-1.6 4.7-.8M167.2 73.4l4.3 0M169.4 76.1l2.1 0M171 79.4l2.7-.3M185 74.5l2.7 3.3M160.2 102.5l.3-2.7 1.3-1.3 2.2-.3-1.6 1.6-1.6 2.7M181.2 90.1l1.1 2.2M164.5 62.2l3.8 3.2M179.6 68.1l3.8.5M174.2 72.6l1.6-1.3M45.5 143.4l.8 1.6M66.7 126.1l0 2.5 1.1 1 1.1-1.3M69.9 139.9l2.7-2.7M95.1 118.3l1-1.3M161.8 126.7l2.7-.6 2.2.6"/>
<path class="cl" stroke-width="2" d="M117.7 10.5l8 0M131.6 33.4l5.4 2.1-3.2 2.2 1.1 3.2M103.1 49.5l4.9 3.2M172.1 10.8l12.3.5M164.5 21.5l14.6 1.6M210.8 38.7l5.4 2.2M210.3 49.5l6.4-1.1M210.8 51.6l1.6 5.4M210.8 53.8l3.8 5.4M160.2 40.1l5.9 1.3M5.4 76.1l4.3 2.2 2.1 3.2 4.3 3.8 2.2 2.1M10.8 74.5l4.3 4.3 3.2 3.8M26.9 92.3l3.2 4.3 2.2 3.2 5.4 3.2 3.2 2.7M41.4 109.8l2.2 0M69.4 65.9l4.8-1.1M69.9 76.9l1.7-.2M146.7 84.2l2.7-.5M149.4 76.9l1.1 0M149.9 60.5l4.3 0M149.4 63.8l3.2-1.1 1.6-1.1M133.3 111.6l3.7 2.2M136 114.3l3.2 1.1M116.6 111.6l1.1.6M192.5 91.7l3.2-1 4.3-1.1M204.3 111.1l2.7-.5 2.7-2.2 1.6-2.1M186.6 103l3.2 1.9M179.1 107.6l3.2-.3M168.3 107.9l3.2.5M167.2 111.6l1.1.6M160.2 60.8l2.2-.3M172.6 62.7l5.4 1.6M62.4 141.2l1.1 2.2M61.3 152.5l1.1.5M64.6 162.7l1 1.6M123.6 140.1l2.1.6M120.3 159.5l2.7.5M122.5 162.7l1.1.3M109.1 161.7l1.6.5M143.5 169.7l2.7.6M152.1 133.7l4.8 0M138.6 125.1l4.3 1M139.7 120.2l1.1 2.2M162.4 127.8l2.7-1.1M187.7 117.5l3.2 0"/>
<path class="cl" stroke-width="2.6" d="M171.5 43.6l5.4 2.1M96.1 92.3l2.2 1.1M109.3 103.6l2.4 2.1M183.9 111.6l3.8 2.2 3.2 1.6M192.5 112.2l1.1 2.1M213.5 60.5l3.2 2.7M154.2 134.8l2.2 3.7M154.8 138.5l1.6 7M142.9 125.1l3.8-2.7 8.1-2.2 5.2-2.1M160 120.2l2.4-1"/>
<rect class="fr" x="0" y="0" width="219" height="175"/>
<path class="tk" d="M-5.5 160.3H-1M-5.5 131.3H-1M-5.5 102.2H-1M-5.5 73.2H-1M-5.5 44.1H-1M-5.5 15.1H-1M0.3 176V181.2M48.9 176V181.2M97.4 176V181.2M146 176V181.2M194.5 176V181.2"/>
</g>
<text class="s" x="964.2" y="1095.2" font-size="16.72" fill="#000" textLength="27.8" lengthAdjust="spacingAndGlyphs">30N</text>
<text class="s" x="964.2" y="1065.9" font-size="16.72" fill="#000" textLength="27.8" lengthAdjust="spacingAndGlyphs">40N</text>
<text class="s" x="964.2" y="1036.7" font-size="16.72" fill="#000" textLength="27.8" lengthAdjust="spacingAndGlyphs">50N</text>
<text class="s" x="964.2" y="1007.4" font-size="16.72" fill="#000" textLength="27.8" lengthAdjust="spacingAndGlyphs">60N</text>
<text class="s" x="964.2" y="978.1" font-size="16.72" fill="#000" textLength="27.8" lengthAdjust="spacingAndGlyphs">70N</text>
<text class="s" x="964.2" y="948.9" font-size="16.72" fill="#000" textLength="27.8" lengthAdjust="spacingAndGlyphs">80N</text>
<text class="s" x="983.8" y="1122.7" font-size="16.28" fill="#000" textLength="36.6" lengthAdjust="spacingAndGlyphs">140W</text>
<text class="s" x="1032.3" y="1122.7" font-size="16.28" fill="#000" textLength="36.6" lengthAdjust="spacingAndGlyphs">120W</text>
<text class="s" x="1080.9" y="1122.7" font-size="16.28" fill="#000" textLength="36.6" lengthAdjust="spacingAndGlyphs">100W</text>
<text class="s" x="1133.5" y="1122.7" font-size="16.28" fill="#000" textLength="28.4" lengthAdjust="spacingAndGlyphs">80W</text>
<text class="s" x="1182.1" y="1122.7" font-size="16.28" fill="#000" textLength="28.4" lengthAdjust="spacingAndGlyphs">60W</text>
<g transform="translate(1001,1225)">
<g class="c"><rect x="215" y="151" width="3" height="7" fill="#ffe878"/><rect x="82" y="144" width="6" height="7" fill="#ffa000"/><rect x="88" y="144" width="18" height="7" fill="#ff3200"/><rect x="106" y="144" width="6" height="7" fill="#ffe878"/><rect x="215" y="144" width="3" height="7" fill="#ffa000"/><rect x="76" y="136" width="6" height="8" fill="#ffe878"/><rect x="82" y="136" width="24" height="8" fill="#ff3200"/><rect x="106" y="136" width="6" height="8" fill="#ffa000"/><rect x="112" y="136" width="6" height="8" fill="#b4f0fa"/><rect x="185" y="136" width="24" height="8" fill="#b4f0fa"/><rect x="82" y="129" width="30" height="7" fill="#ff3200"/><rect x="112" y="129" width="6" height="7" fill="#ffe878"/><rect x="124" y="129" width="67" height="7" fill="#b4f0fa"/><rect x="191" y="129" width="27" height="7" fill="#50a5f5"/><rect x="88" y="122" width="6" height="7" fill="#ffe878"/><rect x="94" y="122" width="24" height="7" fill="#ff3200"/><rect x="118" y="122" width="6" height="7" fill="#ffa000"/><rect x="130" y="122" width="49" height="7" fill="#b4f0fa"/><rect x="179" y="122" width="18" height="7" fill="#50a5f5"/><rect x="197" y="122" width="6" height="7" fill="#1464d2"/><rect x="203" y="122" width="15" height="7" fill="#50a5f5"/><rect x="0" y="115" width="15" height="7" fill="#b4f0fa"/><rect x="70" y="115" width="12" height="7" fill="#b4f0fa"/><rect x="82" y="115" width="6" height="7" fill="#50a5f5"/><rect x="88" y="115" width="6" height="7" fill="#1464d2"/><rect x="100" y="115" width="24" height="7" fill="#ff3200"/><rect x="130" y="115" width="19" height="7" fill="#b4f0fa"/><rect x="149" y="115" width="42" height="7" fill="#50a5f5"/><rect x="191" y="115" width="24" height="7" fill="#1464d2"/><rect x="215" y="115" width="3" height="7" fill="#b4f0fa"/><rect x="0" y="107" width="9" height="8" fill="#50a5f5"/><rect x="9" y="107" width="18" height="8" fill="#b4f0fa"/><rect x="64" y="107" width="12" height="8" fill="#b4f0fa"/><rect x="76" y="107" width="12" height="8" fill="#50a5f5"/><rect x="88" y="107" width="6" height="8" fill="#1464d2"/><rect x="94" y="107" width="6" height="8" fill="#50a5f5"/><rect x="100" y="107" width="6" height="8" fill="#b4f0fa"/><rect x="112" y="107" width="6" height="8" fill="#ffe878"/><rect x="118" y="107" width="24" height="8" fill="#b4f0fa"/><rect x="142" y="107" width="49" height="8" fill="#50a5f5"/><rect x="191" y="107" width="27" height="8" fill="#1464d2"/><rect x="0" y="100" width="9" height="7" fill="#1464d2"/><rect x="9" y="100" width="6" height="7" fill="#50a5f5"/><rect x="15" y="100" width="12" height="7" fill="#b4f0fa"/><rect x="57" y="100" width="7" height="7" fill="#b4f0fa"/><rect x="64" y="100" width="12" height="7" fill="#50a5f5"/><rect x="76" y="100" width="6" height="7" fill="#1464d2"/><rect x="82" y="100" width="36" height="7" fill="#50a5f5"/><rect x="118" y="100" width="12" height="7" fill="#b4f0fa"/><rect x="130" y="100" width="43" height="7" fill="#50a5f5"/><rect x="173" y="100" width="6" height="7" fill="#b4f0fa"/><rect x="179" y="100" width="12" height="7" fill="#50a5f5"/><rect x="191" y="100" width="27" height="7" fill="#1464d2"/><rect x="0" y="93" width="9" height="7" fill="#1464d2"/><rect x="9" y="93" width="6" height="7" fill="#50a5f5"/><rect x="15" y="93" width="12" height="7" fill="#b4f0fa"/><rect x="57" y="93" width="7" height="7" fill="#b4f0fa"/><rect x="64" y="93" width="6" height="7" fill="#50a5f5"/><rect x="70" y="93" width="12" height="7" fill="#1464d2"/><rect x="82" y="93" width="85" height="7" fill="#50a5f5"/><rect x="167" y="93" width="12" height="7" fill="#b4f0fa"/><rect x="179" y="93" width="12" height="7" fill="#50a5f5"/><rect x="191" y="93" width="27" height="7" fill="#1464d2"/><rect x="0" y="85" width="9" height="8" fill="#1464d2"/><rect x="9" y="85" width="6" height="8" fill="#50a5f5"/><rect x="15" y="85" width="12" height="8" fill="#b4f0fa"/><rect x="51" y="85" width="6" height="8" fill="#b4f0fa"/><rect x="57" y="85" width="13" height="8" fill="#50a5f5"/><rect x="70" y="85" width="6" height="8" fill="#1464d2"/><rect x="76" y="85" width="12" height="8" fill="#50a5f5"/><rect x="88" y="85" width="24" height="8" fill="#b4f0fa"/><rect x="112" y="85" width="12" height="8" fill="#50a5f5"/><rect x="124" y="85" width="37" height="8" fill="#1464d2"/><rect x="161" y="85" width="24" height="8" fill="#50a5f5"/><rect x="185" y="85" width="33" height="8" fill="#1464d2"/><rect x="0" y="78" width="9" height="7" fill="#50a5f5"/><rect x="9" y="78" width="6" height="7" fill="#b4f0fa"/><rect x="45" y="78" width="12" height="7" fill="#b4f0fa"/><rect x="57" y="78" width="25" height="7" fill="#50a5f5"/><rect x="82" y="78" width="30" height="7" fill="#b4f0fa"/><rect x="112" y="78" width="12" height="7" fill="#50a5f5"/><rect x="124" y="78" width="94" height="7" fill="#1464d2"/><rect x="0" y="71" width="3" height="7" fill="#50a5f5"/><rect x="3" y="71" width="12" height="7" fill="#b4f0fa"/><rect x="39" y="71" width="12" height="7" fill="#b4f0fa"/><rect x="51" y="71" width="25" height="7" fill="#50a5f5"/><rect x="76" y="71" width="42" height="7" fill="#b4f0fa"/><rect x="118" y="71" width="12" height="7" fill="#50a5f5"/><rect x="130" y="71" width="88" height="7" fill="#1464d2"/><rect x="0" y="64" width="15" height="7" fill="#b4f0fa"/><rect x="39" y="64" width="12" height="7" fill="#b4f0fa"/><rect x="51" y="64" width="25" height="7" fill="#50a5f5"/><rect x="76" y="64" width="48" height="7" fill="#b4f0fa"/><rect x="124" y="64" width="12" height="7" fill="#50a5f5"/><rect x="136" y="64" width="82" height="7" fill="#1464d2"/><rect x="0" y="56" width="9" height="8" fill="#b4f0fa"/><rect x="33" y="56" width="18" height="8" fill="#b4f0fa"/><rect x="51" y="56" width="19" height="8" fill="#50a5f5"/><rect x="70" y="56" width="60" height="8" fill="#b4f0fa"/><rect x="130" y="56" width="6" height="8" fill="#50a5f5"/><rect x="136" y="56" width="31" height="8" fill="#1464d2"/><rect x="167" y="56" width="18" height="8" fill="#50a5f5"/><rect x="185" y="56" width="33" height="8" fill="#1464d2"/><rect x="33" y="49" width="67" height="7" fill="#b4f0fa"/><rect x="100" y="49" width="18" height="7" fill="#50a5f5"/><rect x="118" y="49" width="12" height="7" fill="#b4f0fa"/><rect x="130" y="49" width="12" height="7" fill="#50a5f5"/><rect x="142" y="49" width="19" height="7" fill="#1464d2"/><rect x="161" y="49" width="30" height="7" fill="#50a5f5"/><rect x="191" y="49" width="27" height="7" fill="#1464d2"/><rect x="33" y="42" width="37" height="7" fill="#b4f0fa"/><rect x="88" y="42" width="42" height="7" fill="#b4f0fa"/><rect x="130" y="42" width="37" height="7" fill="#50a5f5"/><rect x="167" y="42" width="18" height="7" fill="#b4f0fa"/><rect x="185" y="42" width="33" height="7" fill="#50a5f5"/><rect x="100" y="35" width="42" height="7" fill="#b4f0fa"/><rect x="142" y="35" width="13" height="7" fill="#50a5f5"/><rect x="155" y="35" width="63" height="7" fill="#b4f0fa"/><rect x="45" y="27" width="55" height="8" fill="#b4f0fa"/><rect x="130" y="27" width="79" height="8" fill="#b4f0fa"/><rect x="45" y="20" width="55" height="7" fill="#b4f0fa"/><rect x="155" y="20" width="36" height="7" fill="#b4f0fa"/><rect x="3" y="13" width="103" height="7" fill="#b4f0fa"/><rect x="0" y="6" width="106" height="7" fill="#b4f0fa"/><rect x="9" y="0" width="85" height="6" fill="#b4f0fa"/></g>
<path class="cl" stroke-width="1" d="M.8 45.1l2.2 0 1 1.1 1.6.2.9 1.1 3.5 0 .8-1.2.8 2.4 1-3.2.8 3.2 1.1-3.2 1.6.8 1.4 2.4 1.9-3 .2-1.2 1.9.2.8 1.7 1.4-2.8 2.1-.3.6 1.1 2.1 0 1.9-2 1.1 1.2.8 1.9 2.7.2.5.8 1.6-2.1 1.6 2 1.6.1 1.4-2 4-.1.8 1.1 1.9.1 1.1.8 3.2 0 .8 1.1 3.5 0 .8-1.1 5.7 0 .8 2 .8.6 7 0 1.1.5 2.1-.8 1.1-1.1 3.6 0M59.2 50.6l2.7-1.9.5 1.6 11.8 0 2.2 1.1 2.1 2.9 1.5.3M34.4 38.3l1.1-1.2 2.2-2.7 1.8-.9-1.8-1 .8-1.3 16.4 0 .5 1 2.4.3 1.4 1.4-2.2 1.3-3.2.6-2.2 1.2-3.2.4-1.1 2.1-.8 1-6.2 0-.8-.8-2.4-.3-1.3-1.1-1.4 0M51.1 37.1l1.6 2.7 1.1 1.6 1.6.6 1.1 2.7 1.3 1.6M51.6 37.1l2.2-1.6 3.2-1.1 2.2-.8 4.3.8 1.1 1.1-3.3 1.1 3.3-.3M52.2 39l7 1.1 1.6-.8M64.6 35.5l3.2.3 1.6 1.3 2.2-.5 1.6-1.1 1.6 1.1 2.1-.6 1.1 1.7-.5 1.6 2.5-1.6M76.9 34.4l3.1-.5M41.2 26.4l1.3-1.1 3.8 0 .8-1 1.9 0 1.3-2.1 9.4 0 0 1.5-1.6 1.3 6.5-.5-3.8 1.3-.5 2.7-4.9.8 1.1-2.4-2.7 1.1-1.3.5-.9-1.3-3.2.2-1.1-1.3-6.1.3M51.9 26.4l1.4-1.5 1 1.2-1.3 1.3-1.1-1M61.3 21.5l1.1-1.1 1.1.9 2.7.9 6.4 0 .6-1.5 1.6-1.3-2.7-1.1-2.2.5-4.8.5 1.6.9 3.2.1M60.8 25.3l3.8 1.1 4.8.2 1.6 1.4 1.1-1.4 2.1-2.1 2.7 0 3.1 2.9M71 28l0 1.9 3.8.5 5.2-1.1M61.9 29.3l1.6 1.9 6.4 0 0-1.1M35 53.4l1.9 0M36 55.4l2.7-1.1 4.9.1 1.1-1.1 3.2 0 1.1-1.1 1.6 1.1 4 1 0 2.2-.8 1.1-1.1-1.4-2.7-.2-.5 1.8-2.7.6-1.1 1.3M40.1 58.4l2.4-.3.5-2.1 2.7-.6-1 1.6 3.2-.5 1.1-2.7 2.6 1.6M139.2 8.1l4.3-.6 4.3 1.4-4.3.5M117.7 9.7l8.6-.6 7.5-1.6 5.4.6M149.9 11.3l4.3-.5M105.3 15.6l2.7-2.7 3.2-1.3 6.5-1.9M112.3 14l2.7-1.9 3.7-.5 2.2 1M83.2 17.2l3.8-1.1 5.4 1.4 5.4 1.1 1.6 2.4-8.1.3-4.3-1.4-1.6-1.9-2.2-.8M101.5 18.6l3.2-.3 4.4 1.6 5.3.8M112.3 16.1l8.6 1.1 1.1 1.6-7-.2-2.7-2.5M130.6 17.8l8.6 0M149.4 17.2l10.6-1.6M149.9 20.4l5.4 1.1 4.7-3.7M82.2 21.5l4.3 2.2M120.9 21.5l6.4 1.1M119.8 20.4l6.5-2.6M94 24.7l7.5-.5 2.2 2.7-1.1 2.4-6.5 0-2.1-2.4M80 27.4l3.8-.5-.6 2.2-3.2.5M85.4 29.6l3.2-1.6M105.3 24.2l2.7.5 2.1 2.2 2.2 1.1M106.9 28l5.4.5M113.4 24.7l4.3 1.1 6.4 2.2M123 23.7l5.4 1 5.4-.5 7.5 1.1 3.3-.6M124.1 27.4l7 .6 15.1-1.1 2.7-1.1 1-2.7-8.6-.5M115.5 26.9l1.1 2.7 5.4 1.1 8.6.2 3.2-.8 6.5 1.1 7.5-.5-1.1-1.6-2.1 1M141.3 22.6l10.3.5-1.1 2.2M107.4 33.4l1.7-1.1 12.9 0-4.3 3.2-5.4 1.1M107.4 33.4l1.1 3.2 1.6 2.1 4.3 2.2 3.3 2.1M80 33.9l7-.3-1.1 1.4-2.7-.6 2.2 3.3 1.6 3.2 1.6 1.6 9.2 0M90.2 36.6l2.7-2.7 4.3-1.6 6.5 0 1.6 2.1 1.6 2.7-1.6 2.2-4.9 1-2.6-2.1-3.8-1.1-3.8-.5M101.5 35l2.7 1.6-.5 1.1M121.4 38.7l1.1-3.7 2.2-1.6 5.3-.6 1.6 2.7-1 4.3M130 30.1l1.1 12.9M136.5 33.4l15.1-.3 3.7 1.9 4.7 3.7M104.7 42l4.4-2.7M115 42l3.7 1.6-1 1.6 4.3 4.3 1-2.2 3.3-.5 1 3.8 2.2 2.1 2.1-2.1 1.1-3.3-1.1-3.2 6.5-.5 9.7.5 1.1-2.1 1 2.1 5.4 1.1 4.7 3.2M139.2 45.7l3.2 1.1-2.1 2.7 2.6 2.1-2.6 2.2-5.4-1.1-5.4 2.2 2.1 3.2 4.4-2.1 3.2 2.1M80 45.7l3.2 1.1 1.6 1.6 4.3 2.2 12.4 0 2.2 1 2.1-1 3.3 3.7 0-5.9 4.3-.5-1.1-2.2-5.4-1-3.8 0-3.2 2.6-1.6 0M90.8 44.7l1.6 3.7M95.1 47.3l1.6 0M118.2 55.4l3.8 1.1 3.2 1.6 4.3 1.1M146.7 47.3l2.7-2.6 0 3.2M152.1 51.6l3.2-2.1 4.7 1.1M152.1 51.6l3.2 1.7M149.9 59.2l2.7-1.1 7.4-.5M160.2 6.5l3.2 0 1.1-1.1 6.5 0 .5 1.1 13.5-.2 5.9 1 1.6 2.1 5.4.3.5-1.1 15.1 0 3.2.3M198.4 10.2l4.3.3M209.2 10.5l1.6-1.1M184.4 10l6.5-.3 2.1 1.9-5.3.5-2.2-.8M160.2 16.1l3.8-.5 6.4-3.8 2.2-1.3M163.4 20.4l2.2-1 7-.8 1.1-1.1 8.6-.3 0-1.6-1.6-.8 4.8-.5M173.1 26.4l6 0 1-1.1 1.1 1.1 3.8-.3 1-.8 1.1 1.3 1.1-1.3 1.1 1.1 6.4 0 1.1 1 2.2.3 2.6 3 3.3 1 1.1 3.3 1.6.5-2.2 1.6 0 3.2 1.6.6 2.2-2.2 1.6-1 4.8 2.1M207.6 39.8l2.1.5-.5 2.2 5.4 0-2.7 2.2-4.9 0 1.1 1.6 2.7 0M160.2 39l4.9.8 3.7 1.6 3.3 1.1M173.7 48.4l4.3 1.1 4.3.5 4.3 2.2 3.7 1.1.6 1-3.2 2.7-2.7 2.2M160.2 47.9l2.2.5 2.1 3.2 3.3 2.2 3.7 1.1M159.7 56.5l2.7-3.2 2.1-.6M166.1 52.7l2.2-.5 3.2 1.6 1.1 1.1-3.8.5M174.2 54.9l3.8 0 4.3 0 2.7 2.1M175.3 56l1.6 2.1 3.2.5M.8 72.4l1.9.2 2.1 2.5 4.3.2 2.2-1.9 1.6 1.1 3.2 3.3 2.7 3.7 3.8 1.6 2.7 2.7.5 3.3-1.1 1 2.2 1.6 2.2-.5 2.1 3.2 1.6 2.7-.5 1.6 3.2 1.1 2.2 1.1 2.1 1.6 2.2 2.7.5 2.1M28 100.3l3.2 2.7 3.2 1.7 2.7 1.6.6 2.1M17.2 90.7l3.2-.3-1.6 1.9 2.7 4.3M17.2 90.7l0 2.7 2.2.5M16.1 72.1l2.7 1.1M37.7 108.4l1 3.2.6 2.2.5 3.2-1.1 3M37.7 113.3l3.7 0 1.1 1.6 5.4.2 1.1-1 7.2 0M42.5 105.5l37.5 0M56.2 105.5l0 8.6 1.4 1.3-2.2 3.2.6 1.4M57.8 105.7l.8 3.3 3.3 2.6 1 3.3 2.2 2.7 1.6.8 3.2 0 1.1-1.4 9 0M71 117l0 3M37.1 82.1l1.6 2.1 2.7 1.6 1.6-1.3 1.1 1.1M41.4 85.8l0 1.9M51.1 94.2l.5 1.6 3.3 1.6M54.9 100.1l-1.6 1.9 1 1-1 1.7 0 2.9M49 69.6l4.3-.2.5-.8 1.6 1.4 3.2 0 1.1-1.9-.5-2.7 1.6 1.3 2.7-.2 1.1 1 3.2 0 1.6-2.1 2.7-1.1 3.8 1.1M59.2 71.3l1.1-1.3 4.3.2 2.6-1.6 1.1-1.1M69.9 77.2l2.2-1.6 2.1-1.3 2.7 0 3.1 1M72.1 76.1l3.2.3 4.7-.5M112.3 61.3l2.7 1.1 4.3.3 2.1-1.4 6.5-.2M120.3 62.7l-.5 1.6-2.1 1.1-3.3 1.6-2.1 1.6-1.9 3 0 4.5-1.3.3M110.4 76.1l1.3 1.4 2.7 0 1.1 1.3 0 3.3-1.1.2M115.5 82.1l1.6-.6 3.2 0 1.1.8 3.3 0 1 1.1 1.6 1.6 3.3.3 2.1 2.1 8.1.3 0 5.7 1.1 2.1 2.7 1.6-.3 2.2 1.3-1.6 1.6 2.6 1.1-1.6 1.1-1-.5-1.7.5-1-.5-4.9-1.7-1-.5-.9 2.7 0 2.7-1.3 2.1-1.6.6-3.2-1.1-2.7-1.6-.8-2.2-1.4 1.7-1.6 0-2.2 2.1 0M151.6 73.4l0-1.8-2.2 0M151.6 71.6l0-3.5-1.1-.8 1.6-1.9 2.1.5 3.8.3 1.1 1.1.9-1.9M129.5 60l.5 2.2 2.2.5 1.6 1.6 1.6-1.6 2.7-1.1 6.5 0 1 .8-3.2.8-1.6-1M136.5 65.9l1.6-1.3 1.6.8 1.1-1.1.5 1.1-4.8 1.1M145.4 67.5l1-1 1.1 1-1.1 1.1-1-1.1M92.1 64.6l1.3-1.1 2.2 0 0 1.3-1.6.8-1.6-.2-.3-.8M89.1 84.2l1.1-2.7 1.1-1.9 2.1-1 .3 1.8-1.1 2.2-1.8 1.1-1.7.5M105.3 84.5l1.6 1.1 1.1-1.1M109.3 84.5l1.4-1.4M95.3 92.8l.8-2.1 1.7-.3 1 1.3 2.7 0 1.6-2.6 1.1-1.1 1.6.5M103.1 89.1l-.5 2.1 1.1 1.6 1 1.6.3 3.3 1.9 1-.3 1.6-1.9.6-.2-3.2M97.2 94.4l.6 2.7 2.1 1.6 1.1 2.2 1.6.5M98.3 93.4l3.2 1 2.2 1.1M99.9 92.3l1.6 2.7 1.6 2.7M80 105.5l29.3 0M111.7 106l3.3.8 2.7.8 2.1.3M119.8 107.9l3.2-1.1 2.7-.5 1.1-1.6-1.3-1.7M124.4 102.8l1.1-1.4 1.3 1.4-1.3 1-1.1-1M126.8 104.7l2.7 1 1.1 1.1 3.2 1.1 1.1 1.1.5 2.6-1.1 1.7M125.7 106.3l1.6 1.6 1.1 2.1 3.2.6 2.2 1M119.8 107.9l-.5 2.1 1.6 1.6 2.1 1.1 2.7.6 2.7 1 2.2-.5 3.2-.5 2.2.5 3.2-.5 5.4.5 1.6 1.6.5 2.2-2.1 1M122 111.1l3.7-.3 1.1-1.3M128.4 111.6l5.4-1.6M119.3 110l-2.2 1.6-.5 2.2-1.6 1.6-.6 1.6 1.1 1.6.5 1.4M127.3 116l1.1 1-1.1 3M130.6 114.9l-.6 5.1M137 116l1.6 1-.5 3M140.3 115.4l.5 4.6M143.5 114.9l2.1 2.1-1 1.6M87.3 105.5l0 14.5M80 116.9l7.3 0M87.3 114.3l18 0M104.5 105.5l.8 2.9.5 5.9 1.1 2.2 0 3.5M160.2 65.5l2.7 1.5 1.1 1.3 2.1.3 1.1 1.6 4.3 0 .3 3.8 1.3 1.3 1.6 2.5 1.1 1.3 1.1-.8 3.2-1.1 1.1-2.1 1.1-2.2 2.1-.3 1.1 2.5 2.2 2.1 1.6 2.2 1.6 1 .5 1.7-2.7.5 2.2 1.6 1.6 1.1 1.6 1.6 2.7.5 2.7.8 1.6 1.9 2.7 1.1 1.1 1.6-.6 1.6.6 2.7-1.1 1.1-2.2 0M200.6 90.1l0 2.7M201.6 98.2l-3.7.3-2.2 2.7-2.7.2-13.9 0-1.7 1.6M177.4 103l-2.1 1.7-2.7.5-.5 2.1-3.8 0M201.6 98.7l-1 2.2-1.1 2.1-1.1 2.2-1.6 1.6-.5 2.2 2.1.2 5.4 0 .5-.8 1.1 1.1 2.7-.5 1.6-1.7 1.6-.5-1-2.1-2.7-.9-3.3-.2-.5-1.1-1.1.5 1.1-2.1.5-2.2M209.7 110.6l1.6 1.6 1.1-1.6-1.1-2.2M179.1 103l3.2-.5 3.2 0 2.2 1.1 2.1 1.6M173.7 106.3l1.6-1.6 2.7-.6 4.3.3 1.6.8-.5 1.6-2.2.5-2.7.6M172.1 107.3l.5 2.7 2.7.3.5 4 1.6 1.7 3.8.2 1.6-1.3-.5-2.2 1.1-2.1-.6-2.2M188.7 110.6l2.2-1.4 1.1.3M184.4 116l3.3 1 3.2-.5 2.1-.5 1.7-2.2M178 120l2.1-2.4 4.3.5M182.3 119.7l3.2-1.1M172.1 107.3l-1.7 2.2-1.6 2.1-1.6 1.1M170.4 111.1l-1.6 3.8-1.6 2.1-7 .3M162.4 117.6l.5 2.4M165.6 118.1l.5 1.9M172.1 97.9l1.3-1.6 1.3 1.6-1.3 2.4-1.3-2.4M178 88.2l1.3 1.9 1.9.8.5 1.6 1.1-1.8 2.2.8 1.9-1.1M180.7 89.1l1.6-.9 1.6.3M162.9 60.5l3.2 2.7 2.2 2.2 3.2.5 4.3 1.1 3.3.5 3.2 1.6 1.6-2.6-1.6-1.1M182.3 61.1l1.1 3.2M39.5 117l0 1.9-1 .5 0 5.7M38.5 125.3l0 6.2 1 .8 0 2.2 1.4 1.1 1.6 1.6.5 1.3 1.4.8 0 3 1.1 1.6.8 1.1 1 2.1 1.7 1.1 2.6 0 1.7 1.6 2.1 1.1.3 2.7.8.5 0 2.4 1.3 1.7 1.4 2.4 1.6 1.6 2.1 1.6.6 2.2-1.1 1.3-2.1 0M62.4 167.3l.3 1.9 1.9 1.1 2.1 1.6 1.9 1.9M43.6 136.1l1.9.5.2 1.1M43 137.4l1.1 1.1M38.5 125.3l31.4 0M48.4 125.6l0 8.9 3.2 1.1 1.7 2.9 1 1.6 2.7 1.6 2.2 1.1 1.6 2.2M63.8 125.6l0 15.1M63.8 140.7l-3 4.3 1.6 1.3.3 1.9 1.1.3-1.4 1.3-.5 1.6-1.6 1.6M55.7 153.6l4.6-.6M56.5 117l-1.1 1.6 1.1 1.1 0 5.6M64.6 117.5l2.1.8 3.8 0M70.5 118.3l0 10 9.5 0M75.6 128.6l0 27.4M64 140.4l16 0M61.3 154.1l3.8 0 3.2 2.4 9.2 0 .5-1 2 0M61.3 155.5l.3 4.5 1.3 1.7 2.2 1.6M61.9 155.5l2.7 1 2.1 3 .3 2.2.8 2.1 2.1 2.2 2.7 1.3-1 1.1 2.6 1.9.6 2.7 2.1.8M65.1 163.3l1.6 2.1 0 2.2 1.6 2.7 1.6 2.7.6.8M87.5 117l0 11.3M80 128.3l12.4 0M87.5 122.4l11.9 0 2.1.8 3.8.3 1.1 1.6.5 2.1 1.1 2.2 1.3 2.1.8 2.2.3 7M92.4 128.3l0 12.1M92.4 131.5l16.1 0M80 140.4l30.4 0M110.4 140.4l.3 1.9M90.8 140.7l0 14.8-10.8 0M92.1 142.3l5.1 0 .6 5.4 1.6.5 2.1 1.1 2.7.8 1.6-.3 2.7-.5 1.9 0M110.4 142.3l.8 2.7.3 2.1-1.1 2.2 1.3 2.7 0 2.7 1.1 2.1-.5 2.7.5 1.6M110.7 142.3l11.3 0M111.7 152.2l7 0M99.4 120.2l.2 1.9M106.4 117l0 4-1.1.6 1.6.8M106.4 121.2l11.3 0M114.4 117l2.2 2.2 2.1 2.1 1.1 2.2 1.6 1.6-.2 1.6-1.9 1.9-1.6 1M108 129.6l9.7 0M117.7 129.6l1 2.5 2.2 3.2 2.1 3.8 1.7 1.6M120.9 124.5l6.4 0M127.3 117l-.5 2.2.5 3.2 0 2.1 0 11.3-1 1.1.5 3.2-.5 3.3M124.7 140.7l-2.7 2.1-1.1 3.3-1.1 2.6-1.1 2.7.6 3.3-1.6 2.4 3.2.2 1.6.6.5 2.1M112.8 161.1l2.7 1.6 2.2-1 1.6 1.6 2.7-.6M123 160l2.7-.5 1.6 1.1M80 155.7l2.7 1.6 2.7 1.7 1.6 3.2 1.6 1.3 1.6-.2 1.1-1.6 3.2 0 1.6 3.2 2.7 2.7 0 2.1 1.6 1.6 2.7 1.1 1.6 1.1M104.7 173.5l-1.6-3.8.6-2.1 2.7-2.7 2.7-1.1 1-2.1 2.7-.6M125.7 147.1l0 12.4M122 146.1l13.4 0M122 142.3l4.8 0M126.3 140.9l29 0M132.2 146.3l1.1 4.1 1 3.7-.5 3.2M127.3 157.3l6.5 0M133.8 157.3l2.7 1.1 4.8.6 1.1-1.1M127.3 157.3l1.1 1.7 2.7 1 2.2 2.2 1-1.6 2.7-.6M137 160l1.6 2.7 1.1 2.7 0 2.2 1.6 2.1 1.1 3.8M142.4 159l1.1 3.7 1.1 2.7.5 3.2.5 2.2 0 2.7M148.3 170.3l3.8 0 1.6 1-1.6 1.1M135.4 146.1l2.7-1.1 5.4 0 3.2 1.1 2.7 3.2 2.2-.6M138.1 146.3l1.6 3 1.6 1.6 1.1 2.7 1.1 1.1M143.5 154.7l-1.1 3.2M155.3 145l-2.1 2.1-1.6 1.6-2.2 1.1-2.7 2.2-3.2 2.7M127.3 135.8l2.2 1.6 2.1-1 2.2-1.1 1.1-.5M134.9 126.7l0 8.1M127.9 126.7l11.3 0M134.9 134.8l4.3.5 1.6 1.6 1.1 1.6 2.7.6 2.1-2.2 2.2-2.7 1-1.1M140.8 135.3l2.1-2.2 3.3-.5M144.6 126.1l0 6 12.9 0M144.6 126.1l13.4-.5M158 125.6l1.1 1.6-1.6 2.2 1 2.7M139.2 140.7l2.7 1.6-1.1 1.1-3.8.5-2.1 2.2M149.9 133.1l1.1 1.7 3.2 1.6 1.1 2.1M156.4 145.5l1.6 0M130.6 117l0 8.6M136 120.2l3.2.6 1.1 1.6-1.7 2.1.6 2.2M138.1 117l-1.1 2.2M142.4 117l-.5 1.6M162.4 117.5l0 6.5-1.1 1.6 0 2.2M162.4 118.1l5.4-.6.5 3.8.5 2.7 1.1 1.6 1.1 1.1-1.6 1.1-3.3 0-1.6 1.8-3.7 0-.6 3M168.3 121.3l3.2-1.3 4.3-1.7 2.2-1.3M164 119.2l2.1.5-1.6 1.6-.5 1.6M162.9 124l4.3 0 .6 1.6M179.3 118.6l1.4 2.7 1.6 0 1.1-2.1 3.2-1.1 4.3-.6M118.2 20.4l5.7-.1M122.6 21.1l2.8 0M132.4 26l2.4-.3M137.5 8l5.9 1.9M134.3 21.8l2.6-.9M124.3 8.4l2.7-.5M84.4 18.1l3.8.9M123.5 22.4l4 .4M118.6 13.7l6 2.1M149.2 24l3.3-.6M105.1 8.7l5.1-.4M149.7 16.3l5.9 1.4M154.8 18.3l5.9-.4M87.8 22.1l5.2-.8M89 15l5.8 1M91.4 12.9l2.4-.7M145.8 11.3l4.2-.2M97.3 24.6l2.5.2M91.3 17.1l2.9-.5M106.3 28.2l2.9-.2M150.4 22.4l2.4.8M99.1 13.2l5.1-.6M105.7 8.8l2.4.1M101.4 21.4l3.5-.1M158.7 18.6l4.3 1.1M96.6 10.7l5.7 1.3M102 11.6l4.9 1.5M152.6 21.5l3.7-1M101.1 23.9l3 .7M129.7 14l2.7.5M126.7 27.5l4.5-.7M117.7 8.5l2.7-.3M127.8 10.2l3.4.9M137.3 21l2.6-.8M83.7 22.3l3.9.6M88 20.1l5 1.4M141 23.9l5.1 1.5M110.1 23.4l5.7 1.5M115.4 26l5.4.3M132 16.2l4.3.3M88.4 22.3l6 1.6M140.3 16.3l4.9.3M117.2 27.1l2.4.4M84.4 21.4l3.9-.7M137.9 18.9l4.4 1.3M106.1 23.3l2.8-.7M154.5 22.8l3.7 1.1M108.2 23l2.8-.2M152.4 16.2l4.4-.5M92.9 18.9l5.3 1.3M138.9 29.8l3.1-.7M118.1 13.6l2.8-.2M132.1 18.9l3.2.7M160.6 17.9l2.3-.8M138.7 20.7l3.2.7M118.4 7.6l5.3-1M132.3 17.7l4.6.5M136.8 11.8l3.9-.9M82.9 18.3l4.8-1.1M103.8 15.3l4.8.1M131.2 25.1l3.5.8M156.6 24.3l2.5 0M132 28.8l3.6.2M152.3 26.1l5.8-.1M134.1 11.9l4.9 1.1M133.3 24.2l2.9.8M125 26l3.2.9M150.5 15.4l2.3-.1M126 25.4l4-1.3M146 11.1l3.3.7M86.9 31l5.4.7M111 26.9l5.8-1.7M70.4 27.5l3.2.5M93.8 27.4l5.4.2M75.5 24.9l5.3 1.5M69.7 33.3l5.8.1M90.1 21.6l4.1 0M91.9 18.5l5.9.1M80.4 32.4l4.3 0M96.7 19.2l4.2-.3M73.1 26.5l2.5-.1M84.7 23.7l2.8.2M68.9 22.1l4.7-.6M77.9 29.2l2.4.3M64.9 27.2l3-.6M87.7 25.9l3.5-.3M87.6 20.9l2.9.2M93.8 27.5l5.4.5M106 22.2l4.9 1.1M108.5 23.7l3.3 1M71.4 31.1l3-.9M104.6 25.6l5.2-1.4M134.2 33l2-.5M150.9 36.6l5.9-1.6M140.3 34.1l4.1.6M143.1 30.2l4.3-1M121.1 25.3l5.3 1.8M137.7 34.2l3.3 0M140.9 28.9l4.4-1.5M152.1 35.5l2.7-.1M154.4 28.5l2.7-.7M140.8 22.2l5.5 1.2M152.3 35.8l4.5-.3M146 30.1l5.9 1.2M125.5 36.6l5 .9M158.9 28.5l5.6 1.5M151.7 34.3l5-.4M153.4 23.1l3.3 0M148.3 32l3 .9M150 27.4l4.6.2M142 28.2l6 .6M152.1 34.2l5.9-2M146.9 33.8l3.1-.2M132.5 23.6l3 .8M143 30.1l5.9.3M145.9 34.1l2.1.7M119.6 29.5l2.7 0M171.3 36.5l5.8-.3M167.3 50.5l3.4-.5M173.4 49.6l3.2.5M149.5 54.6l3.6 1M162.6 47.4l5.9-1M167.1 59.4l4.9-.1M171 38l4.5-.1M167.3 38.2l3.8.5M163.9 41.8l4.3-.2M179.3 48.8l6 1.9M177.2 41.2l2.5.7M179.6 51.2l3.5-.5M174.9 49.7l4.3.4M178.2 39.9l3 1M155 46.1l4.5-1.3M168 36.9l2.3.3M168.4 51.4l3.5 0M152.1 43.9l5 1.2M180.8 51.2l5.1-1M162.4 41.7l5.2-.5M157.6 49.3l5 1.4M162.5 44.6l2.4.6M169.1 47.6l4.7-.7M152.2 52.2l2.4-.3M176.8 53l3.1-.7M159.2 53.9l3.4-1M176 49.8l5.7 1.7M185.8 46.4l5.3-.7M157.2 45.4l5.8 1.6M153.9 44.4l3.5-.3M161 45.1l2.8.1M180.3 49.1l5.3.2M150.5 54.7l5.5-.8M143.1 48.4l4.1.2M163.1 44.4l5.2-1.6M151.3 46.6l2.3-.7M156.6 48.4l2.4.2M140 45.9l4.6-.8M142.2 46.2l4.1.8M147 39.4l5.9.7M149.8 42.6l4.9.7M161.6 40.6l5.3.6M159.9 46.9l5.3 1.4M162.8 44.2l4.1.6M158.5 40.7l3.6-.9M146.5 36.7l2.8-.2M86.8 40.9l2.4.3M132.7 38.9l2.2-.1M120.4 50.5l2.1-.5M94.8 39.5l3 .4M121.1 39.6l2.7-.4M94 48.1l3.3.1M135.3 43.7l3 .8M141.5 41.5l4.2 1.3M113.9 39.5l2.2.7M134.3 42.2l4.1 0M125.1 39.8l2 0M106.8 48.7l4.8.4M93.1 38.5l3.3-.5M138.6 44.3l4.6 1.5M100.1 44.6l2.6.4M137.2 49.2l2.3-.4M128.9 37.6l3.9-.1M144.2 45.4l5.4-.8M133.5 42.7l5.7-1.7M135.9 39.3l4.2.1M93.1 49.3l3.2-.4M87.9 40.9l3.8.6M106 47l2.4-.2M112.6 51.5l5.3.5M128.4 39.8l4.3-.1M134.2 39.3l4.4-.6M107.1 44.6l3.2-.3M108.1 46.7l3-.7M129.8 41.3l5.8.2M129.3 41.3l5.3-1.5M12.4 79l1.9 2.6M12.8 81.4l2.5 2.6M10.2 77.9l1.7.6M22.1 87.4l3 2.3M23.9 92.9l1.7 3M20.5 87.7l2.4.6M19.8 89.6l2 3.3M29.4 97.5l1.3.9M17.8 87.5l1.5 1M23.4 93.4l2.4 2.6M10.8 82.1l2.7 2.6M18.7 87.3l1.1 1.5M41.5 107.6l1.6 2.9M11.6 84l2.8 1.2M9.8 77.7l1.8 2.4M16.4 88.1l1.9 1.6M8.9 81.7l.8 1.7M25.4 93.6l2.5 1.4M37.1 106.9l2.4 2.6M9.3 81.1l1 2M14.4 84l3.3 1.4M27.1 91.9l1.5.7M40.1 109.2l2.7 1.6M29.4 98.4l1.7 1.8M36.5 99.9l1.6 1.3M11.5 80.2l2.7 1.1M25.5 91.7l2.5 1.6M30.6 94.8l3 1.2M40.2 107.1l2.2 1.6M27.8 96.7l1.9 2.8M21.8 93.4l1.7 3.2M20.9 88.8l1.3 2.7M24.9 92.9l1.1 2.4M19 84.6l1.4 3M32 99.8l2.9 1.7M28.8 93.4l1.4 1.1M24.4 91.7l1 1.3M25.8 91.9l1.9 1.3M15.9 81.9l1.4 3.5M28.7 98.7l1.4 2.2M13.2 84l1.2 2.7M8.6 80.2l1.3 1.3M41.9 104.6l1.8 1M19.1 84.8l1.9 3.2M20.8 88.2l2.8.8M5.8 78.5l1.7 1.5M38 107.7l2.5 1.1M15.2 87l3.4 1.6M36.6 102.3l2.5 1M36 106l1.3 1.5M11.6 83.5l1.6.6M32.7 98.5l1.8 3.4M32.9 97.5l1.3 2.9M23.4 88.7l1.8 1M32.6 97.6l1.7.9M29 98.4l1.5 1.8M37.5 104.6l1.8 1.1M38.8 106.3l1.4 1.7M7.6 80.7l1.9 1.8M26.6 91.3l2.6 1.5M210.7 42.2l.5 1.6M215 54l.1 2.2M210 40.7l2.1 3.4M211.4 47.2l-.8 2.3M214.9 47.8l-.2 2.9M211.8 44.7l.2 3.5M210.9 48.3l.2 3.2M215.9 58.7l1.4 3.1M214.8 50.5l-.5 2.5M211.8 55l.2 2.1M212 41.3l1.4 2.4M211.9 50.4l-.8 2.8M214.4 40.1l.2 1.6M213.2 46.4l-.4 2.1M209.7 37.9l.1 3M215.1 54.9l.6 1.8M213.2 36.9l.2 3.1M212 42.4l-.4 1.7M213.8 40l-.2 1.9M211.9 56.1l.3 1.6M214.4 44.6l2 3.4M211.4 47.9l1.7 3.6M211.4 47l.6 1.6M215.9 57.2l.7 2.4M215.4 46l-.7 1.4M212.1 54.4l.7 2M214.6 49.1l-.9 2.5M213.7 44.7l-.1 3.9M212.7 36.9l1.5 2.7M211.5 44.3l0 3.7M195 113.2l1.5 1.9M189.1 111.5l1.9.8M187.7 109.3l1.9.5M188.2 109.1l2 1.1M195.5 114.7l3.5.9M190.9 108.5l3 1.2M190 107.6l1.8.6M188.8 112.2l3.2 1M190.5 108.7l3.5 1.5M193.1 113.6l3.7.2"/>
<path class="cl" stroke-width="1.6" d="M55.4 42.8l14.5.5M56 25.3l3.2-2.2M62.4 29.6l3.2.8M37.7 54.9l5.3.2M142.4 6.2l17.6 0M124.7 11.6l16.1 0M141.9 12.6l12.9-.5M108 13.4l4.3-1M124.1 13.4l17.2.6 5.4 1.6M85.9 18.3l2.2 1.1M97.2 14.5l3.2.8M105.8 22.1l8.6 0M113.4 16.4l6.9.5M128.4 16.1l5.4-.5 8.6 2.7M127.3 19.4l13 1M151.6 18.3l8.4-1.1M83.2 21.8l2.7 1.3M87 24.7l3.8 2.2 3.2-1.1M96.1 28.5l6.5.8M105.3 29.6l8.6 1.1M117.7 25.3l6.4 1.1M85.9 40.3l2.2 1.7M121.4 39.5l4.3 1.9 4.3 1.1M143.5 36.6l8.6.5M144.6 35l6.4.5M155.3 37.1l4.7 2.7M138.1 43.8l9.1.6M130.6 54.9l7.5 2.1M89.1 45.2l6-1.6M123 57l6.5 1.6M164.5 5.6l5.9.3M173.1 7l4.9.3M175.8 12.9l4.3 1.6M165.1 14.8l3.2-.8M168.8 24.2l5.4.3M201.6 31.7l3.8.6M214.6 47.3l2.1-1M213.5 50.6l3.2 0M176.9 49.5l8.1 2.1M160.2 49l2.7 1M180.1 55.4l4.3 2.2M165.6 58.6l3.8.6M23.1 86.9l.6 5.4M76.9 109.2l3.1 0M54.9 70l3.7.1M112.8 61.6l2.2.8M113.4 67l2.1-.3M141.3 93.9l3.3.3M137 66.2l2.2-.3M80 75.5l3 0M88.1 91.2l1 1.3M80 108.7l1.6-.3 1.1 1.4M89.4 108.2l1.1-.9 1.1 1.7 2.9.2M95.3 112.2l1.4 1.1-.6 2.7-.8 2.1M153.2 110.6l1.3-1.4 1.4 1.4-2.7 0M151 119.7l4.3-1.6 4.7-.8M167.2 73.4l4.3 0M169.4 76.1l2.1 0M171 79.4l2.7-.3M185 74.5l2.7 3.3M160.2 102.5l.3-2.7 1.3-1.3 2.2-.3-1.6 1.6-1.6 2.7M181.2 90.1l1.1 2.2M164.5 62.2l3.8 3.2M179.6 68.1l3.8.5M174.2 72.6l1.6-1.3M45.5 143.4l.8 1.6M66.7 126.1l0 2.5 1.1 1 1.1-1.3M69.9 139.9l2.7-2.7M95.1 118.3l1-1.3M161.8 126.7l2.7-.6 2.2.6"/>
<path class="cl" stroke-width="2" d="M117.7 10.5l8 0M131.6 33.4l5.4 2.1-3.2 2.2 1.1 3.2M103.1 49.5l4.9 3.2M172.1 10.8l12.3.5M164.5 21.5l14.6 1.6M210.8 38.7l5.4 2.2M210.3 49.5l6.4-1.1M210.8 51.6l1.6 5.4M210.8 53.8l3.8 5.4M160.2 40.1l5.9 1.3M5.4 76.1l4.3 2.2 2.1 3.2 4.3 3.8 2.2 2.1M10.8 74.5l4.3 4.3 3.2 3.8M26.9 92.3l3.2 4.3 2.2 3.2 5.4 3.2 3.2 2.7M41.4 109.8l2.2 0M69.4 65.9l4.8-1.1M69.9 76.9l1.7-.2M146.7 84.2l2.7-.5M149.4 76.9l1.1 0M149.9 60.5l4.3 0M149.4 63.8l3.2-1.1 1.6-1.1M133.3 111.6l3.7 2.2M136 114.3l3.2 1.1M116.6 111.6l1.1.6M192.5 91.7l3.2-1 4.3-1.1M204.3 111.1l2.7-.5 2.7-2.2 1.6-2.1M186.6 103l3.2 1.9M179.1 107.6l3.2-.3M168.3 107.9l3.2.5M167.2 111.6l1.1.6M160.2 60.8l2.2-.3M172.6 62.7l5.4 1.6M62.4 141.2l1.1 2.2M61.3 152.5l1.1.5M64.6 162.7l1 1.6M123.6 140.1l2.1.6M120.3 159.5l2.7.5M122.5 162.7l1.1.3M109.1 161.7l1.6.5M143.5 169.7l2.7.6M152.1 133.7l4.8 0M138.6 125.1l4.3 1M139.7 120.2l1.1 2.2M162.4 127.8l2.7-1.1M187.7 117.5l3.2 0"/>
<path class="cl" stroke-width="2.6" d="M171.5 43.6l5.4 2.1M96.1 92.3l2.2 1.1M109.3 103.6l2.4 2.1M183.9 111.6l3.8 2.2 3.2 1.6M192.5 112.2l1.1 2.1M213.5 60.5l3.2 2.7M154.2 134.8l2.2 3.7M154.8 138.5l1.6 7M142.9 125.1l3.8-2.7 8.1-2.2 5.2-2.1M160 120.2l2.4-1"/>
<rect class="fr" x="0" y="0" width="219" height="175"/>
<path class="tk" d="M-5.5 160.3H-1M-5.5 131.3H-1M-5.5 102.2H-1M-5.5 73.2H-1M-5.5 44.1H-1M-5.5 15.1H-1M0.3 176V181.2M48.9 176V181.2M97.4 176V181.2M146 176V181.2M194.5 176V181.2"/>
</g>
<text class="s" x="964.2" y="1392.2" font-size="16.72" fill="#000" textLength="27.8" lengthAdjust="spacingAndGlyphs">30N</text>
<text class="s" x="964.2" y="1362.9" font-size="16.72" fill="#000" textLength="27.8" lengthAdjust="spacingAndGlyphs">40N</text>
<text class="s" x="964.2" y="1333.7" font-size="16.72" fill="#000" textLength="27.8" lengthAdjust="spacingAndGlyphs">50N</text>
<text class="s" x="964.2" y="1304.4" font-size="16.72" fill="#000" textLength="27.8" lengthAdjust="spacingAndGlyphs">60N</text>
<text class="s" x="964.2" y="1275.2" font-size="16.72" fill="#000" textLength="27.8" lengthAdjust="spacingAndGlyphs">70N</text>
<text class="s" x="964.2" y="1245.9" font-size="16.72" fill="#000" textLength="27.8" lengthAdjust="spacingAndGlyphs">80N</text>
<text class="s" x="983.8" y="1419.7" font-size="16.28" fill="#000" textLength="36.6" lengthAdjust="spacingAndGlyphs">140W</text>
<text class="s" x="1032.3" y="1419.7" font-size="16.28" fill="#000" textLength="36.6" lengthAdjust="spacingAndGlyphs">120W</text>
<text class="s" x="1080.9" y="1419.7" font-size="16.28" fill="#000" textLength="36.6" lengthAdjust="spacingAndGlyphs">100W</text>
<text class="s" x="1133.5" y="1419.7" font-size="16.28" fill="#000" textLength="28.4" lengthAdjust="spacingAndGlyphs">80W</text>
<text class="s" x="1182.1" y="1419.7" font-size="16.28" fill="#000" textLength="28.4" lengthAdjust="spacingAndGlyphs">60W</text>
<g transform="translate(1001,1470)">
<g class="c"><rect x="94" y="142" width="7" height="9" fill="#ffe878"/><rect x="100" y="142" width="7" height="9" fill="#b4f0fa"/><rect x="215" y="142" width="3" height="9" fill="#3c96f5"/><rect x="82" y="134" width="19" height="10" fill="#ffa000"/><rect x="100" y="134" width="7" height="10" fill="#ffe878"/><rect x="82" y="127" width="25" height="9" fill="#ffa000"/><rect x="100" y="120" width="19" height="9" fill="#ffa000"/><rect x="100" y="113" width="25" height="9" fill="#ff3200"/></g>
<path class="cl" stroke-width="1" d="M.8 45.1l2.2 0 1 1.1 1.6.2.9 1.1 3.5 0 .8-1.2.8 2.4 1-3.2.8 3.2 1.1-3.2 1.6.8 1.4 2.4 1.9-3 .2-1.2 1.9.2.8 1.7 1.4-2.8 2.1-.3.6 1.1 2.1 0 1.9-2 1.1 1.2.8 1.9 2.7.2.5.8 1.6-2.1 1.6 2 1.6.1 1.4-2 4-.1.8 1.1 1.9.1 1.1.8 3.2 0 .8 1.1 3.5 0 .8-1.1 5.7 0 .8 2 .8.6 7 0 1.1.5 2.1-.8 1.1-1.1 3.6 0M59.2 50.6l2.7-1.9.5 1.6 11.8 0 2.2 1.1 2.1 2.9 1.5.3M34.4 38.3l1.1-1.2 2.2-2.7 1.8-.9-1.8-1 .8-1.3 16.4 0 .5 1 2.4.3 1.4 1.4-2.2 1.3-3.2.6-2.2 1.2-3.2.4-1.1 2.1-.8 1-6.2 0-.8-.8-2.4-.3-1.3-1.1-1.4 0M51.1 37.1l1.6 2.7 1.1 1.6 1.6.6 1.1 2.7 1.3 1.6M51.6 37.1l2.2-1.6 3.2-1.1 2.2-.8 4.3.8 1.1 1.1-3.3 1.1 3.3-.3M52.2 39l7 1.1 1.6-.8M64.6 35.5l3.2.3 1.6 1.3 2.2-.5 1.6-1.1 1.6 1.1 2.1-.6 1.1 1.7-.5 1.6 2.5-1.6M76.9 34.4l3.1-.5M41.2 26.4l1.3-1.1 3.8 0 .8-1 1.9 0 1.3-2.1 9.4 0 0 1.5-1.6 1.3 6.5-.5-3.8 1.3-.5 2.7-4.9.8 1.1-2.4-2.7 1.1-1.3.5-.9-1.3-3.2.2-1.1-1.3-6.1.3M51.9 26.4l1.4-1.5 1 1.2-1.3 1.3-1.1-1M61.3 21.5l1.1-1.1 1.1.9 2.7.9 6.4 0 .6-1.5 1.6-1.3-2.7-1.1-2.2.5-4.8.5 1.6.9 3.2.1M60.8 25.3l3.8 1.1 4.8.2 1.6 1.4 1.1-1.4 2.1-2.1 2.7 0 3.1 2.9M71 28l0 1.9 3.8.5 5.2-1.1M61.9 29.3l1.6 1.9 6.4 0 0-1.1M35 53.4l1.9 0M36 55.4l2.7-1.1 4.9.1 1.1-1.1 3.2 0 1.1-1.1 1.6 1.1 4 1 0 2.2-.8 1.1-1.1-1.4-2.7-.2-.5 1.8-2.7.6-1.1 1.3M40.1 58.4l2.4-.3.5-2.1 2.7-.6-1 1.6 3.2-.5 1.1-2.7 2.6 1.6M139.2 8.1l4.3-.6 4.3 1.4-4.3.5M117.7 9.7l8.6-.6 7.5-1.6 5.4.6M149.9 11.3l4.3-.5M105.3 15.6l2.7-2.7 3.2-1.3 6.5-1.9M112.3 14l2.7-1.9 3.7-.5 2.2 1M83.2 17.2l3.8-1.1 5.4 1.4 5.4 1.1 1.6 2.4-8.1.3-4.3-1.4-1.6-1.9-2.2-.8M101.5 18.6l3.2-.3 4.4 1.6 5.3.8M112.3 16.1l8.6 1.1 1.1 1.6-7-.2-2.7-2.5M130.6 17.8l8.6 0M149.4 17.2l10.6-1.6M149.9 20.4l5.4 1.1 4.7-3.7M82.2 21.5l4.3 2.2M120.9 21.5l6.4 1.1M119.8 20.4l6.5-2.6M94 24.7l7.5-.5 2.2 2.7-1.1 2.4-6.5 0-2.1-2.4M80 27.4l3.8-.5-.6 2.2-3.2.5M85.4 29.6l3.2-1.6M105.3 24.2l2.7.5 2.1 2.2 2.2 1.1M106.9 28l5.4.5M113.4 24.7l4.3 1.1 6.4 2.2M123 23.7l5.4 1 5.4-.5 7.5 1.1 3.3-.6M124.1 27.4l7 .6 15.1-1.1 2.7-1.1 1-2.7-8.6-.5M115.5 26.9l1.1 2.7 5.4 1.1 8.6.2 3.2-.8 6.5 1.1 7.5-.5-1.1-1.6-2.1 1M141.3 22.6l10.3.5-1.1 2.2M107.4 33.4l1.7-1.1 12.9 0-4.3 3.2-5.4 1.1M107.4 33.4l1.1 3.2 1.6 2.1 4.3 2.2 3.3 2.1M80 33.9l7-.3-1.1 1.4-2.7-.6 2.2 3.3 1.6 3.2 1.6 1.6 9.2 0M90.2 36.6l2.7-2.7 4.3-1.6 6.5 0 1.6 2.1 1.6 2.7-1.6 2.2-4.9 1-2.6-2.1-3.8-1.1-3.8-.5M101.5 35l2.7 1.6-.5 1.1M121.4 38.7l1.1-3.7 2.2-1.6 5.3-.6 1.6 2.7-1 4.3M130 30.1l1.1 12.9M136.5 33.4l15.1-.3 3.7 1.9 4.7 3.7M104.7 42l4.4-2.7M115 42l3.7 1.6-1 1.6 4.3 4.3 1-2.2 3.3-.5 1 3.8 2.2 2.1 2.1-2.1 1.1-3.3-1.1-3.2 6.5-.5 9.7.5 1.1-2.1 1 2.1 5.4 1.1 4.7 3.2M139.2 45.7l3.2 1.1-2.1 2.7 2.6 2.1-2.6 2.2-5.4-1.1-5.4 2.2 2.1 3.2 4.4-2.1 3.2 2.1M80 45.7l3.2 1.1 1.6 1.6 4.3 2.2 12.4 0 2.2 1 2.1-1 3.3 3.7 0-5.9 4.3-.5-1.1-2.2-5.4-1-3.8 0-3.2 2.6-1.6 0M90.8 44.7l1.6 3.7M95.1 47.3l1.6 0M118.2 55.4l3.8 1.1 3.2 1.6 4.3 1.1M146.7 47.3l2.7-2.6 0 3.2M152.1 51.6l3.2-2.1 4.7 1.1M152.1 51.6l3.2 1.7M149.9 59.2l2.7-1.1 7.4-.5M160.2 6.5l3.2 0 1.1-1.1 6.5 0 .5 1.1 13.5-.2 5.9 1 1.6 2.1 5.4.3.5-1.1 15.1 0 3.2.3M198.4 10.2l4.3.3M209.2 10.5l1.6-1.1M184.4 10l6.5-.3 2.1 1.9-5.3.5-2.2-.8M160.2 16.1l3.8-.5 6.4-3.8 2.2-1.3M163.4 20.4l2.2-1 7-.8 1.1-1.1 8.6-.3 0-1.6-1.6-.8 4.8-.5M173.1 26.4l6 0 1-1.1 1.1 1.1 3.8-.3 1-.8 1.1 1.3 1.1-1.3 1.1 1.1 6.4 0 1.1 1 2.2.3 2.6 3 3.3 1 1.1 3.3 1.6.5-2.2 1.6 0 3.2 1.6.6 2.2-2.2 1.6-1 4.8 2.1M207.6 39.8l2.1.5-.5 2.2 5.4 0-2.7 2.2-4.9 0 1.1 1.6 2.7 0M160.2 39l4.9.8 3.7 1.6 3.3 1.1M173.7 48.4l4.3 1.1 4.3.5 4.3 2.2 3.7 1.1.6 1-3.2 2.7-2.7 2.2M160.2 47.9l2.2.5 2.1 3.2 3.3 2.2 3.7 1.1M159.7 56.5l2.7-3.2 2.1-.6M166.1 52.7l2.2-.5 3.2 1.6 1.1 1.1-3.8.5M174.2 54.9l3.8 0 4.3 0 2.7 2.1M175.3 56l1.6 2.1 3.2.5M.8 72.4l1.9.2 2.1 2.5 4.3.2 2.2-1.9 1.6 1.1 3.2 3.3 2.7 3.7 3.8 1.6 2.7 2.7.5 3.3-1.1 1 2.2 1.6 2.2-.5 2.1 3.2 1.6 2.7-.5 1.6 3.2 1.1 2.2 1.1 2.1 1.6 2.2 2.7.5 2.1M28 100.3l3.2 2.7 3.2 1.7 2.7 1.6.6 2.1M17.2 90.7l3.2-.3-1.6 1.9 2.7 4.3M17.2 90.7l0 2.7 2.2.5M16.1 72.1l2.7 1.1M37.7 108.4l1 3.2.6 2.2.5 3.2-1.1 3M37.7 113.3l3.7 0 1.1 1.6 5.4.2 1.1-1 7.2 0M42.5 105.5l37.5 0M56.2 105.5l0 8.6 1.4 1.3-2.2 3.2.6 1.4M57.8 105.7l.8 3.3 3.3 2.6 1 3.3 2.2 2.7 1.6.8 3.2 0 1.1-1.4 9 0M71 117l0 3M37.1 82.1l1.6 2.1 2.7 1.6 1.6-1.3 1.1 1.1M41.4 85.8l0 1.9M51.1 94.2l.5 1.6 3.3 1.6M54.9 100.1l-1.6 1.9 1 1-1 1.7 0 2.9M49 69.6l4.3-.2.5-.8 1.6 1.4 3.2 0 1.1-1.9-.5-2.7 1.6 1.3 2.7-.2 1.1 1 3.2 0 1.6-2.1 2.7-1.1 3.8 1.1M59.2 71.3l1.1-1.3 4.3.2 2.6-1.6 1.1-1.1M69.9 77.2l2.2-1.6 2.1-1.3 2.7 0 3.1 1M72.1 76.1l3.2.3 4.7-.5M112.3 61.3l2.7 1.1 4.3.3 2.1-1.4 6.5-.2M120.3 62.7l-.5 1.6-2.1 1.1-3.3 1.6-2.1 1.6-1.9 3 0 4.5-1.3.3M110.4 76.1l1.3 1.4 2.7 0 1.1 1.3 0 3.3-1.1.2M115.5 82.1l1.6-.6 3.2 0 1.1.8 3.3 0 1 1.1 1.6 1.6 3.3.3 2.1 2.1 8.1.3 0 5.7 1.1 2.1 2.7 1.6-.3 2.2 1.3-1.6 1.6 2.6 1.1-1.6 1.1-1-.5-1.7.5-1-.5-4.9-1.7-1-.5-.9 2.7 0 2.7-1.3 2.1-1.6.6-3.2-1.1-2.7-1.6-.8-2.2-1.4 1.7-1.6 0-2.2 2.1 0M151.6 73.4l0-1.8-2.2 0M151.6 71.6l0-3.5-1.1-.8 1.6-1.9 2.1.5 3.8.3 1.1 1.1.9-1.9M129.5 60l.5 2.2 2.2.5 1.6 1.6 1.6-1.6 2.7-1.1 6.5 0 1 .8-3.2.8-1.6-1M136.5 65.9l1.6-1.3 1.6.8 1.1-1.1.5 1.1-4.8 1.1M145.4 67.5l1-1 1.1 1-1.1 1.1-1-1.1M92.1 64.6l1.3-1.1 2.2 0 0 1.3-1.6.8-1.6-.2-.3-.8M89.1 84.2l1.1-2.7 1.1-1.9 2.1-1 .3 1.8-1.1 2.2-1.8 1.1-1.7.5M105.3 84.5l1.6 1.1 1.1-1.1M109.3 84.5l1.4-1.4M95.3 92.8l.8-2.1 1.7-.3 1 1.3 2.7 0 1.6-2.6 1.1-1.1 1.6.5M103.1 89.1l-.5 2.1 1.1 1.6 1 1.6.3 3.3 1.9 1-.3 1.6-1.9.6-.2-3.2M97.2 94.4l.6 2.7 2.1 1.6 1.1 2.2 1.6.5M98.3 93.4l3.2 1 2.2 1.1M99.9 92.3l1.6 2.7 1.6 2.7M80 105.5l29.3 0M111.7 106l3.3.8 2.7.8 2.1.3M119.8 107.9l3.2-1.1 2.7-.5 1.1-1.6-1.3-1.7M124.4 102.8l1.1-1.4 1.3 1.4-1.3 1-1.1-1M126.8 104.7l2.7 1 1.1 1.1 3.2 1.1 1.1 1.1.5 2.6-1.1 1.7M125.7 106.3l1.6 1.6 1.1 2.1 3.2.6 2.2 1M119.8 107.9l-.5 2.1 1.6 1.6 2.1 1.1 2.7.6 2.7 1 2.2-.5 3.2-.5 2.2.5 3.2-.5 5.4.5 1.6 1.6.5 2.2-2.1 1M122 111.1l3.7-.3 1.1-1.3M128.4 111.6l5.4-1.6M119.3 110l-2.2 1.6-.5 2.2-1.6 1.6-.6 1.6 1.1 1.6.5 1.4M127.3 116l1.1 1-1.1 3M130.6 114.9l-.6 5.1M137 116l1.6 1-.5 3M140.3 115.4l.5 4.6M143.5 114.9l2.1 2.1-1 1.6M87.3 105.5l0 14.5M80 116.9l7.3 0M87.3 114.3l18 0M104.5 105.5l.8 2.9.5 5.9 1.1 2.2 0 3.5M160.2 65.5l2.7 1.5 1.1 1.3 2.1.3 1.1 1.6 4.3 0 .3 3.8 1.3 1.3 1.6 2.5 1.1 1.3 1.1-.8 3.2-1.1 1.1-2.1 1.1-2.2 2.1-.3 1.1 2.5 2.2 2.1 1.6 2.2 1.6 1 .5 1.7-2.7.5 2.2 1.6 1.6 1.1 1.6 1.6 2.7.5 2.7.8 1.6 1.9 2.7 1.1 1.1 1.6-.6 1.6.6 2.7-1.1 1.1-2.2 0M200.6 90.1l0 2.7M201.6 98.2l-3.7.3-2.2 2.7-2.7.2-13.9 0-1.7 1.6M177.4 103l-2.1 1.7-2.7.5-.5 2.1-3.8 0M201.6 98.7l-1 2.2-1.1 2.1-1.1 2.2-1.6 1.6-.5 2.2 2.1.2 5.4 0 .5-.8 1.1 1.1 2.7-.5 1.6-1.7 1.6-.5-1-2.1-2.7-.9-3.3-.2-.5-1.1-1.1.5 1.1-2.1.5-2.2M209.7 110.6l1.6 1.6 1.1-1.6-1.1-2.2M179.1 103l3.2-.5 3.2 0 2.2 1.1 2.1 1.6M173.7 106.3l1.6-1.6 2.7-.6 4.3.3 1.6.8-.5 1.6-2.2.5-2.7.6M172.1 107.3l.5 2.7 2.7.3.5 4 1.6 1.7 3.8.2 1.6-1.3-.5-2.2 1.1-2.1-.6-2.2M188.7 110.6l2.2-1.4 1.1.3M184.4 116l3.3 1 3.2-.5 2.1-.5 1.7-2.2M178 120l2.1-2.4 4.3.5M182.3 119.7l3.2-1.1M172.1 107.3l-1.7 2.2-1.6 2.1-1.6 1.1M170.4 111.1l-1.6 3.8-1.6 2.1-7 .3M162.4 117.6l.5 2.4M165.6 118.1l.5 1.9M172.1 97.9l1.3-1.6 1.3 1.6-1.3 2.4-1.3-2.4M178 88.2l1.3 1.9 1.9.8.5 1.6 1.1-1.8 2.2.8 1.9-1.1M180.7 89.1l1.6-.9 1.6.3M162.9 60.5l3.2 2.7 2.2 2.2 3.2.5 4.3 1.1 3.3.5 3.2 1.6 1.6-2.6-1.6-1.1M182.3 61.1l1.1 3.2M39.5 117l0 1.9-1 .5 0 5.7M38.5 125.3l0 6.2 1 .8 0 2.2 1.4 1.1 1.6 1.6.5 1.3 1.4.8 0 3 1.1 1.6.8 1.1 1 2.1 1.7 1.1 2.6 0 1.7 1.6 2.1 1.1.3 2.7.8.5 0 2.4 1.3 1.7 1.4 2.4 1.6 1.6 2.1 1.6.6 2.2-1.1 1.3-2.1 0M62.4 167.3l.3 1.9 1.9 1.1 2.1 1.6 1.9 1.9M43.6 136.1l1.9.5.2 1.1M43 137.4l1.1 1.1M38.5 125.3l31.4 0M48.4 125.6l0 8.9 3.2 1.1 1.7 2.9 1 1.6 2.7 1.6 2.2 1.1 1.6 2.2M63.8 125.6l0 15.1M63.8 140.7l-3 4.3 1.6 1.3.3 1.9 1.1.3-1.4 1.3-.5 1.6-1.6 1.6M55.7 153.6l4.6-.6M56.5 117l-1.1 1.6 1.1 1.1 0 5.6M64.6 117.5l2.1.8 3.8 0M70.5 118.3l0 10 9.5 0M75.6 128.6l0 27.4M64 140.4l16 0M61.3 154.1l3.8 0 3.2 2.4 9.2 0 .5-1 2 0M61.3 155.5l.3 4.5 1.3 1.7 2.2 1.6M61.9 155.5l2.7 1 2.1 3 .3 2.2.8 2.1 2.1 2.2 2.7 1.3-1 1.1 2.6 1.9.6 2.7 2.1.8M65.1 163.3l1.6 2.1 0 2.2 1.6 2.7 1.6 2.7.6.8M87.5 117l0 11.3M80 128.3l12.4 0M87.5 122.4l11.9 0 2.1.8 3.8.3 1.1 1.6.5 2.1 1.1 2.2 1.3 2.1.8 2.2.3 7M92.4 128.3l0 12.1M92.4 131.5l16.1 0M80 140.4l30.4 0M110.4 140.4l.3 1.9M90.8 140.7l0 14.8-10.8 0M92.1 142.3l5.1 0 .6 5.4 1.6.5 2.1 1.1 2.7.8 1.6-.3 2.7-.5 1.9 0M110.4 142.3l.8 2.7.3 2.1-1.1 2.2 1.3 2.7 0 2.7 1.1 2.1-.5 2.7.5 1.6M110.7 142.3l11.3 0M111.7 152.2l7 0M99.4 120.2l.2 1.9M106.4 117l0 4-1.1.6 1.6.8M106.4 121.2l11.3 0M114.4 117l2.2 2.2 2.1 2.1 1.1 2.2 1.6 1.6-.2 1.6-1.9 1.9-1.6 1M108 129.6l9.7 0M117.7 129.6l1 2.5 2.2 3.2 2.1 3.8 1.7 1.6M120.9 124.5l6.4 0M127.3 117l-.5 2.2.5 3.2 0 2.1 0 11.3-1 1.1.5 3.2-.5 3.3M124.7 140.7l-2.7 2.1-1.1 3.3-1.1 2.6-1.1 2.7.6 3.3-1.6 2.4 3.2.2 1.6.6.5 2.1M112.8 161.1l2.7 1.6 2.2-1 1.6 1.6 2.7-.6M123 160l2.7-.5 1.6 1.1M80 155.7l2.7 1.6 2.7 1.7 1.6 3.2 1.6 1.3 1.6-.2 1.1-1.6 3.2 0 1.6 3.2 2.7 2.7 0 2.1 1.6 1.6 2.7 1.1 1.6 1.1M104.7 173.5l-1.6-3.8.6-2.1 2.7-2.7 2.7-1.1 1-2.1 2.7-.6M125.7 147.1l0 12.4M122 146.1l13.4 0M122 142.3l4.8 0M126.3 140.9l29 0M132.2 146.3l1.1 4.1 1 3.7-.5 3.2M127.3 157.3l6.5 0M133.8 157.3l2.7 1.1 4.8.6 1.1-1.1M127.3 157.3l1.1 1.7 2.7 1 2.2 2.2 1-1.6 2.7-.6M137 160l1.6 2.7 1.1 2.7 0 2.2 1.6 2.1 1.1 3.8M142.4 159l1.1 3.7 1.1 2.7.5 3.2.5 2.2 0 2.7M148.3 170.3l3.8 0 1.6 1-1.6 1.1M135.4 146.1l2.7-1.1 5.4 0 3.2 1.1 2.7 3.2 2.2-.6M138.1 146.3l1.6 3 1.6 1.6 1.1 2.7 1.1 1.1M143.5 154.7l-1.1 3.2M155.3 145l-2.1 2.1-1.6 1.6-2.2 1.1-2.7 2.2-3.2 2.7M127.3 135.8l2.2 1.6 2.1-1 2.2-1.1 1.1-.5M134.9 126.7l0 8.1M127.9 126.7l11.3 0M134.9 134.8l4.3.5 1.6 1.6 1.1 1.6 2.7.6 2.1-2.2 2.2-2.7 1-1.1M140.8 135.3l2.1-2.2 3.3-.5M144.6 126.1l0 6 12.9 0M144.6 126.1l13.4-.5M158 125.6l1.1 1.6-1.6 2.2 1 2.7M139.2 140.7l2.7 1.6-1.1 1.1-3.8.5-2.1 2.2M149.9 133.1l1.1 1.7 3.2 1.6 1.1 2.1M156.4 145.5l1.6 0M130.6 117l0 8.6M136 120.2l3.2.6 1.1 1.6-1.7 2.1.6 2.2M138.1 117l-1.1 2.2M142.4 117l-.5 1.6M162.4 117.5l0 6.5-1.1 1.6 0 2.2M162.4 118.1l5.4-.6.5 3.8.5 2.7 1.1 1.6 1.1 1.1-1.6 1.1-3.3 0-1.6 1.8-3.7 0-.6 3M168.3 121.3l3.2-1.3 4.3-1.7 2.2-1.3M164 119.2l2.1.5-1.6 1.6-.5 1.6M162.9 124l4.3 0 .6 1.6M179.3 118.6l1.4 2.7 1.6 0 1.1-2.1 3.2-1.1 4.3-.6M118.2 20.4l5.7-.1M122.6 21.1l2.8 0M132.4 26l2.4-.3M137.5 8l5.9 1.9M134.3 21.8l2.6-.9M124.3 8.4l2.7-.5M84.4 18.1l3.8.9M123.5 22.4l4 .4M118.6 13.7l6 2.1M149.2 24l3.3-.6M105.1 8.7l5.1-.4M149.7 16.3l5.9 1.4M154.8 18.3l5.9-.4M87.8 22.1l5.2-.8M89 15l5.8 1M91.4 12.9l2.4-.7M145.8 11.3l4.2-.2M97.3 24.6l2.5.2M91.3 17.1l2.9-.5M106.3 28.2l2.9-.2M150.4 22.4l2.4.8M99.1 13.2l5.1-.6M105.7 8.8l2.4.1M101.4 21.4l3.5-.1M158.7 18.6l4.3 1.1M96.6 10.7l5.7 1.3M102 11.6l4.9 1.5M152.6 21.5l3.7-1M101.1 23.9l3 .7M129.7 14l2.7.5M126.7 27.5l4.5-.7M117.7 8.5l2.7-.3M127.8 10.2l3.4.9M137.3 21l2.6-.8M83.7 22.3l3.9.6M88 20.1l5 1.4M141 23.9l5.1 1.5M110.1 23.4l5.7 1.5M115.4 26l5.4.3M132 16.2l4.3.3M88.4 22.3l6 1.6M140.3 16.3l4.9.3M117.2 27.1l2.4.4M84.4 21.4l3.9-.7M137.9 18.9l4.4 1.3M106.1 23.3l2.8-.7M154.5 22.8l3.7 1.1M108.2 23l2.8-.2M152.4 16.2l4.4-.5M92.9 18.9l5.3 1.3M138.9 29.8l3.1-.7M118.1 13.6l2.8-.2M132.1 18.9l3.2.7M160.6 17.9l2.3-.8M138.7 20.7l3.2.7M118.4 7.6l5.3-1M132.3 17.7l4.6.5M136.8 11.8l3.9-.9M82.9 18.3l4.8-1.1M103.8 15.3l4.8.1M131.2 25.1l3.5.8M156.6 24.3l2.5 0M132 28.8l3.6.2M152.3 26.1l5.8-.1M134.1 11.9l4.9 1.1M133.3 24.2l2.9.8M125 26l3.2.9M150.5 15.4l2.3-.1M126 25.4l4-1.3M146 11.1l3.3.7M86.9 31l5.4.7M111 26.9l5.8-1.7M70.4 27.5l3.2.5M93.8 27.4l5.4.2M75.5 24.9l5.3 1.5M69.7 33.3l5.8.1M90.1 21.6l4.1 0M91.9 18.5l5.9.1M80.4 32.4l4.3 0M96.7 19.2l4.2-.3M73.1 26.5l2.5-.1M84.7 23.7l2.8.2M68.9 22.1l4.7-.6M77.9 29.2l2.4.3M64.9 27.2l3-.6M87.7 25.9l3.5-.3M87.6 20.9l2.9.2M93.8 27.5l5.4.5M106 22.2l4.9 1.1M108.5 23.7l3.3 1M71.4 31.1l3-.9M104.6 25.6l5.2-1.4M134.2 33l2-.5M150.9 36.6l5.9-1.6M140.3 34.1l4.1.6M143.1 30.2l4.3-1M121.1 25.3l5.3 1.8M137.7 34.2l3.3 0M140.9 28.9l4.4-1.5M152.1 35.5l2.7-.1M154.4 28.5l2.7-.7M140.8 22.2l5.5 1.2M152.3 35.8l4.5-.3M146 30.1l5.9 1.2M125.5 36.6l5 .9M158.9 28.5l5.6 1.5M151.7 34.3l5-.4M153.4 23.1l3.3 0M148.3 32l3 .9M150 27.4l4.6.2M142 28.2l6 .6M152.1 34.2l5.9-2M146.9 33.8l3.1-.2M132.5 23.6l3 .8M143 30.1l5.9.3M145.9 34.1l2.1.7M119.6 29.5l2.7 0M171.3 36.5l5.8-.3M167.3 50.5l3.4-.5M173.4 49.6l3.2.5M149.5 54.6l3.6 1M162.6 47.4l5.9-1M167.1 59.4l4.9-.1M171 38l4.5-.1M167.3 38.2l3.8.5M163.9 41.8l4.3-.2M179.3 48.8l6 1.9M177.2 41.2l2.5.7M179.6 51.2l3.5-.5M174.9 49.7l4.3.4M178.2 39.9l3 1M155 46.1l4.5-1.3M168 36.9l2.3.3M168.4 51.4l3.5 0M152.1 43.9l5 1.2M180.8 51.2l5.1-1M162.4 41.7l5.2-.5M157.6 49.3l5 1.4M162.5 44.6l2.4.6M169.1 47.6l4.7-.7M152.2 52.2l2.4-.3M176.8 53l3.1-.7M159.2 53.9l3.4-1M176 49.8l5.7 1.7M185.8 46.4l5.3-.7M157.2 45.4l5.8 1.6M153.9 44.4l3.5-.3M161 45.1l2.8.1M180.3 49.1l5.3.2M150.5 54.7l5.5-.8M143.1 48.4l4.1.2M163.1 44.4l5.2-1.6M151.3 46.6l2.3-.7M156.6 48.4l2.4.2M140 45.9l4.6-.8M142.2 46.2l4.1.8M147 39.4l5.9.7M149.8 42.6l4.9.7M161.6 40.6l5.3.6M159.9 46.9l5.3 1.4M162.8 44.2l4.1.6M158.5 40.7l3.6-.9M146.5 36.7l2.8-.2M86.8 40.9l2.4.3M132.7 38.9l2.2-.1M120.4 50.5l2.1-.5M94.8 39.5l3 .4M121.1 39.6l2.7-.4M94 48.1l3.3.1M135.3 43.7l3 .8M141.5 41.5l4.2 1.3M113.9 39.5l2.2.7M134.3 42.2l4.1 0M125.1 39.8l2 0M106.8 48.7l4.8.4M93.1 38.5l3.3-.5M138.6 44.3l4.6 1.5M100.1 44.6l2.6.4M137.2 49.2l2.3-.4M128.9 37.6l3.9-.1M144.2 45.4l5.4-.8M133.5 42.7l5.7-1.7M135.9 39.3l4.2.1M93.1 49.3l3.2-.4M87.9 40.9l3.8.6M106 47l2.4-.2M112.6 51.5l5.3.5M128.4 39.8l4.3-.1M134.2 39.3l4.4-.6M107.1 44.6l3.2-.3M108.1 46.7l3-.7M129.8 41.3l5.8.2M129.3 41.3l5.3-1.5M12.4 79l1.9 2.6M12.8 81.4l2.5 2.6M10.2 77.9l1.7.6M22.1 87.4l3 2.3M23.9 92.9l1.7 3M20.5 87.7l2.4.6M19.8 89.6l2 3.3M29.4 97.5l1.3.9M17.8 87.5l1.5 1M23.4 93.4l2.4 2.6M10.8 82.1l2.7 2.6M18.7 87.3l1.1 1.5M41.5 107.6l1.6 2.9M11.6 84l2.8 1.2M9.8 77.7l1.8 2.4M16.4 88.1l1.9 1.6M8.9 81.7l.8 1.7M25.4 93.6l2.5 1.4M37.1 106.9l2.4 2.6M9.3 81.1l1 2M14.4 84l3.3 1.4M27.1 91.9l1.5.7M40.1 109.2l2.7 1.6M29.4 98.4l1.7 1.8M36.5 99.9l1.6 1.3M11.5 80.2l2.7 1.1M25.5 91.7l2.5 1.6M30.6 94.8l3 1.2M40.2 107.1l2.2 1.6M27.8 96.7l1.9 2.8M21.8 93.4l1.7 3.2M20.9 88.8l1.3 2.7M24.9 92.9l1.1 2.4M19 84.6l1.4 3M32 99.8l2.9 1.7M28.8 93.4l1.4 1.1M24.4 91.7l1 1.3M25.8 91.9l1.9 1.3M15.9 81.9l1.4 3.5M28.7 98.7l1.4 2.2M13.2 84l1.2 2.7M8.6 80.2l1.3 1.3M41.9 104.6l1.8 1M19.1 84.8l1.9 3.2M20.8 88.2l2.8.8M5.8 78.5l1.7 1.5M38 107.7l2.5 1.1M15.2 87l3.4 1.6M36.6 102.3l2.5 1M36 106l1.3 1.5M11.6 83.5l1.6.6M32.7 98.5l1.8 3.4M32.9 97.5l1.3 2.9M23.4 88.7l1.8 1M32.6 97.6l1.7.9M29 98.4l1.5 1.8M37.5 104.6l1.8 1.1M38.8 106.3l1.4 1.7M7.6 80.7l1.9 1.8M26.6 91.3l2.6 1.5M210.7 42.2l.5 1.6M215 54l.1 2.2M210 40.7l2.1 3.4M211.4 47.2l-.8 2.3M214.9 47.8l-.2 2.9M211.8 44.7l.2 3.5M210.9 48.3l.2 3.2M215.9 58.7l1.4 3.1M214.8 50.5l-.5 2.5M211.8 55l.2 2.1M212 41.3l1.4 2.4M211.9 50.4l-.8 2.8M214.4 40.1l.2 1.6M213.2 46.4l-.4 2.1M209.7 37.9l.1 3M215.1 54.9l.6 1.8M213.2 36.9l.2 3.1M212 42.4l-.4 1.7M213.8 40l-.2 1.9M211.9 56.1l.3 1.6M214.4 44.6l2 3.4M211.4 47.9l1.7 3.6M211.4 47l.6 1.6M215.9 57.2l.7 2.4M215.4 46l-.7 1.4M212.1 54.4l.7 2M214.6 49.1l-.9 2.5M213.7 44.7l-.1 3.9M212.7 36.9l1.5 2.7M211.5 44.3l0 3.7M195 113.2l1.5 1.9M189.1 111.5l1.9.8M187.7 109.3l1.9.5M188.2 109.1l2 1.1M195.5 114.7l3.5.9M190.9 108.5l3 1.2M190 107.6l1.8.6M188.8 112.2l3.2 1M190.5 108.7l3.5 1.5M193.1 113.6l3.7.2"/>
<path class="cl" stroke-width="1.6" d="M55.4 42.8l14.5.5M56 25.3l3.2-2.2M62.4 29.6l3.2.8M37.7 54.9l5.3.2M142.4 6.2l17.6 0M124.7 11.6l16.1 0M141.9 12.6l12.9-.5M108 13.4l4.3-1M124.1 13.4l17.2.6 5.4 1.6M85.9 18.3l2.2 1.1M97.2 14.5l3.2.8M105.8 22.1l8.6 0M113.4 16.4l6.9.5M128.4 16.1l5.4-.5 8.6 2.7M127.3 19.4l13 1M151.6 18.3l8.4-1.1M83.2 21.8l2.7 1.3M87 24.7l3.8 2.2 3.2-1.1M96.1 28.5l6.5.8M105.3 29.6l8.6 1.1M117.7 25.3l6.4 1.1M85.9 40.3l2.2 1.7M121.4 39.5l4.3 1.9 4.3 1.1M143.5 36.6l8.6.5M144.6 35l6.4.5M155.3 37.1l4.7 2.7M138.1 43.8l9.1.6M130.6 54.9l7.5 2.1M89.1 45.2l6-1.6M123 57l6.5 1.6M164.5 5.6l5.9.3M173.1 7l4.9.3M175.8 12.9l4.3 1.6M165.1 14.8l3.2-.8M168.8 24.2l5.4.3M201.6 31.7l3.8.6M214.6 47.3l2.1-1M213.5 50.6l3.2 0M176.9 49.5l8.1 2.1M160.2 49l2.7 1M180.1 55.4l4.3 2.2M165.6 58.6l3.8.6M23.1 86.9l.6 5.4M76.9 109.2l3.1 0M54.9 70l3.7.1M112.8 61.6l2.2.8M113.4 67l2.1-.3M141.3 93.9l3.3.3M137 66.2l2.2-.3M80 75.5l3 0M88.1 91.2l1 1.3M80 108.7l1.6-.3 1.1 1.4M89.4 108.2l1.1-.9 1.1 1.7 2.9.2M95.3 112.2l1.4 1.1-.6 2.7-.8 2.1M153.2 110.6l1.3-1.4 1.4 1.4-2.7 0M151 119.7l4.3-1.6 4.7-.8M167.2 73.4l4.3 0M169.4 76.1l2.1 0M171 79.4l2.7-.3M185 74.5l2.7 3.3M160.2 102.5l.3-2.7 1.3-1.3 2.2-.3-1.6 1.6-1.6 2.7M181.2 90.1l1.1 2.2M164.5 62.2l3.8 3.2M179.6 68.1l3.8.5M174.2 72.6l1.6-1.3M45.5 143.4l.8 1.6M66.7 126.1l0 2.5 1.1 1 1.1-1.3M69.9 139.9l2.7-2.7M95.1 118.3l1-1.3M161.8 126.7l2.7-.6 2.2.6"/>
<path class="cl" stroke-width="2" d="M117.7 10.5l8 0M131.6 33.4l5.4 2.1-3.2 2.2 1.1 3.2M103.1 49.5l4.9 3.2M172.1 10.8l12.3.5M164.5 21.5l14.6 1.6M210.8 38.7l5.4 2.2M210.3 49.5l6.4-1.1M210.8 51.6l1.6 5.4M210.8 53.8l3.8 5.4M160.2 40.1l5.9 1.3M5.4 76.1l4.3 2.2 2.1 3.2 4.3 3.8 2.2 2.1M10.8 74.5l4.3 4.3 3.2 3.8M26.9 92.3l3.2 4.3 2.2 3.2 5.4 3.2 3.2 2.7M41.4 109.8l2.2 0M69.4 65.9l4.8-1.1M69.9 76.9l1.7-.2M146.7 84.2l2.7-.5M149.4 76.9l1.1 0M149.9 60.5l4.3 0M149.4 63.8l3.2-1.1 1.6-1.1M133.3 111.6l3.7 2.2M136 114.3l3.2 1.1M116.6 111.6l1.1.6M192.5 91.7l3.2-1 4.3-1.1M204.3 111.1l2.7-.5 2.7-2.2 1.6-2.1M186.6 103l3.2 1.9M179.1 107.6l3.2-.3M168.3 107.9l3.2.5M167.2 111.6l1.1.6M160.2 60.8l2.2-.3M172.6 62.7l5.4 1.6M62.4 141.2l1.1 2.2M61.3 152.5l1.1.5M64.6 162.7l1 1.6M123.6 140.1l2.1.6M120.3 159.5l2.7.5M122.5 162.7l1.1.3M109.1 161.7l1.6.5M143.5 169.7l2.7.6M152.1 133.7l4.8 0M138.6 125.1l4.3 1M139.7 120.2l1.1 2.2M162.4 127.8l2.7-1.1M187.7 117.5l3.2 0"/>
<path class="cl" stroke-width="2.6" d="M171.5 43.6l5.4 2.1M96.1 92.3l2.2 1.1M109.3 103.6l2.4 2.1M183.9 111.6l3.8 2.2 3.2 1.6M192.5 112.2l1.1 2.1M213.5 60.5l3.2 2.7M154.2 134.8l2.2 3.7M154.8 138.5l1.6 7M142.9 125.1l3.8-2.7 8.1-2.2 5.2-2.1M160 120.2l2.4-1"/>
<rect class="fr" x="0" y="0" width="219" height="175"/>
<path class="tk" d="M-5.5 160.3H-1M-5.5 131.3H-1M-5.5 102.2H-1M-5.5 73.2H-1M-5.5 44.1H-1M-5.5 15.1H-1M0.3 176V181.2M48.9 176V181.2M97.4 176V181.2M146 176V181.2M194.5 176V181.2"/>
</g>
<text class="s" x="964.2" y="1637.2" font-size="16.72" fill="#000" textLength="27.8" lengthAdjust="spacingAndGlyphs">30N</text>
<text class="s" x="964.2" y="1607.9" font-size="16.72" fill="#000" textLength="27.8" lengthAdjust="spacingAndGlyphs">40N</text>
<text class="s" x="964.2" y="1578.7" font-size="16.72" fill="#000" textLength="27.8" lengthAdjust="spacingAndGlyphs">50N</text>
<text class="s" x="964.2" y="1549.4" font-size="16.72" fill="#000" textLength="27.8" lengthAdjust="spacingAndGlyphs">60N</text>
<text class="s" x="964.2" y="1520.2" font-size="16.72" fill="#000" textLength="27.8" lengthAdjust="spacingAndGlyphs">70N</text>
<text class="s" x="964.2" y="1490.9" font-size="16.72" fill="#000" textLength="27.8" lengthAdjust="spacingAndGlyphs">80N</text>
<text class="s" x="983.8" y="1664.7" font-size="16.28" fill="#000" textLength="36.6" lengthAdjust="spacingAndGlyphs">140W</text>
<text class="s" x="1032.3" y="1664.7" font-size="16.28" fill="#000" textLength="36.6" lengthAdjust="spacingAndGlyphs">120W</text>
<text class="s" x="1080.9" y="1664.7" font-size="16.28" fill="#000" textLength="36.6" lengthAdjust="spacingAndGlyphs">100W</text>
<text class="s" x="1133.5" y="1664.7" font-size="16.28" fill="#000" textLength="28.4" lengthAdjust="spacingAndGlyphs">80W</text>
<text class="s" x="1182.1" y="1664.7" font-size="16.28" fill="#000" textLength="28.4" lengthAdjust="spacingAndGlyphs">60W</text>
<g transform="translate(1001,1715)">
<g class="c"><rect x="94" y="142" width="13" height="9" fill="#ffe878"/><rect x="215" y="142" width="3" height="9" fill="#ff3200"/><rect x="82" y="134" width="25" height="10" fill="#ffe878"/><rect x="82" y="127" width="7" height="9" fill="#ffe878"/><rect x="88" y="127" width="13" height="9" fill="#ffa000"/><rect x="100" y="127" width="7" height="9" fill="#ffe878"/><rect x="100" y="120" width="7" height="9" fill="#ffa000"/><rect x="106" y="120" width="7" height="9" fill="#ffe878"/><rect x="112" y="120" width="7" height="9" fill="#b4f0fa"/><rect x="100" y="113" width="7" height="9" fill="#ffa000"/><rect x="106" y="113" width="13" height="9" fill="#ffe878"/><rect x="118" y="113" width="7" height="9" fill="#b4f0fa"/></g>
<path class="cl" stroke-width="1" d="M.8 45.1l2.2 0 1 1.1 1.6.2.9 1.1 3.5 0 .8-1.2.8 2.4 1-3.2.8 3.2 1.1-3.2 1.6.8 1.4 2.4 1.9-3 .2-1.2 1.9.2.8 1.7 1.4-2.8 2.1-.3.6 1.1 2.1 0 1.9-2 1.1 1.2.8 1.9 2.7.2.5.8 1.6-2.1 1.6 2 1.6.1 1.4-2 4-.1.8 1.1 1.9.1 1.1.8 3.2 0 .8 1.1 3.5 0 .8-1.1 5.7 0 .8 2 .8.6 7 0 1.1.5 2.1-.8 1.1-1.1 3.6 0M59.2 50.6l2.7-1.9.5 1.6 11.8 0 2.2 1.1 2.1 2.9 1.5.3M34.4 38.3l1.1-1.2 2.2-2.7 1.8-.9-1.8-1 .8-1.3 16.4 0 .5 1 2.4.3 1.4 1.4-2.2 1.3-3.2.6-2.2 1.2-3.2.4-1.1 2.1-.8 1-6.2 0-.8-.8-2.4-.3-1.3-1.1-1.4 0M51.1 37.1l1.6 2.7 1.1 1.6 1.6.6 1.1 2.7 1.3 1.6M51.6 37.1l2.2-1.6 3.2-1.1 2.2-.8 4.3.8 1.1 1.1-3.3 1.1 3.3-.3M52.2 39l7 1.1 1.6-.8M64.6 35.5l3.2.3 1.6 1.3 2.2-.5 1.6-1.1 1.6 1.1 2.1-.6 1.1 1.7-.5 1.6 2.5-1.6M76.9 34.4l3.1-.5M41.2 26.4l1.3-1.1 3.8 0 .8-1 1.9 0 1.3-2.1 9.4 0 0 1.5-1.6 1.3 6.5-.5-3.8 1.3-.5 2.7-4.9.8 1.1-2.4-2.7 1.1-1.3.5-.9-1.3-3.2.2-1.1-1.3-6.1.3M51.9 26.4l1.4-1.5 1 1.2-1.3 1.3-1.1-1M61.3 21.5l1.1-1.1 1.1.9 2.7.9 6.4 0 .6-1.5 1.6-1.3-2.7-1.1-2.2.5-4.8.5 1.6.9 3.2.1M60.8 25.3l3.8 1.1 4.8.2 1.6 1.4 1.1-1.4 2.1-2.1 2.7 0 3.1 2.9M71 28l0 1.9 3.8.5 5.2-1.1M61.9 29.3l1.6 1.9 6.4 0 0-1.1M35 53.4l1.9 0M36 55.4l2.7-1.1 4.9.1 1.1-1.1 3.2 0 1.1-1.1 1.6 1.1 4 1 0 2.2-.8 1.1-1.1-1.4-2.7-.2-.5 1.8-2.7.6-1.1 1.3M40.1 58.4l2.4-.3.5-2.1 2.7-.6-1 1.6 3.2-.5 1.1-2.7 2.6 1.6M139.2 8.1l4.3-.6 4.3 1.4-4.3.5M117.7 9.7l8.6-.6 7.5-1.6 5.4.6M149.9 11.3l4.3-.5M105.3 15.6l2.7-2.7 3.2-1.3 6.5-1.9M112.3 14l2.7-1.9 3.7-.5 2.2 1M83.2 17.2l3.8-1.1 5.4 1.4 5.4 1.1 1.6 2.4-8.1.3-4.3-1.4-1.6-1.9-2.2-.8M101.5 18.6l3.2-.3 4.4 1.6 5.3.8M112.3 16.1l8.6 1.1 1.1 1.6-7-.2-2.7-2.5M130.6 17.8l8.6 0M149.4 17.2l10.6-1.6M149.9 20.4l5.4 1.1 4.7-3.7M82.2 21.5l4.3 2.2M120.9 21.5l6.4 1.1M119.8 20.4l6.5-2.6M94 24.7l7.5-.5 2.2 2.7-1.1 2.4-6.5 0-2.1-2.4M80 27.4l3.8-.5-.6 2.2-3.2.5M85.4 29.6l3.2-1.6M105.3 24.2l2.7.5 2.1 2.2 2.2 1.1M106.9 28l5.4.5M113.4 24.7l4.3 1.1 6.4 2.2M123 23.7l5.4 1 5.4-.5 7.5 1.1 3.3-.6M124.1 27.4l7 .6 15.1-1.1 2.7-1.1 1-2.7-8.6-.5M115.5 26.9l1.1 2.7 5.4 1.1 8.6.2 3.2-.8 6.5 1.1 7.5-.5-1.1-1.6-2.1 1M141.3 22.6l10.3.5-1.1 2.2M107.4 33.4l1.7-1.1 12.9 0-4.3 3.2-5.4 1.1M107.4 33.4l1.1 3.2 1.6 2.1 4.3 2.2 3.3 2.1M80 33.9l7-.3-1.1 1.4-2.7-.6 2.2 3.3 1.6 3.2 1.6 1.6 9.2 0M90.2 36.6l2.7-2.7 4.3-1.6 6.5 0 1.6 2.1 1.6 2.7-1.6 2.2-4.9 1-2.6-2.1-3.8-1.1-3.8-.5M101.5 35l2.7 1.6-.5 1.1M121.4 38.7l1.1-3.7 2.2-1.6 5.3-.6 1.6 2.7-1 4.3M130 30.1l1.1 12.9M136.5 33.4l15.1-.3 3.7 1.9 4.7 3.7M104.7 42l4.4-2.7M115 42l3.7 1.6-1 1.6 4.3 4.3 1-2.2 3.3-.5 1 3.8 2.2 2.1 2.1-2.1 1.1-3.3-1.1-3.2 6.5-.5 9.7.5 1.1-2.1 1 2.1 5.4 1.1 4.7 3.2M139.2 45.7l3.2 1.1-2.1 2.7 2.6 2.1-2.6 2.2-5.4-1.1-5.4 2.2 2.1 3.2 4.4-2.1 3.2 2.1M80 45.7l3.2 1.1 1.6 1.6 4.3 2.2 12.4 0 2.2 1 2.1-1 3.3 3.7 0-5.9 4.3-.5-1.1-2.2-5.4-1-3.8 0-3.2 2.6-1.6 0M90.8 44.7l1.6 3.7M95.1 47.3l1.6 0M118.2 55.4l3.8 1.1 3.2 1.6 4.3 1.1M146.7 47.3l2.7-2.6 0 3.2M152.1 51.6l3.2-2.1 4.7 1.1M152.1 51.6l3.2 1.7M149.9 59.2l2.7-1.1 7.4-.5M160.2 6.5l3.2 0 1.1-1.1 6.5 0 .5 1.1 13.5-.2 5.9 1 1.6 2.1 5.4.3.5-1.1 15.1 0 3.2.3M198.4 10.2l4.3.3M209.2 10.5l1.6-1.1M184.4 10l6.5-.3 2.1 1.9-5.3.5-2.2-.8M160.2 16.1l3.8-.5 6.4-3.8 2.2-1.3M163.4 20.4l2.2-1 7-.8 1.1-1.1 8.6-.3 0-1.6-1.6-.8 4.8-.5M173.1 26.4l6 0 1-1.1 1.1 1.1 3.8-.3 1-.8 1.1 1.3 1.1-1.3 1.1 1.1 6.4 0 1.1 1 2.2.3 2.6 3 3.3 1 1.1 3.3 1.6.5-2.2 1.6 0 3.2 1.6.6 2.2-2.2 1.6-1 4.8 2.1M207.6 39.8l2.1.5-.5 2.2 5.4 0-2.7 2.2-4.9 0 1.1 1.6 2.7 0M160.2 39l4.9.8 3.7 1.6 3.3 1.1M173.7 48.4l4.3 1.1 4.3.5 4.3 2.2 3.7 1.1.6 1-3.2 2.7-2.7 2.2M160.2 47.9l2.2.5 2.1 3.2 3.3 2.2 3.7 1.1M159.7 56.5l2.7-3.2 2.1-.6M166.1 52.7l2.2-.5 3.2 1.6 1.1 1.1-3.8.5M174.2 54.9l3.8 0 4.3 0 2.7 2.1M175.3 56l1.6 2.1 3.2.5M.8 72.4l1.9.2 2.1 2.5 4.3.2 2.2-1.9 1.6 1.1 3.2 3.3 2.7 3.7 3.8 1.6 2.7 2.7.5 3.3-1.1 1 2.2 1.6 2.2-.5 2.1 3.2 1.6 2.7-.5 1.6 3.2 1.1 2.2 1.1 2.1 1.6 2.2 2.7.5 2.1M28 100.3l3.2 2.7 3.2 1.7 2.7 1.6.6 2.1M17.2 90.7l3.2-.3-1.6 1.9 2.7 4.3M17.2 90.7l0 2.7 2.2.5M16.1 72.1l2.7 1.1M37.7 108.4l1 3.2.6 2.2.5 3.2-1.1 3M37.7 113.3l3.7 0 1.1 1.6 5.4.2 1.1-1 7.2 0M42.5 105.5l37.5 0M56.2 105.5l0 8.6 1.4 1.3-2.2 3.2.6 1.4M57.8 105.7l.8 3.3 3.3 2.6 1 3.3 2.2 2.7 1.6.8 3.2 0 1.1-1.4 9 0M71 117l0 3M37.1 82.1l1.6 2.1 2.7 1.6 1.6-1.3 1.1 1.1M41.4 85.8l0 1.9M51.1 94.2l.5 1.6 3.3 1.6M54.9 100.1l-1.6 1.9 1 1-1 1.7 0 2.9M49 69.6l4.3-.2.5-.8 1.6 1.4 3.2 0 1.1-1.9-.5-2.7 1.6 1.3 2.7-.2 1.1 1 3.2 0 1.6-2.1 2.7-1.1 3.8 1.1M59.2 71.3l1.1-1.3 4.3.2 2.6-1.6 1.1-1.1M69.9 77.2l2.2-1.6 2.1-1.3 2.7 0 3.1 1M72.1 76.1l3.2.3 4.7-.5M112.3 61.3l2.7 1.1 4.3.3 2.1-1.4 6.5-.2M120.3 62.7l-.5 1.6-2.1 1.1-3.3 1.6-2.1 1.6-1.9 3 0 4.5-1.3.3M110.4 76.1l1.3 1.4 2.7 0 1.1 1.3 0 3.3-1.1.2M115.5 82.1l1.6-.6 3.2 0 1.1.8 3.3 0 1 1.1 1.6 1.6 3.3.3 2.1 2.1 8.1.3 0 5.7 1.1 2.1 2.7 1.6-.3 2.2 1.3-1.6 1.6 2.6 1.1-1.6 1.1-1-.5-1.7.5-1-.5-4.9-1.7-1-.5-.9 2.7 0 2.7-1.3 2.1-1.6.6-3.2-1.1-2.7-1.6-.8-2.2-1.4 1.7-1.6 0-2.2 2.1 0M151.6 73.4l0-1.8-2.2 0M151.6 71.6l0-3.5-1.1-.8 1.6-1.9 2.1.5 3.8.3 1.1 1.1.9-1.9M129.5 60l.5 2.2 2.2.5 1.6 1.6 1.6-1.6 2.7-1.1 6.5 0 1 .8-3.2.8-1.6-1M136.5 65.9l1.6-1.3 1.6.8 1.1-1.1.5 1.1-4.8 1.1M145.4 67.5l1-1 1.1 1-1.1 1.1-1-1.1M92.1 64.6l1.3-1.1 2.2 0 0 1.3-1.6.8-1.6-.2-.3-.8M89.1 84.2l1.1-2.7 1.1-1.9 2.1-1 .3 1.8-1.1 2.2-1.8 1.1-1.7.5M105.3 84.5l1.6 1.1 1.1-1.1M109.3 84.5l1.4-1.4M95.3 92.8l.8-2.1 1.7-.3 1 1.3 2.7 0 1.6-2.6 1.1-1.1 1.6.5M103.1 89.1l-.5 2.1 1.1 1.6 1 1.6.3 3.3 1.9 1-.3 1.6-1.9.6-.2-3.2M97.2 94.4l.6 2.7 2.1 1.6 1.1 2.2 1.6.5M98.3 93.4l3.2 1 2.2 1.1M99.9 92.3l1.6 2.7 1.6 2.7M80 105.5l29.3 0M111.7 106l3.3.8 2.7.8 2.1.3M119.8 107.9l3.2-1.1 2.7-.5 1.1-1.6-1.3-1.7M124.4 102.8l1.1-1.4 1.3 1.4-1.3 1-1.1-1M126.8 104.7l2.7 1 1.1 1.1 3.2 1.1 1.1 1.1.5 2.6-1.1 1.7M125.7 106.3l1.6 1.6 1.1 2.1 3.2.6 2.2 1M119.8 107.9l-.5 2.1 1.6 1.6 2.1 1.1 2.7.6 2.7 1 2.2-.5 3.2-.5 2.2.5 3.2-.5 5.4.5 1.6 1.6.5 2.2-2.1 1M122 111.1l3.7-.3 1.1-1.3M128.4 111.6l5.4-1.6M119.3 110l-2.2 1.6-.5 2.2-1.6 1.6-.6 1.6 1.1 1.6.5 1.4M127.3 116l1.1 1-1.1 3M130.6 114.9l-.6 5.1M137 116l1.6 1-.5 3M140.3 115.4l.5 4.6M143.5 114.9l2.1 2.1-1 1.6M87.3 105.5l0 14.5M80 116.9l7.3 0M87.3 114.3l18 0M104.5 105.5l.8 2.9.5 5.9 1.1 2.2 0 3.5M160.2 65.5l2.7 1.5 1.1 1.3 2.1.3 1.1 1.6 4.3 0 .3 3.8 1.3 1.3 1.6 2.5 1.1 1.3 1.1-.8 3.2-1.1 1.1-2.1 1.1-2.2 2.1-.3 1.1 2.5 2.2 2.1 1.6 2.2 1.6 1 .5 1.7-2.7.5 2.2 1.6 1.6 1.1 1.6 1.6 2.7.5 2.7.8 1.6 1.9 2.7 1.1 1.1 1.6-.6 1.6.6 2.7-1.1 1.1-2.2 0M200.6 90.1l0 2.7M201.6 98.2l-3.7.3-2.2 2.7-2.7.2-13.9 0-1.7 1.6M177.4 103l-2.1 1.7-2.7.5-.5 2.1-3.8 0M201.6 98.7l-1 2.2-1.1 2.1-1.1 2.2-1.6 1.6-.5 2.2 2.1.2 5.4 0 .5-.8 1.1 1.1 2.7-.5 1.6-1.7 1.6-.5-1-2.1-2.7-.9-3.3-.2-.5-1.1-1.1.5 1.1-2.1.5-2.2M209.7 110.6l1.6 1.6 1.1-1.6-1.1-2.2M179.1 103l3.2-.5 3.2 0 2.2 1.1 2.1 1.6M173.7 106.3l1.6-1.6 2.7-.6 4.3.3 1.6.8-.5 1.6-2.2.5-2.7.6M172.1 107.3l.5 2.7 2.7.3.5 4 1.6 1.7 3.8.2 1.6-1.3-.5-2.2 1.1-2.1-.6-2.2M188.7 110.6l2.2-1.4 1.1.3M184.4 116l3.3 1 3.2-.5 2.1-.5 1.7-2.2M178 120l2.1-2.4 4.3.5M182.3 119.7l3.2-1.1M172.1 107.3l-1.7 2.2-1.6 2.1-1.6 1.1M170.4 111.1l-1.6 3.8-1.6 2.1-7 .3M162.4 117.6l.5 2.4M165.6 118.1l.5 1.9M172.1 97.9l1.3-1.6 1.3 1.6-1.3 2.4-1.3-2.4M178 88.2l1.3 1.9 1.9.8.5 1.6 1.1-1.8 2.2.8 1.9-1.1M180.7 89.1l1.6-.9 1.6.3M162.9 60.5l3.2 2.7 2.2 2.2 3.2.5 4.3 1.1 3.3.5 3.2 1.6 1.6-2.6-1.6-1.1M182.3 61.1l1.1 3.2M39.5 117l0 1.9-1 .5 0 5.7M38.5 125.3l0 6.2 1 .8 0 2.2 1.4 1.1 1.6 1.6.5 1.3 1.4.8 0 3 1.1 1.6.8 1.1 1 2.1 1.7 1.1 2.6 0 1.7 1.6 2.1 1.1.3 2.7.8.5 0 2.4 1.3 1.7 1.4 2.4 1.6 1.6 2.1 1.6.6 2.2-1.1 1.3-2.1 0M62.4 167.3l.3 1.9 1.9 1.1 2.1 1.6 1.9 1.9M43.6 136.1l1.9.5.2 1.1M43 137.4l1.1 1.1M38.5 125.3l31.4 0M48.4 125.6l0 8.9 3.2 1.1 1.7 2.9 1 1.6 2.7 1.6 2.2 1.1 1.6 2.2M63.8 125.6l0 15.1M63.8 140.7l-3 4.3 1.6 1.3.3 1.9 1.1.3-1.4 1.3-.5 1.6-1.6 1.6M55.7 153.6l4.6-.6M56.5 117l-1.1 1.6 1.1 1.1 0 5.6M64.6 117.5l2.1.8 3.8 0M70.5 118.3l0 10 9.5 0M75.6 128.6l0 27.4M64 140.4l16 0M61.3 154.1l3.8 0 3.2 2.4 9.2 0 .5-1 2 0M61.3 155.5l.3 4.5 1.3 1.7 2.2 1.6M61.9 155.5l2.7 1 2.1 3 .3 2.2.8 2.1 2.1 2.2 2.7 1.3-1 1.1 2.6 1.9.6 2.7 2.1.8M65.1 163.3l1.6 2.1 0 2.2 1.6 2.7 1.6 2.7.6.8M87.5 117l0 11.3M80 128.3l12.4 0M87.5 122.4l11.9 0 2.1.8 3.8.3 1.1 1.6.5 2.1 1.1 2.2 1.3 2.1.8 2.2.3 7M92.4 128.3l0 12.1M92.4 131.5l16.1 0M80 140.4l30.4 0M110.4 140.4l.3 1.9M90.8 140.7l0 14.8-10.8 0M92.1 142.3l5.1 0 .6 5.4 1.6.5 2.1 1.1 2.7.8 1.6-.3 2.7-.5 1.9 0M110.4 142.3l.8 2.7.3 2.1-1.1 2.2 1.3 2.7 0 2.7 1.1 2.1-.5 2.7.5 1.6M110.7 142.3l11.3 0M111.7 152.2l7 0M99.4 120.2l.2 1.9M106.4 117l0 4-1.1.6 1.6.8M106.4 121.2l11.3 0M114.4 117l2.2 2.2 2.1 2.1 1.1 2.2 1.6 1.6-.2 1.6-1.9 1.9-1.6 1M108 129.6l9.7 0M117.7 129.6l1 2.5 2.2 3.2 2.1 3.8 1.7 1.6M120.9 124.5l6.4 0M127.3 117l-.5 2.2.5 3.2 0 2.1 0 11.3-1 1.1.5 3.2-.5 3.3M124.7 140.7l-2.7 2.1-1.1 3.3-1.1 2.6-1.1 2.7.6 3.3-1.6 2.4 3.2.2 1.6.6.5 2.1M112.8 161.1l2.7 1.6 2.2-1 1.6 1.6 2.7-.6M123 160l2.7-.5 1.6 1.1M80 155.7l2.7 1.6 2.7 1.7 1.6 3.2 1.6 1.3 1.6-.2 1.1-1.6 3.2 0 1.6 3.2 2.7 2.7 0 2.1 1.6 1.6 2.7 1.1 1.6 1.1M104.7 173.5l-1.6-3.8.6-2.1 2.7-2.7 2.7-1.1 1-2.1 2.7-.6M125.7 147.1l0 12.4M122 146.1l13.4 0M122 142.3l4.8 0M126.3 140.9l29 0M132.2 146.3l1.1 4.1 1 3.7-.5 3.2M127.3 157.3l6.5 0M133.8 157.3l2.7 1.1 4.8.6 1.1-1.1M127.3 157.3l1.1 1.7 2.7 1 2.2 2.2 1-1.6 2.7-.6M137 160l1.6 2.7 1.1 2.7 0 2.2 1.6 2.1 1.1 3.8M142.4 159l1.1 3.7 1.1 2.7.5 3.2.5 2.2 0 2.7M148.3 170.3l3.8 0 1.6 1-1.6 1.1M135.4 146.1l2.7-1.1 5.4 0 3.2 1.1 2.7 3.2 2.2-.6M138.1 146.3l1.6 3 1.6 1.6 1.1 2.7 1.1 1.1M143.5 154.7l-1.1 3.2M155.3 145l-2.1 2.1-1.6 1.6-2.2 1.1-2.7 2.2-3.2 2.7M127.3 135.8l2.2 1.6 2.1-1 2.2-1.1 1.1-.5M134.9 126.7l0 8.1M127.9 126.7l11.3 0M134.9 134.8l4.3.5 1.6 1.6 1.1 1.6 2.7.6 2.1-2.2 2.2-2.7 1-1.1M140.8 135.3l2.1-2.2 3.3-.5M144.6 126.1l0 6 12.9 0M144.6 126.1l13.4-.5M158 125.6l1.1 1.6-1.6 2.2 1 2.7M139.2 140.7l2.7 1.6-1.1 1.1-3.8.5-2.1 2.2M149.9 133.1l1.1 1.7 3.2 1.6 1.1 2.1M156.4 145.5l1.6 0M130.6 117l0 8.6M136 120.2l3.2.6 1.1 1.6-1.7 2.1.6 2.2M138.1 117l-1.1 2.2M142.4 117l-.5 1.6M162.4 117.5l0 6.5-1.1 1.6 0 2.2M162.4 118.1l5.4-.6.5 3.8.5 2.7 1.1 1.6 1.1 1.1-1.6 1.1-3.3 0-1.6 1.8-3.7 0-.6 3M168.3 121.3l3.2-1.3 4.3-1.7 2.2-1.3M164 119.2l2.1.5-1.6 1.6-.5 1.6M162.9 124l4.3 0 .6 1.6M179.3 118.6l1.4 2.7 1.6 0 1.1-2.1 3.2-1.1 4.3-.6M118.2 20.4l5.7-.1M122.6 21.1l2.8 0M132.4 26l2.4-.3M137.5 8l5.9 1.9M134.3 21.8l2.6-.9M124.3 8.4l2.7-.5M84.4 18.1l3.8.9M123.5 22.4l4 .4M118.6 13.7l6 2.1M149.2 24l3.3-.6M105.1 8.7l5.1-.4M149.7 16.3l5.9 1.4M154.8 18.3l5.9-.4M87.8 22.1l5.2-.8M89 15l5.8 1M91.4 12.9l2.4-.7M145.8 11.3l4.2-.2M97.3 24.6l2.5.2M91.3 17.1l2.9-.5M106.3 28.2l2.9-.2M150.4 22.4l2.4.8M99.1 13.2l5.1-.6M105.7 8.8l2.4.1M101.4 21.4l3.5-.1M158.7 18.6l4.3 1.1M96.6 10.7l5.7 1.3M102 11.6l4.9 1.5M152.6 21.5l3.7-1M101.1 23.9l3 .7M129.7 14l2.7.5M126.7 27.5l4.5-.7M117.7 8.5l2.7-.3M127.8 10.2l3.4.9M137.3 21l2.6-.8M83.7 22.3l3.9.6M88 20.1l5 1.4M141 23.9l5.1 1.5M110.1 23.4l5.7 1.5M115.4 26l5.4.3M132 16.2l4.3.3M88.4 22.3l6 1.6M140.3 16.3l4.9.3M117.2 27.1l2.4.4M84.4 21.4l3.9-.7M137.9 18.9l4.4 1.3M106.1 23.3l2.8-.7M154.5 22.8l3.7 1.1M108.2 23l2.8-.2M152.4 16.2l4.4-.5M92.9 18.9l5.3 1.3M138.9 29.8l3.1-.7M118.1 13.6l2.8-.2M132.1 18.9l3.2.7M160.6 17.9l2.3-.8M138.7 20.7l3.2.7M118.4 7.6l5.3-1M132.3 17.7l4.6.5M136.8 11.8l3.9-.9M82.9 18.3l4.8-1.1M103.8 15.3l4.8.1M131.2 25.1l3.5.8M156.6 24.3l2.5 0M132 28.8l3.6.2M152.3 26.1l5.8-.1M134.1 11.9l4.9 1.1M133.3 24.2l2.9.8M125 26l3.2.9M150.5 15.4l2.3-.1M126 25.4l4-1.3M146 11.1l3.3.7M86.9 31l5.4.7M111 26.9l5.8-1.7M70.4 27.5l3.2.5M93.8 27.4l5.4.2M75.5 24.9l5.3 1.5M69.7 33.3l5.8.1M90.1 21.6l4.1 0M91.9 18.5l5.9.1M80.4 32.4l4.3 0M96.7 19.2l4.2-.3M73.1 26.5l2.5-.1M84.7 23.7l2.8.2M68.9 22.1l4.7-.6M77.9 29.2l2.4.3M64.9 27.2l3-.6M87.7 25.9l3.5-.3M87.6 20.9l2.9.2M93.8 27.5l5.4.5M106 22.2l4.9 1.1M108.5 23.7l3.3 1M71.4 31.1l3-.9M104.6 25.6l5.2-1.4M134.2 33l2-.5M150.9 36.6l5.9-1.6M140.3 34.1l4.1.6M143.1 30.2l4.3-1M121.1 25.3l5.3 1.8M137.7 34.2l3.3 0M140.9 28.9l4.4-1.5M152.1 35.5l2.7-.1M154.4 28.5l2.7-.7M140.8 22.2l5.5 1.2M152.3 35.8l4.5-.3M146 30.1l5.9 1.2M125.5 36.6l5 .9M158.9 28.5l5.6 1.5M151.7 34.3l5-.4M153.4 23.1l3.3 0M148.3 32l3 .9M150 27.4l4.6.2M142 28.2l6 .6M152.1 34.2l5.9-2M146.9 33.8l3.1-.2M132.5 23.6l3 .8M143 30.1l5.9.3M145.9 34.1l2.1.7M119.6 29.5l2.7 0M171.3 36.5l5.8-.3M167.3 50.5l3.4-.5M173.4 49.6l3.2.5M149.5 54.6l3.6 1M162.6 47.4l5.9-1M167.1 59.4l4.9-.1M171 38l4.5-.1M167.3 38.2l3.8.5M163.9 41.8l4.3-.2M179.3 48.8l6 1.9M177.2 41.2l2.5.7M179.6 51.2l3.5-.5M174.9 49.7l4.3.4M178.2 39.9l3 1M155 46.1l4.5-1.3M168 36.9l2.3.3M168.4 51.4l3.5 0M152.1 43.9l5 1.2M180.8 51.2l5.1-1M162.4 41.7l5.2-.5M157.6 49.3l5 1.4M162.5 44.6l2.4.6M169.1 47.6l4.7-.7M152.2 52.2l2.4-.3M176.8 53l3.1-.7M159.2 53.9l3.4-1M176 49.8l5.7 1.7M185.8 46.4l5.3-.7M157.2 45.4l5.8 1.6M153.9 44.4l3.5-.3M161 45.1l2.8.1M180.3 49.1l5.3.2M150.5 54.7l5.5-.8M143.1 48.4l4.1.2M163.1 44.4l5.2-1.6M151.3 46.6l2.3-.7M156.6 48.4l2.4.2M140 45.9l4.6-.8M142.2 46.2l4.1.8M147 39.4l5.9.7M149.8 42.6l4.9.7M161.6 40.6l5.3.6M159.9 46.9l5.3 1.4M162.8 44.2l4.1.6M158.5 40.7l3.6-.9M146.5 36.7l2.8-.2M86.8 40.9l2.4.3M132.7 38.9l2.2-.1M120.4 50.5l2.1-.5M94.8 39.5l3 .4M121.1 39.6l2.7-.4M94 48.1l3.3.1M135.3 43.7l3 .8M141.5 41.5l4.2 1.3M113.9 39.5l2.2.7M134.3 42.2l4.1 0M125.1 39.8l2 0M106.8 48.7l4.8.4M93.1 38.5l3.3-.5M138.6 44.3l4.6 1.5M100.1 44.6l2.6.4M137.2 49.2l2.3-.4M128.9 37.6l3.9-.1M144.2 45.4l5.4-.8M133.5 42.7l5.7-1.7M135.9 39.3l4.2.1M93.1 49.3l3.2-.4M87.9 40.9l3.8.6M106 47l2.4-.2M112.6 51.5l5.3.5M128.4 39.8l4.3-.1M134.2 39.3l4.4-.6M107.1 44.6l3.2-.3M108.1 46.7l3-.7M129.8 41.3l5.8.2M129.3 41.3l5.3-1.5M12.4 79l1.9 2.6M12.8 81.4l2.5 2.6M10.2 77.9l1.7.6M22.1 87.4l3 2.3M23.9 92.9l1.7 3M20.5 87.7l2.4.6M19.8 89.6l2 3.3M29.4 97.5l1.3.9M17.8 87.5l1.5 1M23.4 93.4l2.4 2.6M10.8 82.1l2.7 2.6M18.7 87.3l1.1 1.5M41.5 107.6l1.6 2.9M11.6 84l2.8 1.2M9.8 77.7l1.8 2.4M16.4 88.1l1.9 1.6M8.9 81.7l.8 1.7M25.4 93.6l2.5 1.4M37.1 106.9l2.4 2.6M9.3 81.1l1 2M14.4 84l3.3 1.4M27.1 91.9l1.5.7M40.1 109.2l2.7 1.6M29.4 98.4l1.7 1.8M36.5 99.9l1.6 1.3M11.5 80.2l2.7 1.1M25.5 91.7l2.5 1.6M30.6 94.8l3 1.2M40.2 107.1l2.2 1.6M27.8 96.7l1.9 2.8M21.8 93.4l1.7 3.2M20.9 88.8l1.3 2.7M24.9 92.9l1.1 2.4M19 84.6l1.4 3M32 99.8l2.9 1.7M28.8 93.4l1.4 1.1M24.4 91.7l1 1.3M25.8 91.9l1.9 1.3M15.9 81.9l1.4 3.5M28.7 98.7l1.4 2.2M13.2 84l1.2 2.7M8.6 80.2l1.3 1.3M41.9 104.6l1.8 1M19.1 84.8l1.9 3.2M20.8 88.2l2.8.8M5.8 78.5l1.7 1.5M38 107.7l2.5 1.1M15.2 87l3.4 1.6M36.6 102.3l2.5 1M36 106l1.3 1.5M11.6 83.5l1.6.6M32.7 98.5l1.8 3.4M32.9 97.5l1.3 2.9M23.4 88.7l1.8 1M32.6 97.6l1.7.9M29 98.4l1.5 1.8M37.5 104.6l1.8 1.1M38.8 106.3l1.4 1.7M7.6 80.7l1.9 1.8M26.6 91.3l2.6 1.5M210.7 42.2l.5 1.6M215 54l.1 2.2M210 40.7l2.1 3.4M211.4 47.2l-.8 2.3M214.9 47.8l-.2 2.9M211.8 44.7l.2 3.5M210.9 48.3l.2 3.2M215.9 58.7l1.4 3.1M214.8 50.5l-.5 2.5M211.8 55l.2 2.1M212 41.3l1.4 2.4M211.9 50.4l-.8 2.8M214.4 40.1l.2 1.6M213.2 46.4l-.4 2.1M209.7 37.9l.1 3M215.1 54.9l.6 1.8M213.2 36.9l.2 3.1M212 42.4l-.4 1.7M213.8 40l-.2 1.9M211.9 56.1l.3 1.6M214.4 44.6l2 3.4M211.4 47.9l1.7 3.6M211.4 47l.6 1.6M215.9 57.2l.7 2.4M215.4 46l-.7 1.4M212.1 54.4l.7 2M214.6 49.1l-.9 2.5M213.7 44.7l-.1 3.9M212.7 36.9l1.5 2.7M211.5 44.3l0 3.7M195 113.2l1.5 1.9M189.1 111.5l1.9.8M187.7 109.3l1.9.5M188.2 109.1l2 1.1M195.5 114.7l3.5.9M190.9 108.5l3 1.2M190 107.6l1.8.6M188.8 112.2l3.2 1M190.5 108.7l3.5 1.5M193.1 113.6l3.7.2"/>
<path class="cl" stroke-width="1.6" d="M55.4 42.8l14.5.5M56 25.3l3.2-2.2M62.4 29.6l3.2.8M37.7 54.9l5.3.2M142.4 6.2l17.6 0M124.7 11.6l16.1 0M141.9 12.6l12.9-.5M108 13.4l4.3-1M124.1 13.4l17.2.6 5.4 1.6M85.9 18.3l2.2 1.1M97.2 14.5l3.2.8M105.8 22.1l8.6 0M113.4 16.4l6.9.5M128.4 16.1l5.4-.5 8.6 2.7M127.3 19.4l13 1M151.6 18.3l8.4-1.1M83.2 21.8l2.7 1.3M87 24.7l3.8 2.2 3.2-1.1M96.1 28.5l6.5.8M105.3 29.6l8.6 1.1M117.7 25.3l6.4 1.1M85.9 40.3l2.2 1.7M121.4 39.5l4.3 1.9 4.3 1.1M143.5 36.6l8.6.5M144.6 35l6.4.5M155.3 37.1l4.7 2.7M138.1 43.8l9.1.6M130.6 54.9l7.5 2.1M89.1 45.2l6-1.6M123 57l6.5 1.6M164.5 5.6l5.9.3M173.1 7l4.9.3M175.8 12.9l4.3 1.6M165.1 14.8l3.2-.8M168.8 24.2l5.4.3M201.6 31.7l3.8.6M214.6 47.3l2.1-1M213.5 50.6l3.2 0M176.9 49.5l8.1 2.1M160.2 49l2.7 1M180.1 55.4l4.3 2.2M165.6 58.6l3.8.6M23.1 86.9l.6 5.4M76.9 109.2l3.1 0M54.9 70l3.7.1M112.8 61.6l2.2.8M113.4 67l2.1-.3M141.3 93.9l3.3.3M137 66.2l2.2-.3M80 75.5l3 0M88.1 91.2l1 1.3M80 108.7l1.6-.3 1.1 1.4M89.4 108.2l1.1-.9 1.1 1.7 2.9.2M95.3 112.2l1.4 1.1-.6 2.7-.8 2.1M153.2 110.6l1.3-1.4 1.4 1.4-2.7 0M151 119.7l4.3-1.6 4.7-.8M167.2 73.4l4.3 0M169.4 76.1l2.1 0M171 79.4l2.7-.3M185 74.5l2.7 3.3M160.2 102.5l.3-2.7 1.3-1.3 2.2-.3-1.6 1.6-1.6 2.7M181.2 90.1l1.1 2.2M164.5 62.2l3.8 3.2M179.6 68.1l3.8.5M174.2 72.6l1.6-1.3M45.5 143.4l.8 1.6M66.7 126.1l0 2.5 1.1 1 1.1-1.3M69.9 139.9l2.7-2.7M95.1 118.3l1-1.3M161.8 126.7l2.7-.6 2.2.6"/>
<path class="cl" stroke-width="2" d="M117.7 10.5l8 0M131.6 33.4l5.4 2.1-3.2 2.2 1.1 3.2M103.1 49.5l4.9 3.2M172.1 10.8l12.3.5M164.5 21.5l14.6 1.6M210.8 38.7l5.4 2.2M210.3 49.5l6.4-1.1M210.8 51.6l1.6 5.4M210.8 53.8l3.8 5.4M160.2 40.1l5.9 1.3M5.4 76.1l4.3 2.2 2.1 3.2 4.3 3.8 2.2 2.1M10.8 74.5l4.3 4.3 3.2 3.8M26.9 92.3l3.2 4.3 2.2 3.2 5.4 3.2 3.2 2.7M41.4 109.8l2.2 0M69.4 65.9l4.8-1.1M69.9 76.9l1.7-.2M146.7 84.2l2.7-.5M149.4 76.9l1.1 0M149.9 60.5l4.3 0M149.4 63.8l3.2-1.1 1.6-1.1M133.3 111.6l3.7 2.2M136 114.3l3.2 1.1M116.6 111.6l1.1.6M192.5 91.7l3.2-1 4.3-1.1M204.3 111.1l2.7-.5 2.7-2.2 1.6-2.1M186.6 103l3.2 1.9M179.1 107.6l3.2-.3M168.3 107.9l3.2.5M167.2 111.6l1.1.6M160.2 60.8l2.2-.3M172.6 62.7l5.4 1.6M62.4 141.2l1.1 2.2M61.3 152.5l1.1.5M64.6 162.7l1 1.6M123.6 140.1l2.1.6M120.3 159.5l2.7.5M122.5 162.7l1.1.3M109.1 161.7l1.6.5M143.5 169.7l2.7.6M152.1 133.7l4.8 0M138.6 125.1l4.3 1M139.7 120.2l1.1 2.2M162.4 127.8l2.7-1.1M187.7 117.5l3.2 0"/>
<path class="cl" stroke-width="2.6" d="M171.5 43.6l5.4 2.1M96.1 92.3l2.2 1.1M109.3 103.6l2.4 2.1M183.9 111.6l3.8 2.2 3.2 1.6M192.5 112.2l1.1 2.1M213.5 60.5l3.2 2.7M154.2 134.8l2.2 3.7M154.8 138.5l1.6 7M142.9 125.1l3.8-2.7 8.1-2.2 5.2-2.1M160 120.2l2.4-1"/>
<rect class="fr" x="0" y="0" width="219" height="175"/>
<path class="tk" d="M-5.5 160.3H-1M-5.5 131.3H-1M-5.5 102.2H-1M-5.5 73.2H-1M-5.5 44.1H-1M-5.5 15.1H-1M0.3 176V181.2M48.9 176V181.2M97.4 176V181.2M146 176V181.2M194.5 176V181.2"/>
</g>
<text class="s" x="964.2" y="1882.2" font-size="16.72" fill="#000" textLength="27.8" lengthAdjust="spacingAndGlyphs">30N</text>
<text class="s" x="964.2" y="1852.9" font-size="16.72" fill="#000" textLength="27.8" lengthAdjust="spacingAndGlyphs">40N</text>
<text class="s" x="964.2" y="1823.7" font-size="16.72" fill="#000" textLength="27.8" lengthAdjust="spacingAndGlyphs">50N</text>
<text class="s" x="964.2" y="1794.4" font-size="16.72" fill="#000" textLength="27.8" lengthAdjust="spacingAndGlyphs">60N</text>
<text class="s" x="964.2" y="1765.2" font-size="16.72" fill="#000" textLength="27.8" lengthAdjust="spacingAndGlyphs">70N</text>
<text class="s" x="964.2" y="1735.9" font-size="16.72" fill="#000" textLength="27.8" lengthAdjust="spacingAndGlyphs">80N</text>
<text class="s" x="983.8" y="1909.7" font-size="16.28" fill="#000" textLength="36.6" lengthAdjust="spacingAndGlyphs">140W</text>
<text class="s" x="1032.3" y="1909.7" font-size="16.28" fill="#000" textLength="36.6" lengthAdjust="spacingAndGlyphs">120W</text>
<text class="s" x="1080.9" y="1909.7" font-size="16.28" fill="#000" textLength="36.6" lengthAdjust="spacingAndGlyphs">100W</text>
<text class="s" x="1133.5" y="1909.7" font-size="16.28" fill="#000" textLength="28.4" lengthAdjust="spacingAndGlyphs">80W</text>
<text class="s" x="1182.1" y="1909.7" font-size="16.28" fill="#000" textLength="28.4" lengthAdjust="spacingAndGlyphs">60W</text>
<g>
<g class="c">
<rect x="722.5" y="304.5" width="17.5" height="39.7" fill="#e11400"/>
<rect x="722.5" y="344.2" width="17.5" height="39.1" fill="#ff6000"/>
<rect x="722.5" y="383.3" width="17.5" height="40.1" fill="#ffa000"/>
<rect x="722.5" y="423.4" width="17.5" height="39.1" fill="#ffc03c"/>
<rect x="722.5" y="462.5" width="17.5" height="39.6" fill="#fffaaa"/>
</g>
<path d="M722.5 305.1V304.5L731.2 265L740 304.5V305.1Z" fill="#a50000"/>
<path class="cb" d="M722.5 304.5L731.2 265L740 304.5" stroke-width="0.8"/>
<path class="cb" d="M722.5 502.1L731.2 541.4" stroke-width="0.8"/>
<path class="cb c" d="M722.5 304.5V502.1M722.5 344.2H740M722.5 383.3H740M722.5 423.4H740M722.5 462.5H740M722.5 502.1H740"/>
</g>
<text class="s" x="743.3" y="310.1" font-size="15.12" fill="#000" textLength="9" lengthAdjust="spacing">4</text>
<text class="s" x="743.3" y="349.8" font-size="15.12" fill="#000" textLength="9" lengthAdjust="spacing">3</text>
<text class="s" x="743.3" y="388.9" font-size="15.12" fill="#000" textLength="9" lengthAdjust="spacing">2</text>
<text class="s" x="743.3" y="429" font-size="15.12" fill="#000" textLength="23.5" lengthAdjust="spacing">1.5</text>
<text class="s" x="743.3" y="468.1" font-size="15.12" fill="#000" textLength="9" lengthAdjust="spacing">1</text>
<text class="s" x="743.3" y="507.7" font-size="15.12" fill="#000" textLength="23.5" lengthAdjust="spacing">0.5</text>
<g>
<g class="c">
<rect x="722.5" y="686.8" width="17.5" height="39.7" fill="#fffaaa"/>
<rect x="722.5" y="726.5" width="17.5" height="39" fill="#ffa000"/>
<rect x="722.5" y="765.5" width="17.5" height="39.9" fill="#ff6000"/>
<rect x="722.5" y="805.4" width="17.5" height="39.2" fill="#e11400"/>
</g>
<path d="M722.5 844V844.6L731.2 883.9L740 844.6V844Z" fill="#a50000"/>
<path class="cb" d="M722.5 844.6L731.2 883.9L740 844.6" stroke-width="0.8"/>
<path class="cb" d="M722.5 686.8L731.2 646.8" stroke-width="0.8"/>
<path class="cb c" d="M722.5 686.8V844.6M722.5 726.5H740M722.5 765.5H740M722.5 805.4H740M722.5 844.6H740"/>
</g>
<text class="s" x="743.3" y="692.4" font-size="15.12" fill="#000" textLength="36.6" lengthAdjust="spacing">1000</text>
<text class="s" x="743.3" y="732.1" font-size="15.12" fill="#000" textLength="27.4" lengthAdjust="spacing">995</text>
<text class="s" x="743.3" y="771.1" font-size="15.12" fill="#000" textLength="27.4" lengthAdjust="spacing">990</text>
<text class="s" x="743.3" y="811" font-size="15.12" fill="#000" textLength="27.4" lengthAdjust="spacing">985</text>
<text class="s" x="743.3" y="850.2" font-size="15.12" fill="#000" textLength="27.4" lengthAdjust="spacing">980</text>
<g>
<g class="c">
<rect x="722.5" y="929.9" width="17.5" height="39.6" fill="#e11400"/>
<rect x="722.5" y="969.5" width="17.5" height="38.9" fill="#ff6000"/>
<rect x="722.5" y="1008.4" width="17.5" height="39" fill="#ffa000"/>
<rect x="722.5" y="1047.4" width="17.5" height="40" fill="#ffc03c"/>
<rect x="722.5" y="1087.4" width="17.5" height="39" fill="#fffaaa"/>
</g>
<path d="M722.5 930.5V929.9L731.2 890.1L740 929.9V930.5Z" fill="#a50000"/>
<path class="cb" d="M722.5 929.9L731.2 890.1L740 929.9" stroke-width="0.8"/>
<path class="cb" d="M722.5 1126.4L731.2 1165.5" stroke-width="0.8"/>
<path class="cb c" d="M722.5 929.9V1126.4M722.5 969.5H740M722.5 1008.4H740M722.5 1047.4H740M722.5 1087.4H740M722.5 1126.4H740"/>
</g>
<text class="s" x="743.3" y="935.5" font-size="15.12" fill="#000" textLength="9" lengthAdjust="spacing">5</text>
<text class="s" x="743.3" y="975.1" font-size="15.12" fill="#000" textLength="9" lengthAdjust="spacing">4</text>
<text class="s" x="743.3" y="1014" font-size="15.12" fill="#000" textLength="9" lengthAdjust="spacing">3</text>
<text class="s" x="743.3" y="1053" font-size="15.12" fill="#000" textLength="9" lengthAdjust="spacing">2</text>
<text class="s" x="743.3" y="1093" font-size="15.12" fill="#000" textLength="9" lengthAdjust="spacing">1</text>
<text class="s" x="743.3" y="1132" font-size="15.12" fill="#000" textLength="9" lengthAdjust="spacing">0</text>
<g>
<g class="c">
<rect x="734.5" y="1214.7" width="17.6" height="39.5" fill="#ffa000"/>
<rect x="734.5" y="1254.2" width="17.6" height="39.1" fill="#ffe878"/>
<rect x="734.5" y="1333.4" width="17.6" height="39.1" fill="#b4f0fa"/>
<rect x="734.5" y="1372.5" width="17.6" height="38.7" fill="#50a5f5"/>
</g>
<path d="M734.5 1215.3V1214.7L743.3 1175L752.1 1214.7V1215.3Z" fill="#ff3200"/>
<path class="cb" d="M734.5 1214.7L743.3 1175L752.1 1214.7" stroke-width="0.8"/>
<path d="M734.5 1410.6V1411.2L743.3 1451.7L752.1 1411.2V1410.6Z" fill="#1464d2"/>
<path class="cb" d="M734.5 1411.2L743.3 1451.7L752.1 1411.2" stroke-width="0.8"/>
<path class="cb c" d="M734.5 1214.7V1411.2M734.5 1254.2H752.1M734.5 1293.3H752.1M734.5 1333.4H752.1M734.5 1372.5H752.1M734.5 1411.2H752.1"/>
</g>
<text class="s" x="755.4" y="1220.3" font-size="15.12" fill="#000" textLength="23.5" lengthAdjust="spacing">0.3</text>
<text class="s" x="755.4" y="1259.8" font-size="15.12" fill="#000" textLength="23.5" lengthAdjust="spacing">0.2</text>
<text class="s" x="755.4" y="1298.9" font-size="15.12" fill="#000" textLength="23.5" lengthAdjust="spacing">0.1</text>
<text class="s" y="1339" font-size="15.12" fill="#000"><tspan x="754.1" dy="-0.8" textLength="13.1" lengthAdjust="spacingAndGlyphs">-</tspan><tspan x="766.7" dy="0.8" textLength="23.5">0.1</tspan></text>
<text class="s" y="1378.1" font-size="15.12" fill="#000"><tspan x="754.1" dy="-0.8" textLength="13.1" lengthAdjust="spacingAndGlyphs">-</tspan><tspan x="766.7" dy="0.8" textLength="23.5">0.2</tspan></text>
<text class="s" y="1416.8" font-size="15.12" fill="#000"><tspan x="754.1" dy="-0.8" textLength="13.1" lengthAdjust="spacingAndGlyphs">-</tspan><tspan x="766.7" dy="0.8" textLength="23.5">0.3</tspan></text>
<g>
<g class="c">
<rect x="699.4" y="1442.8" width="17.6" height="38.7" fill="#ff3200"/>
<rect x="699.4" y="1481.5" width="17.6" height="38.3" fill="#ffa000"/>
<rect x="699.4" y="1519.8" width="17.6" height="38.5" fill="#ffe878"/>
<rect x="699.4" y="1558.3" width="17.6" height="38.6" fill="#b4f0fa"/>
<rect x="699.4" y="1596.9" width="17.6" height="38.3" fill="#78b9fa"/>
<rect x="699.4" y="1635.2" width="17.6" height="38.7" fill="#3c96f5"/>
</g>
<path d="M699.4 1443.4V1442.8L708.2 1404.2L717 1442.8V1443.4Z" fill="#a50000"/>
<path class="cb" d="M699.4 1442.8L708.2 1404.2L717 1442.8" stroke-width="0.8"/>
<path d="M699.4 1673.3V1673.9L708.2 1712.6L717 1673.9V1673.3Z" fill="#1464d2"/>
<path class="cb" d="M699.4 1673.9L708.2 1712.6L717 1673.9" stroke-width="0.8"/>
<path class="cb c" d="M699.4 1442.8V1673.9M699.4 1481.5H717M699.4 1558.3H717M699.4 1635.2H717"/>
</g>
<text class="s" x="720.3" y="1448.4" font-size="15.12" fill="#000" textLength="9" lengthAdjust="spacing">6</text>
<text class="s" x="720.3" y="1487.1" font-size="15.12" fill="#000" textLength="9" lengthAdjust="spacing">4</text>
<text class="s" x="720.3" y="1525.4" font-size="15.12" fill="#000" textLength="9" lengthAdjust="spacing">2</text>
<text class="s" x="720.3" y="1563.9" font-size="15.12" fill="#000" textLength="9" lengthAdjust="spacing">0</text>
<text class="s" y="1602.5" font-size="15.12" fill="#000"><tspan x="719" dy="-0.8" textLength="13.1" lengthAdjust="spacingAndGlyphs">-</tspan><tspan x="731.6" dy="0.8">2</tspan></text>
<text class="s" y="1640.8" font-size="15.12" fill="#000"><tspan x="719" dy="-0.8" textLength="13.1" lengthAdjust="spacingAndGlyphs">-</tspan><tspan x="731.6" dy="0.8">4</tspan></text>
<text class="s" y="1679.5" font-size="15.12" fill="#000"><tspan x="719" dy="-0.8" textLength="13.1" lengthAdjust="spacingAndGlyphs">-</tspan><tspan x="731.6" dy="0.8">6</tspan></text>
<g>
<g class="c">
<rect x="734.4" y="1726.6" width="17.7" height="38.2" fill="#ffa000"/>
<rect x="734.4" y="1764.8" width="17.7" height="38.5" fill="#ffe878"/>
<rect x="734.4" y="1803.3" width="17.7" height="38.4" fill="#b4f0fa"/>
<rect x="734.4" y="1841.7" width="17.7" height="38.5" fill="#50a5f5"/>
</g>
<path d="M734.4 1727.2V1726.6L743.2 1687.1L752.1 1726.6V1727.2Z" fill="#ff3200"/>
<path class="cb" d="M734.4 1726.6L743.2 1687.1L752.1 1726.6" stroke-width="0.8"/>
<path d="M734.4 1879.6V1880.2L743.2 1918.6L752.1 1880.2V1879.6Z" fill="#1464d2"/>
<path class="cb" d="M734.4 1880.2L743.2 1918.6L752.1 1880.2" stroke-width="0.8"/>
<path class="cb c" d="M734.4 1726.6V1880.2M734.4 1803.3H752.1M734.4 1880.2H752.1"/>
</g>
<text class="s" x="755.4" y="1732.2" font-size="15.12" fill="#000" textLength="23.5" lengthAdjust="spacing">0.4</text>
<text class="s" x="755.4" y="1770.4" font-size="15.12" fill="#000" textLength="23.5" lengthAdjust="spacing">0.2</text>
<text class="s" x="755.4" y="1808.9" font-size="15.12" fill="#000" textLength="9" lengthAdjust="spacing">0</text>
<text class="s" y="1847.3" font-size="15.12" fill="#000"><tspan x="754.1" dy="-0.8" textLength="13.1" lengthAdjust="spacingAndGlyphs">-</tspan><tspan x="766.7" dy="0.8" textLength="23.5">0.2</tspan></text>
<text class="s" y="1885.8" font-size="15.12" fill="#000"><tspan x="754.1" dy="-0.8" textLength="13.1" lengthAdjust="spacingAndGlyphs">-</tspan><tspan x="766.7" dy="0.8" textLength="23.5">0.4</tspan></text>
</svg>
</body>
</html>
